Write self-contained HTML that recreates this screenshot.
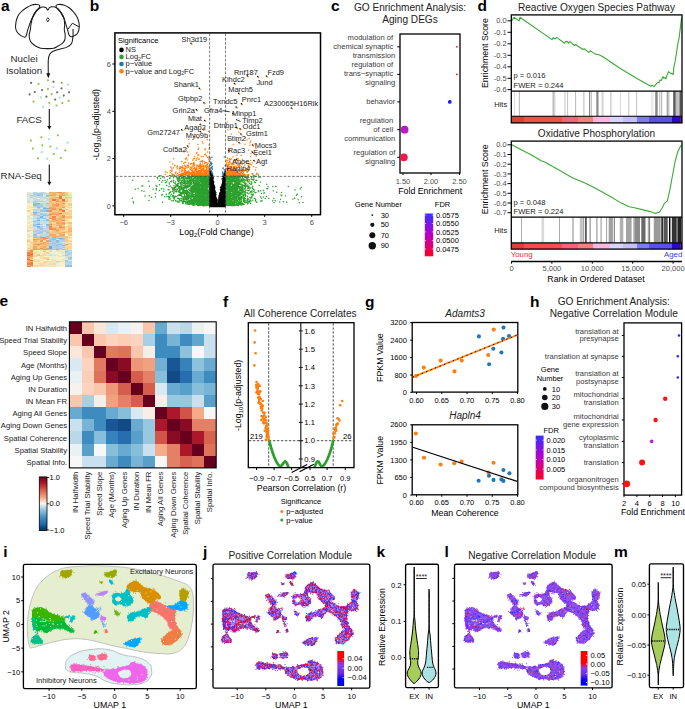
<!DOCTYPE html>
<html><head><meta charset="utf-8"><title>Figure</title>
<style>
html,body{margin:0;padding:0;background:#fff;width:685px;height:709px;overflow:hidden}
svg{display:block;font-family:"Liberation Sans", sans-serif}
</style></head><body>
<svg width="685" height="709" viewBox="0 0 685 709" font-family="Liberation Sans, sans-serif">
<rect width="685" height="709" fill="#fff"/>
<text x="1" y="10.8" font-size="15.5" fill="#000" font-weight="bold">a</text>
<path d="M39 4.9 C38.3 4.5 37.72 4.4 36.3 4.4 C34.88 4.4 33.88 4.24 31.9 4.9 C29.92 5.56 28.6 6.28 26.4 7.7 C24.2 9.12 22.64 10.26 20.9 12 C19.16 13.74 18.68 14.42 17.7 16.4 C16.72 18.38 16.4 19.48 16 21.9 C15.6 24.32 15.36 26.32 15.7 28.5 C16.04 30.68 16.66 31.38 17.7 32.8 C18.74 34.22 19.48 34.72 20.9 35.6 C22.32 36.48 23.7 37.32 24.8 37.2 C25.9 37.08 25.86 36.3 26.4 35 C26.94 33.7 26.84 32.88 27.5 30.7 C28.16 28.52 28.82 26.52 29.7 24.1 C30.58 21.68 30.8 20.8 31.9 18.6 C33 16.4 33.86 15.06 35.2 13.1 C36.54 11.14 37.68 10.14 38.6 8.8 C39.52 7.46 39.72 7.18 39.8 6.4 C39.88 5.62 39.7 5.3 39 4.9Z" stroke="#1a1a1a" stroke-width="1.05" fill="none"/>
<path d="M42.8 7.1 C44.1 7 45.1 7.08 46.1 7.7 C47.1 8.32 47.14 10.2 47.8 10.2 C48.46 10.2 48.52 8.38 49.4 7.7 C50.28 7.02 51.1 6.92 52.2 6.8 C53.3 6.68 53.7 6.6 54.9 7.1 C56.1 7.6 56.88 8.1 58.2 9.3 C59.52 10.5 60.4 11.46 61.5 13.1 C62.6 14.74 63.06 15.3 63.7 17.5 C64.34 19.7 64.58 21.68 64.7 24.1 C64.82 26.52 64.2 27.42 64.3 29.6 C64.4 31.78 65.12 32.92 65.2 35 C65.28 37.08 65.22 38.36 64.7 40 C64.18 41.64 63.9 42 62.6 43.2 C61.3 44.4 59.96 45 58.2 46 C56.44 47 56 47.68 53.8 48.2 C51.6 48.72 49.82 48.6 47.2 48.6 C44.58 48.6 42.88 48.62 40.7 48.2 C38.52 47.78 38.06 47.5 36.3 46.5 C34.54 45.5 33.22 44.62 31.9 43.2 C30.58 41.78 30.24 41.04 29.7 39.4 C29.16 37.76 29.08 36.96 29.2 35 C29.32 33.04 29.86 32.22 30.3 29.6 C30.74 26.98 30.76 24.76 31.4 21.9 C32.04 19.04 32.52 17.5 33.5 15.3 C34.48 13.1 35.08 12.32 36.3 10.9 C37.52 9.48 38.3 8.96 39.6 8.2 C40.9 7.44 41.5 7.2 42.8 7.1Z" stroke="#1a1a1a" stroke-width="1.05" fill="none"/>
<path d="M56 5.5 C56.32 4.74 57.16 4.52 58.7 4.4 C60.24 4.28 61.62 4.24 63.7 4.9 C65.78 5.56 67.14 6.28 69.1 7.7 C71.06 9.12 71.96 10.26 73.5 12 C75.04 13.74 75.74 14.42 76.8 16.4 C77.86 18.38 78.32 19.7 78.8 21.9 C79.28 24.1 79.38 25.22 79.2 27.4 C79.02 29.58 78.82 31.16 77.9 32.8 C76.98 34.44 75.92 34.82 74.6 35.6 C73.28 36.38 72.4 36.82 71.3 36.7 C70.2 36.58 69.86 36.42 69.1 35 C68.34 33.58 68.16 31.78 67.5 29.6 C66.84 27.42 66.56 26.52 65.8 24.1 C65.04 21.68 64.78 19.92 63.7 17.5 C62.62 15.08 61.72 13.86 60.4 12 C59.08 10.14 57.98 9.5 57.1 8.2 C56.22 6.9 55.68 6.26 56 5.5Z" stroke="#1a1a1a" stroke-width="1.05" fill="none"/>
<path d="M37.8 8.6 C37.27 9.33 35.5 11.43 34.6 13 C33.7 14.57 33 16.42 32.4 18 C31.8 19.58 31.23 21.75 31 22.5" stroke="#1a1a1a" stroke-width="0.7" fill="none"/>
<path d="M57.8 8 C58.3 8.77 59.97 11.1 60.8 12.6 C61.63 14.1 62.47 16.27 62.8 17" stroke="#1a1a1a" stroke-width="0.7" fill="none"/>
<path d="M67.9 29.3 L72.4 23.2 L79 26.9" stroke="#1a1a1a" stroke-width="1" fill="none"/>
<path d="M47.8 17.6 L49.2 19.7 L47.8 21.9 L46.4 19.7Z" stroke="#1a1a1a" stroke-width="0.9" fill="none"/>
<path d="M73 29 C73 30.18 73.23 33.7 73 36.1 C72.77 38.5 72.62 41.57 71.6 43.4 C70.58 45.23 68.95 46.12 66.9 47.1 C64.85 48.08 61.67 48.57 59.3 49.3 C56.93 50.03 54.32 50.63 52.7 51.5 C51.08 52.37 50.33 53.08 49.6 54.5 C48.87 55.92 48.52 56.67 48.3 60 C48.08 63.33 48.3 72.08 48.3 74.5" stroke="#1a1a1a" stroke-width="1.05" fill="none"/>
<path d="M46.3 73.2 L48.3 78.2 L50.3 73.2 Z" stroke="#111" stroke-width="0" fill="#111"/>
<text x="10.5" y="61.9" font-size="9.75" fill="#2a2a2a">Nuclei</text>
<text x="5.9" y="73.9" font-size="9.75" fill="#2a2a2a">Isolation</text>
<circle cx="31.14" cy="82.88" r="1.1" fill="#6b6b6b"/>
<circle cx="53.48" cy="81.83" r="1.1" fill="#6b6b6b"/>
<circle cx="61.5" cy="88.4" r="1.1" fill="#6b6b6b"/>
<circle cx="42.05" cy="90.11" r="1.1" fill="#6b6b6b"/>
<circle cx="34.82" cy="92.08" r="1.1" fill="#6b6b6b"/>
<circle cx="29.57" cy="94.44" r="1.1" fill="#6b6b6b"/>
<circle cx="57.16" cy="92.34" r="1.1" fill="#6b6b6b"/>
<circle cx="46.39" cy="96.68" r="1.1" fill="#6b6b6b"/>
<circle cx="63.73" cy="95.62" r="1.1" fill="#6b6b6b"/>
<circle cx="68.99" cy="92.34" r="1.1" fill="#6b6b6b"/>
<circle cx="55.19" cy="99.57" r="1.1" fill="#6b6b6b"/>
<circle cx="38.5" cy="83.8" r="1.1" fill="#8cc63f"/>
<circle cx="47.96" cy="80.25" r="1.1" fill="#8cc63f"/>
<circle cx="61.76" cy="82.88" r="1.1" fill="#8cc63f"/>
<circle cx="47.96" cy="89.05" r="1.1" fill="#8cc63f"/>
<circle cx="51.64" cy="94.05" r="1.1" fill="#8cc63f"/>
<circle cx="33.51" cy="101.54" r="1.1" fill="#8cc63f"/>
<circle cx="49.28" cy="102.85" r="1.1" fill="#8cc63f"/>
<circle cx="56.5" cy="105.48" r="1.1" fill="#8cc63f"/>
<circle cx="62.42" cy="103.11" r="1.1" fill="#8cc63f"/>
<circle cx="68.59" cy="100.88" r="1.1" fill="#8cc63f"/>
<circle cx="68.07" cy="84.72" r="1.1" fill="#9adfe8"/>
<circle cx="53.48" cy="87.08" r="1.1" fill="#9adfe8"/>
<circle cx="40.74" cy="97.33" r="1.1" fill="#9adfe8"/>
<circle cx="59.79" cy="97.6" r="1.1" fill="#9adfe8"/>
<circle cx="43.1" cy="106.79" r="1.1" fill="#9adfe8"/>
<circle cx="30.88" cy="140.57" r="1.1" fill="#8cc63f"/>
<circle cx="41.39" cy="137.28" r="1.1" fill="#8cc63f"/>
<circle cx="57.82" cy="135.31" r="1.1" fill="#8cc63f"/>
<circle cx="42.31" cy="145.3" r="1.1" fill="#8cc63f"/>
<circle cx="50.33" cy="146.48" r="1.1" fill="#8cc63f"/>
<circle cx="32.85" cy="148.58" r="1.1" fill="#8cc63f"/>
<circle cx="65.31" cy="150.42" r="1.1" fill="#8cc63f"/>
<circle cx="53.88" cy="154.1" r="1.1" fill="#8cc63f"/>
<circle cx="38.11" cy="158.3" r="1.1" fill="#8cc63f"/>
<circle cx="60.84" cy="157.78" r="1.1" fill="#8cc63f"/>
<circle cx="49.01" cy="139.25" r="1.1" fill="#9adfe8"/>
<circle cx="67.67" cy="142.67" r="1.1" fill="#9adfe8"/>
<circle cx="56.77" cy="148.45" r="1.1" fill="#9adfe8"/>
<circle cx="41.79" cy="152.13" r="1.1" fill="#9adfe8"/>
<circle cx="47.31" cy="158.7" r="1.1" fill="#9adfe8"/>
<line x1="49.3" y1="109" x2="49.3" y2="127.5" stroke="#111" stroke-width="1.1"/>
<path d="M47.3 126 L49.3 129.7 L51.3 126 Z" stroke="#111" stroke-width="0" fill="#111"/>
<line x1="49.3" y1="164.5" x2="49.3" y2="183.3" stroke="#111" stroke-width="1.1"/>
<path d="M47.3 181.8 L49.3 185.5 L51.3 181.8 Z" stroke="#111" stroke-width="0" fill="#111"/>
<text x="16.4" y="122.7" font-size="9.75" fill="#2a2a2a">FACS</text>
<text x="0.6" y="178.5" font-size="9.75" fill="#2a2a2a">RNA-Seq</text>
<g shape-rendering="crispEdges"><rect x="27.0" y="192.2" width="3.3" height="1.3" fill="#e1e8d5"/><rect x="30.2" y="192.2" width="3.3" height="1.3" fill="#fcf3c6"/><rect x="33.3" y="192.2" width="3.3" height="1.3" fill="#b2d3ea"/><rect x="36.5" y="192.2" width="3.3" height="1.3" fill="#e2e8d4"/><rect x="39.7" y="192.2" width="3.3" height="1.3" fill="#c2dbe3"/><rect x="42.9" y="192.2" width="3.3" height="1.3" fill="#c2dbe3"/><rect x="46.0" y="192.2" width="3.3" height="1.3" fill="#f8f2ca"/><rect x="49.2" y="192.2" width="3.3" height="1.3" fill="#f6b06b"/><rect x="52.4" y="192.2" width="3.3" height="1.3" fill="#f7b670"/><rect x="55.5" y="192.2" width="3.3" height="1.3" fill="#f29f5d"/><rect x="58.7" y="192.2" width="3.3" height="1.3" fill="#f09354"/><rect x="61.9" y="192.2" width="3.3" height="1.3" fill="#f7b570"/><rect x="65.1" y="192.2" width="3.3" height="1.3" fill="#f9ce8f"/><rect x="68.2" y="192.2" width="3.3" height="1.3" fill="#fbebba"/><rect x="27.0" y="193.4" width="3.3" height="1.3" fill="#d6e3da"/><rect x="30.2" y="193.4" width="3.3" height="1.3" fill="#d4e2db"/><rect x="33.3" y="193.4" width="3.3" height="1.3" fill="#a8cde6"/><rect x="36.5" y="193.4" width="3.3" height="1.3" fill="#a3cae5"/><rect x="39.7" y="193.4" width="3.3" height="1.3" fill="#a1c8e4"/><rect x="42.9" y="193.4" width="3.3" height="1.3" fill="#c3dbe3"/><rect x="46.0" y="193.4" width="3.3" height="1.3" fill="#c5dce2"/><rect x="49.2" y="193.4" width="3.3" height="1.3" fill="#f8bd77"/><rect x="52.4" y="193.4" width="3.3" height="1.3" fill="#f6b26d"/><rect x="55.5" y="193.4" width="3.3" height="1.3" fill="#f9d093"/><rect x="58.7" y="193.4" width="3.3" height="1.3" fill="#f7b771"/><rect x="61.9" y="193.4" width="3.3" height="1.3" fill="#f5ad69"/><rect x="65.1" y="193.4" width="3.3" height="1.3" fill="#f9ca8a"/><rect x="68.2" y="193.4" width="3.3" height="1.3" fill="#fbe8b7"/><rect x="27.0" y="194.6" width="3.3" height="1.3" fill="#d5e3da"/><rect x="30.2" y="194.6" width="3.3" height="1.3" fill="#add0e8"/><rect x="33.3" y="194.6" width="3.3" height="1.3" fill="#bcd8e6"/><rect x="36.5" y="194.6" width="3.3" height="1.3" fill="#92bedf"/><rect x="39.7" y="194.6" width="3.3" height="1.3" fill="#a6cbe6"/><rect x="42.9" y="194.6" width="3.3" height="1.3" fill="#e4ead3"/><rect x="46.0" y="194.6" width="3.3" height="1.3" fill="#92bedf"/><rect x="49.2" y="194.6" width="3.3" height="1.3" fill="#f29d5c"/><rect x="52.4" y="194.6" width="3.3" height="1.3" fill="#f5ab67"/><rect x="55.5" y="194.6" width="3.3" height="1.3" fill="#f8bd77"/><rect x="58.7" y="194.6" width="3.3" height="1.3" fill="#f4a764"/><rect x="61.9" y="194.6" width="3.3" height="1.3" fill="#f4a562"/><rect x="65.1" y="194.6" width="3.3" height="1.3" fill="#f9c582"/><rect x="68.2" y="194.6" width="3.3" height="1.3" fill="#fadda5"/><rect x="27.0" y="195.8" width="3.3" height="1.3" fill="#d0e1dc"/><rect x="30.2" y="195.8" width="3.3" height="1.3" fill="#d0e1dd"/><rect x="33.3" y="195.8" width="3.3" height="1.3" fill="#b0d2e9"/><rect x="36.5" y="195.8" width="3.3" height="1.3" fill="#c8dde0"/><rect x="39.7" y="195.8" width="3.3" height="1.3" fill="#b5d5e9"/><rect x="42.9" y="195.8" width="3.3" height="1.3" fill="#e3e9d3"/><rect x="46.0" y="195.8" width="3.3" height="1.3" fill="#9bc4e2"/><rect x="49.2" y="195.8" width="3.3" height="1.3" fill="#f9cc8c"/><rect x="52.4" y="195.8" width="3.3" height="1.3" fill="#f9c988"/><rect x="55.5" y="195.8" width="3.3" height="1.3" fill="#fadfa8"/><rect x="58.7" y="195.8" width="3.3" height="1.3" fill="#ec7d41"/><rect x="61.9" y="195.8" width="3.3" height="1.3" fill="#fbe5b1"/><rect x="65.1" y="195.8" width="3.3" height="1.3" fill="#fadea7"/><rect x="68.2" y="195.8" width="3.3" height="1.3" fill="#fbe2ae"/><rect x="27.0" y="197.0" width="3.3" height="1.3" fill="#fbebbb"/><rect x="30.2" y="197.0" width="3.3" height="1.3" fill="#aed0e8"/><rect x="33.3" y="197.0" width="3.3" height="1.3" fill="#e4e9d3"/><rect x="36.5" y="197.0" width="3.3" height="1.3" fill="#b7d6e8"/><rect x="39.7" y="197.0" width="3.3" height="1.3" fill="#c5dce2"/><rect x="42.9" y="197.0" width="3.3" height="1.3" fill="#b8d6e8"/><rect x="46.0" y="197.0" width="3.3" height="1.3" fill="#d9e5d8"/><rect x="49.2" y="197.0" width="3.3" height="1.3" fill="#f9cd8e"/><rect x="52.4" y="197.0" width="3.3" height="1.3" fill="#f7b771"/><rect x="55.5" y="197.0" width="3.3" height="1.3" fill="#f4aa66"/><rect x="58.7" y="197.0" width="3.3" height="1.3" fill="#ec7f42"/><rect x="61.9" y="197.0" width="3.3" height="1.3" fill="#fbe4b1"/><rect x="65.1" y="197.0" width="3.3" height="1.3" fill="#f8bb75"/><rect x="68.2" y="197.0" width="3.3" height="1.3" fill="#f9c785"/><rect x="27.0" y="198.2" width="3.3" height="1.3" fill="#d3e2db"/><rect x="30.2" y="198.2" width="3.3" height="1.3" fill="#e6ebd2"/><rect x="33.3" y="198.2" width="3.3" height="1.3" fill="#bdd9e5"/><rect x="36.5" y="198.2" width="3.3" height="1.3" fill="#f2f0cd"/><rect x="39.7" y="198.2" width="3.3" height="1.3" fill="#cee0dd"/><rect x="42.9" y="198.2" width="3.3" height="1.3" fill="#c4dbe2"/><rect x="46.0" y="198.2" width="3.3" height="1.3" fill="#c3dbe2"/><rect x="49.2" y="198.2" width="3.3" height="1.3" fill="#f7ba74"/><rect x="52.4" y="198.2" width="3.3" height="1.3" fill="#f7ba73"/><rect x="55.5" y="198.2" width="3.3" height="1.3" fill="#f9c886"/><rect x="58.7" y="198.2" width="3.3" height="1.3" fill="#eb783d"/><rect x="61.9" y="198.2" width="3.3" height="1.3" fill="#fadba3"/><rect x="65.1" y="198.2" width="3.3" height="1.3" fill="#c7dde1"/><rect x="68.2" y="198.2" width="3.3" height="1.3" fill="#fadba2"/><rect x="27.0" y="199.4" width="3.3" height="1.3" fill="#dbe6d7"/><rect x="30.2" y="199.4" width="3.3" height="1.3" fill="#e8ebd1"/><rect x="33.3" y="199.4" width="3.3" height="1.3" fill="#c4dbe2"/><rect x="36.5" y="199.4" width="3.3" height="1.3" fill="#c5dce2"/><rect x="39.7" y="199.4" width="3.3" height="1.3" fill="#d1e1dc"/><rect x="42.9" y="199.4" width="3.3" height="1.3" fill="#e1e8d5"/><rect x="46.0" y="199.4" width="3.3" height="1.3" fill="#bed9e5"/><rect x="49.2" y="199.4" width="3.3" height="1.3" fill="#f8be78"/><rect x="52.4" y="199.4" width="3.3" height="1.3" fill="#ec7c40"/><rect x="55.5" y="199.4" width="3.3" height="1.3" fill="#f4a562"/><rect x="58.7" y="199.4" width="3.3" height="1.3" fill="#f9ca89"/><rect x="61.9" y="199.4" width="3.3" height="1.3" fill="#ea7037"/><rect x="65.1" y="199.4" width="3.3" height="1.3" fill="#f9ca89"/><rect x="68.2" y="199.4" width="3.3" height="1.3" fill="#fbe4af"/><rect x="27.0" y="200.6" width="3.3" height="1.3" fill="#c2dae3"/><rect x="30.2" y="200.6" width="3.3" height="1.3" fill="#e6ead2"/><rect x="33.3" y="200.6" width="3.3" height="1.3" fill="#b4d5e9"/><rect x="36.5" y="200.6" width="3.3" height="1.3" fill="#afd1e9"/><rect x="39.7" y="200.6" width="3.3" height="1.3" fill="#a9cde7"/><rect x="42.9" y="200.6" width="3.3" height="1.3" fill="#bcd8e6"/><rect x="46.0" y="200.6" width="3.3" height="1.3" fill="#e4ead3"/><rect x="49.2" y="200.6" width="3.3" height="1.3" fill="#f8c07a"/><rect x="52.4" y="200.6" width="3.3" height="1.3" fill="#fad396"/><rect x="55.5" y="200.6" width="3.3" height="1.3" fill="#f3a15f"/><rect x="58.7" y="200.6" width="3.3" height="1.3" fill="#f6b26d"/><rect x="61.9" y="200.6" width="3.3" height="1.3" fill="#f29c5b"/><rect x="65.1" y="200.6" width="3.3" height="1.3" fill="#f8c27d"/><rect x="68.2" y="200.6" width="3.3" height="1.3" fill="#fadca4"/><rect x="27.0" y="201.8" width="3.3" height="1.3" fill="#dbe6d7"/><rect x="30.2" y="201.8" width="3.3" height="1.3" fill="#dee7d6"/><rect x="33.3" y="201.8" width="3.3" height="1.3" fill="#add0e8"/><rect x="36.5" y="201.8" width="3.3" height="1.3" fill="#dae5d8"/><rect x="39.7" y="201.8" width="3.3" height="1.3" fill="#ebedd0"/><rect x="42.9" y="201.8" width="3.3" height="1.3" fill="#cddfde"/><rect x="46.0" y="201.8" width="3.3" height="1.3" fill="#c3dbe3"/><rect x="49.2" y="201.8" width="3.3" height="1.3" fill="#f8bc75"/><rect x="52.4" y="201.8" width="3.3" height="1.3" fill="#f9c684"/><rect x="55.5" y="201.8" width="3.3" height="1.3" fill="#f9c784"/><rect x="58.7" y="201.8" width="3.3" height="1.3" fill="#f8bf79"/><rect x="61.9" y="201.8" width="3.3" height="1.3" fill="#f9c785"/><rect x="65.1" y="201.8" width="3.3" height="1.3" fill="#fbe1ab"/><rect x="68.2" y="201.8" width="3.3" height="1.3" fill="#f9f3c9"/><rect x="27.0" y="203.0" width="3.3" height="1.3" fill="#fbe8b6"/><rect x="30.2" y="203.0" width="3.3" height="1.3" fill="#fceebe"/><rect x="33.3" y="203.0" width="3.3" height="1.3" fill="#96c1e1"/><rect x="36.5" y="203.0" width="3.3" height="1.3" fill="#7aaed7"/><rect x="39.7" y="203.0" width="3.3" height="1.3" fill="#b3d4ea"/><rect x="42.9" y="203.0" width="3.3" height="1.3" fill="#cee0dd"/><rect x="46.0" y="203.0" width="3.3" height="1.3" fill="#a1c8e4"/><rect x="49.2" y="203.0" width="3.3" height="1.3" fill="#f8c17b"/><rect x="52.4" y="203.0" width="3.3" height="1.3" fill="#f8c27e"/><rect x="55.5" y="203.0" width="3.3" height="1.3" fill="#f3a15f"/><rect x="58.7" y="203.0" width="3.3" height="1.3" fill="#f9c987"/><rect x="61.9" y="203.0" width="3.3" height="1.3" fill="#f19857"/><rect x="65.1" y="203.0" width="3.3" height="1.3" fill="#fadea7"/><rect x="68.2" y="203.0" width="3.3" height="1.3" fill="#f9c785"/><rect x="27.0" y="204.2" width="3.3" height="1.3" fill="#fceebf"/><rect x="30.2" y="204.2" width="3.3" height="1.3" fill="#fcf3c6"/><rect x="33.3" y="204.2" width="3.3" height="1.3" fill="#8ebbde"/><rect x="36.5" y="204.2" width="3.3" height="1.3" fill="#a2c9e4"/><rect x="39.7" y="204.2" width="3.3" height="1.3" fill="#add0e8"/><rect x="42.9" y="204.2" width="3.3" height="1.3" fill="#c3dbe2"/><rect x="46.0" y="204.2" width="3.3" height="1.3" fill="#b9d7e7"/><rect x="49.2" y="204.2" width="3.3" height="1.3" fill="#f9c581"/><rect x="52.4" y="204.2" width="3.3" height="1.3" fill="#f4a865"/><rect x="55.5" y="204.2" width="3.3" height="1.3" fill="#f19857"/><rect x="58.7" y="204.2" width="3.3" height="1.3" fill="#f7b972"/><rect x="61.9" y="204.2" width="3.3" height="1.3" fill="#f8c07a"/><rect x="65.1" y="204.2" width="3.3" height="1.3" fill="#fbe0aa"/><rect x="68.2" y="204.2" width="3.3" height="1.3" fill="#f9c988"/><rect x="27.0" y="205.5" width="3.3" height="1.3" fill="#fbe4b1"/><rect x="30.2" y="205.5" width="3.3" height="1.3" fill="#ecedcf"/><rect x="33.3" y="205.5" width="3.3" height="1.3" fill="#bcd8e6"/><rect x="36.5" y="205.5" width="3.3" height="1.3" fill="#a7cce6"/><rect x="39.7" y="205.5" width="3.3" height="1.3" fill="#a0c7e4"/><rect x="42.9" y="205.5" width="3.3" height="1.3" fill="#d2e1dc"/><rect x="46.0" y="205.5" width="3.3" height="1.3" fill="#c7dde1"/><rect x="49.2" y="205.5" width="3.3" height="1.3" fill="#f9c582"/><rect x="52.4" y="205.5" width="3.3" height="1.3" fill="#f6b26d"/><rect x="55.5" y="205.5" width="3.3" height="1.3" fill="#f4a663"/><rect x="58.7" y="205.5" width="3.3" height="1.3" fill="#f8c380"/><rect x="61.9" y="205.5" width="3.3" height="1.3" fill="#f7b872"/><rect x="65.1" y="205.5" width="3.3" height="1.3" fill="#f9cc8c"/><rect x="68.2" y="205.5" width="3.3" height="1.3" fill="#f4f1cc"/><rect x="27.0" y="206.7" width="3.3" height="1.3" fill="#fbe8b7"/><rect x="30.2" y="206.7" width="3.3" height="1.3" fill="#fbe1ab"/><rect x="33.3" y="206.7" width="3.3" height="1.3" fill="#c0d9e4"/><rect x="36.5" y="206.7" width="3.3" height="1.3" fill="#92bedf"/><rect x="39.7" y="206.7" width="3.3" height="1.3" fill="#bbd7e6"/><rect x="42.9" y="206.7" width="3.3" height="1.3" fill="#9ec6e3"/><rect x="46.0" y="206.7" width="3.3" height="1.3" fill="#c1dae3"/><rect x="49.2" y="206.7" width="3.3" height="1.3" fill="#f3a360"/><rect x="52.4" y="206.7" width="3.3" height="1.3" fill="#f5ae6a"/><rect x="55.5" y="206.7" width="3.3" height="1.3" fill="#f9c683"/><rect x="58.7" y="206.7" width="3.3" height="1.3" fill="#f8c37e"/><rect x="61.9" y="206.7" width="3.3" height="1.3" fill="#f29b5a"/><rect x="65.1" y="206.7" width="3.3" height="1.3" fill="#fbe9b8"/><rect x="68.2" y="206.7" width="3.3" height="1.3" fill="#f9cf91"/><rect x="27.0" y="207.9" width="3.3" height="1.3" fill="#fbe5b2"/><rect x="30.2" y="207.9" width="3.3" height="1.3" fill="#fcf4c8"/><rect x="33.3" y="207.9" width="3.3" height="1.3" fill="#eeeece"/><rect x="36.5" y="207.9" width="3.3" height="1.3" fill="#b5d5e9"/><rect x="39.7" y="207.9" width="3.3" height="1.3" fill="#e8ebd1"/><rect x="42.9" y="207.9" width="3.3" height="1.3" fill="#81b2da"/><rect x="46.0" y="207.9" width="3.3" height="1.3" fill="#7bafd8"/><rect x="49.2" y="207.9" width="3.3" height="1.3" fill="#f19857"/><rect x="52.4" y="207.9" width="3.3" height="1.3" fill="#f3a260"/><rect x="55.5" y="207.9" width="3.3" height="1.3" fill="#f8bd77"/><rect x="58.7" y="207.9" width="3.3" height="1.3" fill="#f7b670"/><rect x="61.9" y="207.9" width="3.3" height="1.3" fill="#fadba3"/><rect x="65.1" y="207.9" width="3.3" height="1.3" fill="#fbe4b1"/><rect x="68.2" y="207.9" width="3.3" height="1.3" fill="#fbecbc"/><rect x="27.0" y="209.1" width="3.3" height="1.3" fill="#fcf3c6"/><rect x="30.2" y="209.1" width="3.3" height="1.3" fill="#fadea7"/><rect x="33.3" y="209.1" width="3.3" height="1.3" fill="#b4d5e9"/><rect x="36.5" y="209.1" width="3.3" height="1.3" fill="#bcd8e6"/><rect x="39.7" y="209.1" width="3.3" height="1.3" fill="#a2c8e4"/><rect x="42.9" y="209.1" width="3.3" height="1.3" fill="#a8cde6"/><rect x="46.0" y="209.1" width="3.3" height="1.3" fill="#b6d5e9"/><rect x="49.2" y="209.1" width="3.3" height="1.3" fill="#f8bd76"/><rect x="52.4" y="209.1" width="3.3" height="1.3" fill="#f08f50"/><rect x="55.5" y="209.1" width="3.3" height="1.3" fill="#f9c886"/><rect x="58.7" y="209.1" width="3.3" height="1.3" fill="#ec7d41"/><rect x="61.9" y="209.1" width="3.3" height="1.3" fill="#f9ca89"/><rect x="65.1" y="209.1" width="3.3" height="1.3" fill="#f9c581"/><rect x="68.2" y="209.1" width="3.3" height="1.3" fill="#fbe7b5"/><rect x="27.0" y="210.3" width="3.3" height="1.3" fill="#f9d092"/><rect x="30.2" y="210.3" width="3.3" height="1.3" fill="#fbecbc"/><rect x="33.3" y="210.3" width="3.3" height="1.3" fill="#bdd8e5"/><rect x="36.5" y="210.3" width="3.3" height="1.3" fill="#c5dce1"/><rect x="39.7" y="210.3" width="3.3" height="1.3" fill="#a3c9e5"/><rect x="42.9" y="210.3" width="3.3" height="1.3" fill="#99c3e1"/><rect x="46.0" y="210.3" width="3.3" height="1.3" fill="#81b2d9"/><rect x="49.2" y="210.3" width="3.3" height="1.3" fill="#f09151"/><rect x="52.4" y="210.3" width="3.3" height="1.3" fill="#f9c581"/><rect x="55.5" y="210.3" width="3.3" height="1.3" fill="#f8c37e"/><rect x="58.7" y="210.3" width="3.3" height="1.3" fill="#f7b570"/><rect x="61.9" y="210.3" width="3.3" height="1.3" fill="#ec7a3f"/><rect x="65.1" y="210.3" width="3.3" height="1.3" fill="#f6f1cb"/><rect x="68.2" y="210.3" width="3.3" height="1.3" fill="#fad498"/><rect x="27.0" y="211.5" width="3.3" height="1.3" fill="#f9f3c9"/><rect x="30.2" y="211.5" width="3.3" height="1.3" fill="#fbe5b1"/><rect x="33.3" y="211.5" width="3.3" height="1.3" fill="#86b6db"/><rect x="36.5" y="211.5" width="3.3" height="1.3" fill="#a9cde7"/><rect x="39.7" y="211.5" width="3.3" height="1.3" fill="#c8dde0"/><rect x="42.9" y="211.5" width="3.3" height="1.3" fill="#dae5d8"/><rect x="46.0" y="211.5" width="3.3" height="1.3" fill="#dbe5d8"/><rect x="49.2" y="211.5" width="3.3" height="1.3" fill="#f9c786"/><rect x="52.4" y="211.5" width="3.3" height="1.3" fill="#f6b36e"/><rect x="55.5" y="211.5" width="3.3" height="1.3" fill="#f7b872"/><rect x="58.7" y="211.5" width="3.3" height="1.3" fill="#f9d194"/><rect x="61.9" y="211.5" width="3.3" height="1.3" fill="#fad296"/><rect x="65.1" y="211.5" width="3.3" height="1.3" fill="#f9ca8a"/><rect x="68.2" y="211.5" width="3.3" height="1.3" fill="#fad498"/><rect x="27.0" y="212.7" width="3.3" height="1.3" fill="#fcf1c4"/><rect x="30.2" y="212.7" width="3.3" height="1.3" fill="#fad89e"/><rect x="33.3" y="212.7" width="3.3" height="1.3" fill="#9ac3e2"/><rect x="36.5" y="212.7" width="3.3" height="1.3" fill="#c0dae4"/><rect x="39.7" y="212.7" width="3.3" height="1.3" fill="#b3d4ea"/><rect x="42.9" y="212.7" width="3.3" height="1.3" fill="#b2d3ea"/><rect x="46.0" y="212.7" width="3.3" height="1.3" fill="#bfd9e4"/><rect x="49.2" y="212.7" width="3.3" height="1.3" fill="#f5af6b"/><rect x="52.4" y="212.7" width="3.3" height="1.3" fill="#f5ad68"/><rect x="55.5" y="212.7" width="3.3" height="1.3" fill="#f5ad68"/><rect x="58.7" y="212.7" width="3.3" height="1.3" fill="#ec7c40"/><rect x="61.9" y="212.7" width="3.3" height="1.3" fill="#f8bd76"/><rect x="65.1" y="212.7" width="3.3" height="1.3" fill="#f9c683"/><rect x="68.2" y="212.7" width="3.3" height="1.3" fill="#f9cd8e"/><rect x="27.0" y="213.9" width="3.3" height="1.3" fill="#fbf3c9"/><rect x="30.2" y="213.9" width="3.3" height="1.3" fill="#fbe0aa"/><rect x="33.3" y="213.9" width="3.3" height="1.3" fill="#9ec6e3"/><rect x="36.5" y="213.9" width="3.3" height="1.3" fill="#d0e1dd"/><rect x="39.7" y="213.9" width="3.3" height="1.3" fill="#9fc7e3"/><rect x="42.9" y="213.9" width="3.3" height="1.3" fill="#a7cce6"/><rect x="46.0" y="213.9" width="3.3" height="1.3" fill="#bbd8e6"/><rect x="49.2" y="213.9" width="3.3" height="1.3" fill="#f29c5b"/><rect x="52.4" y="213.9" width="3.3" height="1.3" fill="#f19a59"/><rect x="55.5" y="213.9" width="3.3" height="1.3" fill="#f29a59"/><rect x="58.7" y="213.9" width="3.3" height="1.3" fill="#f8ba74"/><rect x="61.9" y="213.9" width="3.3" height="1.3" fill="#f9c988"/><rect x="65.1" y="213.9" width="3.3" height="1.3" fill="#f9ce90"/><rect x="68.2" y="213.9" width="3.3" height="1.3" fill="#fad397"/><rect x="27.0" y="215.1" width="3.3" height="1.3" fill="#ecedd0"/><rect x="30.2" y="215.1" width="3.3" height="1.3" fill="#fadca5"/><rect x="33.3" y="215.1" width="3.3" height="1.3" fill="#b8d6e8"/><rect x="36.5" y="215.1" width="3.3" height="1.3" fill="#9bc4e2"/><rect x="39.7" y="215.1" width="3.3" height="1.3" fill="#bed9e5"/><rect x="42.9" y="215.1" width="3.3" height="1.3" fill="#92bedf"/><rect x="46.0" y="215.1" width="3.3" height="1.3" fill="#9dc5e3"/><rect x="49.2" y="215.1" width="3.3" height="1.3" fill="#f4a965"/><rect x="52.4" y="215.1" width="3.3" height="1.3" fill="#fad599"/><rect x="55.5" y="215.1" width="3.3" height="1.3" fill="#f6b36e"/><rect x="58.7" y="215.1" width="3.3" height="1.3" fill="#f9d193"/><rect x="61.9" y="215.1" width="3.3" height="1.3" fill="#f29f5d"/><rect x="65.1" y="215.1" width="3.3" height="1.3" fill="#fbe6b3"/><rect x="68.2" y="215.1" width="3.3" height="1.3" fill="#fad59a"/><rect x="27.0" y="216.3" width="3.3" height="1.3" fill="#dee7d6"/><rect x="30.2" y="216.3" width="3.3" height="1.3" fill="#fbf3c9"/><rect x="33.3" y="216.3" width="3.3" height="1.3" fill="#cbdedf"/><rect x="36.5" y="216.3" width="3.3" height="1.3" fill="#bed9e5"/><rect x="39.7" y="216.3" width="3.3" height="1.3" fill="#85b5db"/><rect x="42.9" y="216.3" width="3.3" height="1.3" fill="#cadedf"/><rect x="46.0" y="216.3" width="3.3" height="1.3" fill="#c9dee0"/><rect x="49.2" y="216.3" width="3.3" height="1.3" fill="#f8bf78"/><rect x="52.4" y="216.3" width="3.3" height="1.3" fill="#ef8b4d"/><rect x="55.5" y="216.3" width="3.3" height="1.3" fill="#f9cb8b"/><rect x="58.7" y="216.3" width="3.3" height="1.3" fill="#f7b771"/><rect x="61.9" y="216.3" width="3.3" height="1.3" fill="#f09454"/><rect x="65.1" y="216.3" width="3.3" height="1.3" fill="#f8c07a"/><rect x="68.2" y="216.3" width="3.3" height="1.3" fill="#f8c17b"/><rect x="27.0" y="217.5" width="3.3" height="1.3" fill="#e8ebd1"/><rect x="30.2" y="217.5" width="3.3" height="1.3" fill="#d7e4d9"/><rect x="33.3" y="217.5" width="3.3" height="1.3" fill="#bdd8e5"/><rect x="36.5" y="217.5" width="3.3" height="1.3" fill="#8fbcde"/><rect x="39.7" y="217.5" width="3.3" height="1.3" fill="#b0d2e9"/><rect x="42.9" y="217.5" width="3.3" height="1.3" fill="#93bfe0"/><rect x="46.0" y="217.5" width="3.3" height="1.3" fill="#cde0de"/><rect x="49.2" y="217.5" width="3.3" height="1.3" fill="#f29d5c"/><rect x="52.4" y="217.5" width="3.3" height="1.3" fill="#f3a461"/><rect x="55.5" y="217.5" width="3.3" height="1.3" fill="#f6b46e"/><rect x="58.7" y="217.5" width="3.3" height="1.3" fill="#f6b36e"/><rect x="61.9" y="217.5" width="3.3" height="1.3" fill="#f8bd76"/><rect x="65.1" y="217.5" width="3.3" height="1.3" fill="#f9d194"/><rect x="68.2" y="217.5" width="3.3" height="1.3" fill="#fad498"/><rect x="27.0" y="218.7" width="3.3" height="1.3" fill="#fbe6b3"/><rect x="30.2" y="218.7" width="3.3" height="1.3" fill="#f9f3ca"/><rect x="33.3" y="218.7" width="3.3" height="1.3" fill="#e2e9d4"/><rect x="36.5" y="218.7" width="3.3" height="1.3" fill="#bad7e7"/><rect x="39.7" y="218.7" width="3.3" height="1.3" fill="#d6e3da"/><rect x="42.9" y="218.7" width="3.3" height="1.3" fill="#d4e2db"/><rect x="46.0" y="218.7" width="3.3" height="1.3" fill="#9dc5e3"/><rect x="49.2" y="218.7" width="3.3" height="1.3" fill="#fad79d"/><rect x="52.4" y="218.7" width="3.3" height="1.3" fill="#f09051"/><rect x="55.5" y="218.7" width="3.3" height="1.3" fill="#f8bf79"/><rect x="58.7" y="218.7" width="3.3" height="1.3" fill="#f6b26d"/><rect x="61.9" y="218.7" width="3.3" height="1.3" fill="#f8bc75"/><rect x="65.1" y="218.7" width="3.3" height="1.3" fill="#fad69b"/><rect x="68.2" y="218.7" width="3.3" height="1.3" fill="#fcefc0"/><rect x="27.0" y="219.9" width="3.3" height="1.3" fill="#fcf0c3"/><rect x="30.2" y="219.9" width="3.3" height="1.3" fill="#f8f2ca"/><rect x="33.3" y="219.9" width="3.3" height="1.3" fill="#b3d4ea"/><rect x="36.5" y="219.9" width="3.3" height="1.3" fill="#79add7"/><rect x="39.7" y="219.9" width="3.3" height="1.3" fill="#c7dde1"/><rect x="42.9" y="219.9" width="3.3" height="1.3" fill="#bbd8e6"/><rect x="46.0" y="219.9" width="3.3" height="1.3" fill="#88b7dc"/><rect x="49.2" y="219.9" width="3.3" height="1.3" fill="#f9c582"/><rect x="52.4" y="219.9" width="3.3" height="1.3" fill="#f6b36e"/><rect x="55.5" y="219.9" width="3.3" height="1.3" fill="#f3a260"/><rect x="58.7" y="219.9" width="3.3" height="1.3" fill="#f6b46f"/><rect x="61.9" y="219.9" width="3.3" height="1.3" fill="#ef8c4e"/><rect x="65.1" y="219.9" width="3.3" height="1.3" fill="#fad89e"/><rect x="68.2" y="219.9" width="3.3" height="1.3" fill="#fbebbb"/><rect x="27.0" y="221.1" width="3.3" height="1.3" fill="#f3f0cc"/><rect x="30.2" y="221.1" width="3.3" height="1.3" fill="#fbe1ab"/><rect x="33.3" y="221.1" width="3.3" height="1.3" fill="#a4cae5"/><rect x="36.5" y="221.1" width="3.3" height="1.3" fill="#c8dde0"/><rect x="39.7" y="221.1" width="3.3" height="1.3" fill="#ccdfde"/><rect x="42.9" y="221.1" width="3.3" height="1.3" fill="#c2dae3"/><rect x="46.0" y="221.1" width="3.3" height="1.3" fill="#ccdfde"/><rect x="49.2" y="221.1" width="3.3" height="1.3" fill="#f7b973"/><rect x="52.4" y="221.1" width="3.3" height="1.3" fill="#f6b56f"/><rect x="55.5" y="221.1" width="3.3" height="1.3" fill="#f8c37e"/><rect x="58.7" y="221.1" width="3.3" height="1.3" fill="#f8c37f"/><rect x="61.9" y="221.1" width="3.3" height="1.3" fill="#fad599"/><rect x="65.1" y="221.1" width="3.3" height="1.3" fill="#fbe3ae"/><rect x="68.2" y="221.1" width="3.3" height="1.3" fill="#fbedbd"/><rect x="27.0" y="222.3" width="3.3" height="1.3" fill="#e0e8d5"/><rect x="30.2" y="222.3" width="3.3" height="1.3" fill="#fbecbc"/><rect x="33.3" y="222.3" width="3.3" height="1.3" fill="#bed9e5"/><rect x="36.5" y="222.3" width="3.3" height="1.3" fill="#abcee7"/><rect x="39.7" y="222.3" width="3.3" height="1.3" fill="#d5e3da"/><rect x="42.9" y="222.3" width="3.3" height="1.3" fill="#cadedf"/><rect x="46.0" y="222.3" width="3.3" height="1.3" fill="#cddfde"/><rect x="49.2" y="222.3" width="3.3" height="1.3" fill="#f8c37f"/><rect x="52.4" y="222.3" width="3.3" height="1.3" fill="#fad397"/><rect x="55.5" y="222.3" width="3.3" height="1.3" fill="#f3a461"/><rect x="58.7" y="222.3" width="3.3" height="1.3" fill="#f5ab67"/><rect x="61.9" y="222.3" width="3.3" height="1.3" fill="#f29f5d"/><rect x="65.1" y="222.3" width="3.3" height="1.3" fill="#f9d193"/><rect x="68.2" y="222.3" width="3.3" height="1.3" fill="#f8c17c"/><rect x="27.0" y="223.5" width="3.3" height="1.3" fill="#fcf4c8"/><rect x="30.2" y="223.5" width="3.3" height="1.3" fill="#fbe2ad"/><rect x="33.3" y="223.5" width="3.3" height="1.3" fill="#9dc5e3"/><rect x="36.5" y="223.5" width="3.3" height="1.3" fill="#7aaed7"/><rect x="39.7" y="223.5" width="3.3" height="1.3" fill="#a8cde6"/><rect x="42.9" y="223.5" width="3.3" height="1.3" fill="#d8e4d9"/><rect x="46.0" y="223.5" width="3.3" height="1.3" fill="#89b8dc"/><rect x="49.2" y="223.5" width="3.3" height="1.3" fill="#f19756"/><rect x="52.4" y="223.5" width="3.3" height="1.3" fill="#f9c481"/><rect x="55.5" y="223.5" width="3.3" height="1.3" fill="#f8bf79"/><rect x="58.7" y="223.5" width="3.3" height="1.3" fill="#f6b36e"/><rect x="61.9" y="223.5" width="3.3" height="1.3" fill="#f5ae6a"/><rect x="65.1" y="223.5" width="3.3" height="1.3" fill="#fbebba"/><rect x="68.2" y="223.5" width="3.3" height="1.3" fill="#fad69b"/><rect x="27.0" y="224.7" width="3.3" height="1.3" fill="#fbe6b3"/><rect x="30.2" y="224.7" width="3.3" height="1.3" fill="#fadfa9"/><rect x="33.3" y="224.7" width="3.3" height="1.3" fill="#a0c7e4"/><rect x="36.5" y="224.7" width="3.3" height="1.3" fill="#dae5d8"/><rect x="39.7" y="224.7" width="3.3" height="1.3" fill="#e2e9d4"/><rect x="42.9" y="224.7" width="3.3" height="1.3" fill="#efeece"/><rect x="46.0" y="224.7" width="3.3" height="1.3" fill="#92bedf"/><rect x="49.2" y="224.7" width="3.3" height="1.3" fill="#f5af6b"/><rect x="52.4" y="224.7" width="3.3" height="1.3" fill="#fadaa2"/><rect x="55.5" y="224.7" width="3.3" height="1.3" fill="#f4a966"/><rect x="58.7" y="224.7" width="3.3" height="1.3" fill="#f3a461"/><rect x="61.9" y="224.7" width="3.3" height="1.3" fill="#f9cd8e"/><rect x="65.1" y="224.7" width="3.3" height="1.3" fill="#f9f3c9"/><rect x="68.2" y="224.7" width="3.3" height="1.3" fill="#fad59a"/><rect x="27.0" y="225.9" width="3.3" height="1.3" fill="#fbe3ae"/><rect x="30.2" y="225.9" width="3.3" height="1.3" fill="#f0efce"/><rect x="33.3" y="225.9" width="3.3" height="1.3" fill="#add0e8"/><rect x="36.5" y="225.9" width="3.3" height="1.3" fill="#74aad5"/><rect x="39.7" y="225.9" width="3.3" height="1.3" fill="#a1c8e4"/><rect x="42.9" y="225.9" width="3.3" height="1.3" fill="#b7d6e8"/><rect x="46.0" y="225.9" width="3.3" height="1.3" fill="#b7d6e8"/><rect x="49.2" y="225.9" width="3.3" height="1.3" fill="#ee8649"/><rect x="52.4" y="225.9" width="3.3" height="1.3" fill="#f9cd8e"/><rect x="55.5" y="225.9" width="3.3" height="1.3" fill="#fbe2ad"/><rect x="58.7" y="225.9" width="3.3" height="1.3" fill="#f4a764"/><rect x="61.9" y="225.9" width="3.3" height="1.3" fill="#f8c37e"/><rect x="65.1" y="225.9" width="3.3" height="1.3" fill="#fad397"/><rect x="68.2" y="225.9" width="3.3" height="1.3" fill="#f9cb8b"/><rect x="27.0" y="227.1" width="3.3" height="1.3" fill="#fbe3af"/><rect x="30.2" y="227.1" width="3.3" height="1.3" fill="#fad498"/><rect x="33.3" y="227.1" width="3.3" height="1.3" fill="#d5e3da"/><rect x="36.5" y="227.1" width="3.3" height="1.3" fill="#8ab8dc"/><rect x="39.7" y="227.1" width="3.3" height="1.3" fill="#b1d3e9"/><rect x="42.9" y="227.1" width="3.3" height="1.3" fill="#e5ead3"/><rect x="46.0" y="227.1" width="3.3" height="1.3" fill="#a9cde7"/><rect x="49.2" y="227.1" width="3.3" height="1.3" fill="#f19858"/><rect x="52.4" y="227.1" width="3.3" height="1.3" fill="#f7b670"/><rect x="55.5" y="227.1" width="3.3" height="1.3" fill="#f8bf7a"/><rect x="58.7" y="227.1" width="3.3" height="1.3" fill="#ee8649"/><rect x="61.9" y="227.1" width="3.3" height="1.3" fill="#f19656"/><rect x="65.1" y="227.1" width="3.3" height="1.3" fill="#fadda6"/><rect x="68.2" y="227.1" width="3.3" height="1.3" fill="#f9c886"/><rect x="27.0" y="228.3" width="3.3" height="1.3" fill="#e3e9d4"/><rect x="30.2" y="228.3" width="3.3" height="1.3" fill="#f1efcd"/><rect x="33.3" y="228.3" width="3.3" height="1.3" fill="#c9dee0"/><rect x="36.5" y="228.3" width="3.3" height="1.3" fill="#b4d4ea"/><rect x="39.7" y="228.3" width="3.3" height="1.3" fill="#99c2e1"/><rect x="42.9" y="228.3" width="3.3" height="1.3" fill="#bed9e5"/><rect x="46.0" y="228.3" width="3.3" height="1.3" fill="#bbd8e6"/><rect x="49.2" y="228.3" width="3.3" height="1.3" fill="#ef8f50"/><rect x="52.4" y="228.3" width="3.3" height="1.3" fill="#f19858"/><rect x="55.5" y="228.3" width="3.3" height="1.3" fill="#f8bc76"/><rect x="58.7" y="228.3" width="3.3" height="1.3" fill="#f8c17b"/><rect x="61.9" y="228.3" width="3.3" height="1.3" fill="#f7b872"/><rect x="65.1" y="228.3" width="3.3" height="1.3" fill="#fadda5"/><rect x="68.2" y="228.3" width="3.3" height="1.3" fill="#f8bd76"/><rect x="27.0" y="229.5" width="3.3" height="1.3" fill="#f9d194"/><rect x="30.2" y="229.5" width="3.3" height="1.3" fill="#fad59a"/><rect x="33.3" y="229.5" width="3.3" height="1.3" fill="#bcd8e6"/><rect x="36.5" y="229.5" width="3.3" height="1.3" fill="#add0e8"/><rect x="39.7" y="229.5" width="3.3" height="1.3" fill="#c9dee0"/><rect x="42.9" y="229.5" width="3.3" height="1.3" fill="#aacee7"/><rect x="46.0" y="229.5" width="3.3" height="1.3" fill="#b9d7e7"/><rect x="49.2" y="229.5" width="3.3" height="1.3" fill="#fad79c"/><rect x="52.4" y="229.5" width="3.3" height="1.3" fill="#f8bf7a"/><rect x="55.5" y="229.5" width="3.3" height="1.3" fill="#ef8a4c"/><rect x="58.7" y="229.5" width="3.3" height="1.3" fill="#f9cb8a"/><rect x="61.9" y="229.5" width="3.3" height="1.3" fill="#fad397"/><rect x="65.1" y="229.5" width="3.3" height="1.3" fill="#fadca4"/><rect x="68.2" y="229.5" width="3.3" height="1.3" fill="#f7b771"/><rect x="27.0" y="230.8" width="3.3" height="1.3" fill="#fad397"/><rect x="30.2" y="230.8" width="3.3" height="1.3" fill="#faf3c9"/><rect x="33.3" y="230.8" width="3.3" height="1.3" fill="#a7cce6"/><rect x="36.5" y="230.8" width="3.3" height="1.3" fill="#b0d2e9"/><rect x="39.7" y="230.8" width="3.3" height="1.3" fill="#9cc4e2"/><rect x="42.9" y="230.8" width="3.3" height="1.3" fill="#b4d4ea"/><rect x="46.0" y="230.8" width="3.3" height="1.3" fill="#accfe8"/><rect x="49.2" y="230.8" width="3.3" height="1.3" fill="#fad397"/><rect x="52.4" y="230.8" width="3.3" height="1.3" fill="#f8c27e"/><rect x="55.5" y="230.8" width="3.3" height="1.3" fill="#f8bc75"/><rect x="58.7" y="230.8" width="3.3" height="1.3" fill="#f9c886"/><rect x="61.9" y="230.8" width="3.3" height="1.3" fill="#f9cc8d"/><rect x="65.1" y="230.8" width="3.3" height="1.3" fill="#f9c886"/><rect x="68.2" y="230.8" width="3.3" height="1.3" fill="#f6b16c"/><rect x="27.0" y="232.0" width="3.3" height="1.3" fill="#fcf4c8"/><rect x="30.2" y="232.0" width="3.3" height="1.3" fill="#f9f3ca"/><rect x="33.3" y="232.0" width="3.3" height="1.3" fill="#bfd9e4"/><rect x="36.5" y="232.0" width="3.3" height="1.3" fill="#add0e8"/><rect x="39.7" y="232.0" width="3.3" height="1.3" fill="#a0c7e4"/><rect x="42.9" y="232.0" width="3.3" height="1.3" fill="#d6e3da"/><rect x="46.0" y="232.0" width="3.3" height="1.3" fill="#99c3e2"/><rect x="49.2" y="232.0" width="3.3" height="1.3" fill="#f9c582"/><rect x="52.4" y="232.0" width="3.3" height="1.3" fill="#f9c480"/><rect x="55.5" y="232.0" width="3.3" height="1.3" fill="#f9c886"/><rect x="58.7" y="232.0" width="3.3" height="1.3" fill="#f8bb75"/><rect x="61.9" y="232.0" width="3.3" height="1.3" fill="#f3a461"/><rect x="65.1" y="232.0" width="3.3" height="1.3" fill="#f8be77"/><rect x="68.2" y="232.0" width="3.3" height="1.3" fill="#f9cc8d"/><rect x="27.0" y="233.2" width="3.3" height="1.3" fill="#fceebf"/><rect x="30.2" y="233.2" width="3.3" height="1.3" fill="#e4ead3"/><rect x="33.3" y="233.2" width="3.3" height="1.3" fill="#b1d3e9"/><rect x="36.5" y="233.2" width="3.3" height="1.3" fill="#9cc4e2"/><rect x="39.7" y="233.2" width="3.3" height="1.3" fill="#b1d2e9"/><rect x="42.9" y="233.2" width="3.3" height="1.3" fill="#cbdfdf"/><rect x="46.0" y="233.2" width="3.3" height="1.3" fill="#b8d6e8"/><rect x="49.2" y="233.2" width="3.3" height="1.3" fill="#f8bb74"/><rect x="52.4" y="233.2" width="3.3" height="1.3" fill="#f9c683"/><rect x="55.5" y="233.2" width="3.3" height="1.3" fill="#f7b56f"/><rect x="58.7" y="233.2" width="3.3" height="1.3" fill="#f6b16c"/><rect x="61.9" y="233.2" width="3.3" height="1.3" fill="#f9c988"/><rect x="65.1" y="233.2" width="3.3" height="1.3" fill="#fbe2ad"/><rect x="68.2" y="233.2" width="3.3" height="1.3" fill="#f9c886"/><rect x="27.0" y="234.4" width="3.3" height="1.3" fill="#dae5d8"/><rect x="30.2" y="234.4" width="3.3" height="1.3" fill="#f8f2ca"/><rect x="33.3" y="234.4" width="3.3" height="1.3" fill="#96c1e0"/><rect x="36.5" y="234.4" width="3.3" height="1.3" fill="#d9e5d8"/><rect x="39.7" y="234.4" width="3.3" height="1.3" fill="#c2dbe3"/><rect x="42.9" y="234.4" width="3.3" height="1.3" fill="#c0dae4"/><rect x="46.0" y="234.4" width="3.3" height="1.3" fill="#bdd8e5"/><rect x="49.2" y="234.4" width="3.3" height="1.3" fill="#f5ac68"/><rect x="52.4" y="234.4" width="3.3" height="1.3" fill="#f5ac68"/><rect x="55.5" y="234.4" width="3.3" height="1.3" fill="#fad59a"/><rect x="58.7" y="234.4" width="3.3" height="1.3" fill="#f5ad69"/><rect x="61.9" y="234.4" width="3.3" height="1.3" fill="#f3a361"/><rect x="65.1" y="234.4" width="3.3" height="1.3" fill="#fcf3c7"/><rect x="68.2" y="234.4" width="3.3" height="1.3" fill="#f9c988"/><rect x="27.0" y="235.6" width="3.3" height="1.3" fill="#fbe2ad"/><rect x="30.2" y="235.6" width="3.3" height="1.3" fill="#dee7d6"/><rect x="33.3" y="235.6" width="3.3" height="1.3" fill="#a7cce6"/><rect x="36.5" y="235.6" width="3.3" height="1.3" fill="#abcfe7"/><rect x="39.7" y="235.6" width="3.3" height="1.3" fill="#a6cbe6"/><rect x="42.9" y="235.6" width="3.3" height="1.3" fill="#bdd8e5"/><rect x="46.0" y="235.6" width="3.3" height="1.3" fill="#93bfe0"/><rect x="49.2" y="235.6" width="3.3" height="1.3" fill="#f8bb74"/><rect x="52.4" y="235.6" width="3.3" height="1.3" fill="#f5ae69"/><rect x="55.5" y="235.6" width="3.3" height="1.3" fill="#f29f5d"/><rect x="58.7" y="235.6" width="3.3" height="1.3" fill="#f6b36e"/><rect x="61.9" y="235.6" width="3.3" height="1.3" fill="#f8bb75"/><rect x="65.1" y="235.6" width="3.3" height="1.3" fill="#f9cc8c"/><rect x="68.2" y="235.6" width="3.3" height="1.3" fill="#efeece"/><rect x="27.0" y="236.8" width="3.3" height="1.3" fill="#fadda6"/><rect x="30.2" y="236.8" width="3.3" height="1.3" fill="#fcf4c8"/><rect x="33.3" y="236.8" width="3.3" height="1.3" fill="#94bfe0"/><rect x="36.5" y="236.8" width="3.3" height="1.3" fill="#a8cde6"/><rect x="39.7" y="236.8" width="3.3" height="1.3" fill="#85b5db"/><rect x="42.9" y="236.8" width="3.3" height="1.3" fill="#80b2d9"/><rect x="46.0" y="236.8" width="3.3" height="1.3" fill="#abcfe7"/><rect x="49.2" y="236.8" width="3.3" height="1.3" fill="#f9c683"/><rect x="52.4" y="236.8" width="3.3" height="1.3" fill="#f29f5d"/><rect x="55.5" y="236.8" width="3.3" height="1.3" fill="#f9c887"/><rect x="58.7" y="236.8" width="3.3" height="1.3" fill="#f9d092"/><rect x="61.9" y="236.8" width="3.3" height="1.3" fill="#f9c989"/><rect x="65.1" y="236.8" width="3.3" height="1.3" fill="#f7b670"/><rect x="68.2" y="236.8" width="3.3" height="1.3" fill="#fad89e"/><rect x="27.0" y="238.0" width="3.3" height="1.3" fill="#fcefc0"/><rect x="30.2" y="238.0" width="3.3" height="1.3" fill="#f9f3c9"/><rect x="33.3" y="238.0" width="3.3" height="1.3" fill="#f9cc8c"/><rect x="36.5" y="238.0" width="3.3" height="1.3" fill="#f7b973"/><rect x="39.7" y="238.0" width="3.3" height="1.3" fill="#f4a865"/><rect x="42.9" y="238.0" width="3.3" height="1.3" fill="#f09353"/><rect x="46.0" y="238.0" width="3.3" height="1.3" fill="#f09353"/><rect x="49.2" y="238.0" width="3.3" height="1.3" fill="#b2d4ea"/><rect x="52.4" y="238.0" width="3.3" height="1.3" fill="#9bc4e2"/><rect x="55.5" y="238.0" width="3.3" height="1.3" fill="#96c1e1"/><rect x="58.7" y="238.0" width="3.3" height="1.3" fill="#72a9d5"/><rect x="61.9" y="238.0" width="3.3" height="1.3" fill="#92bedf"/><rect x="65.1" y="238.0" width="3.3" height="1.3" fill="#f9d193"/><rect x="68.2" y="238.0" width="3.3" height="1.3" fill="#fadfa8"/><rect x="27.0" y="239.2" width="3.3" height="1.3" fill="#fadda5"/><rect x="30.2" y="239.2" width="3.3" height="1.3" fill="#f0efcd"/><rect x="33.3" y="239.2" width="3.3" height="1.3" fill="#f29a59"/><rect x="36.5" y="239.2" width="3.3" height="1.3" fill="#f5ac68"/><rect x="39.7" y="239.2" width="3.3" height="1.3" fill="#f6b36e"/><rect x="42.9" y="239.2" width="3.3" height="1.3" fill="#f4a965"/><rect x="46.0" y="239.2" width="3.3" height="1.3" fill="#fbe1ac"/><rect x="49.2" y="239.2" width="3.3" height="1.3" fill="#9ec6e3"/><rect x="52.4" y="239.2" width="3.3" height="1.3" fill="#95c0e0"/><rect x="55.5" y="239.2" width="3.3" height="1.3" fill="#d9e5d8"/><rect x="58.7" y="239.2" width="3.3" height="1.3" fill="#a7cce6"/><rect x="61.9" y="239.2" width="3.3" height="1.3" fill="#9fc7e3"/><rect x="65.1" y="239.2" width="3.3" height="1.3" fill="#f9c987"/><rect x="68.2" y="239.2" width="3.3" height="1.3" fill="#fbecbc"/><rect x="27.0" y="240.4" width="3.3" height="1.3" fill="#f9c988"/><rect x="30.2" y="240.4" width="3.3" height="1.3" fill="#fcf1c3"/><rect x="33.3" y="240.4" width="3.3" height="1.3" fill="#f7b670"/><rect x="36.5" y="240.4" width="3.3" height="1.3" fill="#f9c987"/><rect x="39.7" y="240.4" width="3.3" height="1.3" fill="#f29d5b"/><rect x="42.9" y="240.4" width="3.3" height="1.3" fill="#fbe0aa"/><rect x="46.0" y="240.4" width="3.3" height="1.3" fill="#f3a05e"/><rect x="49.2" y="240.4" width="3.3" height="1.3" fill="#97c1e1"/><rect x="52.4" y="240.4" width="3.3" height="1.3" fill="#add0e8"/><rect x="55.5" y="240.4" width="3.3" height="1.3" fill="#8fbcde"/><rect x="58.7" y="240.4" width="3.3" height="1.3" fill="#b1d3e9"/><rect x="61.9" y="240.4" width="3.3" height="1.3" fill="#b0d2e9"/><rect x="65.1" y="240.4" width="3.3" height="1.3" fill="#f9cd8f"/><rect x="68.2" y="240.4" width="3.3" height="1.3" fill="#fad396"/><rect x="27.0" y="241.6" width="3.3" height="1.3" fill="#fad89e"/><rect x="30.2" y="241.6" width="3.3" height="1.3" fill="#f9d194"/><rect x="33.3" y="241.6" width="3.3" height="1.3" fill="#f8bf79"/><rect x="36.5" y="241.6" width="3.3" height="1.3" fill="#f9ce8f"/><rect x="39.7" y="241.6" width="3.3" height="1.3" fill="#f9cf91"/><rect x="42.9" y="241.6" width="3.3" height="1.3" fill="#f3a15e"/><rect x="46.0" y="241.6" width="3.3" height="1.3" fill="#f8bf78"/><rect x="49.2" y="241.6" width="3.3" height="1.3" fill="#c6dce1"/><rect x="52.4" y="241.6" width="3.3" height="1.3" fill="#add0e8"/><rect x="55.5" y="241.6" width="3.3" height="1.3" fill="#93bedf"/><rect x="58.7" y="241.6" width="3.3" height="1.3" fill="#c2dbe3"/><rect x="61.9" y="241.6" width="3.3" height="1.3" fill="#dce6d7"/><rect x="65.1" y="241.6" width="3.3" height="1.3" fill="#fadca4"/><rect x="68.2" y="241.6" width="3.3" height="1.3" fill="#fbeab9"/><rect x="27.0" y="242.8" width="3.3" height="1.3" fill="#fcf3c7"/><rect x="30.2" y="242.8" width="3.3" height="1.3" fill="#fad397"/><rect x="33.3" y="242.8" width="3.3" height="1.3" fill="#f8c27e"/><rect x="36.5" y="242.8" width="3.3" height="1.3" fill="#f8bf79"/><rect x="39.7" y="242.8" width="3.3" height="1.3" fill="#f3a05e"/><rect x="42.9" y="242.8" width="3.3" height="1.3" fill="#f6b46f"/><rect x="46.0" y="242.8" width="3.3" height="1.3" fill="#f6b16c"/><rect x="49.2" y="242.8" width="3.3" height="1.3" fill="#9ec6e3"/><rect x="52.4" y="242.8" width="3.3" height="1.3" fill="#9cc4e2"/><rect x="55.5" y="242.8" width="3.3" height="1.3" fill="#b0d2e9"/><rect x="58.7" y="242.8" width="3.3" height="1.3" fill="#b0d2e9"/><rect x="61.9" y="242.8" width="3.3" height="1.3" fill="#bad7e7"/><rect x="65.1" y="242.8" width="3.3" height="1.3" fill="#fbe2ad"/><rect x="68.2" y="242.8" width="3.3" height="1.3" fill="#fad295"/><rect x="27.0" y="244.0" width="3.3" height="1.3" fill="#fadba2"/><rect x="30.2" y="244.0" width="3.3" height="1.3" fill="#fbe2ad"/><rect x="33.3" y="244.0" width="3.3" height="1.3" fill="#f3a461"/><rect x="36.5" y="244.0" width="3.3" height="1.3" fill="#f19756"/><rect x="39.7" y="244.0" width="3.3" height="1.3" fill="#f5af6a"/><rect x="42.9" y="244.0" width="3.3" height="1.3" fill="#f6b26d"/><rect x="46.0" y="244.0" width="3.3" height="1.3" fill="#f9ca89"/><rect x="49.2" y="244.0" width="3.3" height="1.3" fill="#b4d4ea"/><rect x="52.4" y="244.0" width="3.3" height="1.3" fill="#a9cee7"/><rect x="55.5" y="244.0" width="3.3" height="1.3" fill="#a4cae5"/><rect x="58.7" y="244.0" width="3.3" height="1.3" fill="#97c1e1"/><rect x="61.9" y="244.0" width="3.3" height="1.3" fill="#bad7e7"/><rect x="65.1" y="244.0" width="3.3" height="1.3" fill="#f29d5c"/><rect x="68.2" y="244.0" width="3.3" height="1.3" fill="#f9d093"/><rect x="27.0" y="245.2" width="3.3" height="1.3" fill="#fbe2ad"/><rect x="30.2" y="245.2" width="3.3" height="1.3" fill="#fadba3"/><rect x="33.3" y="245.2" width="3.3" height="1.3" fill="#f8c37e"/><rect x="36.5" y="245.2" width="3.3" height="1.3" fill="#f6b26d"/><rect x="39.7" y="245.2" width="3.3" height="1.3" fill="#f9c480"/><rect x="42.9" y="245.2" width="3.3" height="1.3" fill="#f8c380"/><rect x="46.0" y="245.2" width="3.3" height="1.3" fill="#f5ae69"/><rect x="49.2" y="245.2" width="3.3" height="1.3" fill="#b1d3e9"/><rect x="52.4" y="245.2" width="3.3" height="1.3" fill="#a9cde7"/><rect x="55.5" y="245.2" width="3.3" height="1.3" fill="#98c2e1"/><rect x="58.7" y="245.2" width="3.3" height="1.3" fill="#b2d3ea"/><rect x="61.9" y="245.2" width="3.3" height="1.3" fill="#91bddf"/><rect x="65.1" y="245.2" width="3.3" height="1.3" fill="#f9ca89"/><rect x="68.2" y="245.2" width="3.3" height="1.3" fill="#fadfa9"/><rect x="27.0" y="246.4" width="3.3" height="1.3" fill="#fbe3af"/><rect x="30.2" y="246.4" width="3.3" height="1.3" fill="#fad599"/><rect x="33.3" y="246.4" width="3.3" height="1.3" fill="#f3a461"/><rect x="36.5" y="246.4" width="3.3" height="1.3" fill="#f9d092"/><rect x="39.7" y="246.4" width="3.3" height="1.3" fill="#f8bc75"/><rect x="42.9" y="246.4" width="3.3" height="1.3" fill="#f4aa66"/><rect x="46.0" y="246.4" width="3.3" height="1.3" fill="#f9cc8c"/><rect x="49.2" y="246.4" width="3.3" height="1.3" fill="#70a7d4"/><rect x="52.4" y="246.4" width="3.3" height="1.3" fill="#aacee7"/><rect x="55.5" y="246.4" width="3.3" height="1.3" fill="#abcee7"/><rect x="58.7" y="246.4" width="3.3" height="1.3" fill="#b6d5e8"/><rect x="61.9" y="246.4" width="3.3" height="1.3" fill="#aed0e8"/><rect x="65.1" y="246.4" width="3.3" height="1.3" fill="#fad69b"/><rect x="68.2" y="246.4" width="3.3" height="1.3" fill="#fad498"/><rect x="27.0" y="247.6" width="3.3" height="1.3" fill="#f9ca89"/><rect x="30.2" y="247.6" width="3.3" height="1.3" fill="#fadaa2"/><rect x="33.3" y="247.6" width="3.3" height="1.3" fill="#f3a562"/><rect x="36.5" y="247.6" width="3.3" height="1.3" fill="#f8bf79"/><rect x="39.7" y="247.6" width="3.3" height="1.3" fill="#f09454"/><rect x="42.9" y="247.6" width="3.3" height="1.3" fill="#f7ba73"/><rect x="46.0" y="247.6" width="3.3" height="1.3" fill="#f29f5d"/><rect x="49.2" y="247.6" width="3.3" height="1.3" fill="#77acd6"/><rect x="52.4" y="247.6" width="3.3" height="1.3" fill="#b2d3ea"/><rect x="55.5" y="247.6" width="3.3" height="1.3" fill="#a9cde7"/><rect x="58.7" y="247.6" width="3.3" height="1.3" fill="#a0c7e4"/><rect x="61.9" y="247.6" width="3.3" height="1.3" fill="#ccdfdf"/><rect x="65.1" y="247.6" width="3.3" height="1.3" fill="#f9d194"/><rect x="68.2" y="247.6" width="3.3" height="1.3" fill="#fadba3"/><rect x="27.0" y="248.8" width="3.3" height="1.3" fill="#fcedbe"/><rect x="30.2" y="248.8" width="3.3" height="1.3" fill="#f8c07b"/><rect x="33.3" y="248.8" width="3.3" height="1.3" fill="#f29f5d"/><rect x="36.5" y="248.8" width="3.3" height="1.3" fill="#f3a15f"/><rect x="39.7" y="248.8" width="3.3" height="1.3" fill="#f9c683"/><rect x="42.9" y="248.8" width="3.3" height="1.3" fill="#ef8e4f"/><rect x="46.0" y="248.8" width="3.3" height="1.3" fill="#f3a461"/><rect x="49.2" y="248.8" width="3.3" height="1.3" fill="#a5cbe5"/><rect x="52.4" y="248.8" width="3.3" height="1.3" fill="#a9cde7"/><rect x="55.5" y="248.8" width="3.3" height="1.3" fill="#83b4da"/><rect x="58.7" y="248.8" width="3.3" height="1.3" fill="#bcd8e6"/><rect x="61.9" y="248.8" width="3.3" height="1.3" fill="#91bddf"/><rect x="65.1" y="248.8" width="3.3" height="1.3" fill="#f9c988"/><rect x="68.2" y="248.8" width="3.3" height="1.3" fill="#fbe1ab"/><rect x="27.0" y="250.0" width="3.3" height="1.3" fill="#f5ad69"/><rect x="30.2" y="250.0" width="3.3" height="1.3" fill="#f09051"/><rect x="33.3" y="250.0" width="3.3" height="1.3" fill="#fbe0aa"/><rect x="36.5" y="250.0" width="3.3" height="1.3" fill="#f6f1cb"/><rect x="39.7" y="250.0" width="3.3" height="1.3" fill="#fbe5b1"/><rect x="42.9" y="250.0" width="3.3" height="1.3" fill="#fad89f"/><rect x="46.0" y="250.0" width="3.3" height="1.3" fill="#fbe8b6"/><rect x="49.2" y="250.0" width="3.3" height="1.3" fill="#d3e2db"/><rect x="52.4" y="250.0" width="3.3" height="1.3" fill="#efeece"/><rect x="55.5" y="250.0" width="3.3" height="1.3" fill="#dde6d6"/><rect x="58.7" y="250.0" width="3.3" height="1.3" fill="#e6ebd2"/><rect x="61.9" y="250.0" width="3.3" height="1.3" fill="#f6f1cb"/><rect x="65.1" y="250.0" width="3.3" height="1.3" fill="#b2d3ea"/><rect x="68.2" y="250.0" width="3.3" height="1.3" fill="#aed1e8"/><rect x="27.0" y="251.2" width="3.3" height="1.3" fill="#f9c683"/><rect x="30.2" y="251.2" width="3.3" height="1.3" fill="#f09051"/><rect x="33.3" y="251.2" width="3.3" height="1.3" fill="#fbe7b5"/><rect x="36.5" y="251.2" width="3.3" height="1.3" fill="#fbebbb"/><rect x="39.7" y="251.2" width="3.3" height="1.3" fill="#fbe1ab"/><rect x="42.9" y="251.2" width="3.3" height="1.3" fill="#f8c07a"/><rect x="46.0" y="251.2" width="3.3" height="1.3" fill="#f2f0cd"/><rect x="49.2" y="251.2" width="3.3" height="1.3" fill="#cddfde"/><rect x="52.4" y="251.2" width="3.3" height="1.3" fill="#fbebbb"/><rect x="55.5" y="251.2" width="3.3" height="1.3" fill="#e1e8d4"/><rect x="58.7" y="251.2" width="3.3" height="1.3" fill="#fbe1ac"/><rect x="61.9" y="251.2" width="3.3" height="1.3" fill="#dce6d7"/><rect x="65.1" y="251.2" width="3.3" height="1.3" fill="#a7cce6"/><rect x="68.2" y="251.2" width="3.3" height="1.3" fill="#c8dde0"/><rect x="27.0" y="252.4" width="3.3" height="1.3" fill="#ed8044"/><rect x="30.2" y="252.4" width="3.3" height="1.3" fill="#ef8e4f"/><rect x="33.3" y="252.4" width="3.3" height="1.3" fill="#fadba3"/><rect x="36.5" y="252.4" width="3.3" height="1.3" fill="#fbe6b3"/><rect x="39.7" y="252.4" width="3.3" height="1.3" fill="#fbecbc"/><rect x="42.9" y="252.4" width="3.3" height="1.3" fill="#fbe7b5"/><rect x="46.0" y="252.4" width="3.3" height="1.3" fill="#f9cc8c"/><rect x="49.2" y="252.4" width="3.3" height="1.3" fill="#fbecbd"/><rect x="52.4" y="252.4" width="3.3" height="1.3" fill="#f5f1cb"/><rect x="55.5" y="252.4" width="3.3" height="1.3" fill="#fcf4c7"/><rect x="58.7" y="252.4" width="3.3" height="1.3" fill="#fbeab9"/><rect x="61.9" y="252.4" width="3.3" height="1.3" fill="#fbe3af"/><rect x="65.1" y="252.4" width="3.3" height="1.3" fill="#b0d2e9"/><rect x="68.2" y="252.4" width="3.3" height="1.3" fill="#b1d3e9"/><rect x="27.0" y="253.6" width="3.3" height="1.3" fill="#f09152"/><rect x="30.2" y="253.6" width="3.3" height="1.3" fill="#e8672f"/><rect x="33.3" y="253.6" width="3.3" height="1.3" fill="#fadfa9"/><rect x="36.5" y="253.6" width="3.3" height="1.3" fill="#f9cc8c"/><rect x="39.7" y="253.6" width="3.3" height="1.3" fill="#ecedcf"/><rect x="42.9" y="253.6" width="3.3" height="1.3" fill="#fad498"/><rect x="46.0" y="253.6" width="3.3" height="1.3" fill="#efeece"/><rect x="49.2" y="253.6" width="3.3" height="1.3" fill="#dae5d8"/><rect x="52.4" y="253.6" width="3.3" height="1.3" fill="#e5ead3"/><rect x="55.5" y="253.6" width="3.3" height="1.3" fill="#f1efcd"/><rect x="58.7" y="253.6" width="3.3" height="1.3" fill="#f9f3c9"/><rect x="61.9" y="253.6" width="3.3" height="1.3" fill="#fcf3c6"/><rect x="65.1" y="253.6" width="3.3" height="1.3" fill="#b9d6e7"/><rect x="68.2" y="253.6" width="3.3" height="1.3" fill="#a8cde6"/><rect x="27.0" y="254.9" width="3.3" height="1.3" fill="#e8672f"/><rect x="30.2" y="254.9" width="3.3" height="1.3" fill="#ef8f50"/><rect x="33.3" y="254.9" width="3.3" height="1.3" fill="#fad79d"/><rect x="36.5" y="254.9" width="3.3" height="1.3" fill="#f8be77"/><rect x="39.7" y="254.9" width="3.3" height="1.3" fill="#f9d295"/><rect x="42.9" y="254.9" width="3.3" height="1.3" fill="#fad99f"/><rect x="46.0" y="254.9" width="3.3" height="1.3" fill="#fadea6"/><rect x="49.2" y="254.9" width="3.3" height="1.3" fill="#fad79d"/><rect x="52.4" y="254.9" width="3.3" height="1.3" fill="#dae5d8"/><rect x="55.5" y="254.9" width="3.3" height="1.3" fill="#dde6d6"/><rect x="58.7" y="254.9" width="3.3" height="1.3" fill="#f8f2ca"/><rect x="61.9" y="254.9" width="3.3" height="1.3" fill="#c3dbe3"/><rect x="65.1" y="254.9" width="3.3" height="1.3" fill="#a0c7e4"/><rect x="68.2" y="254.9" width="3.3" height="1.3" fill="#cfe0dd"/><rect x="27.0" y="256.1" width="3.3" height="1.3" fill="#f4a865"/><rect x="30.2" y="256.1" width="3.3" height="1.3" fill="#f19656"/><rect x="33.3" y="256.1" width="3.3" height="1.3" fill="#fad79c"/><rect x="36.5" y="256.1" width="3.3" height="1.3" fill="#f5f1cb"/><rect x="39.7" y="256.1" width="3.3" height="1.3" fill="#fadea8"/><rect x="42.9" y="256.1" width="3.3" height="1.3" fill="#fcefc1"/><rect x="46.0" y="256.1" width="3.3" height="1.3" fill="#f7f2ca"/><rect x="49.2" y="256.1" width="3.3" height="1.3" fill="#eeeecf"/><rect x="52.4" y="256.1" width="3.3" height="1.3" fill="#f3f0cc"/><rect x="55.5" y="256.1" width="3.3" height="1.3" fill="#ebecd0"/><rect x="58.7" y="256.1" width="3.3" height="1.3" fill="#e4ead3"/><rect x="61.9" y="256.1" width="3.3" height="1.3" fill="#fbe8b6"/><rect x="65.1" y="256.1" width="3.3" height="1.3" fill="#cfe0dd"/><rect x="68.2" y="256.1" width="3.3" height="1.3" fill="#c1dae4"/><rect x="27.0" y="257.3" width="3.3" height="1.3" fill="#f29d5c"/><rect x="30.2" y="257.3" width="3.3" height="1.3" fill="#f7b973"/><rect x="33.3" y="257.3" width="3.3" height="1.3" fill="#fcf3c6"/><rect x="36.5" y="257.3" width="3.3" height="1.3" fill="#f7f2ca"/><rect x="39.7" y="257.3" width="3.3" height="1.3" fill="#fbe0aa"/><rect x="42.9" y="257.3" width="3.3" height="1.3" fill="#fad396"/><rect x="46.0" y="257.3" width="3.3" height="1.3" fill="#fad396"/><rect x="49.2" y="257.3" width="3.3" height="1.3" fill="#f4f1cc"/><rect x="52.4" y="257.3" width="3.3" height="1.3" fill="#ebedd0"/><rect x="55.5" y="257.3" width="3.3" height="1.3" fill="#f9f3c9"/><rect x="58.7" y="257.3" width="3.3" height="1.3" fill="#f8f2ca"/><rect x="61.9" y="257.3" width="3.3" height="1.3" fill="#fceec0"/><rect x="65.1" y="257.3" width="3.3" height="1.3" fill="#d7e4d9"/><rect x="68.2" y="257.3" width="3.3" height="1.3" fill="#a2c9e4"/><rect x="27.0" y="258.5" width="3.3" height="1.3" fill="#e8672f"/><rect x="30.2" y="258.5" width="3.3" height="1.3" fill="#f9ce8f"/><rect x="33.3" y="258.5" width="3.3" height="1.3" fill="#e6ead2"/><rect x="36.5" y="258.5" width="3.3" height="1.3" fill="#ededcf"/><rect x="39.7" y="258.5" width="3.3" height="1.3" fill="#f9f3ca"/><rect x="42.9" y="258.5" width="3.3" height="1.3" fill="#fbe8b6"/><rect x="46.0" y="258.5" width="3.3" height="1.3" fill="#f8bd76"/><rect x="49.2" y="258.5" width="3.3" height="1.3" fill="#e4e9d3"/><rect x="52.4" y="258.5" width="3.3" height="1.3" fill="#fbe5b2"/><rect x="55.5" y="258.5" width="3.3" height="1.3" fill="#ecedd0"/><rect x="58.7" y="258.5" width="3.3" height="1.3" fill="#f8f2ca"/><rect x="61.9" y="258.5" width="3.3" height="1.3" fill="#dce6d7"/><rect x="65.1" y="258.5" width="3.3" height="1.3" fill="#ebecd0"/><rect x="68.2" y="258.5" width="3.3" height="1.3" fill="#b2d3ea"/><rect x="27.0" y="259.7" width="3.3" height="1.3" fill="#f5ac68"/><rect x="30.2" y="259.7" width="3.3" height="1.3" fill="#e8672f"/><rect x="33.3" y="259.7" width="3.3" height="1.3" fill="#fbe0aa"/><rect x="36.5" y="259.7" width="3.3" height="1.3" fill="#fadca4"/><rect x="39.7" y="259.7" width="3.3" height="1.3" fill="#fbe6b3"/><rect x="42.9" y="259.7" width="3.3" height="1.3" fill="#fcf3c6"/><rect x="46.0" y="259.7" width="3.3" height="1.3" fill="#efeece"/><rect x="49.2" y="259.7" width="3.3" height="1.3" fill="#f0efcd"/><rect x="52.4" y="259.7" width="3.3" height="1.3" fill="#fadca4"/><rect x="55.5" y="259.7" width="3.3" height="1.3" fill="#fcf2c5"/><rect x="58.7" y="259.7" width="3.3" height="1.3" fill="#f0efcd"/><rect x="61.9" y="259.7" width="3.3" height="1.3" fill="#fbe6b3"/><rect x="65.1" y="259.7" width="3.3" height="1.3" fill="#9cc5e2"/><rect x="68.2" y="259.7" width="3.3" height="1.3" fill="#d5e3da"/><rect x="27.0" y="260.9" width="3.3" height="1.3" fill="#f29b5a"/><rect x="30.2" y="260.9" width="3.3" height="1.3" fill="#f6b36d"/><rect x="33.3" y="260.9" width="3.3" height="1.3" fill="#fad79d"/><rect x="36.5" y="260.9" width="3.3" height="1.3" fill="#fadaa1"/><rect x="39.7" y="260.9" width="3.3" height="1.3" fill="#fbeab9"/><rect x="42.9" y="260.9" width="3.3" height="1.3" fill="#fbe0a9"/><rect x="46.0" y="260.9" width="3.3" height="1.3" fill="#f9d194"/><rect x="49.2" y="260.9" width="3.3" height="1.3" fill="#fbdfa9"/><rect x="52.4" y="260.9" width="3.3" height="1.3" fill="#e0e8d5"/><rect x="55.5" y="260.9" width="3.3" height="1.3" fill="#b4d4ea"/><rect x="58.7" y="260.9" width="3.3" height="1.3" fill="#fad498"/><rect x="61.9" y="260.9" width="3.3" height="1.3" fill="#eeeece"/><rect x="65.1" y="260.9" width="3.3" height="1.3" fill="#a9cde7"/><rect x="68.2" y="260.9" width="3.3" height="1.3" fill="#bed9e5"/><rect x="27.0" y="262.1" width="3.3" height="1.3" fill="#f4a764"/><rect x="30.2" y="262.1" width="3.3" height="1.3" fill="#ec7c41"/><rect x="33.3" y="262.1" width="3.3" height="1.3" fill="#f3f0cc"/><rect x="36.5" y="262.1" width="3.3" height="1.3" fill="#fbe7b5"/><rect x="39.7" y="262.1" width="3.3" height="1.3" fill="#f3f0cc"/><rect x="42.9" y="262.1" width="3.3" height="1.3" fill="#f9c785"/><rect x="46.0" y="262.1" width="3.3" height="1.3" fill="#fbe8b6"/><rect x="49.2" y="262.1" width="3.3" height="1.3" fill="#fbe5b2"/><rect x="52.4" y="262.1" width="3.3" height="1.3" fill="#fbe0aa"/><rect x="55.5" y="262.1" width="3.3" height="1.3" fill="#d7e4d9"/><rect x="58.7" y="262.1" width="3.3" height="1.3" fill="#efeece"/><rect x="61.9" y="262.1" width="3.3" height="1.3" fill="#fbecbc"/><rect x="65.1" y="262.1" width="3.3" height="1.3" fill="#b4d5e9"/><rect x="68.2" y="262.1" width="3.3" height="1.3" fill="#b0d2e9"/><rect x="27.0" y="263.3" width="3.3" height="1.3" fill="#ed8245"/><rect x="30.2" y="263.3" width="3.3" height="1.3" fill="#ed8044"/><rect x="33.3" y="263.3" width="3.3" height="1.3" fill="#fceec0"/><rect x="36.5" y="263.3" width="3.3" height="1.3" fill="#fbe6b3"/><rect x="39.7" y="263.3" width="3.3" height="1.3" fill="#fad79e"/><rect x="42.9" y="263.3" width="3.3" height="1.3" fill="#fbe0aa"/><rect x="46.0" y="263.3" width="3.3" height="1.3" fill="#fbe1ab"/><rect x="49.2" y="263.3" width="3.3" height="1.3" fill="#d9e5d8"/><rect x="52.4" y="263.3" width="3.3" height="1.3" fill="#fad9a0"/><rect x="55.5" y="263.3" width="3.3" height="1.3" fill="#efeece"/><rect x="58.7" y="263.3" width="3.3" height="1.3" fill="#fbf4c8"/><rect x="61.9" y="263.3" width="3.3" height="1.3" fill="#f4f0cc"/><rect x="65.1" y="263.3" width="3.3" height="1.3" fill="#b5d5e9"/><rect x="68.2" y="263.3" width="3.3" height="1.3" fill="#b7d6e8"/><rect x="27.0" y="264.5" width="3.3" height="1.3" fill="#f6b36e"/><rect x="30.2" y="264.5" width="3.3" height="1.3" fill="#f09051"/><rect x="33.3" y="264.5" width="3.3" height="1.3" fill="#f9cd8e"/><rect x="36.5" y="264.5" width="3.3" height="1.3" fill="#fadca4"/><rect x="39.7" y="264.5" width="3.3" height="1.3" fill="#fad69b"/><rect x="42.9" y="264.5" width="3.3" height="1.3" fill="#fadba2"/><rect x="46.0" y="264.5" width="3.3" height="1.3" fill="#fbe3af"/><rect x="49.2" y="264.5" width="3.3" height="1.3" fill="#fad89e"/><rect x="52.4" y="264.5" width="3.3" height="1.3" fill="#e4e9d3"/><rect x="55.5" y="264.5" width="3.3" height="1.3" fill="#fcf2c6"/><rect x="58.7" y="264.5" width="3.3" height="1.3" fill="#fbe6b4"/><rect x="61.9" y="264.5" width="3.3" height="1.3" fill="#fcf4c8"/><rect x="65.1" y="264.5" width="3.3" height="1.3" fill="#99c3e1"/><rect x="68.2" y="264.5" width="3.3" height="1.3" fill="#98c2e1"/><rect x="27.0" y="265.7" width="3.3" height="1.3" fill="#e96d34"/><rect x="30.2" y="265.7" width="3.3" height="1.3" fill="#f7b671"/><rect x="33.3" y="265.7" width="3.3" height="1.3" fill="#fbe3af"/><rect x="36.5" y="265.7" width="3.3" height="1.3" fill="#fad9a0"/><rect x="39.7" y="265.7" width="3.3" height="1.3" fill="#fbe2ad"/><rect x="42.9" y="265.7" width="3.3" height="1.3" fill="#e6ead2"/><rect x="46.0" y="265.7" width="3.3" height="1.3" fill="#e3e9d4"/><rect x="49.2" y="265.7" width="3.3" height="1.3" fill="#f2f0cd"/><rect x="52.4" y="265.7" width="3.3" height="1.3" fill="#e2e8d4"/><rect x="55.5" y="265.7" width="3.3" height="1.3" fill="#eeeece"/><rect x="58.7" y="265.7" width="3.3" height="1.3" fill="#f7f2ca"/><rect x="61.9" y="265.7" width="3.3" height="1.3" fill="#f9f3ca"/><rect x="65.1" y="265.7" width="3.3" height="1.3" fill="#92bedf"/><rect x="68.2" y="265.7" width="3.3" height="1.3" fill="#8ab8dc"/></g>
<text x="89.8" y="10.8" font-size="15.5" fill="#000" font-weight="bold">b</text>
<path transform="scale(0.25)" d="M638 703h0m6 0h0m34-1h0m5 1h0m7-2h0m5 3h0m3-3h0m0 2h0m2 1h0m12-2h0m10 1h0m2-1h0m3 1h0m1 0h0m2-2h0m3 4h0m2 0h0m0 0h0m5 1h0m3-2h0m7-2h0m6 0h0m0 1h0m6 2h0m5 0h0m0-1h0m1 2h0m0-5h0m2 4h0m1-3h0m0 2h0m2 2h0m1-4h0m1 5h0m3-1h0m1-4h0m0 5h0m1 0h0m1-5h0m1 3h0m1-1h0m1-2h0m1-1h0m1 2h0m1 3h0m0-4h0m0 3h0m1-1h0m0-1h0m2-2h0m1 2h0m0 1h0m0 1h0m0 2h0m2 0h0m0-1h0m0 0h0m2-1h0m0-3h0m2 2h0m3-2h0m0 2h0m0 2h0m1-4h0m1 0h0m0 5h0m1-5h0m1 1h0m0-2h0m1 2h0m1 1h0m1-3h0m0 2h0m2 2h0m1 2h0m0-5h0m1 2h0m0 3h0m2-5h0m2 2h0m0 3h0m0 0h0m2-1h0m0-4h0m2 4h0m0-3h0m0 3h0m3-2h0m1-3h0m0 1h0m0 1h0m0 3h0m0-5h0m3 0h0m0 5h0m1-5h0m1 6h0m1-1h0m0-3h0m0 2h0m1-3h0m3 0h0m0-1h0m2 6h0m0-5h0m0 0h0m1 5h0m0-4h0m0 0h0m1 3h0m2-3h0m64-2h0m0 1h0m0 1h0m2-1h0m2 2h0m0 0h0m0-3h0m4 4h0m1 0h0m1 1h0m0-4h0m2 3h0m1-2h0m1 0h0m1-1h0m4 1h0m2 1h0m0-2h0m1 4h0m0-1h0m0 0h0m0-2h0m0-2h0m1 5h0m0-3h0m2 4h0m0-4h0m0 4h0m2-1h0m0-5h0m0 1h0m1-1h0m0 3h0m2 3h0m1 0h0m1-6h0m5 5h0m1-4h0m1 2h0m0 1h0m2 1h0m0-2h0m1 0h0m2-3h0m0 2h0m5 4h0m0-3h0m1 1h0m0-1h0m4-2h0m1 4h0m0-4h0m1 0h0m1-1h0m1 4h0m1-3h0m2 1h0m1 2h0m3-2h0m0 4h0m0-1h0m3-3h0m0 3h0m3-1h0m0 0h0m1-3h0m1 2h0m6 0h0m0 1h0m11-3h0m0 2h0m21 0h0m1-1h0m1 0h0m5 2h0m3 0h0m10-4h0m6 8h0m-6-1h0m-18 8h0m-1-7h0m0 10h0m-1 0h0m0-2h0m-3 2h0m-2-1h0m-2-8h0m0-2h0m-2 8h0m-10-6h0m0 8h0m-2-10h0m-2 1h0m-2 8h0m0-4h0m-2 1h0m-1-2h0m-1-3h0m-1 0h0m-1 1h0m-3-2h0m-1 2h0m0 8h0m-5-1h0m0-1h0m-2 0h0m-1-1h0m-1-7h0m0 2h0m-3 7h0m-1 1h0m-2-2h0m-3-6h0m0-2h0m-2 0h0m0 8h0m-1 0h0m-3-8h0m-1 8h0m-1 1h0m0-5h0m-1-4h0m-2 5h0m-1-5h0m0 2h0m-2 7h0m0-7h0m-1 0h0m-1 3h0m-1 4h0m0-7h0m-3 4h0m0-2h0m-2 1h0m0-3h0m-1 6h0m0 3h0m0-6h0m0-5h0m-1 0h0m0 7h0m0-5h0m0-1h0m0 0h0m-1 10h0m0-11h0m0 10h0m0-3h0m-2-7h0m0 4h0m0-2h0m0 3h0m0 4h0m-2 1h0m0-9h0m-1 5h0m0-6h0m0 3h0m-1 8h0m0-5h0m0-6h0m-1 11h0m-1-8h0m0 1h0m0 6h0m0 1h0m0-11h0m-1 11h0m0-9h0m0-1h0m-1 0h0m0 3h0m-1-3h0m-1 2h0m0 0h0m0-1h0m-1 1h0m0 5h0m-1-4h0m0-1h0m-1 6h0m-1-7h0m0 5h0m0 2h0m-1-2h0m0-1h0m-1 0h0m0-4h0m0 5h0m0-2h0m0 3h0m-1-6h0m-2 7h0m0-2h0m0-2h0m-1 6h0m0-8h0m0-3h0m0 2h0m0 5h0m-2 3h0m0-5h0m0 1h0m0 3h0m-1 0h0m0-1h0m0-2h0m-1 1h0m0-2h0m0-3h0m-2-2h0m0 10h0m-1-5h0m0 5h0m0-7h0m0 7h0m0-1h0m-2-8h0m0 1h0m0 5h0m0-2h0m-1 1h0m0 5h0m0-5h0m0 0h0m-1-6h0m0 11h0m-1-6h0m0-1h0m-63-3h0m0 6h0m0-4h0m0 3h0m0-5h0m-2 7h0m0-8h0m0 3h0m0 4h0m-1 2h0m-1 1h0m0-9h0m0 5h0m-1-4h0m0 5h0m0 0h0m0-2h0m0 3h0m-1-4h0m-1 5h0m0-5h0m-1 0h0m0 6h0m-1-4h0m0 1h0m0 0h0m-1-4h0m0 5h0m0-6h0m-1 0h0m-1 2h0m0 3h0m-1-2h0m-1-2h0m0 0h0m-1-1h0m0 5h0m0-3h0m0 4h0m-1-6h0m0 9h0m0-11h0m0 0h0m0 9h0m-2 1h0m-1-6h0m-1 4h0m0-1h0m0 4h0m-1-9h0m0 8h0m0-2h0m0 1h0m0 1h0m-1-8h0m-1 3h0m0 6h0m-1-7h0m0-3h0m-1 6h0m-1-4h0m-1-1h0m-1 4h0m0-2h0m-1 7h0m0-4h0m0-7h0m0 4h0m-1 3h0m0-5h0m-1 2h0m0 6h0m-1-1h0m0-4h0m-1 0h0m-1 5h0m0-1h0m0 2h0m-1-9h0m0 6h0m-1 1h0m0-6h0m-1 0h0m0 5h0m-1 3h0m-1-7h0m-1-4h0m-2 5h0m0-3h0m-2 4h0m0 1h0m0 1h0m0 1h0m0-7h0m-1 1h0m0 6h0m0-9h0m-2 4h0m0 3h0m-1 1h0m0 0h0m0-5h0m0 7h0m-1-2h0m0 0h0m0 0h0m-1 2h0m-1 1h0m0-3h0m-1-4h0m0 1h0m-1 0h0m-1-2h0m-3-2h0m-1 4h0m0 2h0m-3-1h0m0-1h0m0 1h0m-1-3h0m0 3h0m-1-6h0m-1 10h0m-1-3h0m0 2h0m-3-1h0m-3-6h0m-1 6h0m0 1h0m-2-4h0m0 1h0m0 2h0m-1-6h0m-1 1h0m-2 0h0m-2-3h0m0 9h0m-1-3h0m-2-4h0m0 5h0m-3-7h0m0 1h0m-1 0h0m0 4h0m-1 1h0m-1 0h0m-1-4h0m-2 7h0m-1-3h0m-3-3h0m-2 1h0m-2 2h0m-4-2h0m0-3h0m0 9h0m0-8h0m-2 6h0m-2-6h0m-4 4h0m-1-4h0m0-2h0m-4 8h0m-4-8h0m0 3h0m-1 5h0m-1-2h0m-2 4h0m-1-10h0m0 9h0m-1-1h0m-1-5h0m-2 1h0m-1 4h0m-3-8h0m-10 0h0m-1 3h0m-13 1h0m-3 2h0m-8 5h0m-13-8h0m-7-3h0m-8 6h0m-12 0h0m-1-4h0m-98 11h0m64 4h0m43-3h0m9 7h0m4-7h0m9-1h0m2 9h0m5-3h0m16 0h0m1 0h0m2-3h0m7 0h0m1-3h0m1 9h0m7-2h0m9-5h0m3 3h0m3-5h0m2 2h0m2 6h0m4-6h0m0 6h0m1-5h0m0 7h0m3-1h0m1-9h0m2 2h0m2 4h0m2 3h0m0-1h0m2-4h0m0-5h0m2 8h0m0 0h0m0-8h0m0 11h0m2 0h0m1-6h0m0 1h0m3-2h0m2 1h0m0-2h0m1-1h0m1 2h0m0-2h0m1 7h0m0-2h0m1-1h0m4-6h0m0 10h0m1-4h0m1 1h0m1-1h0m0-6h0m2 4h0m0-4h0m0 9h0m1-6h0m0 6h0m1-2h0m2 2h0m0-7h0m1 7h0m0-7h0m3-2h0m1 4h0m0-1h0m1-2h0m0 5h0m1-3h0m1 6h0m1-4h0m0-3h0m0 5h0m1 4h0m2-10h0m2 5h0m2 4h0m1-8h0m0 0h0m1-2h0m0 9h0m0 2h0m1-1h0m1-7h0m1 8h0m1 0h0m1-5h0m1 1h0m1-7h0m0 9h0m0-1h0m1-3h0m1-4h0m0 9h0m1-3h0m1 2h0m0 1h0m2-3h0m0 3h0m1-2h0m0-7h0m1 8h0m0 1h0m1-9h0m1 8h0m1-1h0m0 0h0m0-8h0m1 6h0m1-3h0m1 5h0m0-5h0m2 7h0m0-2h0m1 3h0m0-10h0m0 0h0m1 7h0m0-2h0m1-5h0m0 6h0m0-6h0m0 5h0m1-2h0m0 1h0m0-5h0m1 5h0m0-5h0m0 2h0m0 4h0m1 0h0m0 0h0m0-3h0m0-2h0m1 10h0m1-5h0m0-4h0m0 5h0m0-6h0m0 2h0m1 3h0m0 1h0m1 0h0m0 1h0m1-3h0m0-5h0m0 9h0m2-4h0m0 6h0m0-1h0m0-3h0m2 2h0m0-7h0m1-2h0m0 4h0m0 2h0m1 2h0m0-8h0m0 2h0m0 7h0m0-7h0m1 9h0m0-11h0m0 11h0m2 0h0m0 0h0m1-6h0m0-5h0m1 2h0m0 9h0m1-4h0m1 3h0m0-3h0m0 4h0m1-8h0m0-1h0m1 0h0m1 0h0m0 7h0m0-4h0m1 2h0m1 4h0m0-10h0m1 3h0m0-1h0m1 6h0m0-9h0m0 7h0m1-2h0m0 4h0m1-6h0m65 3h0m1-4h0m0 4h0m2-6h0m0 0h0m0 5h0m0 1h0m1-1h0m2 2h0m0 2h0m0-4h0m4-1h0m0 5h0m0 1h0m0-3h0m2 3h0m1-7h0m0-3h0m0 6h0m2 0h0m3 4h0m0-7h0m1 4h0m0-4h0m0 4h0m0 1h0m1-4h0m0 3h0m0 2h0m0-7h0m1 1h0m0 1h0m0-4h0m0 4h0m0 2h0m1 0h0m1 5h0m0-10h0m1 4h0m1-5h0m0 5h0m1-4h0m0 2h0m0 2h0m1-5h0m0 1h0m0 2h0m0 2h0m0-3h0m1 4h0m0 1h0m1-4h0m0 3h0m4-1h0m0-2h0m1 3h0m1 5h0m0-7h0m0 3h0m1-2h0m1 1h0m0-2h0m1-2h0m0 8h0m1-2h0m0-4h0m1 6h0m1 0h0m2-9h0m1 4h0m0 5h0m3-6h0m0-4h0m1 2h0m0 8h0m1-5h0m0 4h0m0-3h0m1 4h0m0-2h0m0-2h0m2-5h0m1 7h0m1 1h0m0-5h0m1 4h0m0-2h0m3-3h0m1 5h0m1-1h0m0-5h0m2 1h0m3-1h0m1 2h0m0-3h0m0 4h0m1-1h0m0-3h0m1 8h0m1 1h0m0-10h0m1 1h0m4 6h0m1 4h0m1-10h0m1-1h0m1 1h0m0 0h0m5-1h0m1 4h0m2-2h0m0-2h0m2 7h0m0 1h0m4-1h0m0 0h0m0 0h0m2-7h0m6 7h0m3 4h0m11-3h0m4 2h0m2-9h0m3 1h0m15 6h0m25 9h0m-30 5h0m-31-6h0m-3 1h0m-5-3h0m-7 6h0m-6 1h0m-1-7h0m0 7h0m-1-7h0m0 9h0m-2-4h0m-1 4h0m-1-9h0m0 7h0m-2 1h0m-5-2h0m-3 2h0m0 1h0m-2-6h0m-1 0h0m-5 1h0m-1-3h0m-3-1h0m0 1h0m0-2h0m-1 3h0m-1 2h0m0-1h0m-1-5h0m0 4h0m0 2h0m-1 2h0m0 2h0m0 0h0m0-10h0m-1 9h0m-1-6h0m-1 1h0m-1 0h0m-1 2h0m0-3h0m0 7h0m-2-1h0m0 2h0m-1-5h0m0 3h0m0-6h0m-1 5h0m-2 1h0m-1-5h0m0-1h0m0 4h0m-3 3h0m-1 1h0m0-6h0m0 0h0m-1 3h0m0-3h0m0 0h0m0 1h0m-3 2h0m-1-2h0m0 0h0m0 2h0m-1-1h0m-1 3h0m0-10h0m0 9h0m-1-8h0m0 4h0m0-5h0m-2 2h0m0 0h0m-2-1h0m-2 4h0m0-3h0m-1 5h0m0 1h0m0-8h0m0 6h0m-1-3h0m-1 5h0m0 2h0m-1-5h0m-1-1h0m0 3h0m-1 2h0m0-3h0m0 3h0m0-7h0m-1 3h0m0-2h0m0-3h0m-1 4h0m-1 0h0m-1 5h0m-1-8h0m0 3h0m0-4h0m0 7h0m0-5h0m-1 1h0m0 5h0m-1-6h0m-1 3h0m0-2h0m-1-2h0m0 2h0m-1 6h0m0-5h0m-1-2h0m0 5h0m0-2h0m-1-1h0m0-1h0m-1 8h0m0-9h0m0 3h0m0-1h0m-1 2h0m0-6h0m-1 9h0m-63-5h0m-1 3h0m0 0h0m0-7h0m-2 2h0m0 0h0m0 3h0m-1 2h0m0-4h0m-1 5h0m-1 3h0m0-5h0m0-6h0m-4 10h0m0-1h0m0-6h0m0-1h0m-1 4h0m0 4h0m0-6h0m0 0h0m-1-2h0m0 4h0m0-2h0m0 6h0m0-8h0m-1-1h0m0 2h0m0 4h0m0-1h0m-1-1h0m0 2h0m-2 2h0m0-9h0m0 11h0m0-8h0m-1 3h0m0-1h0m0 5h0m-2-6h0m-1-4h0m0 9h0m-1-2h0m0-7h0m0 8h0m0-1h0m-1 3h0m0-4h0m-1-4h0m0 4h0m0 0h0m-1 0h0m0-5h0m-1 1h0m0 2h0m0 4h0m0-7h0m-1 7h0m-1-2h0m0 2h0m-1-2h0m0-5h0m0-1h0m0 3h0m-1 4h0m0 3h0m-1-7h0m-1 8h0m0-4h0m0 4h0m0-3h0m-1-5h0m0 2h0m-1-1h0m0-4h0m0 8h0m0 1h0m-1-6h0m-1 3h0m0 0h0m-1 0h0m0 3h0m-1-3h0m-2 4h0m-1-5h0m0-1h0m-2 3h0m-1-5h0m0 3h0m-1 4h0m0-9h0m-1 3h0m0 8h0m-1-7h0m0 3h0m0-4h0m-1-2h0m0 8h0m-1-1h0m-1-3h0m0-5h0m-1 9h0m-1 1h0m0-4h0m0-6h0m-1 9h0m-1-4h0m-2 1h0m0 5h0m0-11h0m0 9h0m-1-2h0m-1 0h0m0-7h0m0 9h0m0-7h0m0-1h0m-1 7h0m0 1h0m-2-6h0m0 5h0m-2 1h0m0-5h0m-1-3h0m0 6h0m0-6h0m0 10h0m0-11h0m-1 1h0m-1 1h0m-2 8h0m0 1h0m-1 0h0m-3-8h0m-2-3h0m0 6h0m-1 0h0m0 0h0m-1 0h0m-2-5h0m-2 10h0m0-2h0m-2-4h0m0 4h0m-1-6h0m0 7h0m-3-7h0m-1 0h0m0 7h0m-2 0h0m0 0h0m0 1h0m-1-10h0m-1 1h0m0 3h0m-2-4h0m-2 10h0m0-10h0m-3 8h0m0-4h0m0 4h0m-1-8h0m0 3h0m0 6h0m0-8h0m-1 5h0m0 0h0m-3-6h0m-3 0h0m-1 8h0m-1-7h0m-1 6h0m-5-1h0m-1-6h0m-1 9h0m-2-6h0m-2-4h0m-6 1h0m-1 7h0m-2-5h0m-1 6h0m-2-1h0m-4 3h0m0-6h0m-4-3h0m0 0h0m-4 9h0m-19-11h0m0 4h0m-10 6h0m-29-3h0m-14 3h0m-72 13h0m16-11h0m3 0h0m27 1h0m27 9h0m3-8h0m18 9h0m1-1h0m29-7h0m6-3h0m5 6h0m5 2h0m4 3h0m1-5h0m2 2h0m3-3h0m0-3h0m0 4h0m1-5h0m2-1h0m4 2h0m0-1h0m4 8h0m1-8h0m2 3h0m1 3h0m0-4h0m3 7h0m0-7h0m2-2h0m1 4h0m1-4h0m1 4h0m1 5h0m3-5h0m0-1h0m1 2h0m3 1h0m3-7h0m1 10h0m0-5h0m0 4h0m1-8h0m1 1h0m1 0h0m1-1h0m1 6h0m1-3h0m1-4h0m0 1h0m2 8h0m1-5h0m0-3h0m1-1h0m1 1h0m1 5h0m1-3h0m1 1h0m3-1h0m2 0h0m1-3h0m3 10h0m1 0h0m1-1h0m0 2h0m1-6h0m0-4h0m1 6h0m1 4h0m1-6h0m1 4h0m1-6h0m0 6h0m1-1h0m1-4h0m0 6h0m1-10h0m0 7h0m1 2h0m0-3h0m0 1h0m2-2h0m1 6h0m0-10h0m1 7h0m0-5h0m0 4h0m1-7h0m0 0h0m0 3h0m1 6h0m1-4h0m0-2h0m1 7h0m0-4h0m1 1h0m0 1h0m1 1h0m0-5h0m1-3h0m0 9h0m0 1h0m1-3h0m0-7h0m1 4h0m0-1h0m0 6h0m1 0h0m0 0h0m1-4h0m1 2h0m0 2h0m0-5h0m2 3h0m0 3h0m0-2h0m0-6h0m1 4h0m0-5h0m1 9h0m0-4h0m0-2h0m1-3h0m0 8h0m1-5h0m0 5h0m1-4h0m0 0h0m1 3h0m1-4h0m0 6h0m0-11h0m1 9h0m1 1h0m0-10h0m0 8h0m0 0h0m1-6h0m1-1h0m1 9h0m1-9h0m0 1h0m1 6h0m0-5h0m0 0h0m1 3h0m1 4h0m0-2h0m2-8h0m0 4h0m0 3h0m0 0h0m1 1h0m1-6h0m0-1h0m0 3h0m1 6h0m1 1h0m0-8h0m0-3h0m1 2h0m1 4h0m0 0h0m0 1h0m1-5h0m1 9h0m1-7h0m0 7h0m2-1h0m0-8h0m1 2h0m0-4h0m1 0h0m0 0h0m1 11h0m0 0h0m0-8h0m0 8h0m0-1h0m0-8h0m1 0h0m0 0h0m1 8h0m0 0h0m0-8h0m0 6h0m1-8h0m0 11h0m1-9h0m0-2h0m1 5h0m0-5h0m1 8h0m0-3h0m1 3h0m1-7h0m2-1h0m0 3h0m1-3h0m0 2h0m1-2h0m2 8h0m0-8h0m0 0h0m0 3h0m1 0h0m0 5h0m0 3h0m0-8h0m0 0h0m0 7h0m1 0h0m63-2h0m0 2h0m2-10h0m0 6h0m1 1h0m0 0h0m0 3h0m0-10h0m0 9h0m1-8h0m0 9h0m1 0h0m1-7h0m0 1h0m0 5h0m0 1h0m1 0h0m1-5h0m0 0h0m0 6h0m0-11h0m1 8h0m1-7h0m0 1h0m0 4h0m0 0h0m0 5h0m1-1h0m0-9h0m1 8h0m1-6h0m1 3h0m0 5h0m0-7h0m0 0h0m1-3h0m0 3h0m0 6h0m1-8h0m0 2h0m0-4h0m0 7h0m1 0h0m1-1h0m0-5h0m0 1h0m0 8h0m1-5h0m1-4h0m0 3h0m1 7h0m1-1h0m1-2h0m0-2h0m1 3h0m0-1h0m0-2h0m1-3h0m1-2h0m0 6h0m0 3h0m1-4h0m1 2h0m0 2h0m0-10h0m2 3h0m1-2h0m0 9h0m1-5h0m0 2h0m0-5h0m1 5h0m0-1h0m2-6h0m1 10h0m0-10h0m0 4h0m2 5h0m1-2h0m0-7h0m0 3h0m2 3h0m1-4h0m0 5h0m0-1h0m0-2h0m1 6h0m0-6h0m0-4h0m2 5h0m1-2h0m1 6h0m0-3h0m0 0h0m1 5h0m1-7h0m1-4h0m1 3h0m0 6h0m0-8h0m1 4h0m2 1h0m1-3h0m0 3h0m1 1h0m0 2h0m1 2h0m0-5h0m0-4h0m1 4h0m1 0h0m2 0h0m1 1h0m0-6h0m2 6h0m1 4h0m1-5h0m1-5h0m1 0h0m0 1h0m1 9h0m0-2h0m1-4h0m0-5h0m6 0h0m1 3h0m1 7h0m1-5h0m0-3h0m2 1h0m2-2h0m6 0h0m0 3h0m1 6h0m2-2h0m1-5h0m1-2h0m2 7h0m4 0h0m7-2h0m2 4h0m0-9h0m56 9h0m4 0h0m1-8h0m19 0h0m12 0h0m1 0h0m49 0h0m52 4h0m-4 6h0m-21 4h0m-87 3h0m-39-1h0m-11 1h0m-8 4h0m-2-4h0m-15-3h0m-3 6h0m-2-8h0m-5 6h0m-3 1h0m-8-5h0m-4 3h0m-5-2h0m-7-5h0m0 7h0m0 0h0m-1 2h0m-2-9h0m-2 11h0m-2-1h0m-1-9h0m0 8h0m-1-5h0m0 3h0m0 2h0m0-5h0m-2 0h0m0 4h0m-3-1h0m0 3h0m-1-3h0m0-5h0m-4 0h0m0 0h0m0 4h0m-4-1h0m-3 6h0m0-2h0m0-1h0m-4-6h0m-1 9h0m-1-2h0m0-2h0m0-7h0m-1 1h0m0 9h0m0 1h0m-1-5h0m0 3h0m0-4h0m-1-5h0m-1 10h0m0-2h0m0-7h0m-1 9h0m0-2h0m-1 0h0m0-4h0m-1-2h0m0-2h0m-1 11h0m-1-7h0m-1 0h0m0 2h0m-1-3h0m-1 0h0m-1-3h0m-1 10h0m0-8h0m-1-2h0m-1 3h0m0 2h0m-1 2h0m-1-5h0m0 4h0m-1-4h0m0 1h0m0 4h0m-1-7h0m0 10h0m0-4h0m-1-1h0m0-4h0m0 4h0m0-5h0m-1 1h0m-1 7h0m0 0h0m-1 0h0m-1 3h0m0-4h0m-1 0h0m0-3h0m-1-1h0m0 3h0m0-2h0m-1 7h0m0-4h0m-1 0h0m0-7h0m-2 3h0m0 4h0m0-3h0m0 7h0m0-3h0m0-7h0m-1 10h0m0-2h0m0-9h0m-1 5h0m0 6h0m0-10h0m0 9h0m0-10h0m-1 9h0m-1-8h0m-1 6h0m-1 0h0m0 3h0m0-6h0m0 0h0m-1 3h0m0 4h0m0-2h0m0-1h0m0-8h0m-1 0h0m0 10h0m-1 0h0m-1-8h0m-2 8h0m-2-6h0m0 5h0m0-8h0m0 5h0m-1 4h0m0 1h0m-1-11h0m-63 11h0m0-3h0m0-7h0m-1 8h0m0-7h0m0 9h0m0-8h0m-1-3h0m-2 11h0m-1-3h0m0-2h0m0 4h0m-2-3h0m0 0h0m0-2h0m0 0h0m0-1h0m0 6h0m0-6h0m-1 2h0m0-2h0m0 1h0m-1-3h0m0 5h0m0-3h0m0 1h0m0-3h0m-1 4h0m0-4h0m-1 1h0m0 7h0m0-1h0m0-9h0m0 0h0m-1 3h0m0 4h0m-1-1h0m0 5h0m0-7h0m-1 1h0m0-2h0m0 1h0m-1 2h0m-1 5h0m0-7h0m-1 3h0m0-6h0m-1 0h0m-1 7h0m0-1h0m0-5h0m-1-2h0m-1 10h0m-1-5h0m0-1h0m-1 6h0m-1-10h0m0 11h0m-1-5h0m0-5h0m0-1h0m0 2h0m0-1h0m-1 1h0m0 5h0m0 0h0m-1-7h0m0 8h0m-1-2h0m-1-2h0m0 5h0m-1 2h0m0-8h0m0 6h0m-1 0h0m0 0h0m0-5h0m0 0h0m-1-1h0m-1 0h0m-1 5h0m0-2h0m-1-3h0m0 8h0m-1-2h0m-1-9h0m0 5h0m0-2h0m-1 6h0m0-6h0m0-2h0m-2 2h0m0-2h0m0 4h0m-1 0h0m0-3h0m0-1h0m-1 8h0m-1-6h0m0 7h0m-1-1h0m0-2h0m0-2h0m-1 3h0m-1 1h0m0-9h0m0 10h0m-1-4h0m0 3h0m-1-5h0m-1 5h0m0-3h0m-2-5h0m0 8h0m-1 2h0m0-10h0m-1 7h0m-1-5h0m-1 5h0m0-2h0m0-6h0m0 10h0m-2-2h0m-1 2h0m0-10h0m0 10h0m-1-7h0m0 8h0m0-3h0m0-7h0m0-1h0m-1 8h0m0 3h0m0-6h0m-1-3h0m0 8h0m-1-1h0m0-1h0m0-1h0m0-6h0m-1 9h0m0-6h0m0 5h0m-3 1h0m-1-8h0m0 8h0m0-4h0m-2-4h0m0-2h0m0 9h0m0 1h0m0-4h0m-1 4h0m0-3h0m-1 2h0m0-5h0m0 5h0m-1 2h0m0-8h0m-1 5h0m0-6h0m0 6h0m-1 0h0m0 2h0m-1-4h0m0 5h0m-1-11h0m-1 5h0m-1 5h0m-1-2h0m-3-4h0m-2-2h0m-1 0h0m-2 8h0m0 0h0m-1 0h0m-2-3h0m-2-3h0m0 7h0m0-2h0m-2 0h0m-1-2h0m-2-1h0m-2 5h0m-2-5h0m-1 0h0m-1-5h0m0 7h0m0-2h0m-1 3h0m0 1h0m-1 0h0m0-10h0m0 9h0m-2-7h0m-1 5h0m-2-7h0m-2 2h0m-3 1h0m-3 1h0m-3 3h0m0-6h0m-1 4h0m0 4h0m-1-3h0m-3 5h0m-3-9h0m-3 5h0m0 4h0m-1-11h0m0 11h0m-5-1h0m0-7h0m-1 2h0m0-3h0m-2 1h0m-2 1h0m-2-4h0m-2 0h0m0 10h0m-1-2h0m0 1h0m0 1h0m-1-10h0m0 1h0m-7 10h0m-7-8h0m-3-1h0m-18 7h0m0-9h0m-17 6h0m-13-3h0m0 1h0m-13-3h0m-36 8h0m-9-2h0m-26-6h0m81 17h0m28 5h0m15-2h0m11-1h0m1-4h0m2-2h0m4-2h0m2 9h0m10-3h0m0 0h0m1-4h0m20-2h0m2 10h0m0-8h0m2 7h0m2-9h0m0 7h0m0-1h0m1 0h0m2 0h0m1 5h0m0-8h0m1 2h0m1-3h0m3-2h0m0 7h0m1-6h0m1 0h0m0 3h0m2 2h0m1-4h0m2 9h0m1-7h0m1-1h0m1 2h0m2-1h0m1 3h0m0-6h0m3 0h0m2 8h0m0-4h0m0-5h0m3 8h0m1-7h0m1 10h0m3-6h0m1 6h0m1-9h0m1 4h0m2-6h0m3 8h0m0 3h0m1-4h0m1 1h0m1-5h0m1 6h0m0 2h0m2-9h0m0 1h0m1 5h0m1 2h0m0-8h0m0-2h0m3 10h0m1-10h0m3 11h0m1-6h0m0-5h0m1 11h0m1-6h0m1 3h0m0 0h0m1-4h0m2-1h0m0-1h0m1 0h0m1 1h0m0 0h0m1 0h0m0 6h0m0-9h0m1 2h0m1-1h0m1 9h0m0-10h0m0 5h0m0-2h0m1-3h0m0 7h0m0-7h0m0 3h0m1-3h0m1 4h0m0 5h0m1-7h0m0 1h0m1 1h0m0-3h0m1 3h0m0-3h0m1 2h0m0-1h0m1 3h0m0-1h0m0 2h0m1-1h0m0 6h0m1-7h0m1-2h0m0 9h0m0-10h0m0 8h0m1 1h0m0-6h0m1-4h0m2 9h0m1 0h0m0 0h0m1 0h0m0-6h0m1 2h0m0-2h0m1-1h0m0-2h0m0 8h0m1-1h0m0-1h0m0 2h0m1-8h0m0 1h0m1-1h0m0 10h0m1-6h0m1 4h0m0 2h0m0-5h0m0-4h0m1 5h0m1-5h0m0 8h0m0 0h0m0-6h0m0 3h0m1-4h0m0-2h0m1 9h0m0-1h0m0-2h0m1 4h0m0-2h0m0-1h0m0-6h0m1 9h0m0-8h0m1 0h0m0 9h0m1-4h0m1 3h0m0-7h0m1 4h0m0-5h0m0 3h0m0 0h0m0 3h0m1 3h0m0-11h0m1 1h0m0 2h0m1-3h0m0 3h0m0 5h0m0 2h0m0-5h0m1 6h0m1-6h0m0 3h0m1 2h0m1-5h0m0 0h0m1 3h0m0-6h0m0 9h0m0-2h0m0-1h0m1-6h0m1 1h0m1 8h0m0-2h0m1-8h0m0 7h0m63-4h0m1 3h0m0-2h0m1 4h0m0 1h0m0-4h0m1-4h0m1 3h0m1-5h0m0 9h0m1-8h0m0 3h0m1 2h0m0-6h0m0 0h0m0 7h0m0-3h0m1-4h0m1 1h0m1-1h0m0 9h0m1 0h0m0-5h0m1 1h0m0-3h0m0 7h0m1 2h0m1-11h0m2 8h0m0-8h0m1 7h0m1-7h0m0 4h0m0 6h0m0-10h0m1 5h0m0-1h0m0-2h0m0-1h0m1-1h0m0 9h0m0 2h0m0-1h0m0-9h0m1 8h0m0-6h0m0 6h0m0 2h0m2-5h0m1 5h0m3 0h0m1-6h0m0-1h0m1 0h0m0 7h0m0-5h0m0 1h0m1-7h0m0 9h0m0-5h0m1-3h0m0 9h0m0-8h0m0-2h0m1 7h0m1 2h0m1-4h0m1 2h0m0-2h0m2 3h0m0-3h0m0-1h0m0-3h0m1 7h0m0-5h0m1 7h0m0 0h0m0 0h0m0-5h0m1 5h0m1-3h0m0-1h0m2-4h0m0 0h0m0-2h0m1 5h0m0 2h0m1-7h0m1 5h0m1-2h0m0 7h0m0 1h0m1-1h0m3-7h0m0 8h0m0-6h0m1 5h0m1-5h0m3 2h0m0-6h0m0 3h0m1 0h0m0 2h0m0-1h0m1-5h0m1 7h0m0 3h0m0-3h0m1 0h0m0-3h0m0-3h0m1 7h0m1-1h0m1-4h0m2 5h0m2-5h0m2-1h0m3 7h0m0 1h0m3-9h0m1 8h0m0 0h0m0-1h0m2-1h0m2 2h0m0-7h0m0-1h0m7 4h0m0-2h0m6 4h0m5-4h0m1-2h0m0-1h0m4 9h0m3-7h0m1 9h0m5-3h0m6-6h0m4 0h0m22 4h0m10-1h0m1-2h0m50-2h0m19 1h0m63 7h0m17 10h0m-20-6h0m-44 3h0m-15-1h0m-3-3h0m-58 6h0m-13 2h0m-11-1h0m-30-6h0m-4 4h0m-1 4h0m-3 1h0m-5-1h0m-9-4h0m-7-3h0m-1 3h0m-6-5h0m-1 10h0m0-7h0m0 5h0m-1-7h0m-3-1h0m-2 7h0m0 2h0m0-1h0m-1 1h0m-3-1h0m0-3h0m-1 6h0m-4-7h0m-1-2h0m0 0h0m-1-2h0m0 9h0m-1-9h0m-2 0h0m-1 2h0m0 2h0m0 5h0m-2-6h0m0 3h0m0-5h0m0 7h0m-2 3h0m-1-11h0m-1 4h0m-1-2h0m0-2h0m-1 10h0m0 1h0m-1-1h0m-2-4h0m-2-6h0m-1 7h0m0 2h0m0 1h0m-1-9h0m-1 3h0m0 5h0m-1 2h0m-1-8h0m0 3h0m0-6h0m-3 3h0m0 4h0m0 1h0m-2 3h0m0-3h0m-1-6h0m-2 0h0m0-2h0m-1 4h0m-1 1h0m0-2h0m0 3h0m-1-5h0m-1 2h0m0 2h0m-1 0h0m0 1h0m0 1h0m-1-7h0m0 2h0m0-1h0m0 0h0m-1 4h0m-1-5h0m-1 1h0m0 10h0m-1-5h0m0 2h0m0-6h0m0 7h0m0-9h0m-1 1h0m0 3h0m-2 7h0m-1-1h0m-1-1h0m0-1h0m0-8h0m-1 2h0m-1-2h0m0 7h0m-2-2h0m0 5h0m0-3h0m0-5h0m-2 2h0m0 3h0m0-3h0m0-4h0m0 11h0m0-8h0m-2 7h0m0-5h0m-1 0h0m0-4h0m0-1h0m0 10h0m-1-1h0m0-6h0m0 6h0m-64-8h0m0-1h0m0 0h0m0 1h0m-1 6h0m0-5h0m-1 4h0m-1 1h0m0 1h0m0-2h0m-1-2h0m0 2h0m0-5h0m-1 3h0m0 6h0m0 1h0m-1-8h0m0-1h0m0 1h0m0-2h0m0 6h0m-1-1h0m0 3h0m-1-5h0m-1 5h0m0 2h0m-1-5h0m0-2h0m0 2h0m-1 2h0m-1 0h0m0 0h0m0-3h0m-1-5h0m0 8h0m0-3h0m-1 5h0m0-5h0m0 0h0m-1-2h0m-1 4h0m0-7h0m-1 10h0m0-1h0m-1 0h0m0-2h0m0 3h0m-1 0h0m-2-5h0m0 0h0m0-4h0m-1 7h0m0-5h0m0 8h0m-2 0h0m0-10h0m-1 0h0m-1 5h0m0-4h0m-1-2h0m0 7h0m0 1h0m-1-2h0m0-1h0m0-2h0m-1 1h0m0 7h0m-1-9h0m0 4h0m-1 0h0m-1 2h0m0-2h0m0 3h0m-2-6h0m0-3h0m0 3h0m-1-3h0m-1 8h0m-2 3h0m0-6h0m0 4h0m0-3h0m0 5h0m-1-11h0m0 4h0m-2-3h0m0 8h0m0-8h0m-2 10h0m0-1h0m0-7h0m0 8h0m0-10h0m0 4h0m-1 3h0m0 2h0m-2-7h0m0 0h0m0 0h0m0 7h0m-1-9h0m0 8h0m-1 1h0m0-5h0m-1 5h0m-1-8h0m-2 8h0m0 1h0m0-5h0m0-4h0m0 3h0m-1-5h0m0 11h0m0-6h0m0-2h0m-1 1h0m0-1h0m0 6h0m-1-4h0m0 6h0m-1-5h0m0-1h0m0-1h0m-1 4h0m0 1h0m0 1h0m0-9h0m-1 0h0m-1 7h0m-1 0h0m-1 2h0m-1-2h0m0-2h0m-2-6h0m-1 5h0m0 6h0m0-1h0m-1-6h0m0 0h0m-1 6h0m0-3h0m0 1h0m-1-8h0m-1 3h0m-1 2h0m0 1h0m-3-2h0m-1-4h0m0 7h0m-2 4h0m-1-6h0m-1-1h0m-2 6h0m-1 0h0m-1-5h0m0-5h0m-2 5h0m-2-4h0m0 7h0m-1 0h0m-1-3h0m0-3h0m-1 3h0m0 4h0m0-4h0m0 5h0m-1-5h0m-1-1h0m0 5h0m-2-8h0m-1 7h0m0 2h0m-1-2h0m0-2h0m-1 5h0m-1-4h0m-1 0h0m-2-5h0m-1 4h0m-3 3h0m-2-1h0m0 3h0m-5-6h0m0 1h0m-2-3h0m-5-2h0m-2 0h0m0-1h0m0 2h0m0 1h0m-4-3h0m-4 3h0m-6 3h0m-4-1h0m-2 4h0m-1-1h0m-4-5h0m-2-2h0m0 6h0m-2-3h0m-7 0h0m-5 6h0m-1-4h0m-2 1h0m-2-1h0m-6 0h0m-8 1h0m-12-7h0m-25 7h0m-16 2h0m-9-6h0m-17 1h0m-51 9h0m67 9h0m80-10h0m0 5h0m6-1h0m4 7h0m7-2h0m0 2h0m2-11h0m3 4h0m4 6h0m0 1h0m8-10h0m5 1h0m3 5h0m1-4h0m2 8h0m2-1h0m2-9h0m0 1h0m1 8h0m2-2h0m4-6h0m1 4h0m2 0h0m0 5h0m1-11h0m3 1h0m1 6h0m0 0h0m2-6h0m2 4h0m1-5h0m2 3h0m0 8h0m1-3h0m1-2h0m0-5h0m2 0h0m2 3h0m0 1h0m1 6h0m1-11h0m0 0h0m4 9h0m2-8h0m2 10h0m0-4h0m1 2h0m0-6h0m1 3h0m0-6h0m3 7h0m2 0h0m0 3h0m0 1h0m2-4h0m0 3h0m1-10h0m0 3h0m0 4h0m1-6h0m0 5h0m1 3h0m0-7h0m3-2h0m0 5h0m2 6h0m0-4h0m1 4h0m0-9h0m1 8h0m1-1h0m0 1h0m0-6h0m1 0h0m0 5h0m0-4h0m0 4h0m1-8h0m3 6h0m1-1h0m0 3h0m2-8h0m1 1h0m0 7h0m0-3h0m1 1h0m1-6h0m1 4h0m1-4h0m0 5h0m0-4h0m0 0h0m1 9h0m0-5h0m0 3h0m1-6h0m0 5h0m0-2h0m3-3h0m0-1h0m1 8h0m1-2h0m0-5h0m1 3h0m0-5h0m1-1h0m1 0h0m1 11h0m1-1h0m1-9h0m0 4h0m0 0h0m0 2h0m0-5h0m1 9h0m0-7h0m2-3h0m0 1h0m0 9h0m1-4h0m2 2h0m0-3h0m1-3h0m1 0h0m0 6h0m2-1h0m0-7h0m0 3h0m0 6h0m1-10h0m0 6h0m1 2h0m0-4h0m0 1h0m0 6h0m0-9h0m1 2h0m0-4h0m1 4h0m0 6h0m0-3h0m1 2h0m2-7h0m0 9h0m0-7h0m1 5h0m0-9h0m1 0h0m1 5h0m1-4h0m0 2h0m0 7h0m0-9h0m1 0h0m1 8h0m0-5h0m0 3h0m0-1h0m0-4h0m0 7h0m1-4h0m0 4h0m0-6h0m0 0h0m0 3h0m0 0h0m1 5h0m0 0h0m0-4h0m1 4h0m0-2h0m0-6h0m0 7h0m1-7h0m0-1h0m1-1h0m0 9h0m0-9h0m0 9h0m0-5h0m1-3h0m0 2h0m0 0h0m64-3h0m1 5h0m1 0h0m0 4h0m0-5h0m0 2h0m1 1h0m0-7h0m1 1h0m0 1h0m0 7h0m0-6h0m2 2h0m1-4h0m0 0h0m0 9h0m0-6h0m0-3h0m2 7h0m0-2h0m0-4h0m1 5h0m1-5h0m0 5h0m0-8h0m1 2h0m0 2h0m0-2h0m1 7h0m0-9h0m0 6h0m0-5h0m1 5h0m0 4h0m0-7h0m0 5h0m1 0h0m1 0h0m0 3h0m2-1h0m0-6h0m0-3h0m1 2h0m1-2h0m0 5h0m0 0h0m1 0h0m1 1h0m0 0h0m0-4h0m0 5h0m1 1h0m0 1h0m1-4h0m0-5h0m1 10h0m0-4h0m2-4h0m2-3h0m1 2h0m0 6h0m0-1h0m1-4h0m0-3h0m1 1h0m0 7h0m1-5h0m1-3h0m0 4h0m1 6h0m0-8h0m0 5h0m1 0h0m0-5h0m1 5h0m2 3h0m0-10h0m1 1h0m1 6h0m1 4h0m1-8h0m0 1h0m0 2h0m0 4h0m0 0h0m1-5h0m0-2h0m2-3h0m2 8h0m0 3h0m2-4h0m1-6h0m1 5h0m3-4h0m0 6h0m1-3h0m0-2h0m0 0h0m1 8h0m0-1h0m2-9h0m0 4h0m1-1h0m1-1h0m2 1h0m0 4h0m0-8h0m2 2h0m0-1h0m6 9h0m1-8h0m0 7h0m1 2h0m0-4h0m0-6h0m0 7h0m2-6h0m1-2h0m0 7h0m2 2h0m1-7h0m7 7h0m0-1h0m1 2h0m1-9h0m1 5h0m4-2h0m6 4h0m1 3h0m2-10h0m7 8h0m6-8h0m2 1h0m3 8h0m1-4h0m23-5h0m1 10h0m14-10h0m14 1h0m16 9h0m4-9h0m6 9h0m21-6h0m50-1h0m7-3h0m14 6h0m19 11h0m-15 1h0m-51-2h0m-12-2h0m-15 1h0m-23 2h0m-48-6h0m-5 0h0m0 0h0m-16 5h0m-3-3h0m-20-2h0m-2 10h0m0-1h0m-3-9h0m-2 5h0m0-5h0m-3 2h0m-2 7h0m0 0h0m-1-5h0m-1 5h0m-4-5h0m-2 3h0m-3-7h0m0 0h0m-1 0h0m-1 6h0m-2-3h0m0-1h0m-2 0h0m-3 9h0m-1-3h0m-1 2h0m-1-1h0m-2 2h0m-1-9h0m-2 6h0m0-7h0m0 8h0m-1-5h0m-1 5h0m-1-1h0m0 1h0m-1 1h0m0-3h0m-3-7h0m-1 6h0m0-2h0m-1 6h0m0-3h0m-2 0h0m0-3h0m-1 4h0m0 1h0m0-5h0m-4 7h0m0-8h0m0 0h0m-2 8h0m-1-5h0m0-2h0m-4 1h0m-2 5h0m-1 1h0m0-2h0m0-6h0m0 5h0m-1-8h0m0 9h0m-1-2h0m-1-4h0m0 3h0m0 1h0m-1 3h0m-1-2h0m0 1h0m-1-5h0m0 0h0m-1-1h0m0 6h0m0 1h0m-1-2h0m0-1h0m-2 3h0m0-7h0m0-2h0m-1 5h0m0 5h0m-1-6h0m-1 6h0m0-8h0m-1 0h0m-1 2h0m-1 4h0m0-4h0m-1 4h0m0 0h0m0-4h0m0-4h0m0 4h0m0 2h0m-1-1h0m0-1h0m-1 3h0m-1 1h0m-1-2h0m0-1h0m-1 5h0m0-2h0m-1-9h0m0 8h0m-1-2h0m-1 2h0m-1-4h0m0 4h0m-1 3h0m0-3h0m-1-3h0m0-5h0m-1 4h0m-1-3h0m0 7h0m0-4h0m-1 4h0m-1 0h0m-1-5h0m0 8h0m-1-11h0m0 3h0m0 7h0m-1-5h0m0-4h0m0 4h0m-1-3h0m-64-1h0m0 6h0m0 3h0m-1-4h0m0-5h0m0-1h0m-1 2h0m-1 4h0m-1 3h0m-1 0h0m0-2h0m-2-5h0m0 5h0m0-4h0m-1-2h0m0 4h0m0 0h0m0 4h0m-1-6h0m0 0h0m-1 5h0m-1-1h0m0 3h0m-1-7h0m-1-1h0m-1 7h0m0-4h0m0-2h0m0-2h0m-1 3h0m0-4h0m-1 11h0m0-11h0m-1 7h0m0-6h0m-1 8h0m0 0h0m0-4h0m-1-3h0m0 6h0m-2-8h0m0 3h0m0 2h0m0 6h0m0-4h0m-1 0h0m0-5h0m-1 1h0m0-1h0m0 4h0m-1-3h0m0 2h0m-1-1h0m0 3h0m-1 3h0m0-10h0m-1 0h0m0 4h0m-1-2h0m0-1h0m0 2h0m-2 6h0m0 1h0m-1 0h0m0 0h0m0-10h0m0 3h0m-1 3h0m0 0h0m-1-5h0m0-1h0m-1 6h0m0 0h0m-1-2h0m0 3h0m0 3h0m0 0h0m-2-3h0m0-4h0m-2 8h0m-1-10h0m-2 5h0m0 3h0m0-9h0m-1 10h0m0-9h0m-2 2h0m0 4h0m-1 3h0m0-10h0m0 3h0m-1-2h0m0 7h0m-1-8h0m0 3h0m-1 5h0m-1-7h0m0 7h0m-3-3h0m-1-5h0m0 8h0m-2 0h0m0-2h0m0 1h0m-1 1h0m-1-8h0m-1 5h0m-1-4h0m0 10h0m-1 0h0m-1 0h0m-1-8h0m-1 5h0m-1-1h0m-1 2h0m0-7h0m0 1h0m-1 7h0m-1-3h0m-1-3h0m0 3h0m-1-4h0m0-1h0m0 7h0m0 2h0m0 0h0m-1 0h0m0-5h0m-1-6h0m-1 8h0m-2-6h0m0 1h0m-2-2h0m0 7h0m-1-6h0m0 9h0m-1-11h0m0 10h0m-1-3h0m-1-1h0m0-1h0m-1 4h0m-2-7h0m-4 8h0m0-7h0m0 3h0m-2 1h0m0 0h0m0-3h0m-1 3h0m-3-1h0m-2 2h0m0-4h0m0-1h0m-4-1h0m0-2h0m-4 2h0m-1 5h0m-1 2h0m0 1h0m-1-6h0m0 6h0m-1-2h0m-3-8h0m-7 0h0m-4 4h0m-3 1h0m-2-5h0m-1 2h0m-6-2h0m-54 5h0m-116 3h0m-1-5h0m211 9h0m6 0h0m3 0h0m2 1h0m1 1h0m4-1h0m6-1h0m3 3h0m3-1h0m1 3h0m1-3h0m3 0h0m1 2h0m2 0h0m5-2h0m2-1h0m1 0h0m0 0h0m2 2h0m1 3h0m2-1h0m0-3h0m1 3h0m0 1h0m2 0h0m0 0h0m2-6h0m0 1h0m0 0h0m0 4h0m2-5h0m0 3h0m1-1h0m1 2h0m1-1h0m1 2h0m1-4h0m2 4h0m0-4h0m1 0h0m1 3h0m0-3h0m0 4h0m1-3h0m1 0h0m0 4h0m2-6h0m0 3h0m0 4h0m0-7h0m1 2h0m0 0h0m2 4h0m1 1h0m1 0h0m0-4h0m1-1h0m0 4h0m0 0h0m1-2h0m1-4h0m2 3h0m0-2h0m1 4h0m1 1h0m2-6h0m0 7h0m2-5h0m0 2h0m0-3h0m1-1h0m0 4h0m0-3h0m1 0h0m0-1h0m0 0h0m0 2h0m1 2h0m0-4h0m2 1h0m0 0h0m0 3h0m0 2h0m2-6h0m1 6h0m1-4h0m0-2h0m1 0h0m0 6h0m64 1h0m0-4h0m2-3h0m0 4h0m0-3h0m1 5h0m0-1h0m1-2h0m1-1h0m0 2h0m1 1h0m1-5h0m1 1h0m0 5h0m0-6h0m1 5h0m0-2h0m0-2h0m2 4h0m1 0h0m1-4h0m0 0h0m1 3h0m1 1h0m0 1h0m0-5h0m1 2h0m1 2h0m1-1h0m0-4h0m2 1h0m0 0h0m1 5h0m1 1h0m0-2h0m1-2h0m0 2h0m2-3h0m2 3h0m0-1h0m1-3h0m0 3h0m1 3h0m2-2h0m2-3h0m0 1h0m1-3h0m1 4h0m0 2h0m1-6h0m0 0h0m0 2h0m1-1h0m1 4h0m1-1h0m1 0h0m1 1h0m4-4h0m1 1h0m0 0h0m0-1h0m0 4h0m2 0h0m1-5h0m1 3h0m0 3h0m2-6h0m2 3h0m1-3h0m3 2h0m1 0h0m2 2h0m3 0h0m5-2h0m2-1h0m2 0h0m15-1h0" stroke="#2ca02c" stroke-width="6" stroke-linecap="round" fill="none"/>
<path transform="scale(0.25)" d="M909 488h0m-90 26h0m92 5h0m-77 6h0m-19-4h0m-37 16h0m147-1h0m30-7h0m26 22h0m-153-1h0m-45-2h0m-7-1h0m-21 11h0m37-5h0m38 6h0m83-4h0m75 5h0m8-6h0m7 11h0m-3 6h0m-52-6h0m-136 8h0m-3-6h0m-52 8h0m35 3h0m44 2h0m97-1h0m47-2h0m20 4h0m17-5h0m7 19h0m-106 4h0m-80-10h0m-2 6h0m-15 4h0m-1-4h0m-25-2h0m-3 5h0m-45-4h0m-11 14h0m9-6h0m6 6h0m37 2h0m42-2h0m164-7h0m13 4h0m0 0h0m16 5h0m2 9h0m-1 2h0m-20-6h0m-39 6h0m-13-8h0m-4 8h0m-123 2h0m-3-6h0m-3 1h0m-23 2h0m-5 0h0m-4-7h0m-33 6h0m-1 4h0m-59 12h0m47 0h0m3 0h0m2-3h0m28 3h0m1 0h0m3-1h0m0-8h0m12 4h0m15-4h0m7 0h0m18 2h0m1 2h0m5-3h0m0 7h0m73-2h0m1 1h0m8 2h0m14-7h0m16 6h0m54-8h0m23-2h0m-23 18h0m-19 5h0m-10-4h0m-2-1h0m-1-5h0m-17-1h0m-10 6h0m-6 0h0m-3 1h0m-9-7h0m-3 2h0m-3 8h0m0-6h0m-8 1h0m-3 0h0m-72 6h0m-1-8h0m-16 8h0m-7-2h0m-3 1h0m0-3h0m-4 2h0m-4 1h0m-4-10h0m0 0h0m-4 1h0m-8 5h0m0-6h0m-14 5h0m-23-1h0m-21 6h0m-2 1h0m-45 1h0m11 8h0m44-2h0m4-5h0m4 1h0m11 2h0m8 4h0m1-2h0m3 0h0m6 0h0m2 5h0m1-4h0m1-5h0m0-1h0m2 7h0m23-3h0m0 3h0m0-1h0m10-3h0m8 3h0m0-1h0m4-3h0m3-1h0m2 9h0m3-4h0m1-1h0m74 3h0m1-6h0m1-3h0m5 9h0m2 1h0m1-2h0m0-6h0m2 7h0m1-8h0m5 4h0m1 2h0m3 4h0m5-1h0m3-2h0m9-2h0m12 4h0m4-7h0m2 4h0m2-2h0m4 4h0m19-4h0m7 1h0m4 0h0m2 4h0m4 1h0m4-8h0m15 19h0m-10-4h0m-15 5h0m-4-5h0m-1-5h0m-1 0h0m-14 0h0m-4 7h0m-16-5h0m-1-1h0m0 6h0m-1 2h0m0-5h0m-1 1h0m-12-1h0m-5 0h0m-5 1h0m-8 1h0m-1 2h0m-1 2h0m-4-4h0m-4 4h0m-1-6h0m-1-2h0m-4-1h0m-5-2h0m0 1h0m-1 5h0m0 1h0m-65-5h0m-1 5h0m-1 3h0m-1 0h0m-2-2h0m0-1h0m-2-2h0m-2-5h0m-2 7h0m-3-6h0m-1 8h0m0 0h0m-2-1h0m-1-2h0m0-2h0m-5 7h0m-1-2h0m0-5h0m-1 3h0m-2-7h0m-1 5h0m0 0h0m-3 2h0m-3-2h0m0-5h0m-1 2h0m0 8h0m-2-1h0m-1-8h0m-1 0h0m0 9h0m-1-10h0m0 5h0m-1-2h0m-1-1h0m-2 2h0m-1 4h0m-1 0h0m0 1h0m-4-7h0m-1-2h0m-1 5h0m0-1h0m-8 6h0m0-7h0m-5 0h0m-2 4h0m0-4h0m-5 6h0m-2-1h0m-4 0h0m-7-7h0m0 7h0m-2-7h0m0 10h0m-2-7h0m0-1h0m-1-2h0m-4 8h0m-3-4h0m-1 0h0m-3-4h0m-8 3h0m0 5h0m-4 0h0m-4-2h0m-2 1h0m-10-4h0m-1 2h0m-1 3h0m-8-8h0m-1 2h0m-5 8h0m-10-2h0m-1-1h0m-2 14h0m7-2h0m0-5h0m21 0h0m8-2h0m1 0h0m0 7h0m4-7h0m4 7h0m3 0h0m2-7h0m5-1h0m1 5h0m0-2h0m1 4h0m1-5h0m2 7h0m3-9h0m16 3h0m1 4h0m3 1h0m3-6h0m1 9h0m2-3h0m4-5h0m5-2h0m1 2h0m0 2h0m1 5h0m1 1h0m0-6h0m0-2h0m3 8h0m0-6h0m0-4h0m1-1h0m0 3h0m1 4h0m1-1h0m7-4h0m0 7h0m5-7h0m1 8h0m1-10h0m2 5h0m1 3h0m1 3h0m2-5h0m1-2h0m0 6h0m0-8h0m0 6h0m1-6h0m2 5h0m1 3h0m2-8h0m0 4h0m0-3h0m2 5h0m4 3h0m2 0h0m0-2h0m0-1h0m2-4h0m2 7h0m0-4h0m1-6h0m1 0h0m3 8h0m2 2h0m0-5h0m1 4h0m0-7h0m1 7h0m1-4h0m1 0h0m0 4h0m0-6h0m0 5h0m1 1h0m65-4h0m2-4h0m0 4h0m1 2h0m1-5h0m1 5h0m2-1h0m1-2h0m2 6h0m0 0h0m3-2h0m2-7h0m0 9h0m0-5h0m1-3h0m2 3h0m1-2h0m1 4h0m0-3h0m1 2h0m2 2h0m4-1h0m0 3h0m1-9h0m2 5h0m2 1h0m0-6h0m1 9h0m2-3h0m0-3h0m1 4h0m4 1h0m1-6h0m1 4h0m1-8h0m7 6h0m5 4h0m1-2h0m6 1h0m5-2h0m1 2h0m2-4h0m3 4h0m1 2h0m7 0h0m0-8h0m5 1h0m4 6h0m28-2h0m5 13h0m-16 2h0m-3 0h0m-17-9h0m-2-2h0m-1 5h0m-14 0h0m0-2h0m-3 8h0m-2-1h0m0-9h0m-2 8h0m-1-3h0m-1-6h0m-1 1h0m0 7h0m0-8h0m-3 3h0m0-3h0m-2 3h0m0 7h0m-4 0h0m-1-6h0m-1 1h0m-1-2h0m0 8h0m-1-5h0m-2-2h0m-1 7h0m0-7h0m-1-3h0m-2 4h0m-3 6h0m0-3h0m0-8h0m0 0h0m0 7h0m-2-1h0m-2-5h0m-1 8h0m0-2h0m0-4h0m-1 2h0m0 5h0m0-8h0m0 7h0m-1-5h0m-1 7h0m0-6h0m-1 0h0m-1 3h0m-1-1h0m0-1h0m0-2h0m0 3h0m-1-5h0m-1 9h0m-1-5h0m0-4h0m0-2h0m0 10h0m-1-3h0m-1 1h0m-1-1h0m0-6h0m0 0h0m-3-1h0m0 9h0m-1-5h0m0 7h0m-1-10h0m-1 1h0m0 4h0m0 5h0m-1-4h0m0-1h0m-2 3h0m0-8h0m0-1h0m-1 1h0m-1 2h0m0 0h0m-2 8h0m0-1h0m0-4h0m-1-1h0m0 0h0m-1 3h0m0 0h0m0-7h0m0 8h0m-3-2h0m-2-3h0m-1-1h0m0 5h0m0 3h0m0 0h0m-1-5h0m0 0h0m-64 0h0m-1-4h0m0 2h0m-1 0h0m0 7h0m0 0h0m-1-8h0m0-1h0m-1 1h0m-3 5h0m0 0h0m0-3h0m0 2h0m0-2h0m0 6h0m-1-8h0m0 1h0m-1 5h0m-1-7h0m-1-2h0m0 10h0m0-6h0m0-3h0m-1 6h0m0-2h0m-1-5h0m0 2h0m-1 7h0m0-4h0m0-5h0m-1 11h0m-1-1h0m0-6h0m0 4h0m-1 1h0m-1 0h0m0-8h0m-1 5h0m-1 4h0m-1-5h0m0 3h0m0-6h0m0 8h0m-1-1h0m0-6h0m-1-1h0m-1 9h0m0 0h0m-1-2h0m-1 2h0m0 0h0m-3-4h0m0-1h0m-1 3h0m0-2h0m-1 1h0m0-3h0m-1-1h0m-1 2h0m-1 2h0m0-3h0m-1 4h0m0 2h0m-1-10h0m0 1h0m0 9h0m0-5h0m0 1h0m-1 1h0m-2 3h0m-1-7h0m0 2h0m-1-1h0m0-5h0m-1 6h0m-1-1h0m0 6h0m-2-4h0m-1-4h0m0-3h0m-1 1h0m-1 8h0m0 2h0m-1-2h0m-1-1h0m0-3h0m0 4h0m-1-4h0m-1-3h0m0 0h0m0 7h0m-2-5h0m0 1h0m-1 4h0m0-2h0m0-7h0m-1 10h0m0-3h0m-1 2h0m0 2h0m-1-2h0m0 0h0m-1-1h0m-1 2h0m-1-1h0m0-8h0m-1 2h0m-1 3h0m0 3h0m0 0h0m-1-5h0m0 1h0m-1-4h0m-3 7h0m0 0h0m-1-4h0m0-4h0m0 5h0m0 0h0m-1 5h0m0-8h0m-2 7h0m-1-3h0m-2 5h0m0-5h0m-1 3h0m0 2h0m0 0h0m-1-2h0m-2 2h0m-2-3h0m0-2h0m-1-2h0m0 1h0m-2 4h0m-1-8h0m0-1h0m-1 2h0m0 0h0m0 5h0m0-3h0m-1 2h0m-3 4h0m-1-7h0m-1 4h0m-4-7h0m0 6h0m0 1h0m0 0h0m-3 3h0m0-2h0m-2-4h0m0-4h0m-2 10h0m-1-2h0m-2 1h0m-1-9h0m-1 9h0m-2 2h0m-1 0h0m-2-1h0m-1 0h0m0-8h0m-8 3h0m-7 5h0m-6-6h0m-2 4h0m-1 1h0m-14-8h0m-6 5h0m-13 0h0m-6-3h0m-1 10h0m25-1h0m5 1h0m1 4h0m4-1h0m11 0h0m8-1h0m4 1h0m2-1h0m1-1h0m5 0h0m5 1h0m3-2h0m2 3h0m2-1h0m3 1h0m0-3h0m1 3h0m0-4h0m1 0h0m2 0h0m0 3h0m8-1h0m4-2h0m1 2h0m6-2h0m0 3h0m2-2h0m1 0h0m4 2h0m1 1h0m0-3h0m0 3h0m1-2h0m1 0h0m1-2h0m0 3h0m1-3h0m0 4h0m0 0h0m0-3h0m3 1h0m0-2h0m1 1h0m1-1h0m1 4h0m1-2h0m0 1h0m2 1h0m0-3h0m0 3h0m1-2h0m0 1h0m1 2h0m1-3h0m1 0h0m2 1h0m1-2h0m1 3h0m2-1h0m4 0h0m0-1h0m1-2h0m0 5h0m1-4h0m1-1h0m2 2h0m1 2h0m2 0h0m0-2h0m1 3h0m1-5h0m0 4h0m2-2h0m0 1h0m2 1h0m0 0h0m3 0h0m1-1h0m0-2h0m0 1h0m2-1h0m2-1h0m0 4h0m1 0h0m0 1h0m1-2h0m1-2h0m0-1h0m0 4h0m0 0h0m1-1h0m0-1h0m1-1h0m0-1h0m0 2h0m1 0h0m1 0h0m1 1h0m0-1h0m1-1h0m1 0h0m0-1h0m2 2h0m1 2h0m2-4h0m0 4h0m0 0h0m65-3h0m1 1h0m1 2h0m0-2h0m1-2h0m1 2h0m0-2h0m1 1h0m0 1h0m0 1h0m1-1h0m1 0h0m1 2h0m1-3h0m1 0h0m0 3h0m1-2h0m1-2h0m1 3h0m0 0h0m0-1h0m0 2h0m0-2h0m0-2h0m1 4h0m0 1h0m2 0h0m0-4h0m1 1h0m2 1h0m1-2h0m4 2h0m1 1h0m2-1h0m0 1h0m3-3h0m1 0h0m0-1h0m1 1h0m2-1h0m1 1h0m0 2h0m0 0h0m1 1h0m0-4h0m0 2h0m0 0h0m1 1h0m1-2h0m0-1h0m1 3h0m0 1h0m1-1h0m1 1h0m1-1h0m5-3h0m0 0h0m1 0h0m1 0h0m1 3h0m3 1h0m3-1h0m0-3h0m0 4h0m1 0h0m2-3h0m0 0h0m2 1h0m6 2h0m4-1h0m0-1h0m1-2h0m4 1h0m1 3h0m5 0h0m5 0h0m4-2h0m3 2h0m15-1h0m15-2h0m6-1h0" stroke="#ff7f0e" stroke-width="6" stroke-linecap="round" fill="none"/>
<path transform="scale(0.25)" d="M840 631h0m8-2h0m49-1h0m-55 8h0m0 17h0m1-5h0m2 10h0m0-6h0m3 3h0m53 8h0m-52 3h0m-1 3h0m-4 1h0m0 1h0m-1-10h0m-3 22h0m2-7h0m0-1h0m4 8h0m2-10h0m1 4h0m43-3h0m1-2h0m4 7h0m4 6h0m-2 8h0m0-7h0m0 3h0m-1 6h0m-3 0h0m-2-1h0m0-1h0m-2-1h0m0-4h0m-41 6h0m-1-2h0m-1-4h0m0 5h0m0-1h0m-1-4h0m0 6h0m-1-5h0m0-1h0m-1-2h0m0-1h0m-1 9h0m0-4h0m-2 2h0m0 0h0m0-3h0m-2 7h0m0 1h0m2 2h0m5-1h0m1 3h0m0-2h0m1 1h0m1-4h0m41 4h0m0-4h0m2 3h0m1 0h0m1-3h0m2 2h0m0-1h0m1 0h0m0 0h0m2-1h0m2 4h0" stroke="#1f77b4" stroke-width="6" stroke-linecap="round" fill="none"/>
<path d="M209.2 176.6 L212.9 176.6 L217.4 203.6 L217.9 203.6 L223.3 176.6 L225.8 176.6 L225.8 207.2 L209.2 207.2Z" stroke="none" stroke-width="0" fill="#000"/>
<path transform="scale(0.25)" d="M901 684h0m-1 8h0m-1 2h0m0-1h0m-56 0h0m-1 0h0m0 2h0m-1-5h0m0 4h0m0-8h0m-1 0h0m1 14h0m0-4h0m0 1h0m1 0h0m0-1h0m0 1h0m0 2h0m0 0h0m0-3h0m1 3h0m0 0h0m0-3h0m1 6h0m0-2h0m0 1h0m1 2h0m0-1h0m0 1h0m0 3h0m1-4h0m1-1h0m0 5h0m4-5h0m40 5h0m4-2h0m1 1h0m1-3h0m1-2h0m0-3h0m0-1h0m0 4h0m0-2h0m4 2h0m-7 12h0m-1-4h0m0 0h0m-1 3h0m0 8h0m-1-6h0m-4 3h0m-35-4h0m-1-4h0m-1 8h0m-2 2h0m0 0h0m-1-7h0m0 5h0m-1-2h0m-1-6h0m6 16h0m3 4h0m36-5h0m0 6h0m2-6h0m-3 17h0m0-6h0m-2 6h0m-32 1h0m-1 0h0m-1-9h0m-1 0h0m-1 5h0m0 4h0m-2-7h0m0-2h0m3 12h0m2 11h0m0-3h0m1-7h0m0 10h0m1-11h0m0 11h0m1-1h0m1-2h0m0-4h0m23 2h0m2-3h0m1 7h0m1-9h0m2 6h0m-2 13h0m-1-1h0m0 0h0m-1 1h0m0-8h0m-2 6h0m0-4h0m-21 7h0m0 0h0m-2-2h0m-1-6h0m-1 6h0m-1 4h0m0-3h0m2 4h0m0 3h0m4 8h0m0-6h0m2 6h0m0-8h0m14 5h0m1-4h0m2 3h0m1-1h0m2-3h0m-2 9h0m-2 1h0m0 2h0m-1 7h0m0-9h0m-1 6h0m-1-5h0m-2 6h0m-14 7h0m1 4h0m2-4h0m1-3h0m1 9h0m2-4h0m0 6h0m1-2h0m6-8h0m0 6h0m2-2h0m1 12h0m-1-3h0m0-2h0m-3 11h0m-1-10h0m0 2h0m0 2h0m0 0h0m-1 4h0m-2 1h0m0 1h0m-1-3h0m-3 1h0m0-4h0m-1-2h0m5 15h0m1-5h0m0 5h0m0-5h0m1 4h0m0-2h0m0 3h0m1-5h0m0 1h0m3 0h0" stroke="#000" stroke-width="5.6" stroke-linecap="round" fill="none"/>
<circle cx="191.9" cy="44.2" r="0.8" fill="#ff7f0e"/>
<circle cx="191" cy="43.3" r="0.75" fill="#000"/>
<circle cx="200.2" cy="89.2" r="0.8" fill="#ff7f0e"/>
<circle cx="199.3" cy="88.3" r="0.75" fill="#000"/>
<circle cx="204.8" cy="103.6" r="0.8" fill="#ff7f0e"/>
<circle cx="203.9" cy="102.7" r="0.75" fill="#000"/>
<circle cx="197.2" cy="110.6" r="0.8" fill="#ff7f0e"/>
<circle cx="196.3" cy="109.7" r="0.75" fill="#000"/>
<circle cx="205.5" cy="121.3" r="0.8" fill="#ff7f0e"/>
<circle cx="204.6" cy="120.4" r="0.75" fill="#000"/>
<circle cx="201.1" cy="125.1" r="0.8" fill="#ff7f0e"/>
<circle cx="200.2" cy="124.2" r="0.75" fill="#000"/>
<circle cx="182.5" cy="130.6" r="0.8" fill="#ff7f0e"/>
<circle cx="181.6" cy="129.7" r="0.75" fill="#000"/>
<circle cx="201.1" cy="132.3" r="0.8" fill="#ff7f0e"/>
<circle cx="200.2" cy="131.4" r="0.75" fill="#000"/>
<circle cx="188.5" cy="147" r="0.8" fill="#ff7f0e"/>
<circle cx="187.6" cy="146.1" r="0.75" fill="#000"/>
<circle cx="248.2" cy="76.7" r="0.8" fill="#ff7f0e"/>
<circle cx="247.3" cy="75.8" r="0.75" fill="#000"/>
<circle cx="267.3" cy="76.9" r="0.8" fill="#ff7f0e"/>
<circle cx="266.4" cy="76" r="0.75" fill="#000"/>
<circle cx="258.6" cy="77.4" r="0.8" fill="#ff7f0e"/>
<circle cx="257.7" cy="76.5" r="0.75" fill="#000"/>
<circle cx="235.3" cy="84.5" r="0.8" fill="#ff7f0e"/>
<circle cx="234.4" cy="83.6" r="0.75" fill="#000"/>
<circle cx="239.5" cy="94.2" r="0.8" fill="#ff7f0e"/>
<circle cx="238.6" cy="93.3" r="0.75" fill="#000"/>
<circle cx="242.3" cy="104.6" r="0.8" fill="#ff7f0e"/>
<circle cx="241.4" cy="103.7" r="0.75" fill="#000"/>
<circle cx="292.2" cy="108.8" r="0.8" fill="#ff7f0e"/>
<circle cx="291.3" cy="107.9" r="0.75" fill="#000"/>
<circle cx="237" cy="107.9" r="0.8" fill="#ff7f0e"/>
<circle cx="236.1" cy="107" r="0.75" fill="#000"/>
<circle cx="233.7" cy="114.5" r="0.8" fill="#ff7f0e"/>
<circle cx="232.8" cy="113.6" r="0.75" fill="#000"/>
<circle cx="240.9" cy="129.6" r="0.8" fill="#ff7f0e"/>
<circle cx="240" cy="128.7" r="0.75" fill="#000"/>
<circle cx="241.7" cy="135" r="0.8" fill="#ff7f0e"/>
<circle cx="240.8" cy="134.1" r="0.75" fill="#000"/>
<circle cx="237.3" cy="128.4" r="0.8" fill="#ff7f0e"/>
<circle cx="236.4" cy="127.5" r="0.75" fill="#000"/>
<circle cx="239.9" cy="143.5" r="0.8" fill="#ff7f0e"/>
<circle cx="239" cy="142.6" r="0.75" fill="#000"/>
<circle cx="253.4" cy="145.9" r="0.8" fill="#ff7f0e"/>
<circle cx="252.5" cy="145" r="0.75" fill="#000"/>
<circle cx="253.4" cy="153.2" r="0.8" fill="#ff7f0e"/>
<circle cx="252.5" cy="152.3" r="0.75" fill="#000"/>
<circle cx="254.8" cy="161.3" r="0.8" fill="#ff7f0e"/>
<circle cx="253.9" cy="160.4" r="0.75" fill="#000"/>
<circle cx="237.3" cy="160.5" r="0.8" fill="#ff7f0e"/>
<circle cx="236.4" cy="159.6" r="0.75" fill="#000"/>
<circle cx="229.4" cy="151.4" r="0.8" fill="#ff7f0e"/>
<circle cx="228.5" cy="150.5" r="0.75" fill="#000"/>
<circle cx="229.1" cy="169.4" r="0.8" fill="#ff7f0e"/>
<circle cx="228.2" cy="168.5" r="0.75" fill="#000"/>
<line x1="209.6" y1="33.7" x2="209.6" y2="213.9" stroke="#444" stroke-width="0.7" stroke-dasharray="2.6 1.6"/>
<line x1="225.5" y1="33.7" x2="225.5" y2="213.9" stroke="#444" stroke-width="0.7" stroke-dasharray="2.6 1.6"/>
<line x1="115.7" y1="176.4" x2="319.7" y2="176.4" stroke="#444" stroke-width="0.7" stroke-dasharray="2.6 1.6"/>
<text x="181.6" y="42.2" font-size="7.45" fill="#222">Sh3d19</text>
<text x="173.7" y="86.7" font-size="7.45" fill="#222">Shank1</text>
<text x="177.9" y="101.1" font-size="7.45" fill="#222">Gtpbp2</text>
<text x="172.6" y="113.4" font-size="7.45" fill="#222">Grin2a</text>
<text x="203.9" y="113.2" font-size="7.45" fill="#222">Gfra4</text>
<text x="213" y="104.4" font-size="7.45" fill="#222">Txndc5</text>
<text x="187.9" y="120.6" font-size="7.45" fill="#222">Miat</text>
<text x="184.3" y="129.6" font-size="7.45" fill="#222">Agap2</text>
<text x="147.3" y="134.6" font-size="7.45" fill="#222">Gm27247</text>
<text x="185.8" y="138.4" font-size="7.45" fill="#222">Myo9b</text>
<text x="163" y="151.6" font-size="7.45" fill="#222">Col5a2</text>
<text x="213.8" y="127.8" font-size="7.45" fill="#222">Dtnbp1</text>
<text x="233.9" y="74.8" font-size="7.45" fill="#222">Rnf187</text>
<text x="267.4" y="74.8" font-size="7.45" fill="#222">Fzd9</text>
<text x="222" y="81.6" font-size="7.45" fill="#222">Klhdc2</text>
<text x="256.4" y="84.8" font-size="7.45" fill="#222">Jund</text>
<text x="228.2" y="91.5" font-size="7.45" fill="#222">March5</text>
<text x="241.8" y="101.5" font-size="7.45" fill="#222">Pnrc1</text>
<text x="264" y="106" font-size="7.45" fill="#222">A230065H16Rik</text>
<text x="232" y="115.6" font-size="7.45" fill="#222">Minpp1</text>
<text x="242.3" y="122.8" font-size="7.45" fill="#222">Timp2</text>
<text x="242.6" y="129.3" font-size="7.45" fill="#222">Odc1</text>
<text x="245.9" y="135.5" font-size="7.45" fill="#222">Gstm1</text>
<text x="226.9" y="141.4" font-size="7.45" fill="#222">Stim2</text>
<text x="254.7" y="148.2" font-size="7.45" fill="#222">Mocs3</text>
<text x="227.7" y="153.1" font-size="7.45" fill="#222">Rac3</text>
<text x="253.2" y="155.3" font-size="7.45" fill="#222">Ecel1</text>
<text x="232" y="164.3" font-size="7.45" fill="#222">Apoe</text>
<text x="256.1" y="164" font-size="7.45" fill="#222">Agt</text>
<text x="226.6" y="171" font-size="7.45" fill="#222">Hapln4</text>
<line x1="222.6" y1="110.6" x2="229.6" y2="111.8" stroke="#000" stroke-width="0.8"/>
<line x1="236" y1="119.5" x2="240.5" y2="121.5" stroke="#000" stroke-width="0.8"/>
<text x="117.9" y="42.7" font-size="7.5">Significance</text>
<circle cx="121.5" cy="49.9" r="2.3" fill="#000"/>
<text x="125.6" y="52.2" font-size="7.5" fill="#222">NS</text>
<circle cx="121.5" cy="56.9" r="2.3" fill="#2ca02c"/>
<text x="125.6" y="59.2" font-size="7.5" fill="#222">Log<tspan font-size="5" dy="1.5">2</tspan><tspan dy="-1.5">FC</tspan></text>
<circle cx="121.5" cy="64" r="2.3" fill="#1f77b4"/>
<text x="125.6" y="66.3" font-size="7.5" fill="#222">p−value</text>
<circle cx="121.5" cy="71.3" r="2.3" fill="#ff7f0e"/>
<text x="125.6" y="73.6" font-size="7.5" fill="#222">p−value and Log<tspan font-size="5" dy="1.5">2</tspan><tspan dy="-1.5">FC</tspan></text>
<rect x="114.9" y="32.9" width="205.6" height="181.8" fill="none" stroke="#000" stroke-width="1.5"/>
<line x1="112.3" y1="205.9" x2="114.9" y2="205.9" stroke="#000" stroke-width="1"/>
<text x="110.8" y="208.5" font-size="7.5" text-anchor="end" fill="#4d4d4d">0</text>
<line x1="112.3" y1="158.6" x2="114.9" y2="158.6" stroke="#000" stroke-width="1"/>
<text x="110.8" y="161.2" font-size="7.5" text-anchor="end" fill="#4d4d4d">2</text>
<line x1="112.3" y1="111.3" x2="114.9" y2="111.3" stroke="#000" stroke-width="1"/>
<text x="110.8" y="113.9" font-size="7.5" text-anchor="end" fill="#4d4d4d">4</text>
<line x1="112.3" y1="64" x2="114.9" y2="64" stroke="#000" stroke-width="1"/>
<text x="110.8" y="66.6" font-size="7.5" text-anchor="end" fill="#4d4d4d">6</text>
<line x1="123.68" y1="214.7" x2="123.68" y2="216.9" stroke="#000" stroke-width="1"/>
<text x="123.68" y="224.6" font-size="7.5" text-anchor="middle" fill="#4d4d4d">−6</text>
<line x1="170.69" y1="214.7" x2="170.69" y2="216.9" stroke="#000" stroke-width="1"/>
<text x="170.69" y="224.6" font-size="7.5" text-anchor="middle" fill="#4d4d4d">−3</text>
<line x1="217.7" y1="214.7" x2="217.7" y2="216.9" stroke="#000" stroke-width="1"/>
<text x="217.7" y="224.6" font-size="7.5" text-anchor="middle" fill="#4d4d4d">0</text>
<line x1="264.71" y1="214.7" x2="264.71" y2="216.9" stroke="#000" stroke-width="1"/>
<text x="264.71" y="224.6" font-size="7.5" text-anchor="middle" fill="#4d4d4d">3</text>
<line x1="311.72" y1="214.7" x2="311.72" y2="216.9" stroke="#000" stroke-width="1"/>
<text x="311.72" y="224.6" font-size="7.5" text-anchor="middle" fill="#4d4d4d">6</text>
<text x="179.3" y="235.3" font-size="8.8">Log<tspan font-size="6" dy="2">2</tspan><tspan dy="-2">(Fold Change)</tspan></text>
<text x="99.4" y="160.2" font-size="8.8" transform="rotate(-90 99.4 160.2)">-Log<tspan font-size="6" dy="2">10</tspan><tspan dy="-2">(p-adjusted)</tspan></text>
<text x="331" y="10.8" font-size="15.5" fill="#000" font-weight="bold">c</text>
<text x="410" y="11.2" font-size="10.1" text-anchor="middle" fill="#222">GO Enrichment Analysis:</text>
<text x="410" y="23.3" font-size="10.1" text-anchor="middle" fill="#222">Aging DEGs</text>
<rect x="400" y="34" width="60" height="139" fill="none" stroke="#000" stroke-width="1.3"/>
<text x="393.2" y="39.9" font-size="7.6" text-anchor="end" fill="#3a3a3a">modulation of</text>
<text x="393.2" y="48.7" font-size="7.6" text-anchor="end" fill="#3a3a3a">chemical synaptic</text>
<text x="395.3" y="57.6" font-size="7.6" text-anchor="end" fill="#3a3a3a">transmission</text>
<text x="393.2" y="66.5" font-size="7.6" text-anchor="end" fill="#3a3a3a">regulation of</text>
<text x="393.2" y="75.6" font-size="7.6" text-anchor="end" fill="#3a3a3a">trans−synaptic</text>
<text x="395.3" y="85" font-size="7.6" text-anchor="end" fill="#3a3a3a">signaling</text>
<text x="395.3" y="103.8" font-size="7.6" text-anchor="end" fill="#3a3a3a">behavior</text>
<text x="393.2" y="123.3" font-size="7.6" text-anchor="end" fill="#3a3a3a">regulation</text>
<text x="393.2" y="132.2" font-size="7.6" text-anchor="end" fill="#3a3a3a">of cell</text>
<text x="395.3" y="141.1" font-size="7.6" text-anchor="end" fill="#3a3a3a">communication</text>
<text x="395.3" y="154.6" font-size="7.6" text-anchor="end" fill="#3a3a3a">regulation of</text>
<text x="395.3" y="163.7" font-size="7.6" text-anchor="end" fill="#3a3a3a">signaling</text>
<line x1="397.2" y1="46.8" x2="400" y2="46.8" stroke="#000" stroke-width="1"/>
<line x1="397.2" y1="74.4" x2="400" y2="74.4" stroke="#000" stroke-width="1"/>
<line x1="397.2" y1="101.9" x2="400" y2="101.9" stroke="#000" stroke-width="1"/>
<line x1="397.2" y1="129.7" x2="400" y2="129.7" stroke="#000" stroke-width="1"/>
<line x1="397.2" y1="157.3" x2="400" y2="157.3" stroke="#000" stroke-width="1"/>
<circle cx="456.9" cy="46.8" r="0.9" fill="#ff1a1a"/>
<circle cx="456.9" cy="74.4" r="0.9" fill="#ff1a1a"/>
<circle cx="449.8" cy="101.9" r="1.9" fill="#1a1aff"/>
<circle cx="404.6" cy="129.7" r="3.9" fill="#b41ec0"/>
<circle cx="403.8" cy="157.3" r="3.9" fill="#ee1a4a"/>
<line x1="403" y1="173" x2="403" y2="175" stroke="#000" stroke-width="1"/>
<text x="403" y="183.6" font-size="7.5" text-anchor="middle" fill="#4d4d4d">1.50</text>
<line x1="431" y1="173" x2="431" y2="175" stroke="#000" stroke-width="1"/>
<text x="431" y="183.6" font-size="7.5" text-anchor="middle" fill="#4d4d4d">2.00</text>
<line x1="459.5" y1="173" x2="459.5" y2="175" stroke="#000" stroke-width="1"/>
<text x="459.5" y="183.6" font-size="7.5" text-anchor="middle" fill="#4d4d4d">2.50</text>
<text x="430.2" y="194.3" font-size="8.8" text-anchor="middle">Fold Enrichment</text>
<text x="378.4" y="207.4" font-size="7.5" text-anchor="middle">Gene Number</text>
<circle cx="372.3" cy="215.1" r="0.9" fill="#111"/>
<text x="380.7" y="217.7" font-size="7.5">30</text>
<circle cx="372.3" cy="224.8" r="2.1" fill="#111"/>
<text x="380.7" y="227.4" font-size="7.5">50</text>
<circle cx="372.3" cy="235.3" r="3" fill="#111"/>
<text x="380.7" y="237.9" font-size="7.5">70</text>
<circle cx="372.3" cy="245.8" r="3.7" fill="#111"/>
<text x="380.7" y="248.4" font-size="7.5">90</text>
<text x="434.8" y="207.4" font-size="7.5">FDR</text>
<defs><linearGradient id="gc" x1="0" y1="0" x2="0" y2="1"><stop offset="0" stop-color="#3333ff"/><stop offset="0.45" stop-color="#b000d0"/><stop offset="1" stop-color="#ff0022"/></linearGradient></defs>
<rect x="424.8" y="213.5" width="8.4" height="42.8" fill="url(#gc)"/>
<line x1="424.8" y1="215.1" x2="426.2" y2="215.1" stroke="#fff" stroke-width="0.6"/>
<line x1="431.8" y1="215.1" x2="433.2" y2="215.1" stroke="#fff" stroke-width="0.6"/>
<text x="435.9" y="217.7" font-size="7.5">0.0575</text>
<line x1="424.8" y1="223.5" x2="426.2" y2="223.5" stroke="#fff" stroke-width="0.6"/>
<line x1="431.8" y1="223.5" x2="433.2" y2="223.5" stroke="#fff" stroke-width="0.6"/>
<text x="435.9" y="226.1" font-size="7.5">0.0550</text>
<line x1="424.8" y1="231.9" x2="426.2" y2="231.9" stroke="#fff" stroke-width="0.6"/>
<line x1="431.8" y1="231.9" x2="433.2" y2="231.9" stroke="#fff" stroke-width="0.6"/>
<text x="435.9" y="234.5" font-size="7.5">0.0525</text>
<line x1="424.8" y1="240.6" x2="426.2" y2="240.6" stroke="#fff" stroke-width="0.6"/>
<line x1="431.8" y1="240.6" x2="433.2" y2="240.6" stroke="#fff" stroke-width="0.6"/>
<text x="435.9" y="243.2" font-size="7.5">0.0500</text>
<line x1="424.8" y1="249" x2="426.2" y2="249" stroke="#fff" stroke-width="0.6"/>
<line x1="431.8" y1="249" x2="433.2" y2="249" stroke="#fff" stroke-width="0.6"/>
<text x="435.9" y="251.6" font-size="7.5">0.0475</text>
<text x="477.5" y="10.8" font-size="15.5" fill="#000" font-weight="bold">d</text>
<text x="596.5" y="10.9" font-size="10.1" text-anchor="middle" fill="#222">Reactive Oxygen Species Pathway</text>
<rect x="511.3" y="14.9" width="170.7" height="76.2" fill="#fff"/>
<path d="M511.5 21.2 L513.9 17.3 L519 20.9 L519.9 17.3 L552 39.6 L553.4 37.7 L555.3 39 L556.6 37.4 L564.5 43.2 L565.8 41.3 L567.8 41.9 L568.5 43.2 L570 41.6 L574.4 45.5 L575.7 44.5 L577 45.5 L582.9 49.5 L584.2 48.8 L588.8 52.4 L590.2 51.1 L591.5 51.6 L595.4 54.1 L598.9 54.7 L602.9 56.8 L620 68.3 L628.5 73.5 L637 78.4 L650.8 86.3 L652.2 85.2 L653.9 86.6 L656.8 83.4 L658.1 82.3 L659 82.9 L660 80 L661.2 80.6 L662.4 77.8 L663.1 76.7 L664 78.4 L665 77.6 L666 78.8 L667.3 74.4 L668.6 71.6 L669.9 72.8 L671.2 73.5 L673.2 74.6 L673.8 67.6 L675.2 61 L676.5 53.1 L677.8 43.9 L679.1 38 L680.2 29 L681.2 20.5 L681.6 17.6" stroke="#3aaa35" stroke-width="1.1" fill="none" stroke-linejoin="round"/>
<line x1="514.6" y1="91.1" x2="514.6" y2="116.2" stroke="#ccc" stroke-width="0.7"/><line x1="519.4" y1="91.1" x2="519.4" y2="116.2" stroke="#999" stroke-width="0.7"/><rect x="552.5" y="91.1" width="2.9" height="25.1" fill="#d4d4d4"/><line x1="553.2" y1="91.1" x2="553.2" y2="116.2" stroke="#aaa" stroke-width="0.7"/><line x1="565" y1="91.1" x2="565" y2="116.2" stroke="#aaa" stroke-width="0.7"/><line x1="567.6" y1="91.1" x2="567.6" y2="116.2" stroke="#aaa" stroke-width="0.7"/><line x1="575.6" y1="91.1" x2="575.6" y2="116.2" stroke="#999" stroke-width="0.7"/><line x1="583.9" y1="91.1" x2="583.9" y2="116.2" stroke="#999" stroke-width="0.7"/><line x1="589.5" y1="91.1" x2="589.5" y2="116.2" stroke="#555" stroke-width="0.7"/><line x1="591.2" y1="91.1" x2="591.2" y2="116.2" stroke="#888" stroke-width="0.7"/><rect x="596.3" y="91.1" width="2.2" height="25.1" fill="#8a8a8a"/><line x1="602.9" y1="91.1" x2="602.9" y2="116.2" stroke="#aaa" stroke-width="0.7"/><line x1="601.9" y1="91.1" x2="601.9" y2="116.2" stroke="#ccc" stroke-width="0.7"/><line x1="610.9" y1="91.1" x2="610.9" y2="116.2" stroke="#999" stroke-width="0.7"/><line x1="620.5" y1="91.1" x2="620.5" y2="116.2" stroke="#ccc" stroke-width="0.7"/><line x1="628.8" y1="91.1" x2="628.8" y2="116.2" stroke="#aaa" stroke-width="0.7"/><line x1="636.6" y1="91.1" x2="636.6" y2="116.2" stroke="#aaa" stroke-width="0.7"/><line x1="651.9" y1="91.1" x2="651.9" y2="116.2" stroke="#ccc" stroke-width="0.7"/><line x1="653.1" y1="91.1" x2="653.1" y2="116.2" stroke="#ddd" stroke-width="0.7"/><rect x="655.2" y="91.1" width="2.5" height="25.1" fill="#8a8a8a"/><line x1="659.8" y1="91.1" x2="659.8" y2="116.2" stroke="#999" stroke-width="0.7"/><line x1="661.7" y1="91.1" x2="661.7" y2="116.2" stroke="#888" stroke-width="0.7"/><rect x="666.4" y="91.1" width="3.1" height="25.1" fill="#c4c4c4"/><line x1="667.5" y1="91.1" x2="667.5" y2="116.2" stroke="#999" stroke-width="0.7"/><rect x="673.2" y="91.1" width="2.5" height="25.1" fill="#5a5a5a"/><line x1="676.9" y1="91.1" x2="676.9" y2="116.2" stroke="#666" stroke-width="0.7"/><line x1="678.2" y1="91.1" x2="678.2" y2="116.2" stroke="#888" stroke-width="0.7"/><rect x="679.4" y="91.1" width="1.9" height="25.1" fill="#555"/>
<g shape-rendering="crispEdges"><rect x="511.3" y="116.2" width="12.6" height="6.7" fill="#e43c3c"/><rect x="523.8" y="116.2" width="38.3" height="6.7" fill="#f64e4e"/><rect x="562" y="116.2" width="16.1" height="6.7" fill="#f5627a"/><rect x="578" y="116.2" width="14.8" height="6.7" fill="#f6807f"/><rect x="592.7" y="116.2" width="17.4" height="6.7" fill="#f9b8e2"/><rect x="610" y="116.2" width="13.4" height="6.7" fill="#d8d6fb"/><rect x="623.3" y="116.2" width="14" height="6.7" fill="#c6c0fa"/><rect x="637.2" y="116.2" width="11.6" height="6.7" fill="#7c7cf6"/><rect x="648.7" y="116.2" width="22.9" height="6.7" fill="#5a50ee"/><rect x="671.5" y="116.2" width="8.4" height="6.7" fill="#2a06d6"/><rect x="679.8" y="116.2" width="2.3" height="6.7" fill="#6a1090"/></g>
<rect x="511.3" y="14.9" width="170.7" height="108" fill="none" stroke="#000" stroke-width="1.3"/>
<line x1="511.3" y1="91.1" x2="682" y2="91.1" stroke="#000" stroke-width="1.3"/>
<line x1="511.3" y1="116.2" x2="682" y2="116.2" stroke="#000" stroke-width="1.1"/>
<line x1="507.5" y1="20.8" x2="511.3" y2="20.8" stroke="#000" stroke-width="1"/>
<text x="506.6" y="23.4" font-size="7.5" text-anchor="end" fill="#4d4d4d">0.0</text>
<line x1="507.5" y1="32.3" x2="511.3" y2="32.3" stroke="#000" stroke-width="1"/>
<text x="506.6" y="34.9" font-size="7.5" text-anchor="end" fill="#4d4d4d">-0.1</text>
<line x1="507.5" y1="43.8" x2="511.3" y2="43.8" stroke="#000" stroke-width="1"/>
<text x="506.6" y="46.4" font-size="7.5" text-anchor="end" fill="#4d4d4d">-0.2</text>
<line x1="507.5" y1="55.3" x2="511.3" y2="55.3" stroke="#000" stroke-width="1"/>
<text x="506.6" y="57.9" font-size="7.5" text-anchor="end" fill="#4d4d4d">-0.3</text>
<line x1="507.5" y1="66.8" x2="511.3" y2="66.8" stroke="#000" stroke-width="1"/>
<text x="506.6" y="69.4" font-size="7.5" text-anchor="end" fill="#4d4d4d">-0.4</text>
<line x1="507.5" y1="78.3" x2="511.3" y2="78.3" stroke="#000" stroke-width="1"/>
<text x="506.6" y="80.9" font-size="7.5" text-anchor="end" fill="#4d4d4d">-0.5</text>
<line x1="507.5" y1="89.6" x2="511.3" y2="89.6" stroke="#000" stroke-width="1"/>
<text x="506.6" y="92.2" font-size="7.5" text-anchor="end" fill="#4d4d4d">-0.6</text>
<text x="513.5" y="78.4" font-size="7.6" fill="#222">p = 0.016</text>
<text x="513.5" y="87.7" font-size="7.6" fill="#222">FWER = 0.244</text>
<text x="507.2" y="107.05" font-size="7.5" text-anchor="end" fill="#222">Hits</text>
<text x="488.3" y="88" font-size="8.8" transform="rotate(-90 488.3 88)">Enrichment Score</text>
<text x="596.5" y="136.8" font-size="10.1" text-anchor="middle" fill="#222">Oxidative Phosphorylation</text>
<rect x="511.3" y="141.1" width="170.7" height="76.1" fill="#fff"/>
<path d="M511.4 144.6 L521.8 149.9 L531 154.8 L541.5 161 L544.2 161.7 L559.9 170.5 L571.8 177.5 L584.9 183.1 L595 188 L608.1 195.2 L621.3 203.1 L629.2 206.8 L634.4 207.7 L642.3 209.6 L650.2 211.6 L655.4 213.4 L659.4 212.3 L662 208.3 L664.6 203.1 L667.3 201.1 L669.9 189.9 L672.5 175.5 L675.2 161 L677.8 151.8 L680.4 146.6 L681.4 145" stroke="#3aaa35" stroke-width="1.1" fill="none" stroke-linejoin="round"/>
<line x1="521.5" y1="217.2" x2="521.5" y2="242.9" stroke="#888" stroke-width="0.7"/><rect x="541.5" y="217.2" width="2.6" height="25.7" fill="#d8d8d8"/><line x1="559.5" y1="217.2" x2="559.5" y2="242.9" stroke="#888" stroke-width="0.7"/><line x1="573" y1="217.2" x2="573" y2="242.9" stroke="#555" stroke-width="0.7"/><line x1="580.3" y1="217.2" x2="580.3" y2="242.9" stroke="#999" stroke-width="0.7"/><line x1="581.6" y1="217.2" x2="581.6" y2="242.9" stroke="#999" stroke-width="0.7"/><line x1="583.2" y1="217.2" x2="583.2" y2="242.9" stroke="#444" stroke-width="0.7"/><rect x="584.9" y="217.2" width="1.9" height="25.7" fill="#5a5a5a"/><line x1="590.1" y1="217.2" x2="590.1" y2="242.9" stroke="#444" stroke-width="0.7"/><line x1="596.9" y1="217.2" x2="596.9" y2="242.9" stroke="#555" stroke-width="0.7"/><line x1="601.1" y1="217.2" x2="601.1" y2="242.9" stroke="#666" stroke-width="0.7"/><line x1="606.6" y1="217.2" x2="606.6" y2="242.9" stroke="#777" stroke-width="0.7"/><rect x="608.7" y="217.2" width="4.2" height="25.7" fill="#a0a0a0"/><line x1="614.3" y1="217.2" x2="614.3" y2="242.9" stroke="#333" stroke-width="0.7"/><rect x="619.8" y="217.2" width="3.5" height="25.7" fill="#b0b0b0"/><rect x="626" y="217.2" width="5.6" height="25.7" fill="#a4a4a4"/><line x1="634.1" y1="217.2" x2="634.1" y2="242.9" stroke="#333" stroke-width="0.7"/><rect x="635" y="217.2" width="5" height="25.7" fill="#8c8c8c"/><rect x="641.3" y="217.2" width="4.2" height="25.7" fill="#6a6a6a"/><line x1="648.3" y1="217.2" x2="648.3" y2="242.9" stroke="#666" stroke-width="0.7"/><line x1="649.6" y1="217.2" x2="649.6" y2="242.9" stroke="#333" stroke-width="0.7"/><rect x="653.8" y="217.2" width="6.9" height="25.7" fill="#9a9a9a"/><rect x="661.4" y="217.2" width="1.4" height="25.7" fill="#000"/><rect x="663.5" y="217.2" width="4.2" height="25.7" fill="#555"/><rect x="669" y="217.2" width="1.4" height="25.7" fill="#000"/><rect x="671.8" y="217.2" width="4.9" height="25.7" fill="#333"/><rect x="677.4" y="217.2" width="3.8" height="25.7" fill="#222"/>
<g shape-rendering="crispEdges"><rect x="511.3" y="242.9" width="12.6" height="6.2" fill="#e43c3c"/><rect x="523.8" y="242.9" width="38.3" height="6.2" fill="#f64e4e"/><rect x="562" y="242.9" width="16.1" height="6.2" fill="#f5627a"/><rect x="578" y="242.9" width="14.8" height="6.2" fill="#f6807f"/><rect x="592.7" y="242.9" width="17.4" height="6.2" fill="#f9b8e2"/><rect x="610" y="242.9" width="13.4" height="6.2" fill="#d8d6fb"/><rect x="623.3" y="242.9" width="14" height="6.2" fill="#c6c0fa"/><rect x="637.2" y="242.9" width="11.6" height="6.2" fill="#7c7cf6"/><rect x="648.7" y="242.9" width="22.9" height="6.2" fill="#5a50ee"/><rect x="671.5" y="242.9" width="8.4" height="6.2" fill="#2a06d6"/><rect x="679.8" y="242.9" width="2.3" height="6.2" fill="#6a1090"/></g>
<rect x="511.3" y="141.1" width="170.7" height="108" fill="none" stroke="#000" stroke-width="1.3"/>
<line x1="511.3" y1="217.2" x2="682" y2="217.2" stroke="#000" stroke-width="1.3"/>
<line x1="511.3" y1="242.9" x2="682" y2="242.9" stroke="#000" stroke-width="1.1"/>
<line x1="507.5" y1="144.8" x2="511.3" y2="144.8" stroke="#000" stroke-width="1"/>
<text x="506.6" y="147.4" font-size="7.5" text-anchor="end" fill="#4d4d4d">0.0</text>
<line x1="507.5" y1="154.5" x2="511.3" y2="154.5" stroke="#000" stroke-width="1"/>
<text x="506.6" y="157.1" font-size="7.5" text-anchor="end" fill="#4d4d4d">-0.1</text>
<line x1="507.5" y1="164.2" x2="511.3" y2="164.2" stroke="#000" stroke-width="1"/>
<text x="506.6" y="166.8" font-size="7.5" text-anchor="end" fill="#4d4d4d">-0.2</text>
<line x1="507.5" y1="173.9" x2="511.3" y2="173.9" stroke="#000" stroke-width="1"/>
<text x="506.6" y="176.5" font-size="7.5" text-anchor="end" fill="#4d4d4d">-0.3</text>
<line x1="507.5" y1="183.6" x2="511.3" y2="183.6" stroke="#000" stroke-width="1"/>
<text x="506.6" y="186.2" font-size="7.5" text-anchor="end" fill="#4d4d4d">-0.4</text>
<line x1="507.5" y1="193.3" x2="511.3" y2="193.3" stroke="#000" stroke-width="1"/>
<text x="506.6" y="195.9" font-size="7.5" text-anchor="end" fill="#4d4d4d">-0.5</text>
<line x1="507.5" y1="203" x2="511.3" y2="203" stroke="#000" stroke-width="1"/>
<text x="506.6" y="205.6" font-size="7.5" text-anchor="end" fill="#4d4d4d">-0.6</text>
<line x1="507.5" y1="212.7" x2="511.3" y2="212.7" stroke="#000" stroke-width="1"/>
<text x="506.6" y="215.3" font-size="7.5" text-anchor="end" fill="#4d4d4d">-0.7</text>
<text x="513.5" y="204.6" font-size="7.6" fill="#222">p = 0.048</text>
<text x="513.5" y="213.9" font-size="7.6" fill="#222">FWER = 0.224</text>
<text x="507.2" y="233.45" font-size="7.5" text-anchor="end" fill="#222">Hits</text>
<text x="488.3" y="214.15" font-size="8.8" transform="rotate(-90 488.3 214.15)">Enrichment Score</text>
<text x="510.8" y="257.4" font-size="7.8" fill="#e8303a">Young</text>
<text x="682.3" y="257.4" font-size="7.8" text-anchor="end" fill="#3a3ae8">Aged</text>
<line x1="511.3" y1="261.5" x2="682" y2="261.5" stroke="#000" stroke-width="1.3"/>
<line x1="511.5" y1="261.5" x2="511.5" y2="263.7" stroke="#000" stroke-width="1"/>
<text x="511.5" y="271" font-size="7.5" text-anchor="middle" fill="#4d4d4d">0</text>
<line x1="551.9" y1="261.5" x2="551.9" y2="263.7" stroke="#000" stroke-width="1"/>
<text x="551.9" y="271" font-size="7.5" text-anchor="middle" fill="#4d4d4d">5,000</text>
<line x1="592.3" y1="261.5" x2="592.3" y2="263.7" stroke="#000" stroke-width="1"/>
<text x="592.3" y="271" font-size="7.5" text-anchor="middle" fill="#4d4d4d">10,000</text>
<line x1="632.7" y1="261.5" x2="632.7" y2="263.7" stroke="#000" stroke-width="1"/>
<text x="632.7" y="271" font-size="7.5" text-anchor="middle" fill="#4d4d4d">15,000</text>
<line x1="673.1" y1="261.5" x2="673.1" y2="263.7" stroke="#000" stroke-width="1"/>
<text x="673.1" y="271" font-size="7.5" text-anchor="middle" fill="#4d4d4d">20,000</text>
<text x="596" y="282" font-size="8.8" text-anchor="middle">Rank in Ordered Dataset</text>
<text x="-0.5" y="306.4" font-size="15.5" fill="#000" font-weight="bold">e</text>
<g shape-rendering="crispEdges"><rect x="69.4" y="321.8" width="12.28" height="12.22" fill="#67001f"/><rect x="81.63" y="321.8" width="12.28" height="12.22" fill="#fac6ad"/><rect x="93.87" y="321.8" width="12.28" height="12.22" fill="#fbe6da"/><rect x="106.1" y="321.8" width="12.28" height="12.22" fill="#d9e9f1"/><rect x="118.33" y="321.8" width="12.28" height="12.22" fill="#eaf1f5"/><rect x="130.57" y="321.8" width="12.28" height="12.22" fill="#f8f2ee"/><rect x="142.8" y="321.8" width="12.28" height="12.22" fill="#fac6ad"/><rect x="155.03" y="321.8" width="12.28" height="12.22" fill="#68aad0"/><rect x="167.27" y="321.8" width="12.28" height="12.22" fill="#c9e1ee"/><rect x="179.5" y="321.8" width="12.28" height="12.22" fill="#b9d9e9"/><rect x="191.73" y="321.8" width="12.28" height="12.22" fill="#eaf1f5"/><rect x="203.97" y="321.8" width="12.28" height="12.22" fill="#f7f7f7"/><rect x="69.4" y="333.98" width="12.28" height="12.22" fill="#fac6ad"/><rect x="81.63" y="333.98" width="12.28" height="12.22" fill="#67001f"/><rect x="93.87" y="333.98" width="12.28" height="12.22" fill="#fac6ad"/><rect x="106.1" y="333.98" width="12.28" height="12.22" fill="#fcd4be"/><rect x="118.33" y="333.98" width="12.28" height="12.22" fill="#fbcfb7"/><rect x="130.57" y="333.98" width="12.28" height="12.22" fill="#fcd4be"/><rect x="142.8" y="333.98" width="12.28" height="12.22" fill="#a8d0e4"/><rect x="155.03" y="333.98" width="12.28" height="12.22" fill="#3d8bbf"/><rect x="167.27" y="333.98" width="12.28" height="12.22" fill="#78b4d5"/><rect x="179.5" y="333.98" width="12.28" height="12.22" fill="#3d8bbf"/><rect x="191.73" y="333.98" width="12.28" height="12.22" fill="#61a6cd"/><rect x="203.97" y="333.98" width="12.28" height="12.22" fill="#c9e1ee"/><rect x="69.4" y="346.15" width="12.28" height="12.22" fill="#fbe6da"/><rect x="81.63" y="346.15" width="12.28" height="12.22" fill="#fac6ad"/><rect x="93.87" y="346.15" width="12.28" height="12.22" fill="#67001f"/><rect x="106.1" y="346.15" width="12.28" height="12.22" fill="#e27a61"/><rect x="118.33" y="346.15" width="12.28" height="12.22" fill="#de725b"/><rect x="130.57" y="346.15" width="12.28" height="12.22" fill="#fac6ad"/><rect x="142.8" y="346.15" width="12.28" height="12.22" fill="#f9ede7"/><rect x="155.03" y="346.15" width="12.28" height="12.22" fill="#3d8bbf"/><rect x="167.27" y="346.15" width="12.28" height="12.22" fill="#3d8bbf"/><rect x="179.5" y="346.15" width="12.28" height="12.22" fill="#8dc2dc"/><rect x="191.73" y="346.15" width="12.28" height="12.22" fill="#f7f7f7"/><rect x="203.97" y="346.15" width="12.28" height="12.22" fill="#c9e1ee"/><rect x="69.4" y="358.32" width="12.28" height="12.22" fill="#d9e9f1"/><rect x="81.63" y="358.32" width="12.28" height="12.22" fill="#fcd4be"/><rect x="93.87" y="358.32" width="12.28" height="12.22" fill="#e27a61"/><rect x="106.1" y="358.32" width="12.28" height="12.22" fill="#67001f"/><rect x="118.33" y="358.32" width="12.28" height="12.22" fill="#8b0b25"/><rect x="130.57" y="358.32" width="12.28" height="12.22" fill="#ee9677"/><rect x="142.8" y="358.32" width="12.28" height="12.22" fill="#f2a17f"/><rect x="155.03" y="358.32" width="12.28" height="12.22" fill="#71b0d3"/><rect x="167.27" y="358.32" width="12.28" height="12.22" fill="#195696"/><rect x="179.5" y="358.32" width="12.28" height="12.22" fill="#3682ba"/><rect x="191.73" y="358.32" width="12.28" height="12.22" fill="#8dc2dc"/><rect x="203.97" y="358.32" width="12.28" height="12.22" fill="#68aad0"/><rect x="69.4" y="370.5" width="12.28" height="12.22" fill="#eaf1f5"/><rect x="81.63" y="370.5" width="12.28" height="12.22" fill="#fbcfb7"/><rect x="93.87" y="370.5" width="12.28" height="12.22" fill="#de725b"/><rect x="106.1" y="370.5" width="12.28" height="12.22" fill="#8b0b25"/><rect x="118.33" y="370.5" width="12.28" height="12.22" fill="#67001f"/><rect x="130.57" y="370.5" width="12.28" height="12.22" fill="#d55d4c"/><rect x="142.8" y="370.5" width="12.28" height="12.22" fill="#e48066"/><rect x="155.03" y="370.5" width="12.28" height="12.22" fill="#87beda"/><rect x="167.27" y="370.5" width="12.28" height="12.22" fill="#124a85"/><rect x="179.5" y="370.5" width="12.28" height="12.22" fill="#276eb0"/><rect x="191.73" y="370.5" width="12.28" height="12.22" fill="#68aad0"/><rect x="203.97" y="370.5" width="12.28" height="12.22" fill="#3d8bbf"/><rect x="69.4" y="382.68" width="12.28" height="12.22" fill="#f8f2ee"/><rect x="81.63" y="382.68" width="12.28" height="12.22" fill="#fcd4be"/><rect x="93.87" y="382.68" width="12.28" height="12.22" fill="#fac6ad"/><rect x="106.1" y="382.68" width="12.28" height="12.22" fill="#ee9677"/><rect x="118.33" y="382.68" width="12.28" height="12.22" fill="#d55d4c"/><rect x="130.57" y="382.68" width="12.28" height="12.22" fill="#67001f"/><rect x="142.8" y="382.68" width="12.28" height="12.22" fill="#d55d4c"/><rect x="155.03" y="382.68" width="12.28" height="12.22" fill="#d9e9f1"/><rect x="167.27" y="382.68" width="12.28" height="12.22" fill="#68aad0"/><rect x="179.5" y="382.68" width="12.28" height="12.22" fill="#57a0ca"/><rect x="191.73" y="382.68" width="12.28" height="12.22" fill="#87beda"/><rect x="203.97" y="382.68" width="12.28" height="12.22" fill="#78b4d5"/><rect x="69.4" y="394.85" width="12.28" height="12.22" fill="#fac6ad"/><rect x="81.63" y="394.85" width="12.28" height="12.22" fill="#a8d0e4"/><rect x="93.87" y="394.85" width="12.28" height="12.22" fill="#f9ede7"/><rect x="106.1" y="394.85" width="12.28" height="12.22" fill="#f2a17f"/><rect x="118.33" y="394.85" width="12.28" height="12.22" fill="#e48066"/><rect x="130.57" y="394.85" width="12.28" height="12.22" fill="#d55d4c"/><rect x="142.8" y="394.85" width="12.28" height="12.22" fill="#67001f"/><rect x="155.03" y="394.85" width="12.28" height="12.22" fill="#f9ede7"/><rect x="167.27" y="394.85" width="12.28" height="12.22" fill="#97c8e0"/><rect x="179.5" y="394.85" width="12.28" height="12.22" fill="#97c8e0"/><rect x="191.73" y="394.85" width="12.28" height="12.22" fill="#c9e1ee"/><rect x="203.97" y="394.85" width="12.28" height="12.22" fill="#57a0ca"/><rect x="69.4" y="407.02" width="12.28" height="12.22" fill="#68aad0"/><rect x="81.63" y="407.02" width="12.28" height="12.22" fill="#3d8bbf"/><rect x="93.87" y="407.02" width="12.28" height="12.22" fill="#3d8bbf"/><rect x="106.1" y="407.02" width="12.28" height="12.22" fill="#68aad0"/><rect x="118.33" y="407.02" width="12.28" height="12.22" fill="#87beda"/><rect x="130.57" y="407.02" width="12.28" height="12.22" fill="#d9e9f1"/><rect x="142.8" y="407.02" width="12.28" height="12.22" fill="#f9ede7"/><rect x="155.03" y="407.02" width="12.28" height="12.22" fill="#67001f"/><rect x="167.27" y="407.02" width="12.28" height="12.22" fill="#ad172a"/><rect x="179.5" y="407.02" width="12.28" height="12.22" fill="#d05447"/><rect x="191.73" y="407.02" width="12.28" height="12.22" fill="#f5aa88"/><rect x="203.97" y="407.02" width="12.28" height="12.22" fill="#f7f7f7"/><rect x="69.4" y="419.2" width="12.28" height="12.22" fill="#c9e1ee"/><rect x="81.63" y="419.2" width="12.28" height="12.22" fill="#78b4d5"/><rect x="93.87" y="419.2" width="12.28" height="12.22" fill="#3d8bbf"/><rect x="106.1" y="419.2" width="12.28" height="12.22" fill="#195696"/><rect x="118.33" y="419.2" width="12.28" height="12.22" fill="#124a85"/><rect x="130.57" y="419.2" width="12.28" height="12.22" fill="#68aad0"/><rect x="142.8" y="419.2" width="12.28" height="12.22" fill="#97c8e0"/><rect x="155.03" y="419.2" width="12.28" height="12.22" fill="#ad172a"/><rect x="167.27" y="419.2" width="12.28" height="12.22" fill="#67001f"/><rect x="179.5" y="419.2" width="12.28" height="12.22" fill="#8b0b25"/><rect x="191.73" y="419.2" width="12.28" height="12.22" fill="#e48066"/><rect x="203.97" y="419.2" width="12.28" height="12.22" fill="#e48066"/><rect x="69.4" y="431.38" width="12.28" height="12.22" fill="#b9d9e9"/><rect x="81.63" y="431.38" width="12.28" height="12.22" fill="#3d8bbf"/><rect x="93.87" y="431.38" width="12.28" height="12.22" fill="#87beda"/><rect x="106.1" y="431.38" width="12.28" height="12.22" fill="#3682ba"/><rect x="118.33" y="431.38" width="12.28" height="12.22" fill="#276eb0"/><rect x="130.57" y="431.38" width="12.28" height="12.22" fill="#57a0ca"/><rect x="142.8" y="431.38" width="12.28" height="12.22" fill="#97c8e0"/><rect x="155.03" y="431.38" width="12.28" height="12.22" fill="#d05447"/><rect x="167.27" y="431.38" width="12.28" height="12.22" fill="#8b0b25"/><rect x="179.5" y="431.38" width="12.28" height="12.22" fill="#67001f"/><rect x="191.73" y="431.38" width="12.28" height="12.22" fill="#ad172a"/><rect x="203.97" y="431.38" width="12.28" height="12.22" fill="#d76350"/><rect x="69.4" y="443.55" width="12.28" height="12.22" fill="#eaf1f5"/><rect x="81.63" y="443.55" width="12.28" height="12.22" fill="#57a0ca"/><rect x="93.87" y="443.55" width="12.28" height="12.22" fill="#f7f7f7"/><rect x="106.1" y="443.55" width="12.28" height="12.22" fill="#87beda"/><rect x="118.33" y="443.55" width="12.28" height="12.22" fill="#68aad0"/><rect x="130.57" y="443.55" width="12.28" height="12.22" fill="#87beda"/><rect x="142.8" y="443.55" width="12.28" height="12.22" fill="#c9e1ee"/><rect x="155.03" y="443.55" width="12.28" height="12.22" fill="#f5aa88"/><rect x="167.27" y="443.55" width="12.28" height="12.22" fill="#e48066"/><rect x="179.5" y="443.55" width="12.28" height="12.22" fill="#ad172a"/><rect x="191.73" y="443.55" width="12.28" height="12.22" fill="#67001f"/><rect x="203.97" y="443.55" width="12.28" height="12.22" fill="#de725b"/><rect x="69.4" y="455.72" width="12.28" height="12.22" fill="#f7f7f7"/><rect x="81.63" y="455.72" width="12.28" height="12.22" fill="#c9e1ee"/><rect x="93.87" y="455.72" width="12.28" height="12.22" fill="#c9e1ee"/><rect x="106.1" y="455.72" width="12.28" height="12.22" fill="#68aad0"/><rect x="118.33" y="455.72" width="12.28" height="12.22" fill="#3d8bbf"/><rect x="130.57" y="455.72" width="12.28" height="12.22" fill="#78b4d5"/><rect x="142.8" y="455.72" width="12.28" height="12.22" fill="#57a0ca"/><rect x="155.03" y="455.72" width="12.28" height="12.22" fill="#f7f7f7"/><rect x="167.27" y="455.72" width="12.28" height="12.22" fill="#e48066"/><rect x="179.5" y="455.72" width="12.28" height="12.22" fill="#d76350"/><rect x="191.73" y="455.72" width="12.28" height="12.22" fill="#de725b"/><rect x="203.97" y="455.72" width="12.28" height="12.22" fill="#67001f"/></g>
<rect x="69.4" y="321.8" width="146.8" height="146.1" fill="none" stroke="#000" stroke-width="1.1"/>
<text x="67.1" y="331.09" font-size="7.7" text-anchor="end" fill="#222">IN Halfwidth</text>
<text x="77.72" y="471.6" font-size="7.7" text-anchor="end" fill="#222" transform="rotate(-90 77.72 471.6)">IN Halfwidth</text>
<text x="67.1" y="343.26" font-size="7.7" text-anchor="end" fill="#222">Speed Trial Stability</text>
<text x="89.95" y="471.6" font-size="7.7" text-anchor="end" fill="#222" transform="rotate(-90 89.95 471.6)">Speed Trial Stability</text>
<text x="67.1" y="355.44" font-size="7.7" text-anchor="end" fill="#222">Speed Slope</text>
<text x="102.18" y="471.6" font-size="7.7" text-anchor="end" fill="#222" transform="rotate(-90 102.18 471.6)">Speed Slope</text>
<text x="67.1" y="367.61" font-size="7.7" text-anchor="end" fill="#222">Age (Months)</text>
<text x="114.42" y="471.6" font-size="7.7" text-anchor="end" fill="#222" transform="rotate(-90 114.42 471.6)">Age (Months)</text>
<text x="67.1" y="379.79" font-size="7.7" text-anchor="end" fill="#222">Aging Up Genes</text>
<text x="126.65" y="471.6" font-size="7.7" text-anchor="end" fill="#222" transform="rotate(-90 126.65 471.6)">Aging Up Genes</text>
<text x="67.1" y="391.96" font-size="7.7" text-anchor="end" fill="#222">IN Duration</text>
<text x="138.88" y="471.6" font-size="7.7" text-anchor="end" fill="#222" transform="rotate(-90 138.88 471.6)">IN Duration</text>
<text x="67.1" y="404.14" font-size="7.7" text-anchor="end" fill="#222">IN Mean FR</text>
<text x="151.12" y="471.6" font-size="7.7" text-anchor="end" fill="#222" transform="rotate(-90 151.12 471.6)">IN Mean FR</text>
<text x="67.1" y="416.31" font-size="7.7" text-anchor="end" fill="#222">Aging All Genes</text>
<text x="163.35" y="471.6" font-size="7.7" text-anchor="end" fill="#222" transform="rotate(-90 163.35 471.6)">Aging All Genes</text>
<text x="67.1" y="428.49" font-size="7.7" text-anchor="end" fill="#222">Aging Down Genes</text>
<text x="175.58" y="471.6" font-size="7.7" text-anchor="end" fill="#222" transform="rotate(-90 175.58 471.6)">Aging Down Genes</text>
<text x="67.1" y="440.66" font-size="7.7" text-anchor="end" fill="#222">Spatial Coherence</text>
<text x="187.82" y="471.6" font-size="7.7" text-anchor="end" fill="#222" transform="rotate(-90 187.82 471.6)">Spatial Coherence</text>
<text x="67.1" y="452.84" font-size="7.7" text-anchor="end" fill="#222">Spatial Stability</text>
<text x="200.05" y="471.6" font-size="7.7" text-anchor="end" fill="#222" transform="rotate(-90 200.05 471.6)">Spatial Stability</text>
<text x="67.1" y="465.01" font-size="7.7" text-anchor="end" fill="#222">Spatial Info.</text>
<text x="212.28" y="471.6" font-size="7.7" text-anchor="end" fill="#222" transform="rotate(-90 212.28 471.6)">Spatial Info.</text>
<defs><linearGradient id="ge" x1="0" y1="0" x2="0" y2="1"><stop offset="0" stop-color="#67001f"/><stop offset="0.12" stop-color="#b2182b"/><stop offset="0.25" stop-color="#d6604d"/><stop offset="0.38" stop-color="#f4a582"/><stop offset="0.46" stop-color="#fddbc7"/><stop offset="0.5" stop-color="#f7f7f7"/><stop offset="0.54" stop-color="#d1e5f0"/><stop offset="0.62" stop-color="#92c5de"/><stop offset="0.75" stop-color="#4393c3"/><stop offset="0.88" stop-color="#2166ac"/><stop offset="1" stop-color="#053061"/></linearGradient></defs>
<rect x="39.3" y="476.9" width="7.7" height="53.6" fill="url(#ge)" stroke="#000" stroke-width="0.8"/>
<line x1="47" y1="477.5" x2="49.2" y2="477.5" stroke="#000" stroke-width="0.8"/>
<text x="49.6" y="480.1" font-size="7.5">1.0</text>
<line x1="47" y1="503.8" x2="49.2" y2="503.8" stroke="#000" stroke-width="0.8"/>
<text x="49.6" y="506.4" font-size="7.5">0.0</text>
<line x1="47" y1="529.9" x2="49.2" y2="529.9" stroke="#000" stroke-width="0.8"/>
<text x="49.6" y="532.5" font-size="7.5">−1.0</text>
<text x="223" y="306.6" font-size="15.5" fill="#000" font-weight="bold">f</text>
<text x="300.2" y="316.8" font-size="10.1" text-anchor="middle" fill="#222">All Coherence Correlates</text>
<rect x="248.3" y="322.7" width="105.7" height="144.9" fill="#fff" stroke="#000" stroke-width="1.3"/>
<line x1="268.7" y1="323.3" x2="268.7" y2="467.6" stroke="#222" stroke-width="0.8" stroke-dasharray="2.4 1.6"/>
<line x1="333.2" y1="323.3" x2="333.2" y2="467.6" stroke="#222" stroke-width="0.8" stroke-dasharray="2.4 1.6"/>
<line x1="248.9" y1="440.7" x2="353.4" y2="440.7" stroke="#222" stroke-width="0.8" stroke-dasharray="2.4 1.6"/>
<clipPath id="cf"><rect x="248.3" y="322.7" width="105.69999999999999" height="144.30000000000004"/></clipPath>
<path d="M269.2 440.7 C269.58 442.08 270.67 446.28 271.5 449 C272.33 451.72 273.22 454.58 274.2 457 C275.18 459.42 276.35 461.97 277.4 463.5 C278.45 465.03 279.48 466.28 280.5 466.2 C281.52 466.12 282.72 463.8 283.5 463 C284.28 462.2 284.62 461.32 285.2 461.4 C285.78 461.48 286.47 462.53 287 463.5 C287.53 464.47 288.17 466.58 288.4 467.2" stroke="#2ca02c" stroke-width="2.7" fill="none" clip-path="url(#cf)" stroke-linecap="round"/>
<path d="M314.5 467.2 C314.83 466.42 315.83 463.45 316.5 462.5 C317.17 461.55 317.75 460.92 318.5 461.5 C319.25 462.08 320.08 465.42 321 466 C321.92 466.58 322.92 466.17 324 465 C325.08 463.83 326.42 461.33 327.5 459 C328.58 456.67 329.55 454.05 330.5 451 C331.45 447.95 332.75 442.42 333.2 440.7" stroke="#2ca02c" stroke-width="2.7" fill="none" clip-path="url(#cf)" stroke-linecap="round"/>
<circle cx="255.1" cy="330.5" r="1.3" fill="#ff7f0e"/>
<circle cx="254.6" cy="342.4" r="1.3" fill="#ff7f0e"/>
<circle cx="255.6" cy="353.3" r="1.3" fill="#ff7f0e"/>
<circle cx="254.4" cy="365.4" r="1.3" fill="#ff7f0e"/>
<circle cx="256.5" cy="382" r="1.3" fill="#ff7f0e"/>
<circle cx="258" cy="384" r="1.3" fill="#ff7f0e"/>
<circle cx="261.3" cy="404.72" r="1.3" fill="#ff7f0e"/>
<circle cx="256.45" cy="387.68" r="1.3" fill="#ff7f0e"/>
<circle cx="256.93" cy="387.26" r="1.3" fill="#ff7f0e"/>
<circle cx="262.19" cy="408.96" r="1.3" fill="#ff7f0e"/>
<circle cx="261.92" cy="407.16" r="1.3" fill="#ff7f0e"/>
<circle cx="257.53" cy="393.17" r="1.3" fill="#ff7f0e"/>
<circle cx="261.36" cy="420.03" r="1.3" fill="#ff7f0e"/>
<circle cx="257.59" cy="385.36" r="1.3" fill="#ff7f0e"/>
<circle cx="258.89" cy="393.34" r="1.3" fill="#ff7f0e"/>
<circle cx="267.01" cy="432.67" r="1.3" fill="#ff7f0e"/>
<circle cx="263.42" cy="422.04" r="1.3" fill="#ff7f0e"/>
<circle cx="257.9" cy="388.06" r="1.3" fill="#ff7f0e"/>
<circle cx="264.02" cy="423.34" r="1.3" fill="#ff7f0e"/>
<circle cx="262.84" cy="417.69" r="1.3" fill="#ff7f0e"/>
<circle cx="265.96" cy="427.62" r="1.3" fill="#ff7f0e"/>
<circle cx="261.49" cy="415.93" r="1.3" fill="#ff7f0e"/>
<circle cx="264.74" cy="430.8" r="1.3" fill="#ff7f0e"/>
<circle cx="256.48" cy="392.35" r="1.3" fill="#ff7f0e"/>
<circle cx="258.07" cy="392.66" r="1.3" fill="#ff7f0e"/>
<circle cx="264.77" cy="419.29" r="1.3" fill="#ff7f0e"/>
<circle cx="266.58" cy="436.48" r="1.3" fill="#ff7f0e"/>
<circle cx="262.78" cy="416.64" r="1.3" fill="#ff7f0e"/>
<circle cx="267.81" cy="430.85" r="1.3" fill="#ff7f0e"/>
<circle cx="266.05" cy="422.81" r="1.3" fill="#ff7f0e"/>
<circle cx="266.25" cy="420.53" r="1.3" fill="#ff7f0e"/>
<circle cx="258.85" cy="402.09" r="1.3" fill="#ff7f0e"/>
<circle cx="256.19" cy="385.57" r="1.3" fill="#ff7f0e"/>
<circle cx="259.52" cy="391.88" r="1.3" fill="#ff7f0e"/>
<circle cx="258.09" cy="393.33" r="1.3" fill="#ff7f0e"/>
<circle cx="268.09" cy="434.47" r="1.3" fill="#ff7f0e"/>
<circle cx="264.58" cy="412.68" r="1.3" fill="#ff7f0e"/>
<circle cx="266.86" cy="435.03" r="1.3" fill="#ff7f0e"/>
<circle cx="262.76" cy="401" r="1.3" fill="#ff7f0e"/>
<circle cx="258.67" cy="393.86" r="1.3" fill="#ff7f0e"/>
<circle cx="258.02" cy="397.48" r="1.3" fill="#ff7f0e"/>
<circle cx="260.75" cy="398.95" r="1.3" fill="#ff7f0e"/>
<circle cx="258.74" cy="402.93" r="1.3" fill="#ff7f0e"/>
<circle cx="263.54" cy="422.88" r="1.3" fill="#ff7f0e"/>
<circle cx="266.77" cy="423.77" r="1.3" fill="#ff7f0e"/>
<circle cx="267.28" cy="425.69" r="1.3" fill="#ff7f0e"/>
<circle cx="260.91" cy="406.8" r="1.3" fill="#ff7f0e"/>
<circle cx="264.58" cy="420.25" r="1.3" fill="#ff7f0e"/>
<circle cx="259.52" cy="397.39" r="1.3" fill="#ff7f0e"/>
<circle cx="257.71" cy="386.98" r="1.3" fill="#ff7f0e"/>
<circle cx="257.59" cy="390.1" r="1.3" fill="#ff7f0e"/>
<circle cx="266.74" cy="432.83" r="1.3" fill="#ff7f0e"/>
<circle cx="259.03" cy="399.86" r="1.3" fill="#ff7f0e"/>
<circle cx="259.84" cy="385.84" r="1.3" fill="#ff7f0e"/>
<circle cx="261.76" cy="410.51" r="1.3" fill="#ff7f0e"/>
<circle cx="257.32" cy="391.1" r="1.3" fill="#ff7f0e"/>
<circle cx="266.73" cy="431.36" r="1.3" fill="#ff7f0e"/>
<circle cx="267.55" cy="437.72" r="1.3" fill="#ff7f0e"/>
<circle cx="264.33" cy="415.21" r="1.3" fill="#ff7f0e"/>
<circle cx="268.54" cy="437.14" r="1.3" fill="#ff7f0e"/>
<circle cx="261.83" cy="407.77" r="1.3" fill="#ff7f0e"/>
<circle cx="263.16" cy="412.44" r="1.3" fill="#ff7f0e"/>
<circle cx="260.31" cy="391.28" r="1.3" fill="#ff7f0e"/>
<circle cx="267.54" cy="428.88" r="1.3" fill="#ff7f0e"/>
<circle cx="265.7" cy="428.34" r="1.3" fill="#ff7f0e"/>
<circle cx="261.07" cy="404.25" r="1.3" fill="#ff7f0e"/>
<circle cx="259.82" cy="402.91" r="1.3" fill="#ff7f0e"/>
<circle cx="265.95" cy="439.77" r="1.3" fill="#ff7f0e"/>
<circle cx="268.58" cy="439.49" r="1.3" fill="#ff7f0e"/>
<circle cx="259.49" cy="398.14" r="1.3" fill="#ff7f0e"/>
<circle cx="265.67" cy="417.14" r="1.3" fill="#ff7f0e"/>
<circle cx="261.32" cy="408.25" r="1.3" fill="#ff7f0e"/>
<circle cx="256.37" cy="385.09" r="1.3" fill="#ff7f0e"/>
<circle cx="266.05" cy="426.08" r="1.3" fill="#ff7f0e"/>
<circle cx="258.9" cy="392.38" r="1.3" fill="#ff7f0e"/>
<circle cx="267.26" cy="429.05" r="1.3" fill="#ff7f0e"/>
<circle cx="262.91" cy="405.7" r="1.3" fill="#ff7f0e"/>
<circle cx="258.97" cy="394.46" r="1.3" fill="#ff7f0e"/>
<circle cx="267.73" cy="434.25" r="1.3" fill="#ff7f0e"/>
<circle cx="268.04" cy="430.5" r="1.3" fill="#ff7f0e"/>
<circle cx="260.27" cy="403.55" r="1.3" fill="#ff7f0e"/>
<circle cx="258.1" cy="384.28" r="1.3" fill="#ff7f0e"/>
<circle cx="263.9" cy="412.99" r="1.3" fill="#ff7f0e"/>
<circle cx="267.45" cy="432.21" r="1.3" fill="#ff7f0e"/>
<circle cx="259.37" cy="399.71" r="1.3" fill="#ff7f0e"/>
<circle cx="263.59" cy="419.33" r="1.3" fill="#ff7f0e"/>
<circle cx="342.2" cy="401" r="1.3" fill="#ff7f0e"/>
<circle cx="340.2" cy="405.3" r="1.3" fill="#ff7f0e"/>
<circle cx="334.45" cy="437.12" r="1.3" fill="#ff7f0e"/>
<circle cx="334.75" cy="429.34" r="1.3" fill="#ff7f0e"/>
<circle cx="336.02" cy="430.66" r="1.3" fill="#ff7f0e"/>
<circle cx="335.96" cy="428.77" r="1.3" fill="#ff7f0e"/>
<circle cx="335.62" cy="430.9" r="1.3" fill="#ff7f0e"/>
<circle cx="337.66" cy="423.92" r="1.3" fill="#ff7f0e"/>
<circle cx="336.61" cy="424.24" r="1.3" fill="#ff7f0e"/>
<circle cx="335.17" cy="428.5" r="1.3" fill="#ff7f0e"/>
<circle cx="333.58" cy="437.89" r="1.3" fill="#ff7f0e"/>
<circle cx="334.87" cy="433.23" r="1.3" fill="#ff7f0e"/>
<circle cx="336.28" cy="425.94" r="1.3" fill="#ff7f0e"/>
<circle cx="335.17" cy="429.98" r="1.3" fill="#ff7f0e"/>
<circle cx="335.77" cy="428.21" r="1.3" fill="#ff7f0e"/>
<circle cx="334.89" cy="429.1" r="1.3" fill="#ff7f0e"/>
<circle cx="337.75" cy="423.45" r="1.3" fill="#ff7f0e"/>
<circle cx="333.58" cy="433.91" r="1.3" fill="#ff7f0e"/>
<circle cx="338.5" cy="419" r="1.3" fill="#ff7f0e"/>
<circle cx="339.5" cy="420.5" r="1.3" fill="#ff7f0e"/>
<circle cx="337.5" cy="418.3" r="1.3" fill="#ff7f0e"/>
<line x1="300.8" y1="322.7" x2="300.8" y2="467.6" stroke="#222" stroke-width="1.2"/>
<line x1="298.8" y1="330.9" x2="302.8" y2="330.9" stroke="#222" stroke-width="1.1"/>
<text x="304.3" y="333.6" font-size="7.6">1.6</text>
<line x1="298.8" y1="349.2" x2="302.8" y2="349.2" stroke="#222" stroke-width="1.1"/>
<text x="304.3" y="351.9" font-size="7.6">1.5</text>
<line x1="298.8" y1="367.5" x2="302.8" y2="367.5" stroke="#222" stroke-width="1.1"/>
<text x="304.3" y="370.2" font-size="7.6">1.4</text>
<line x1="298.8" y1="385.8" x2="302.8" y2="385.8" stroke="#222" stroke-width="1.1"/>
<text x="304.3" y="388.5" font-size="7.6">1.3</text>
<line x1="298.8" y1="404.1" x2="302.8" y2="404.1" stroke="#222" stroke-width="1.1"/>
<text x="304.3" y="406.8" font-size="7.6">1.2</text>
<line x1="298.8" y1="422.4" x2="302.8" y2="422.4" stroke="#222" stroke-width="1.1"/>
<text x="304.3" y="425.1" font-size="7.6">1.1</text>
<line x1="298.8" y1="440.7" x2="302.8" y2="440.7" stroke="#222" stroke-width="1.1"/>
<rect x="303.6" y="437.1" width="11.8" height="7.2" fill="#fff"/>
<text x="304.3" y="443.4" font-size="7.6">1.0</text>
<line x1="298.8" y1="459" x2="302.8" y2="459" stroke="#222" stroke-width="1.1"/>
<text x="304.3" y="461.7" font-size="7.6">0.9</text>
<line x1="256.6" y1="467.6" x2="256.6" y2="470.1" stroke="#000" stroke-width="1"/>
<text x="256.6" y="480.5" font-size="7.6" text-anchor="middle">−0.9</text>
<line x1="274.1" y1="467.6" x2="274.1" y2="470.1" stroke="#000" stroke-width="1"/>
<text x="274.1" y="480.5" font-size="7.6" text-anchor="middle">−0.7</text>
<line x1="291.6" y1="467.6" x2="291.6" y2="470.1" stroke="#000" stroke-width="1"/>
<text x="291.6" y="480.5" font-size="7.6" text-anchor="middle">−0.5</text>
<line x1="310" y1="467.6" x2="310" y2="470.1" stroke="#000" stroke-width="1"/>
<text x="310" y="480.5" font-size="7.6" text-anchor="middle">0.5</text>
<line x1="327.1" y1="467.6" x2="327.1" y2="470.1" stroke="#000" stroke-width="1"/>
<text x="327.1" y="480.5" font-size="7.6" text-anchor="middle">0.7</text>
<line x1="345.3" y1="467.6" x2="345.3" y2="470.1" stroke="#000" stroke-width="1"/>
<text x="345.3" y="480.5" font-size="7.6" text-anchor="middle">0.9</text>
<line x1="291.6" y1="472.4" x2="307.2" y2="464.5" stroke="#000" stroke-width="1.1"/>
<line x1="299.6" y1="471.8" x2="313.9" y2="464.2" stroke="#000" stroke-width="1.1"/>
<text x="250" y="438.8" font-size="7.6">219</text>
<text x="343" y="438.8" font-size="7.6">26</text>
<text x="301.5" y="490.8" font-size="8.8" text-anchor="middle">Pearson Correlation (r)</text>
<text x="241.4" y="431" font-size="8.8" transform="rotate(-90 241.4 431)">-Log<tspan font-size="6" dy="2">10</tspan><tspan dy="-2">(p-adjusted)</tspan></text>
<text x="300.9" y="504.3" font-size="7.5" text-anchor="middle">Significance</text>
<circle cx="281.8" cy="511.4" r="1.5" fill="#ff7f0e"/>
<text x="286.2" y="514.1" font-size="7.5">p−adjusted</text>
<circle cx="281.8" cy="520.1" r="1.5" fill="#2ca02c"/>
<text x="286.2" y="522.8" font-size="7.5">p−value</text>
<text x="365.1" y="306.6" font-size="15.5" fill="#000" font-weight="bold">g</text>
<text x="465.1" y="316.8" font-size="10.0" text-anchor="middle" fill="#222" font-style="italic">Adamts3</text>
<rect x="412.2" y="322.5" width="105.6" height="69.6" fill="none" stroke="#000" stroke-width="1.3"/>
<circle cx="416" cy="376" r="2.05" fill="#ff7f0e"/>
<circle cx="423.8" cy="367.6" r="2.05" fill="#ff7f0e"/>
<circle cx="440.7" cy="360.6" r="2.05" fill="#ff7f0e"/>
<circle cx="454.5" cy="371.4" r="2.05" fill="#ff7f0e"/>
<circle cx="461.7" cy="360.5" r="2.05" fill="#ff7f0e"/>
<circle cx="488.2" cy="355" r="2.05" fill="#ff7f0e"/>
<circle cx="493.8" cy="329.6" r="2.05" fill="#ff7f0e"/>
<circle cx="478.9" cy="336.4" r="2.05" fill="#1f77b4"/>
<circle cx="503.5" cy="327.6" r="2.05" fill="#1f77b4"/>
<circle cx="509" cy="336" r="2.05" fill="#1f77b4"/>
<circle cx="503.1" cy="338.9" r="2.05" fill="#1f77b4"/>
<circle cx="493.3" cy="348.7" r="2.05" fill="#1f77b4"/>
<circle cx="501.4" cy="352.5" r="2.05" fill="#1f77b4"/>
<circle cx="489.1" cy="364.3" r="2.05" fill="#1f77b4"/>
<line x1="412.8" y1="377.1" x2="517.2" y2="335" stroke="#ff7f0e" stroke-width="1.7"/>
<line x1="412.8" y1="377.1" x2="517.2" y2="335" stroke="#000" stroke-width="1" stroke-dasharray="1.3 3.5"/>
<line x1="410.2" y1="322.7" x2="412.2" y2="322.7" stroke="#000" stroke-width="1"/>
<text x="406.9" y="325.3" font-size="7.5" text-anchor="end">3200</text>
<line x1="410.2" y1="340.2" x2="412.2" y2="340.2" stroke="#000" stroke-width="1"/>
<text x="406.9" y="342.8" font-size="7.5" text-anchor="end">2400</text>
<line x1="410.2" y1="357.6" x2="412.2" y2="357.6" stroke="#000" stroke-width="1"/>
<text x="406.9" y="360.2" font-size="7.5" text-anchor="end">1600</text>
<line x1="410.2" y1="375" x2="412.2" y2="375" stroke="#000" stroke-width="1"/>
<text x="406.9" y="377.6" font-size="7.5" text-anchor="end">800</text>
<line x1="410.2" y1="392.3" x2="412.2" y2="392.3" stroke="#000" stroke-width="1"/>
<text x="406.9" y="394.9" font-size="7.5" text-anchor="end">0</text>
<line x1="416.5" y1="392.1" x2="416.5" y2="394.1" stroke="#000" stroke-width="1"/>
<line x1="441.75" y1="392.1" x2="441.75" y2="394.1" stroke="#000" stroke-width="1"/>
<line x1="467" y1="392.1" x2="467" y2="394.1" stroke="#000" stroke-width="1"/>
<line x1="492.25" y1="392.1" x2="492.25" y2="394.1" stroke="#000" stroke-width="1"/>
<line x1="517.5" y1="392.1" x2="517.5" y2="394.1" stroke="#000" stroke-width="1"/>
<text x="416.5" y="402.6" font-size="7.5" text-anchor="middle">0.60</text>
<text x="441.75" y="402.6" font-size="7.5" text-anchor="middle">0.65</text>
<text x="467" y="402.6" font-size="7.5" text-anchor="middle">0.70</text>
<text x="492.25" y="402.6" font-size="7.5" text-anchor="middle">0.75</text>
<text x="517.5" y="402.6" font-size="7.5" text-anchor="middle">0.80</text>
<text x="465.1" y="419.3" font-size="10.0" text-anchor="middle" fill="#222" font-style="italic">Hapln4</text>
<rect x="412.2" y="424.8" width="105.6" height="70" fill="none" stroke="#000" stroke-width="1.3"/>
<circle cx="415.8" cy="433.5" r="2.05" fill="#ff7f0e"/>
<circle cx="424" cy="457.8" r="2.05" fill="#ff7f0e"/>
<circle cx="440.6" cy="464.5" r="2.05" fill="#ff7f0e"/>
<circle cx="454.3" cy="463.3" r="2.05" fill="#ff7f0e"/>
<circle cx="461.7" cy="461.6" r="2.05" fill="#ff7f0e"/>
<circle cx="488.5" cy="472.5" r="2.05" fill="#ff7f0e"/>
<circle cx="493.5" cy="462.8" r="2.05" fill="#ff7f0e"/>
<circle cx="478.6" cy="480.7" r="2.05" fill="#1f77b4"/>
<circle cx="489" cy="475.7" r="2.05" fill="#1f77b4"/>
<circle cx="493.5" cy="479.9" r="2.05" fill="#1f77b4"/>
<circle cx="503.4" cy="470" r="2.05" fill="#1f77b4"/>
<circle cx="509.4" cy="473.2" r="2.05" fill="#1f77b4"/>
<circle cx="501.4" cy="479.4" r="2.05" fill="#1f77b4"/>
<circle cx="503.4" cy="480.9" r="2.05" fill="#1f77b4"/>
<line x1="412.8" y1="447.2" x2="517.2" y2="481.4" stroke="#000" stroke-width="1.2"/>
<line x1="410.2" y1="424.8" x2="412.2" y2="424.8" stroke="#000" stroke-width="1"/>
<text x="406.9" y="427.4" font-size="7.5" text-anchor="end">2600</text>
<line x1="410.2" y1="442.3" x2="412.2" y2="442.3" stroke="#000" stroke-width="1"/>
<text x="406.9" y="444.9" font-size="7.5" text-anchor="end">1950</text>
<line x1="410.2" y1="459.9" x2="412.2" y2="459.9" stroke="#000" stroke-width="1"/>
<text x="406.9" y="462.5" font-size="7.5" text-anchor="end">1300</text>
<line x1="410.2" y1="477.4" x2="412.2" y2="477.4" stroke="#000" stroke-width="1"/>
<text x="406.9" y="480" font-size="7.5" text-anchor="end">650</text>
<line x1="410.2" y1="495" x2="412.2" y2="495" stroke="#000" stroke-width="1"/>
<text x="406.9" y="497.6" font-size="7.5" text-anchor="end">0</text>
<line x1="416.5" y1="494.8" x2="416.5" y2="496.8" stroke="#000" stroke-width="1"/>
<line x1="441.75" y1="494.8" x2="441.75" y2="496.8" stroke="#000" stroke-width="1"/>
<line x1="467" y1="494.8" x2="467" y2="496.8" stroke="#000" stroke-width="1"/>
<line x1="492.25" y1="494.8" x2="492.25" y2="496.8" stroke="#000" stroke-width="1"/>
<line x1="517.5" y1="494.8" x2="517.5" y2="496.8" stroke="#000" stroke-width="1"/>
<text x="416.5" y="504.5" font-size="7.5" text-anchor="middle">0.60</text>
<text x="441.75" y="504.5" font-size="7.5" text-anchor="middle">0.65</text>
<text x="467" y="504.5" font-size="7.5" text-anchor="middle">0.70</text>
<text x="492.25" y="504.5" font-size="7.5" text-anchor="middle">0.75</text>
<text x="517.5" y="504.5" font-size="7.5" text-anchor="middle">0.80</text>
<text x="465" y="515.5" font-size="8.8" text-anchor="middle">Mean Coherence</text>
<text x="383.1" y="357.6" font-size="8.8" text-anchor="middle" transform="rotate(-90 383.1 357.6)">FPKM Value</text>
<text x="383" y="460.2" font-size="8.8" text-anchor="middle" transform="rotate(-90 383 460.2)">FPKM Value</text>
<text x="530" y="306.7" font-size="15.5" fill="#000" font-weight="bold">h</text>
<text x="613.8" y="304.9" font-size="10.1" text-anchor="middle" fill="#222">GO Enrichment Analysis:</text>
<text x="613.8" y="316.8" font-size="10.1" text-anchor="middle" fill="#222">Negative Correlation Module</text>
<rect x="624" y="322.9" width="57.6" height="172.2" fill="none" stroke="#000" stroke-width="1.3"/>
<text x="618.7" y="333.6" font-size="7.6" text-anchor="end" fill="#3a3a3a">translation at</text>
<text x="618.7" y="341.2" font-size="7.6" text-anchor="end" fill="#3a3a3a">presynapse</text>
<text x="618.7" y="358.9" font-size="7.6" text-anchor="end" fill="#3a3a3a">translation at synapse</text>
<text x="618.7" y="376" font-size="7.6" text-anchor="end" fill="#3a3a3a">translation at</text>
<text x="618.7" y="383.7" font-size="7.6" text-anchor="end" fill="#3a3a3a">postsynapse</text>
<text x="618.7" y="397" font-size="7.6" text-anchor="end" fill="#3a3a3a">mitochondrial</text>
<text x="618.7" y="404.7" font-size="7.6" text-anchor="end" fill="#3a3a3a">translation</text>
<text x="618.7" y="418.7" font-size="7.6" text-anchor="end" fill="#3a3a3a">mitochondrial</text>
<text x="618.7" y="426.6" font-size="7.6" text-anchor="end" fill="#3a3a3a">gene expression</text>
<text x="618.7" y="439.9" font-size="7.6" text-anchor="end" fill="#3a3a3a">cytoplasmic</text>
<text x="618.7" y="447.6" font-size="7.6" text-anchor="end" fill="#3a3a3a">translation</text>
<text x="618.7" y="465.2" font-size="7.6" text-anchor="end" fill="#3a3a3a">translation</text>
<text x="618.7" y="482.1" font-size="7.6" text-anchor="end" fill="#3a3a3a">organonitrogen</text>
<text x="618.7" y="489.8" font-size="7.6" text-anchor="end" fill="#3a3a3a">compound biosynthesis</text>
<line x1="621.8" y1="335.4" x2="624" y2="335.4" stroke="#000" stroke-width="1"/>
<line x1="621.8" y1="356.3" x2="624" y2="356.3" stroke="#000" stroke-width="1"/>
<line x1="621.8" y1="377.5" x2="624" y2="377.5" stroke="#000" stroke-width="1"/>
<line x1="621.8" y1="398.7" x2="624" y2="398.7" stroke="#000" stroke-width="1"/>
<line x1="621.8" y1="420" x2="624" y2="420" stroke="#000" stroke-width="1"/>
<line x1="621.8" y1="441.4" x2="624" y2="441.4" stroke="#000" stroke-width="1"/>
<line x1="621.8" y1="462.6" x2="624" y2="462.6" stroke="#000" stroke-width="1"/>
<line x1="621.8" y1="483.8" x2="624" y2="483.8" stroke="#000" stroke-width="1"/>
<circle cx="679" cy="335.4" r="1.25" fill="#2222ff"/>
<circle cx="677.8" cy="356.3" r="1.25" fill="#2a22ff"/>
<circle cx="677.8" cy="377.5" r="1.25" fill="#2a22ff"/>
<circle cx="665.2" cy="398.7" r="2.2" fill="#ff1111"/>
<circle cx="655.6" cy="420" r="2.2" fill="#ff1111"/>
<circle cx="651.7" cy="441.4" r="1.8" fill="#b020d8"/>
<circle cx="642.1" cy="462.6" r="3" fill="#ff1111"/>
<circle cx="626.7" cy="483.8" r="3.4" fill="#ff1111"/>
<line x1="624" y1="495.1" x2="624" y2="497.1" stroke="#000" stroke-width="1"/>
<text x="624" y="505.6" font-size="7.5" text-anchor="middle">2</text>
<line x1="636.85" y1="495.1" x2="636.85" y2="497.1" stroke="#000" stroke-width="1"/>
<text x="636.85" y="505.6" font-size="7.5" text-anchor="middle">4</text>
<line x1="649.7" y1="495.1" x2="649.7" y2="497.1" stroke="#000" stroke-width="1"/>
<text x="649.7" y="505.6" font-size="7.5" text-anchor="middle">6</text>
<line x1="662.55" y1="495.1" x2="662.55" y2="497.1" stroke="#000" stroke-width="1"/>
<text x="662.55" y="505.6" font-size="7.5" text-anchor="middle">8</text>
<line x1="675.4" y1="495.1" x2="675.4" y2="497.1" stroke="#000" stroke-width="1"/>
<text x="675.4" y="505.6" font-size="7.5" text-anchor="middle">10</text>
<text x="653" y="515.2" font-size="8.8" text-anchor="middle">Fold Enrichment</text>
<text x="550" y="372.2" font-size="7.5" text-anchor="middle">Gene</text>
<text x="550" y="380.9" font-size="7.5" text-anchor="middle">Number</text>
<circle cx="544.8" cy="388.9" r="1.9" fill="#111"/>
<text x="551.8" y="391.5" font-size="7.5">10</text>
<circle cx="544.8" cy="397.5" r="2.8" fill="#111"/>
<text x="551.8" y="400.1" font-size="7.5">20</text>
<circle cx="544.8" cy="406.4" r="3.55" fill="#111"/>
<text x="551.8" y="409" font-size="7.5">30</text>
<text x="543.4" y="432.6" font-size="7.5">FDR</text>
<defs><linearGradient id="gh" x1="0" y1="0" x2="0" y2="1"><stop offset="0" stop-color="#3333ff"/><stop offset="0.45" stop-color="#b000d0"/><stop offset="1" stop-color="#ff0022"/></linearGradient></defs>
<rect x="535.7" y="435.6" width="7.9" height="43.9" fill="url(#gh)"/>
<line x1="535.7" y1="440.2" x2="537" y2="440.2" stroke="#fff" stroke-width="0.6"/>
<line x1="542.3" y1="440.2" x2="543.6" y2="440.2" stroke="#fff" stroke-width="0.6"/>
<text x="546.5" y="442.8" font-size="7.5">0.020</text>
<line x1="535.7" y1="449.9" x2="537" y2="449.9" stroke="#fff" stroke-width="0.6"/>
<line x1="542.3" y1="449.9" x2="543.6" y2="449.9" stroke="#fff" stroke-width="0.6"/>
<text x="546.5" y="452.5" font-size="7.5">0.015</text>
<line x1="535.7" y1="459.5" x2="537" y2="459.5" stroke="#fff" stroke-width="0.6"/>
<line x1="542.3" y1="459.5" x2="543.6" y2="459.5" stroke="#fff" stroke-width="0.6"/>
<text x="546.5" y="462.1" font-size="7.5">0.010</text>
<line x1="535.7" y1="469.1" x2="537" y2="469.1" stroke="#fff" stroke-width="0.6"/>
<line x1="542.3" y1="469.1" x2="543.6" y2="469.1" stroke="#fff" stroke-width="0.6"/>
<text x="546.5" y="471.7" font-size="7.5">0.005</text>
<text x="3.3" y="556.7" font-size="15.5" fill="#000" font-weight="bold">i</text>
<path d="M29.5 646.5 C28.42 644 28 639.7 27.6 635 C27.2 630.3 27.22 628 27.5 623 C27.78 618 28.06 615 29 610 C29.94 605 30.8 602.2 32.2 598 C33.6 593.8 34.04 592.4 36 589 C37.96 585.6 39.4 583.8 42 581 C44.6 578.2 46 577.1 49 575 C52 572.9 53.4 572 57 570.5 C60.6 569 61.4 568.4 67 567.5 C72.6 566.6 78.4 566.34 85 566 C91.6 565.66 91.16 565.4 100 565.8 C108.84 566.2 117.52 566.24 129.2 568 C140.88 569.76 148.18 571.82 158.4 574.6 C168.62 577.38 174.18 579.56 180.3 581.9 C186.42 584.24 186.52 583.96 189 586.3 C191.48 588.64 191.82 590.1 192.7 593.6 C193.58 597.1 193.4 598.84 193.4 603.8 C193.4 608.76 193.58 611.98 192.7 618.4 C191.82 624.82 190.9 630.06 189 635.9 C187.1 641.74 186.4 644.1 183.2 647.6 C180 651.1 177.96 652.24 173 653.4 C168.04 654.56 164.24 653.68 158.4 653.4 C152.56 653.12 149.64 652.88 143.8 652 C137.96 651.12 135.04 650.18 129.2 649 C123.36 647.82 120.44 647.4 114.6 646.1 C108.76 644.8 105.92 643.86 100 642.5 C94.08 641.14 91 640 85 639.3 C79 638.6 76 638.56 70 639 C64 639.44 60.6 640.3 55 641.5 C49.4 642.7 46.4 643.8 42 645 C37.6 646.2 35.5 647.2 33 647.5 C30.5 647.8 30.58 649 29.5 646.5Z" stroke="#b4b4b4" stroke-width="0.8" fill="#e5eecf"/>
<path d="M65.8 666.3 C66.04 663.5 64.7 662.82 67.5 659.3 C70.3 655.78 70.22 655.69 76.3 653.1 C82.38 650.51 81.9 650.53 90.3 649.6 C98.7 648.67 98.92 648.19 107.8 649.6 C116.68 651.01 115.65 652.79 123.6 654.9 C131.55 657.01 131.07 655.39 137.6 657.5 C144.13 659.61 144.37 659.52 148.1 662.8 C151.83 666.08 151.12 665.83 151.6 669.8 C152.08 673.77 152.22 674.21 149.9 677.7 C147.58 681.19 148.05 681.03 142.9 682.9 C137.75 684.77 137.61 684.46 130.6 684.7 C123.59 684.94 123.13 684.73 116.6 683.8 C110.07 682.87 111.7 683.31 106.1 681.2 C100.5 679.09 101.68 678.01 95.6 675.9 C89.52 673.79 89.38 674.23 83.3 673.3 C77.22 672.37 77.25 673.33 72.8 672.4 C68.35 671.47 68.47 671.43 66.6 669.8 C64.73 668.17 65.56 669.1 65.8 666.3Z" stroke="#b0b0b0" stroke-width="0.8" fill="#e1f3f3"/>
<path d="M60.1 572.5 C60.27 571.75 62.2 570.86 63 570.6 C63.8 570.34 66.03 570.39 67 570.3 C67.97 570.21 70.72 569.57 71.3 569.8 C71.88 570.03 72.09 571.6 72 572.3 C71.91 573 71.2 575.18 70.5 575.8 C69.8 576.42 67.05 577.46 66 577.6 C64.95 577.74 62.19 577.6 61.5 577 C60.81 576.4 59.93 573.25 60.1 572.5Z" fill="#a3a500"/><path d="M104.1 573.9 C104.33 573.49 106.74 572.75 107.6 572.4 C108.46 572.05 110.58 571.19 111.5 570.9 C112.42 570.61 114.86 569.78 115.5 569.9 C116.14 570.02 117 571.32 117 571.9 C117 572.48 115.97 574.27 115.5 574.9 C115.03 575.53 113.81 577.02 113 577.3 C112.19 577.58 109.46 577.46 108.6 577.3 C107.74 577.14 106.12 576.3 105.6 575.9 C105.07 575.5 103.87 574.31 104.1 573.9Z" fill="#96ab00"/><path d="M100.2 581.8 C100.4 581.64 101.85 581.47 102.1 581.6 C102.34 581.73 102.5 582.74 102.3 582.9 C102.1 583.06 100.65 583.13 100.4 583 C100.16 582.87 100 581.96 100.2 581.8Z" fill="#a3a500"/><path d="M109.3 579.8 C109.45 579.47 110.87 579.8 111.3 580.2 C111.73 580.6 112.94 582.71 113 583.2 C113.06 583.69 112.15 584.42 111.8 584.4 C111.45 584.38 110.29 583.54 110 583 C109.71 582.46 109.15 580.13 109.3 579.8Z" fill="#00bcd0"/><path d="M96.2 594.1 C96.61 593.87 99.72 592.94 100.7 592.6 C101.68 592.26 103.8 591.4 104.6 591.2 C105.4 591 107.31 590.68 107.6 590.9 C107.89 591.12 107.45 592.67 107.1 593.1 C106.75 593.53 105.35 594.31 104.6 594.6 C103.85 594.89 101.56 595.6 100.7 595.6 C99.84 595.6 97.73 594.77 97.2 594.6 C96.67 594.43 95.79 594.33 96.2 594.1Z" fill="#b983ff"/><path d="M81.9 594.1 C82.27 593.75 84.1 592.31 84.9 592.6 C85.7 592.89 87.88 595.8 88.8 596.6 C89.72 597.4 92.17 598.81 92.8 599.5 C93.43 600.19 94.26 601.92 94.2 602.5 C94.14 603.08 92.93 604.27 92.3 604.5 C91.67 604.73 89.49 604.85 88.8 604.5 C88.11 604.15 86.97 602.19 86.4 601.5 C85.83 600.81 84.45 599.29 83.9 598.6 C83.35 597.91 81.93 596.12 81.7 595.6 C81.47 595.08 81.53 594.45 81.9 594.1Z" fill="#8f93ff"/><path d="M84.4 612.4 C84.51 611.64 86.29 609.2 86.8 608.4 C87.31 607.6 88.1 605.72 88.8 605.5 C89.5 605.28 91.99 606.04 92.8 606.5 C93.61 606.96 94.89 608.6 95.7 609.4 C96.51 610.2 99.35 612.6 99.7 613.4 C100.05 614.2 99.11 615.67 98.7 616.3 C98.29 616.93 96.83 618.39 96.2 618.8 C95.57 619.21 94.05 619.97 93.3 619.8 C92.55 619.62 90.66 617.87 89.8 617.3 C88.94 616.73 86.53 615.47 85.9 614.9 C85.27 614.33 84.3 613.16 84.4 612.4Z" fill="#529eff"/><path d="M100.7 616.8 C101.11 616.51 103.37 616.36 104 616.5 C104.63 616.64 105.92 617.56 106.1 618 C106.27 618.44 105.98 620.01 105.5 620.3 C105.02 620.59 102.58 620.65 102 620.5 C101.42 620.35 100.65 619.43 100.5 619 C100.35 618.57 100.29 617.09 100.7 616.8Z" fill="#d575fe"/><path d="M105.1 630.2 C105.25 629.87 106.21 628.98 106.5 629.2 C106.79 629.42 107.63 631.64 107.6 632.1 C107.56 632.56 106.48 633.11 106.2 633.1 C105.92 633.09 105.33 632.34 105.2 632 C105.07 631.66 104.95 630.53 105.1 630.2Z" fill="#f8766d"/><path d="M94.2 631.1 C94.34 630.83 95.85 630.64 96.2 630.8 C96.55 630.96 97.34 632.23 97.2 632.5 C97.06 632.77 95.35 633.26 95 633.1 C94.65 632.94 94.06 631.37 94.2 631.1Z" fill="#39b600"/><path d="M114.5 611.4 C114.62 610.98 115.93 610.15 116.5 610.4 C117.07 610.64 119.17 612.98 119.4 613.5 C119.63 614.02 118.95 614.84 118.5 614.9 C118.05 614.96 115.97 614.41 115.5 614 C115.03 613.59 114.38 611.82 114.5 611.4Z" fill="#6db31a"/><path d="M112.5 594.6 C113.03 593.74 115.46 593.22 116.5 593.1 C117.54 592.98 120.37 593.76 121.4 593.6 C122.43 593.44 124.73 592.21 125.3 591.7 C125.87 591.19 125.89 589.43 126.3 589.2 C126.71 588.97 128.39 589.19 128.8 589.7 C129.21 590.21 129.51 592.8 129.8 593.6 C130.09 594.4 130.95 595.96 131.3 596.6 C131.65 597.24 132.68 598.41 132.8 599.1 C132.92 599.79 132.59 601.93 132.3 602.5 C132.01 603.07 130.77 603.65 130.3 604 C129.83 604.35 128.99 605.33 128.3 605.5 C127.61 605.67 125.21 605.62 124.4 605.5 C123.59 605.38 122.1 604.67 121.4 604.5 C120.7 604.33 119.09 603.88 118.4 604 C117.71 604.12 116.07 605.56 115.5 605.5 C114.93 605.44 113.91 604.08 113.5 603.5 C113.09 602.92 112.12 601.54 112 600.5 C111.88 599.46 111.97 595.46 112.5 594.6Z" fill="#00bfc4"/><path d="M127.1 616.6 C127.34 615.71 129.81 613.31 130.9 612.8 C131.99 612.29 135.12 612.53 136.4 612.2 C137.68 611.87 140.75 610.51 141.9 610 C143.06 609.49 145.27 608.17 146.3 607.8 C147.33 607.43 150.06 606.54 150.7 606.8 C151.34 607.06 152.06 609.24 151.8 610 C151.54 610.76 149.01 612.4 148.5 613.3 C147.99 614.2 147.91 617.25 147.4 617.7 C146.89 618.16 145 617.46 144.1 617.2 C143.2 616.94 140.73 615.44 139.7 615.5 C138.67 615.56 136.2 617.06 135.3 617.7 C134.4 618.34 132.76 620.69 132 621 C131.24 621.31 129.37 620.91 128.8 620.4 C128.23 619.89 126.85 617.49 127.1 616.6Z" fill="#00bfc4"/><path d="M127.1 585.9 C127.6 585.2 130.91 582.67 132 582.1 C133.09 581.53 135.5 580.8 136.4 581 C137.3 581.2 139.06 583.23 139.7 583.8 C140.34 584.37 141.26 585.4 141.9 585.9 C142.54 586.4 144.3 587.77 145.2 588.1 C146.1 588.43 148.58 588.44 149.6 588.7 C150.62 588.96 152.88 589.79 153.9 590.3 C154.92 590.81 157.46 592.33 158.3 593.1 C159.14 593.87 160.97 596.2 161.1 596.9 C161.23 597.6 159.98 598.97 159.4 599.1 C158.82 599.23 156.74 597.74 156.1 598 C155.46 598.26 154.4 600.66 153.9 601.3 C153.4 601.94 152.56 603.37 151.8 603.5 C151.04 603.63 148.3 602.86 147.4 602.4 C146.5 601.94 144.74 600.3 144.1 599.6 C143.46 598.9 142.28 597.23 141.9 596.4 C141.52 595.57 141.31 593.08 140.8 592.5 C140.29 591.92 138.27 591.46 137.5 591.4 C136.73 591.34 135.09 592.13 134.2 592 C133.31 591.87 130.66 590.75 129.9 590.3 C129.14 589.84 128.03 588.61 127.7 588.1 C127.37 587.59 126.6 586.6 127.1 585.9Z" fill="#d89000"/><path d="M149.6 604.6 C149.97 603.9 152.04 602.18 152.8 601.8 C153.56 601.41 155.2 601.17 156.1 601.3 C157 601.43 159.34 602.39 160.5 602.9 C161.66 603.41 164.59 605.13 166 605.7 C167.41 606.27 171.46 607.17 172.6 607.8 C173.74 608.43 175.56 610.07 175.8 611.1 C176.05 612.13 174.7 615.19 174.7 616.6 C174.7 618.01 175.42 621.79 175.8 623.2 C176.19 624.61 178.37 627.94 178 628.7 C177.63 629.46 173.61 629.96 172.6 629.7 C171.59 629.44 169.94 627.51 169.3 626.5 C168.66 625.49 167.74 622.03 167.1 621 C166.46 619.97 164.7 618.47 163.8 617.7 C162.9 616.93 160.43 615.04 159.4 614.4 C158.37 613.76 155.96 612.59 155 612.2 C154.04 611.82 151.83 611.61 151.2 611.1 C150.57 610.59 149.79 608.56 149.6 607.8 C149.41 607.04 149.23 605.3 149.6 604.6Z" fill="#f8766d"/><path d="M162.7 638.5 C163.21 637.67 165.23 635.47 166 634.7 C166.77 633.93 168.4 632.48 169.3 631.9 C170.2 631.32 172.69 630.07 173.7 629.7 C174.71 629.33 177.17 628.44 178 628.7 C178.83 628.96 180.42 631.14 180.8 631.9 C181.19 632.66 181.63 634.3 181.3 635.2 C180.97 636.1 178.89 638.7 178 639.6 C177.11 640.5 174.84 642.26 173.7 642.9 C172.56 643.54 169.35 644.9 168.2 645.1 C167.04 645.3 164.57 644.99 163.8 644.6 C163.03 644.22 161.73 642.51 161.6 641.8 C161.47 641.09 162.19 639.33 162.7 638.5Z" fill="#ef7f45"/><path d="M180.2 590.3 C180.64 589.66 182.8 588.63 183.5 588.7 C184.2 588.77 185.56 590.46 186.2 590.9 C186.84 591.34 188.87 591.8 189 592.5 C189.13 593.2 187.69 596 187.3 596.9 C186.92 597.8 186.2 599.69 185.7 600.2 C185.2 600.71 183.64 601.5 183 601.3 C182.36 601.1 180.58 599.33 180.2 598.5 C179.81 597.67 179.7 595.16 179.7 594.2 C179.7 593.24 179.76 590.94 180.2 590.3Z" fill="#b79f00"/><path d="M167.1 606.2 C167.48 605.89 172.43 605.49 173.7 605.1 C174.97 604.72 177.11 603.47 178 602.9 C178.89 602.33 180.4 600.33 181.3 600.2 C182.2 600.07 185 601.29 185.7 601.8 C186.4 602.31 187.11 603.9 187.3 604.6 C187.49 605.3 187.62 607.17 187.3 607.8 C186.99 608.43 185.43 609.67 184.6 610 C183.77 610.33 181.23 610.66 180.2 610.6 C179.17 610.54 176.94 609.83 175.8 609.5 C174.66 609.17 171.42 608.18 170.4 607.8 C169.38 607.41 166.72 606.51 167.1 606.2Z" fill="#00a9ff"/><path d="M124.4 643.4 C124.6 642.94 126.81 641.64 127.7 641.2 C128.59 640.76 130.99 639.92 132 639.6 C133.01 639.28 135.43 638.76 136.4 638.5 C137.37 638.24 139.92 637.01 140.3 637.4 C140.69 637.78 140.03 640.9 139.7 641.8 C139.37 642.7 138.14 644.46 137.5 645.1 C136.86 645.74 135.09 647.17 134.2 647.3 C133.31 647.43 130.86 646.46 129.9 646.2 C128.94 645.94 126.64 645.43 126 645.1 C125.36 644.77 124.2 643.86 124.4 643.4Z" fill="#00a9ff"/><path d="M32.4 610.3 C32.87 609.12 35.42 608.45 36.4 608.1 C37.38 607.75 39.78 607.19 40.8 607.3 C41.81 607.4 44.28 608.5 45.1 609 C45.92 609.5 47.08 611.09 47.8 611.6 C48.52 612.11 50.28 612.99 51.3 613.4 C52.31 613.81 55.27 614.74 56.5 615.1 C57.73 615.46 60.92 616.14 61.8 616.5 C62.67 616.86 63.8 617.75 64 618.2 C64.2 618.66 64.17 620.04 63.5 620.4 C62.84 620.76 59.52 621.1 58.3 621.3 C57.07 621.5 54.23 622.21 53 622.1 C51.77 622 49.02 620.81 47.8 620.4 C46.57 619.99 43.73 618.9 42.5 618.6 C41.27 618.3 38.48 617.85 37.3 617.8 C36.12 617.75 32.97 619.08 32.4 618.2 C31.83 617.33 31.93 611.48 32.4 610.3Z" fill="#39b600"/><path d="M32.5 618.3 C33 617.47 36.13 617.79 37.3 617.9 C38.47 618 41.08 618.78 42.5 619.2 C43.92 619.62 47.87 621.2 49.5 621.5 C51.13 621.8 54.87 621.88 56.5 621.8 C58.13 621.72 62.37 620.55 63.5 620.8 C64.63 621.04 65.48 623.13 66.2 623.9 C66.92 624.67 68.94 626.69 69.7 627.4 C70.46 628.11 72.2 629.49 72.7 630 C73.2 630.51 74.26 631.59 74 631.8 C73.74 632.01 71.41 632.01 70.5 631.8 C69.59 631.59 67.22 630.41 66.2 630 C65.19 629.59 62.93 628.5 61.8 628.3 C60.67 628.1 57.73 628.1 56.5 628.3 C55.27 628.5 52.42 629.5 51.3 630 C50.18 630.5 47.72 632.39 46.9 632.6 C46.08 632.81 44.93 632.1 44.3 631.8 C43.67 631.5 42.23 630.09 41.5 630 C40.77 629.91 38.76 631.12 38 631 C37.24 630.88 35.58 629.7 35 629 C34.42 628.3 33.29 626.25 33 625 C32.71 623.75 32 619.13 32.5 618.3Z" fill="#00ba38"/><path d="M32.2 619 C32.48 618.14 34.56 618.25 35 618.6 C35.44 618.95 35.94 620.9 36 622 C36.06 623.1 35.73 627.07 35.5 628 C35.27 628.93 34.34 630.23 34 630 C33.66 629.77 32.81 627.28 32.6 626 C32.39 624.72 31.92 619.86 32.2 619Z" fill="#00c08b"/><path d="M31.1 640.5 C31.2 639.84 32.39 637.5 32.9 637 C33.41 636.5 34.79 636.29 35.5 636.2 C36.21 636.11 38.29 635.79 39 636.2 C39.71 636.61 41.13 639.05 41.6 639.7 C42.07 640.35 43.09 641.34 43 641.8 C42.91 642.25 41.67 643.39 40.8 643.6 C39.92 643.81 36.53 643.71 35.5 643.6 C34.47 643.5 32.51 643.06 32 642.7 C31.49 642.34 30.99 641.16 31.1 640.5Z" fill="#00c08b"/><path d="M65.3 616.2 C65.69 615.98 68.41 615.81 68.8 616 C69.18 616.19 68.98 617.58 68.6 617.8 C68.22 618.02 65.89 618.09 65.5 617.9 C65.11 617.71 64.91 616.42 65.3 616.2Z" fill="#00bfc4"/><path d="M70.5 617.5 C70.89 616.92 72.99 616.06 73.5 616 C74.01 615.94 74.96 616.49 74.9 617 C74.84 617.51 73.4 619.76 73 620.4 C72.6 621.04 71.83 622.43 71.5 622.5 C71.17 622.57 70.32 621.58 70.2 621 C70.08 620.42 70.11 618.08 70.5 617.5Z" fill="#00bfc4"/><path d="M70.3 665.5 C70.75 664.72 74.44 664.32 75.9 664.3 C77.36 664.28 81.19 665.1 82.8 665.3 C84.41 665.5 88.24 665.78 89.7 666 C91.16 666.22 94 666.87 95.3 667.2 C96.59 667.53 99.78 668.41 100.8 668.8 C101.81 669.18 104.09 670.22 104 670.5 C103.91 670.78 101.28 671.14 100 671.2 C98.72 671.26 94.63 671.05 93 671 C91.37 670.95 87.75 670.76 86 670.8 C84.25 670.83 79.63 671.28 78 671.3 C76.37 671.32 72.9 671.68 72 671 C71.1 670.32 69.84 666.28 70.3 665.5Z" fill="#ff61c3"/><path d="M88.8 656 C89.09 655.42 91.28 655 92 655 C92.72 655 94.59 655.59 95 656 C95.41 656.41 95.73 657.98 95.5 658.5 C95.27 659.02 93.7 660.33 93 660.5 C92.3 660.67 89.99 660.52 89.5 660 C89.01 659.48 88.51 656.58 88.8 656Z" fill="#ff6c91"/><path d="M97.5 655.5 C97.87 655.09 100.24 654.67 101 654.5 C101.76 654.33 103.3 653.92 104 654 C104.7 654.08 106.71 654.68 107 655.2 C107.29 655.73 106.97 657.94 106.5 658.5 C106.03 659.06 103.82 659.8 103 660 C102.18 660.2 100.11 660.43 99.5 660.2 C98.89 659.97 98.03 658.55 97.8 658 C97.57 657.45 97.13 655.91 97.5 655.5Z" fill="#ff6c91"/><path d="M104 672 C104.47 671.48 107.07 670.29 108 670 C108.93 669.71 111.07 669.62 112 669.5 C112.93 669.38 115.18 669.23 116 669 C116.82 668.77 118.07 667.79 119 667.5 C119.93 667.21 122.83 666.79 124 666.5 C125.17 666.21 128.18 665.47 129 665 C129.82 664.53 130.42 662.85 131 662.5 C131.58 662.15 133.3 661.83 134 662 C134.7 662.17 136.18 663.71 137 664 C137.82 664.29 140.07 664.15 141 664.5 C141.93 664.85 144.28 666.24 145 667 C145.72 667.76 146.97 669.95 147.2 671 C147.43 672.05 147.26 674.89 147 676 C146.74 677.11 145.82 679.74 145 680.5 C144.18 681.26 141.28 682.18 140 682.5 C138.72 682.82 135.4 683.14 134 683.2 C132.6 683.26 129.4 683.14 128 683 C126.6 682.86 123.4 682.17 122 682 C120.6 681.83 117.4 681.79 116 681.5 C114.6 681.21 111.17 680.02 110 679.5 C108.83 678.98 106.7 677.58 106 677 C105.3 676.42 104.23 675.08 104 674.5 C103.77 673.92 103.53 672.52 104 672Z" fill="#ef67eb"/><path d="M115.5 597.6 C115.97 597.2 118.3 596.5 119 596.6 C119.7 596.71 121.33 597.99 121.5 598.5 C121.67 599.01 121.03 600.64 120.5 601 C119.97 601.36 117.64 601.72 117 601.6 C116.36 601.48 115.17 600.47 115 600 C114.83 599.53 115.03 598 115.5 597.6Z" fill="#e6eed2"/><path d="M118 673 C118.12 672.24 120.07 670.91 121 670.5 C121.93 670.09 124.95 669.5 126 669.5 C127.05 669.5 129.36 669.98 130 670.5 C130.64 671.02 131.62 673.18 131.5 674 C131.38 674.82 129.88 676.98 129 677.5 C128.12 678.02 125.05 678.56 124 678.5 C122.95 678.44 120.7 677.64 120 677 C119.3 676.36 117.88 673.76 118 673Z" fill="#e3f3f3"/>
<path transform="scale(0.25)" d="M285 2278h0m-40 13h0m0-3h0m2-3h0m1-1h0m2-2h0m1 4h0m0-1h0m1-2h0m7 3h0m1-1h0m2 3h0m0 0h0m0 1h0m1 1h0m0-5h0m1 1h0m1 0h0m1-2h0m0 2h0m2 3h0m0-3h0m1 5h0m0-6h0m1 5h0m0-9h0m1 0h0m1 8h0m1 2h0m2-5h0m0-2h0m3-2h0m1 5h0m2-4h0m0 6h0m1 0h0m0-4h0m3 0h0m0 1h0m1 2h0m0 1h0m2-1h0m1-4h0m7 6h0m-9 10h0m-3-1h0m-1-4h0m-1 2h0m0 3h0m-1-5h0m-1 5h0m-3-5h0m0 8h0m-1-3h0m-2 0h0m-3-8h0m-1 6h0m-3 1h0m0 2h0m-2-4h0m-3 3h0m-1 3h0m0-8h0m-2-1h0m0-2h0m-2 4h0m-1 6h0m-3-7h0m0 6h0m-2-8h0m0 2h0m-1 0h0m0 3h0m-1-3h0m-5 8h0m-1 0h0m-2-2h0m-4 6h0m15-3h0m0 8h0m8-7h0m0 5h0m2-2h0m1 6h0m2-6h0m1 1h0m0-3h0m0 3h0m0-5h0m2 3h0m0-1h0m0 4h0m6 0h0m0-5h0m1 1h0m1-2h0m2 0h0m3 0h0m130 23h0m-4 0h0m-9-3h0m2 7h0m1-1h0m0-1h0m1 1h0m1-1h0m1 2h0m2 1h0m0 2h0m4-3h0m-58 337h0m1 4h0m4-3h0m6 0h0m9 6h0m0-4h0m17-5h0m6-1h0m21 1h0m10 11h0m-5-1h0" stroke="#a3a500" stroke-width="4" stroke-linecap="round" fill="none"/>
<path transform="scale(0.25)" d="M459 2279h0m-40 11h0m4-1h0m6 2h0m1-2h0m7 2h0m3 0h0m0-2h0m1-1h0m1-3h0m2 3h0m2-3h0m0 6h0m1-4h0m1 0h0m1 1h0m2-1h0m2 3h0m1-3h0m0-6h0m1 1h0m2 0h0m1 1h0m2 8h0m2-7h0m0 3h0m0 0h0m0-7h0m1 2h0m1 6h0m1-7h0m2 6h0m-2 13h0m-1 2h0m-1-2h0m-3-1h0m-2-3h0m-1 7h0m-2-3h0m0-4h0m-2 5h0m0-8h0m-1 10h0m0-9h0m-2 6h0m-4 2h0m-1-8h0m-3 9h0m0-4h0m0-5h0m0 3h0m-3 3h0m-1-4h0m-1 7h0m-1 0h0m-1-8h0m-3 5h0m0-6h0m-3 5h0m-1-7h0m-2 0h0m0 1h0m-1 10h0m0-2h0m-1 2h0m-1-6h0m-3-2h0m-3 5h0m3 5h0m7 2h0m2 1h0m1-4h0m0 2h0m2 0h0m2 1h0m1-1h0m8 1h0m0 1h0m0 1h0m1-4h0m1 1h0m1 1h0m1-2h0m0 3h0m1-4h0m2 8h0m5-4h0m0-3h0m2 1h0" stroke="#96ab00" stroke-width="4" stroke-linecap="round" fill="none"/>
<path transform="scale(0.25)" d="M448 2322h0m-5 4h0m-2 1h0m-1 0h0m0-6h0m-1 4h0m0-5h0m-1 3h0m-1 1h0m4 6h0m3 0h0m1-1h0m0-1h0m0 4h0m2 4h0m0 0h0m1-5h0m0-2h0m3 4h0m0-5h0m5 8h0" stroke="#00bcd0" stroke-width="4" stroke-linecap="round" fill="none"/>
<path transform="scale(0.25)" d="M432 2368h0m-4-1h0m-1 0h0m-1 6h0m0-5h0m0-1h0m-1-2h0m-1 2h0m-1 6h0m0 2h0m-1-7h0m-1 6h0m0-6h0m-2-1h0m0 1h0m-2-1h0m-2 0h0m-2 6h0m-1-3h0m-1 2h0m0-2h0m0 2h0m-1-3h0m-1 2h0m-1-5h0m0 3h0m-3 6h0m0-4h0m-3-2h0m-6-2h0m-6 7h0m-8 7h0m2-4h0m1-1h0m3 7h0m7-1h0m2-4h0m0 3h0m4-3h0m1 2h0m1-4h0m3 3h0m1 1h0m1 2h0m4-2h0m1-1h0m1 5h0m4-6h0m0 0h0" stroke="#b983ff" stroke-width="4" stroke-linecap="round" fill="none"/>
<path transform="scale(0.25)" d="M341 2371h0m-1 4h0m-7-1h0m-4 1h0m-3 2h0m1 2h0m0 5h0m2-5h0m3 3h0m0 1h0m2 0h0m0 4h0m1-4h0m3 2h0m2-3h0m0-6h0m2 10h0m0-4h0m1 0h0m1-6h0m0 3h0m0-3h0m1 8h0m2-3h0m0-1h0m1 1h0m3 4h0m2-5h0m3 7h0m0-5h0m3 3h0m15 11h0m-8 1h0m-1 0h0m-1 1h0m0-5h0m-1-2h0m-1 7h0m-4-5h0m0-1h0m0-2h0m0 6h0m-2 0h0m-4 0h0m0 2h0m-1-4h0m-3-5h0m-1 3h0m-1 2h0m-5-6h0m-3 10h0m-1-4h0m-6 4h0m-4-9h0m15 18h0m2-3h0m1 1h0m0-4h0m2-1h0m1 3h0m0 2h0m0 5h0m2-6h0m2-2h0m2-2h0m1 9h0m1-4h0m0-2h0m1 1h0m1 5h0m0 2h0m0 0h0m1-1h0m0-6h0m2 2h0m3-6h0m1 10h0m0 0h0m1-5h0m1 2h0m0 3h0m0-9h0m3 0h0m1 3h0m0-1h0m1 5h0m0-2h0m5-5h0m2 6h0m-4 10h0m-3-3h0m-3 7h0m0 1h0m-1-8h0m-3 2h0m-1-1h0m0 0h0m-2 1h0m0-1h0m-2 0h0m0-1h0m-1 2h0m-1 0h0m-4-4h0m-4 5h0m0-5h0" stroke="#8f93ff" stroke-width="4" stroke-linecap="round" fill="none"/>
<path transform="scale(0.25)" d="M369 2422h0m-4 0h0m-5-3h0m0 4h0m-2 0h0m-1-3h0m-3 3h0m-13 12h0m4 0h0m2-4h0m1 3h0m0-6h0m2 4h0m1 0h0m1 2h0m0-6h0m0 7h0m1-2h0m0-1h0m1-5h0m0 7h0m0-1h0m2-9h0m1 7h0m3 4h0m2-1h0m3-9h0m1 4h0m3 0h0m0-3h0m1 7h0m4-4h0m7 5h0m4-3h0m4 2h0m1 2h0m5-2h0m5-1h0m1-4h0m2 6h0m1 4h0m-4 1h0m-3 8h0m-2-6h0m0 1h0m0 0h0m-1 1h0m-3 3h0m-1 0h0m-1-8h0m-2 1h0m0 2h0m-3 2h0m-1-4h0m0 1h0m-1 2h0m-1 0h0m0-4h0m-2 1h0m-2 6h0m-1-1h0m0-8h0m-1 1h0m-1 10h0m-1-4h0m0-4h0m-2-1h0m0-2h0m-3 7h0m-2-1h0m-1 1h0m-2 4h0m-2-1h0m-3-3h0m0 2h0m-1 2h0m-1-1h0m-1-4h0m-2 4h0m-2-8h0m-1 1h0m0 0h0m-3 2h0m-5 5h0m-2-7h0m-9 8h0m5 4h0m3-2h0m1 2h0m0 1h0m0-4h0m0 3h0m2 6h0m1-7h0m1 1h0m1 4h0m0 0h0m1-1h0m1-6h0m1 6h0m1-3h0m3 8h0m1-5h0m2-5h0m1 1h0m1 1h0m0 6h0m0 0h0m2-9h0m1 6h0m2 5h0m0-10h0m2 7h0m0 3h0m1-8h0m3-2h0m2-1h0m1 10h0m0-3h0m1-2h0m0-5h0m1 2h0m2 7h0m4-2h0m0-3h0m5-1h0m2 4h0m4 2h0m0-9h0m1 3h0m1 1h0m0 0h0m1-3h0m0 0h0m2 5h0m1 2h0m0 1h0m2 1h0m-2 9h0m-2-5h0m-2 8h0m0-1h0m0-3h0m-1-6h0m0 3h0m-2 6h0m-3 1h0m0-4h0m0-6h0m0 8h0m-3-3h0m-2 3h0m-4-2h0m-1 4h0m0-1h0m0-9h0m-1 11h0m-1 0h0m0-11h0m0 7h0m-2 1h0m-6 2h0m0 0h0m-1-8h0m-6 5h0m-2-2h0m-2-1h0m0 2h0m-3-2h0m0-2h0m11 13h0m1 4h0m2 1h0m0-2h0m1-2h0m1-4h0m1 11h0m1-7h0m1-1h0m0-2h0m2 4h0m4 0h0m4-3h0m2-2h0m3 0h0m0 0h0m18 11h0m13 2h0m-4 7h0m-1 2h0m-2-6h0m0-3h0m0 9h0m-3-6h0m4 9h0m0 1h0m2 2h0m0 5h0m2 0h0m0-8h0m2 2h0m3-2h0m0 7h0m1 2h0m5-10h0m-11 13h0" stroke="#529eff" stroke-width="4" stroke-linecap="round" fill="none"/>
<path transform="scale(0.25)" d="M421 2470h0m-10-2h0m-3-1h0m-1 2h0m-1 1h0m0-3h0m-1 1h0m0-3h0m0-4h0m-1 2h0m-3 8h0m2 5h0m0 2h0m2-5h0m0 2h0m1-3h0m1 0h0m2 1h0m0 6h0m2-2h0m1 1h0m2 0h0m0-2h0m2 2h0m2-1h0m3 1h0m2-6h0m0 1h0m-14 13h0m-3-2h0" stroke="#d575fe" stroke-width="4" stroke-linecap="round" fill="none"/>
<path transform="scale(0.25)" d="M606 2410h0m1-4h0m2 5h0m0 0h0m0-2h0m5 1h0m3-6h0m2 2h0m1 3h0m2-2h0m0-2h0m6 6h0m1-2h0m0-7h0m4 7h0m0 0h0m2 0h0m26 2h0m-1 11h0m-2 1h0m-3-2h0m-6 1h0m-5-10h0m-1 11h0m0-4h0m-2-5h0m-1 1h0m0-2h0m-3 6h0m-1-4h0m-6-3h0m-1 0h0m-5 7h0m-1-7h0m0 8h0m0 3h0m-1 0h0m-3-10h0m0 5h0m0-1h0m-1 0h0m-1-4h0m-5 2h0m-1 7h0m0-5h0m-1 3h0m0-6h0m0 5h0m0 4h0m-3-9h0m-1 7h0m0 2h0m0-7h0m-1-2h0m-2 4h0m-2-3h0m-2 6h0m0 0h0m-6 13h0m2 0h0m1-3h0m5-7h0m4 1h0m1 1h0m1 8h0m1-10h0m1 0h0m1 0h0m3 5h0m1 0h0m8 1h0m1 0h0m0-5h0m0 3h0m4 0h0m0-1h0m2 3h0m3 4h0m1-5h0m1 2h0m1-1h0m1 2h0m0-6h0m5 4h0m3-1h0m1 4h0m0 1h0m3-6h0m2 2h0m0 4h0m1-1h0m0 0h0m0-7h0m6-1h0m1 0h0m2-1h0m1 2h0m1-1h0m0 1h0m0-1h0m0 7h0m0-4h0m7 5h0m0 1h0m1-1h0m1-6h0m1 2h0m1 0h0m1-2h0m0 5h0m2 0h0m5-3h0m1 5h0m1-2h0m1-3h0m4 2h0m2-2h0m2 5h0m0-1h0m0-2h0m1 3h0m0-5h0m4 5h0m15 6h0m-7 6h0m-2-2h0m-1-4h0m0 5h0m-3-1h0m0 3h0m0-1h0m0-8h0m-2 3h0m-1 1h0m0-6h0m-2 11h0m-2-1h0m-1-7h0m-3 6h0m-3-7h0m-4 1h0m0 8h0m-1-6h0m-4-1h0m-2-2h0m-6 8h0m0-5h0m-1-2h0m-1 1h0m0-4h0m-1 10h0m-4-10h0m-2 8h0m-1 2h0m-3 0h0m-1-4h0m0 1h0m-3-7h0m0 7h0m-1 2h0m0-9h0m-3 11h0m0-7h0m-1-1h0m-3 0h0m-2 7h0m-1-6h0m-3 1h0m-11-4h0m-2 2h0m-2 2h0m0 3h0m-1 2h0m-3-8h0m0 0h0m-1 8h0m-1-8h0m-1 9h0m-2-7h0m-2-3h0m-2 0h0m0 6h0m-1 0h0m-1 3h0m-1-2h0m0-8h0m0 8h0m0-2h0m-2-4h0m-4-2h0m-1 6h0m0-4h0m21 10h0m1 0h0m3 0h0m2 2h0m4-1h0m2 10h0m1-8h0m2 1h0m2 3h0m2-7h0m3 11h0m0-1h0m4-9h0m0 0h0m0 9h0m3-1h0m1-7h0m1-1h0m0 0h0m1 0h0m0 0h0m3 2h0m1 0h0m1 6h0m6-7h0m0 5h0m0 2h0m3-2h0m0-6h0m1 9h0m2-8h0m3 4h0m0-3h0m1 4h0m1 1h0m1-2h0m1 3h0m1-1h0m1-1h0m4 1h0m0-6h0m1 6h0m5-7h0m0 8h0m2 1h0m1-6h0m1 0h0m2 2h0m1-2h0m1-3h0m0 10h0m1-5h0m3-6h0m1 1h0m3 6h0m-1 8h0m-3-1h0m-3 6h0m0-6h0m0 5h0m0 4h0m-1-7h0m-1 5h0m-4-8h0m-2 1h0m-1 2h0m0-4h0m-2 9h0m0-9h0m-1 2h0m-4 5h0m-2-2h0m-1-4h0m-3 4h0m-1 5h0m-1-5h0m-3-4h0m0 6h0m0-7h0m-2 3h0m0 8h0m-3-5h0m0-2h0m-2-4h0m-1 0h0m0 4h0m-1-3h0m-7 9h0m-2-6h0m-1-3h0m-3 0h0m-3 1h0m-1 2h0m13 13h0m3-5h0m0 1h0m2-1h0m0 7h0m3-4h0m1-1h0m2 6h0m0 1h0m4-2h0m0-1h0m7-5h0m2 9h0m1 1h0m1-3h0m1-2h0m0-3h0m1 2h0m1-5h0m0 10h0m1-5h0m0 2h0m1-2h0m1 6h0m0-9h0m1 7h0m0-7h0m2 0h0m0 1h0m2 4h0m1-4h0m0 5h0m1-4h0m1-1h0m0 0h0m1-3h0m1 2h0m1 2h0m6 18h0m-1-1h0m-2-1h0m0 1h0m0-3h0m-1 2h0m0 2h0m-3-8h0m-1 0h0m-2 3h0m0 5h0m-1-7h0m0 8h0m0-8h0m-1 1h0m-2 4h0m0 3h0m-1-8h0m-3 2h0m0-4h0m-1 6h0m0-1h0m-2 2h0m-3 0h0m0-5h0m-2-2h0m-1 0h0m-1 3h0m-3-4h0m-3 10h0m-2-7h0m-1 0h0m-1-1h0m3 14h0m2-1h0m1 0h0m0 6h0m1 0h0m1-9h0m1 6h0m0 0h0m1-1h0m1-4h0m2 3h0m0 7h0m2 0h0m2-10h0m1 8h0m1-2h0m0-7h0m1 6h0m1 5h0m1-11h0m1 4h0m1-1h0m3 8h0m1-1h0m2-9h0m0 2h0m1-1h0m0 5h0m2-5h0m0 8h0m0-7h0m1 3h0m6 3h0m1 1h0m2 9h0m0 0h0m-1-7h0m-1 0h0m-3 9h0m-3-9h0m-2 0h0m-2 5h0m-1 3h0m0 0h0m-3-8h0m-2 8h0m-2 2h0m-1-2h0m-3-5h0m-2 0h0m-1 8h0m-1-11h0m-1 1h0m-2 6h0m-1-5h0m0 2h0m-253 6h0m-2 1h0m-4 0h0m-4 5h0m3 7h0m2-7h0m1 1h0m1-2h0m0 0h0m1 7h0m0-1h0m0 1h0m0-1h0m2-7h0m1 3h0m0-1h0m1-1h0m0 3h0m1 4h0m0-2h0" stroke="#f8766d" stroke-width="4" stroke-linecap="round" fill="none"/>
<path transform="scale(0.25)" d="M139 2430h0m5 3h0m5-4h0m11 6h0m0-2h0m0-1h0m0-2h0m3 2h0m5 2h0m1-3h0m4 4h0m11-2h0m6 10h0m-1 1h0m-1 1h0m0 0h0m-2-7h0m-1 6h0m-2-1h0m-1-2h0m-4-1h0m-2 6h0m0 0h0m-1 1h0m-1-2h0m-1-7h0m0 6h0m0-3h0m-3 2h0m0 4h0m0-9h0m-2 9h0m-3-5h0m-1 0h0m-1 1h0m-1-2h0m-3 1h0m0 4h0m-2-8h0m-1 3h0m-3-2h0m-2 4h0m-1-5h0m-1 1h0m0-1h0m-1-1h0m0 1h0m-1 2h0m-1 0h0m-2-3h0m0 1h0m-2 0h0m0 5h0m-1-6h0m-1 8h0m0-5h0m0-4h0m-1 7h0m0 2h0m-3-9h0m0 4h0m0 1h0m0 2h0m-1-7h0m-1 5h0m-2 4h0m0-5h0m-2 2h0m-2 0h0m2 6h0m0 8h0m1-8h0m0 5h0m1 4h0m2-8h0m1 6h0m0 2h0m3-1h0m1 1h0m2 1h0m0-4h0m1-4h0m0 9h0m1-7h0m0 0h0m0 4h0m1-2h0m2-2h0m0 3h0m2-4h0m1 2h0m2 2h0m0 1h0m7 3h0m0-5h0m0 1h0m3 4h0m2-10h0m2 5h0m2-1h0m0-2h0m2 7h0m1 1h0m1-3h0m1-4h0m0 2h0m2 3h0m1 1h0m1 0h0m2-3h0m4 0h0m0-7h0m3 6h0m1-4h0m0 3h0m3 5h0m2-8h0m1-2h0m0 1h0m1 6h0m1 0h0m0 0h0m0-6h0m3 2h0m3 1h0m0 4h0m1-4h0m1 5h0m1-6h0m3 3h0m1 1h0m0 0h0m9 3h0m0-2h0m1 0h0m2 3h0m11-1h0m28 13h0m-1-2h0m-4-5h0m-1 1h0m-2 4h0m0 1h0m-6-4h0m-1 5h0m-3-6h0m-2 5h0m-1-2h0m0 2h0m0-5h0m-1-1h0m-1 2h0m-2 2h0m0-1h0m-1 1h0m-1-4h0m-2-4h0m-2 2h0m-1 1h0m0 1h0m-1 7h0m-5-8h0m-1 3h0m-2-5h0m-2 5h0m0-3h0m0 2h0m0 0h0m-1 5h0m-1-10h0m-2 0h0m-3 0h0m0 1h0m-1 6h0m-1-3h0m-5 6h0m-1-3h0m-2 0h0m-3-5h0m-1 7h0m0-5h0m0 3h0m-1-4h0m-1 7h0m-1-1h0m-1-4h0m0-2h0m0 3h0m-1 2h0m-1-3h0m-1-3h0m-1 8h0m-2-1h0m-2-6h0m-1 0h0m0 1h0m0 2h0m-4-6h0m-1 7h0m0-1h0m0 0h0m-6-3h0m0 7h0m-2-9h0m0 8h0m-1-3h0m-1 2h0m-1-3h0m-2 6h0m-2-11h0m-2 11h0m-2-6h0m0-3h0m-2 3h0m-1 1h0m-2-4h0m-1-1h0m-2 10h0m-3-9h0m-2 8h0m0 0h0m0-5h0m-2 5h0m0-3h0m-3-1h0m-2 1h0m-1 1h0m-2-7h0m-1 5h0m0 1h0m0-5h0m-1 4h0m-2-4h0m0 10h0m4 0h0m2 5h0m18-4h0m2 3h0m3-4h0m4 1h0m1 0h0m1-1h0m1 1h0m2 5h0m0-3h0m1 7h0m2-10h0m5 1h0m3 6h0m1-4h0m3-3h0m4 7h0m2-6h0m0 4h0m1-2h0m1-3h0m5 0h0m0 10h0m0-3h0m2-7h0m1 7h0m1 1h0m2-8h0m0 2h0m1 2h0m2 4h0m1 1h0m5 1h0m3-3h0m3 4h0m11-8h0m3 5h0m3 3h0m1-3h0m2-6h0m1 9h0m0 0h0m2-4h0m1 4h0m0-3h0m0-4h0m2 3h0m1 1h0m1 1h0m1-4h0m0 2h0m1-5h0m1 5h0m0-3h0m3-2h0m0 7h0m0-4h0m1 0h0m0 4h0m2-6h0m1 2h0m0 2h0m1-3h0m2 3h0m0-5h0m1 8h0m1-5h0m-8 8h0m-18-1h0m-1 1h0m-2 2h0m-2 3h0m-4-5h0m-3 1h0m-4 6h0m-4-8h0m0 3h0m-1 1h0m-2 0h0m-2 2h0m-3-1h0m-2-5h0m-1 1h0m-2-1h0m-11 1h0m187 46h0m0 0h0m3-6h0m1 0h0m0 6h0m1-8h0m1 5h0m0 1h0m1-3h0m0 1h0m0-2h0m0-1h0m0 3h0m1 0h0m0 3h0m7 2h0m-11 0h0m-1 0h0m-3 2h0" stroke="#39b600" stroke-width="4" stroke-linecap="round" fill="none"/>
<path transform="scale(0.25)" d="M470 2447h0m-6-2h0m-2 1h0m-1-1h0m-2 0h0m-1-1h0m-1-7h0m2 20h0m2-4h0m1-2h0m2 4h0m0 3h0m1 1h0m1-2h0m1-1h0m1-1h0m3 3h0m5-3h0m1 4h0m0-6h0m1 2h0m4-4h0m-6 9h0m-4 4h0m-2-2h0m-3-1h0" stroke="#6db31a" stroke-width="4" stroke-linecap="round" fill="none"/>
<path transform="scale(0.25)" d="M504 2363h0m3-5h0m0 1h0m1-3h0m4 2h0m1 3h0m0-4h0m0 2h0m1 0h0m1 1h0m1 3h0m0-6h0m0-1h0m2 5h0m2 8h0m-2 2h0m0 2h0m-1-4h0m-1-5h0m0 0h0m0 3h0m0-1h0m-1 8h0m-1-5h0m-4-1h0m0-1h0m0 3h0m0-3h0m-5-2h0m-1 10h0m0 0h0m0-9h0m-1 5h0m0 3h0m-2 0h0m-2-2h0m-5 3h0m-1-1h0m-1 1h0m-1 0h0m-1 0h0m-4-1h0m0-5h0m-7 6h0m-8-2h0m-1 0h0m-7-6h0m-2 8h0m-8-2h0m-8 10h0m7 1h0m2 2h0m0-2h0m0-3h0m2 4h0m1-2h0m4-1h0m1 0h0m4 1h0m3-4h0m0-3h0m1 4h0m0 2h0m1-5h0m1 2h0m3-3h0m2 7h0m4-1h0m1 0h0m3-2h0m4 2h0m2-1h0m0 1h0m3 5h0m5-8h0m2-3h0m1 8h0m2-6h0m2-1h0m0 0h0m1 7h0m1-1h0m1 2h0m2-8h0m1-1h0m6 10h0m0-6h0m0-2h0m0-1h0m0 0h0m5 8h0m2 2h0m0 0h0m2 0h0m6 3h0m-2 4h0m-1 4h0m0-4h0m-1 3h0m0-1h0m-8-5h0m-2 6h0m-1-1h0m-2-2h0m0 1h0m-1-7h0m0 2h0m-2 0h0m-3 4h0m-2 1h0m-13-2h0m-1 6h0m-4-9h0m0 9h0m-9-10h0m-14-1h0m-4 0h0m-8 0h0m0 10h0m0-1h0m-3-9h0m-2 15h0m0 0h0m1-3h0m0 11h0m1-1h0m1-6h0m2-3h0m0 10h0m0-1h0m1-1h0m1-7h0m2-2h0m1 4h0m0 3h0m2-5h0m4 6h0m13-2h0m5 5h0m0-8h0m1-1h0m2 6h0m4 1h0m0 0h0m1-6h0m5 8h0m0-4h0m1 2h0m0-3h0m1-5h0m0 10h0m1-9h0m0 5h0m3 4h0m0-1h0m0-1h0m1 0h0m1-1h0m1-2h0m2-2h0m1 5h0m5-7h0m1 9h0m6-3h0m0-4h0m0 4h0m1-5h0m1-1h0m0-2h0m1 3h0m0 4h0m0 4h0m2-10h0m1 3h0m2-4h0m1 4h0m0 7h0m0-6h0m0 6h0m2-3h0m1-6h0m-7 11h0m-3 1h0m-1 3h0m-1 5h0m-2-5h0m0 1h0m-1-2h0m-2 2h0m0 4h0m0-4h0m-2 2h0m-1-3h0m-1 3h0m0-7h0m-1 3h0m0 5h0m-2-8h0m-2 1h0m-2 6h0m-3 1h0m-1-2h0m-1-7h0m0 2h0m-2 2h0m0 3h0m-1 1h0m-1 0h0m0-6h0m-2 2h0m0 6h0m-1-5h0m-1 5h0m-1-7h0m-2-3h0m-6 1h0m-2 3h0m-4-4h0m0 2h0m-1-1h0m-2 3h0m-2 1h0m-2-1h0m-3-1h0m-1 2h0m-1 2h0m0 2h0m-1-5h0m-3 0h0m-3-2h0m38 11h0m7 3h0m5-2h0m71 9h0m0-1h0m10 0h0m1-3h0m1 1h0m0 0h0m0-1h0m2 1h0m10-1h0m1 3h0m2-1h0m-3 7h0m-1-2h0m-1 2h0m-4-3h0m-1-1h0m-2 0h0m-2 1h0m-4 0h0m-1 3h0m-4 6h0m0-1h0m-1-2h0m-1 4h0m-2-2h0m-4-8h0m-1 4h0m0 1h0m-1-4h0m-1 1h0m-2-2h0m0 0h0m-1 6h0m-1-1h0m-1 4h0m0-2h0m-2-3h0m0 0h0m-9 0h0m-5 6h0m-13-1h0m-24 6h0m8 1h0m4 6h0m0-1h0m2-4h0m0-1h0m1 0h0m1 3h0m0-1h0m1-4h0m1 6h0m0-6h0m1 5h0m1-6h0m1 2h0m2 2h0m2-1h0m2 4h0m1 2h0m0-6h0m2 0h0m3-2h0m0-3h0m4 11h0m0-11h0m0 0h0m1 11h0m1-2h0m2 1h0m1 0h0m3-6h0m1 0h0m0 2h0m5-6h0m0 11h0m0-8h0m2 1h0m0 6h0m1-9h0m5 10h0m1-5h0m3 2h0m1 3h0m0-7h0m1-1h0m3-3h0m0 10h0m3-1h0m2 1h0m2-6h0m2 5h0m1 2h0m0-2h0m1-2h0m1-1h0m0 0h0m0-2h0m3 1h0m2-5h0m1 4h0m2-3h0m-11 14h0m-3 6h0m-1-2h0m-3-6h0m-1 2h0m0 5h0m-3-3h0m0 5h0m-1-9h0m-2 5h0m-2 0h0m-1 0h0m0-6h0m-1 6h0m0-2h0m-1 2h0m-4-1h0m-3-2h0m-1-1h0m-7 5h0m0-3h0m0-4h0m-1 2h0m-1 0h0m-1 3h0m-6 3h0m-1-3h0m0-3h0m-2-1h0m-3 5h0m-3-2h0m-2-4h0m-4 8h0m-4-2h0m0 1h0m0-4h0m-2 4h0m0 0h0m-1 2h0m0-3h0m-5-6h0m0 5h0m-1 1h0m-4 4h0m-1-2h0m0-3h0m-1-1h0m-2-1h0m0 6h0m0-1h0m-1-5h0m0 6h0m0 2h0m-1-1h0m-211-4h0m0-1h0m-3 0h0m-1 2h0m-1 1h0m0-2h0m-1 3h0m0-1h0m0-3h0m0-2h0m-1 2h0m-2 5h0m0-6h0m-4 6h0m-2-1h0m-2-2h0m-4-4h0m-1-1h0m0 3h0m-1 0h0m0-4h0m-2 8h0m0-1h0m-1-1h0m-2-2h0m0 1h0m-1 3h0m-3 1h0m0-5h0m-1 1h0m-2 2h0m0 2h0m0-2h0m-2 2h0m-2 0h0m-2 1h0m17 2h0m12 7h0m5-4h0m0-2h0m5 3h0m2-2h0m0 0h0m213-2h0m0 8h0m2 2h0m1-2h0m0 0h0m0 0h0m1 2h0m1-5h0m0-3h0m1-3h0m0 4h0m2 1h0m0-4h0m2 2h0m1-3h0m0 8h0m0-4h0m1 5h0m1-1h0m3-5h0m0 8h0m1-1h0m1-7h0m0 5h0m1-5h0m0 1h0m1 3h0m1 0h0m2-6h0m0 8h0m1-9h0m1 2h0m4 0h0m41 1h0m-54 9h0m-7 4h0m-6-3h0m-226 0h0m-2 5h0m-1-3h0m-2-3h0m-1 1h0m-4 2h0" stroke="#00bfc4" stroke-width="4" stroke-linecap="round" fill="none"/>
<path transform="scale(0.25)" d="M546 2324h0m-2 3h0m0-8h0m0 7h0m-2-1h0m-3 0h0m0 1h0m-3 1h0m0-1h0m-1 1h0m-2-4h0m0 3h0m-21 11h0m6-2h0m2 4h0m0-4h0m1 0h0m0-3h0m1 2h0m3-3h0m1 1h0m2 3h0m1 2h0m0-2h0m2-3h0m3 2h0m1-6h0m1 7h0m0 4h0m3-1h0m1-10h0m0 3h0m3 4h0m1-4h0m0 4h0m0-2h0m3 2h0m2-3h0m2 5h0m2 1h0m1 1h0m0-7h0m0-1h0m1-3h0m6 9h0m0-2h0m23 16h0m0 0h0m-8-2h0m-3-1h0m-1 1h0m-1-2h0m-1 2h0m0 0h0m-1 0h0m0-6h0m-1 2h0m-2-1h0m0-1h0m-1 7h0m-1-9h0m-1-1h0m-2 10h0m-2-7h0m-1 2h0m-7-3h0m-1 5h0m-1 0h0m0 0h0m-1 3h0m0-6h0m-5 7h0m-1-4h0m0 4h0m-1-11h0m0 11h0m-1-1h0m0-5h0m-1 2h0m-6 1h0m-4-6h0m-1 0h0m0-1h0m-1 3h0m-1 5h0m-2-1h0m-1 1h0m-1-1h0m-1-4h0m-7 3h0m0-7h0m-1 10h0m0-8h0m-1 0h0m0 9h0m-2-4h0m-1-2h0m0 3h0m-1 0h0m0 0h0m2 6h0m3-1h0m1 8h0m1-9h0m2 9h0m2-4h0m1-3h0m1 3h0m0 2h0m0 3h0m3-10h0m0 1h0m1 10h0m1-5h0m1 3h0m0-4h0m0-4h0m0 8h0m1-1h0m3 2h0m3-2h0m2-2h0m1 4h0m3-10h0m2 10h0m1-6h0m1 7h0m2 0h0m5-3h0m3 0h0m0-1h0m0-1h0m1-2h0m1-4h0m1 3h0m1 7h0m0-10h0m0 11h0m2-8h0m1 1h0m2-4h0m2 10h0m4-1h0m0-6h0m3-2h0m1 4h0m1 1h0m0-6h0m1 1h0m0 8h0m4-9h0m0 1h0m1 0h0m1 2h0m0-2h0m1 2h0m4 5h0m1-5h0m2 5h0m1-1h0m1 0h0m2-3h0m3 2h0m1-3h0m0 0h0m0-2h0m1 3h0m0 3h0m3 4h0m1-7h0m1 1h0m2 3h0m1 3h0m5-7h0m3-1h0m3 2h0m2 2h0m1 4h0m6 10h0m-2-4h0m-1 1h0m-2-2h0m-2 6h0m-1-10h0m-1 5h0m-1 4h0m-1-4h0m-1 1h0m0 3h0m-1 0h0m-1-3h0m-2 3h0m0-5h0m-2 3h0m-6 0h0m-1-2h0m-1-4h0m0 9h0m-1-1h0m0 0h0m-1-8h0m-4-1h0m-1 9h0m-1-4h0m-4 2h0m-2 4h0m-2-10h0m-2 3h0m0 6h0m0 0h0m-1 1h0m-1-8h0m-2-1h0m0 0h0m0-2h0m-1 5h0m-1-2h0m-1 2h0m-1-1h0m-3 5h0m0-8h0m0 10h0m-2-1h0m-2 1h0m-1-7h0m-3 7h0m0-2h0m-3-8h0m-1 3h0m0-2h0m-1 1h0m-1 0h0m-1-3h0m-1 3h0m-2-2h0m0-1h0m-2 1h0m0 0h0m-1 1h0m-5 0h0m-1-1h0m-1 3h0m-1-4h0m0 9h0m-8-2h0m-1-7h0m0 7h0m-9-6h0m42 12h0m0 2h0m2 3h0m1-6h0m2 9h0m2-9h0m1 8h0m4-5h0m0 8h0m1-10h0m1 8h0m3 0h0m1-8h0m1 8h0m4-1h0m1-2h0m4 1h0m1-5h0m1 8h0m2-3h0m2-7h0m3 6h0m1 5h0m2-7h0m1-2h0m6 7h0m6-5h0m1-2h0m4 4h0m0-5h0m1 10h0m2-10h0m0 0h0m2 8h0m4-5h0m7 3h0m0 4h0m2 6h0m-2-3h0m-1 2h0m-1-2h0m0 0h0m0 5h0m-1-1h0m-4-6h0m0 9h0m-1-3h0m-2-6h0m-2 0h0m-1 0h0m0 0h0m0 4h0m0 5h0m-1-5h0m-1 3h0m-2-5h0m-1 8h0m-1-2h0m-1-5h0m0 2h0m-1 2h0m-3 2h0m-1 2h0m-6-7h0m-1 3h0m-1-4h0m-6 8h0m-3-6h0m-1 0h0m-1-5h0m0 3h0m-3 0h0m-3-1h0m0 7h0m-2-8h0m-4 3h0m0 2h0m0 5h0m-2-5h0m-1-2h0m-2 2h0m-1-5h0m-1 6h0m0 2h0m-2-2h0m-2-3h0m-1-1h0m-1 3h0m-1-3h0m-6-3h0m17 12h0m1 3h0m2 0h0m2-2h0m0 1h0m2 6h0m2-7h0m0 6h0m5-3h0m1-3h0m0 2h0m1 6h0m0-8h0m1 6h0m1 1h0m0-1h0m0 2h0m3 2h0m0-1h0m1 0h0m0-6h0m1 2h0m5 5h0m0-8h0m1 2h0m4-4h0m1 3h0m2-2h0m1-1h0m1 0h0m0 5h0m-4 13h0m-11-5h0m-11-2h0m-2 0h0" stroke="#d89000" stroke-width="4" stroke-linecap="round" fill="none"/>
<path transform="scale(0.25)" d="M719 2519h0m-3-3h0m-1 1h0m-1 1h0m0-2h0m-2-5h0m-1 5h0m0-1h0m-1-2h0m0 3h0m-3-3h0m-1 2h0m-4 4h0m-2-1h0m-2 0h0m-4-1h0m-19 11h0m5 2h0m0-6h0m3 6h0m2-2h0m4-5h0m0 4h0m0-2h0m1 0h0m2-5h0m1 9h0m0-1h0m1 0h0m0 2h0m0-7h0m2-2h0m0 7h0m0-6h0m1 9h0m0-4h0m2-2h0m5 1h0m1-3h0m0 2h0m0 3h0m0 1h0m1 2h0m0-8h0m0-3h0m0 11h0m4-3h0m2-6h0m2 9h0m1-2h0m0-4h0m3 2h0m0-4h0m1 7h0m0-7h0m0 1h0m1-4h0m0 7h0m1-1h0m0-2h0m0 0h0m6 1h0m2 12h0m0-2h0m-3 5h0m-2-4h0m0 5h0m-1-6h0m-1 3h0m-1 3h0m-1-2h0m0-7h0m-1 11h0m0-7h0m0 2h0m-3 1h0m0 4h0m-2-3h0m-2 3h0m-2-4h0m-2-3h0m-1 3h0m0 0h0m0 2h0m-2-2h0m0-6h0m-1 4h0m-1-4h0m-1 1h0m-1-1h0m-2 0h0m0 9h0m-1-7h0m-1 1h0m0-3h0m0 6h0m-2 0h0m0 2h0m-3-8h0m-1 2h0m0 3h0m0-2h0m0 4h0m0-8h0m-1 11h0m-1-2h0m0 0h0m-3-1h0m-8-5h0m0-2h0m-1 7h0m0 1h0m-2 2h0m-1-11h0m0 1h0m-1 2h0m-3 2h0m-2 0h0m-2-2h0m-1 7h0m-1-2h0m-1 3h0m-19 11h0m2 1h0m5-3h0m4-3h0m0-3h0m1 7h0m0 2h0m0-8h0m1 1h0m4-3h0m0 10h0m0-8h0m1 0h0m1 8h0m0-9h0m3 9h0m1-1h0m3-1h0m1-2h0m3-2h0m4-2h0m0 4h0m4-3h0m1-1h0m0 0h0m0 0h0m2 3h0m0-2h0m0 3h0m2 2h0m2 1h0m0-6h0m1 5h0m1 0h0m2 2h0m3-3h0m0-6h0m1 1h0m1 8h0m5-3h0m2 2h0m4-5h0m1 2h0m1 3h0m0-5h0m5-4h0m0 6h0m1-7h0m2 1h0m1 1h0m5 4h0m-17 10h0m0 2h0m-1-5h0m-1-1h0m-2 8h0m-2-3h0m-1 4h0m-2-3h0m-2-6h0m-1 9h0m-1 2h0m-2-1h0m-4-8h0m-3 6h0m-1 1h0m-1-6h0m-1 3h0m-1-2h0m-4 2h0m-3-4h0m-9 4h0m-1 0h0m-2 2h0m-2-5h0m-5-2h0m-4 8h0m-3-4h0m-1 4h0m-2-5h0m0 0h0m-1 6h0m3 2h0m1 11h0m1-8h0m0 3h0m1-6h0m1 11h0m0-9h0m0 4h0m6-3h0m1 4h0m1-2h0m0 3h0m0-4h0m3 5h0m1-2h0m2-5h0m1 5h0m5-5h0m5 6h0m2-6h0m0-2h0m1 2h0m0 7h0m5 1h0m3-3h0m1 0h0m4-4h0m-13 11h0m-7-2h0m-10 0h0" stroke="#ef7f45" stroke-width="4" stroke-linecap="round" fill="none"/>
<path transform="scale(0.25)" d="M726 2356h0m1 5h0m2-8h0m2 7h0m1 1h0m0-3h0m1-1h0m0 3h0m0-2h0m1-5h0m0 3h0m1 2h0m0-3h0m6 0h0m1 7h0m1-2h0m1 2h0m6 1h0m9 2h0m-5 4h0m0 2h0m-2 1h0m-1-1h0m0-3h0m0-3h0m-1 5h0m-1-1h0m-1-3h0m-1 0h0m0 2h0m-2 5h0m0 2h0m-1-3h0m0-6h0m-2 6h0m-1 2h0m-3-1h0m-2 0h0m-2-5h0m-1-3h0m-1 0h0m-1-1h0m0 0h0m0 4h0m-5 6h0m-1-1h0m-2-7h0m0 8h0m-2-6h0m-2-4h0m-1 4h0m0-4h0m-1 9h0m2 3h0m0 6h0m1 0h0m0 1h0m1 4h0m1-4h0m0-1h0m0-6h0m1 7h0m0-3h0m0 3h0m1 0h0m1 1h0m0-1h0m3-6h0m0 4h0m1 4h0m1-4h0m1-3h0m2 4h0m2 5h0m1-8h0m0-2h0m1-1h0m2 2h0m3 9h0m1-2h0m2-5h0m1-1h0m2-1h0m1 5h0m0 0h0m2-2h0m1 5h0m1-9h0m1 13h0m-6 1h0m-2 3h0m0-5h0m0 8h0m-1-8h0m-1-1h0m0 5h0m-1 1h0m0-6h0m-1 1h0m-9 9h0m-4-5h0m0 6h0m-1 0h0m-2 0h0m-2 0h0m-3-4h0m0 3h0m-1-4h0m9 11h0m1-4h0m2-1h0m0 7h0m2-4h0m0 0h0m3-3h0m1 3h0m2 1h0m3-2h0" stroke="#b79f00" stroke-width="4" stroke-linecap="round" fill="none"/>
<path transform="scale(0.25)" d="M710 2410h0m6-4h0m1 3h0m1 2h0m0-3h0m1-1h0m2-3h0m3-1h0m0 3h0m0-1h0m1 1h0m0 1h0m1-3h0m1-1h0m9 4h0m1 2h0m6 2h0m0-4h0m10 13h0m-3-2h0m-3 1h0m-1-6h0m0 0h0m0 8h0m0-9h0m-2 6h0m-3-3h0m-2 0h0m-1 4h0m-1-2h0m0 4h0m-1-3h0m0 4h0m-2-10h0m0 3h0m-5-1h0m-4 0h0m-4-2h0m-1 10h0m0-2h0m0-5h0m-7 4h0m-1-7h0m-2 10h0m0 1h0m-2-8h0m0 8h0m-1-7h0m-4 1h0m-1 0h0m0 2h0m-1 3h0m0-1h0m0-8h0m-1 6h0m-1 4h0m-17 0h0m-9 0h0m-5 3h0m2 2h0m3-1h0m5-3h0m1 4h0m1 1h0m2 1h0m0 5h0m1-8h0m0 2h0m1-1h0m0-3h0m0 10h0m3-4h0m0-2h0m0 2h0m1 2h0m1-2h0m1-4h0m0 0h0m2 3h0m1 4h0m1-5h0m0 1h0m0 3h0m1-7h0m0 6h0m3-8h0m1 6h0m1-3h0m1 1h0m1 1h0m0-5h0m0 10h0m1-2h0m1 1h0m0 0h0m4 0h0m2-5h0m2 3h0m0-5h0m1 5h0m3-4h0m1-1h0m0-1h0m1 9h0m1-5h0m0-2h0m5-3h0m5 4h0m1 6h0m4-2h0m2-7h0m0 7h0m3-2h0m1-4h0m0 5h0m1-1h0m2-1h0m1 3h0m2 1h0m0 0h0m1 1h0m1-9h0m2 6h0m2 7h0m-4-2h0m-4 9h0m-5-8h0m0 6h0m-3-3h0m0-1h0m-1-2h0m-4 0h0m-1 5h0m-2-2h0m-1 1h0m-4-1h0m0-4h0m-2 7h0m-1-2h0m-2 1h0m-4-5h0m-2 0h0m-3 1h0m-1 0h0m-2 0h0m-6-2h0m0 1h0m-2 0h0m-5 0h0m-1 1h0m-155 117h0m3-1h0m1-2h0m11 3h0m2 0h0m2-1h0m11-1h0m-2 3h0m-1 3h0m-2-2h0m-2 2h0m-1 8h0m-1-6h0m0-5h0m-1 4h0m-2 4h0m-4-1h0m-2-5h0m-1 7h0m-7-3h0m0 0h0m-1-3h0m-1-3h0m-6 2h0m0-1h0m-1 8h0m0-7h0m0 9h0m-2-7h0m0-1h0m-2 0h0m-3-1h0m-1 1h0m-2 6h0m-1-2h0m-1 0h0m-1 0h0m-2 1h0m0-1h0m-1-2h0m-2 6h0m-2-2h0m-18 10h0m3 4h0m3-4h0m1-1h0m1 3h0m0-7h0m0 9h0m1-7h0m0-4h0m1 5h0m1 3h0m1-4h0m0 5h0m4-8h0m0 3h0m2 7h0m1-10h0m0 4h0m4 0h0m1-1h0m0 4h0m2 3h0m2-8h0m1 2h0m0-2h0m2 2h0m1 6h0m2-10h0m1 10h0m4-8h0m0 7h0m1-1h0m0-5h0m2-3h0m2 6h0m1-3h0m0 6h0m6 1h0m5-3h0m0 2h0m0-1h0m2-8h0m0 10h0m1-6h0m1-1h0m0 0h0m3-4h0m2 1h0m3 0h0m-11 13h0m-4-2h0m0 1h0m-2-1h0m-1 4h0m-1-3h0m0 4h0m-2 1h0m-1 0h0m-3 2h0m0-1h0m-1-3h0m-1-2h0m-11 1h0m-1 2h0m-2-4h0m0-1h0m-1 7h0m0-6h0m-4 4h0m-6-5h0m-2 0h0m-1 7h0m-2-7h0" stroke="#00a9ff" stroke-width="4" stroke-linecap="round" fill="none"/>
<path transform="scale(0.25)" d="M159 2471h0m-10-5h0m-2 3h0m-6 0h0m-14 4h0m2 3h0m1 7h0m1-5h0m0 4h0m1-5h0m1-2h0m9-2h0m0 7h0m1-6h0m2 3h0m4-3h0m1 2h0m0 1h0m1 1h0m1 4h0m1-7h0m2 3h0m0 1h0m3-3h0m2 0h0m1-2h0m0-1h0m11 6h0m0-3h0m5-1h0m1 6h0m57 0h0m18 0h0m9 12h0m-1 1h0m-2 0h0m0-2h0m0-7h0m-1 10h0m0 0h0m-2-3h0m0-1h0m-3 3h0m-1-3h0m-1-6h0m-5 3h0m-1 1h0m-1-3h0m-2 4h0m-1-6h0m-5 3h0m0-2h0m-2 0h0m-1 4h0m0-3h0m-3 2h0m-2-1h0m-1 1h0m0-4h0m-1 8h0m-1-2h0m-7 2h0m0-4h0m-1 2h0m0-1h0m-1 3h0m-1-7h0m-1 8h0m0-2h0m-11 4h0m0-5h0m0 1h0m-4-1h0m-4-2h0m-6-4h0m-1 10h0m-1 0h0m-9-3h0m-4-3h0m-9 4h0m-2 0h0m0-2h0m-3 4h0m-2-8h0m0 3h0m-1-2h0m-2 6h0m-1-5h0m-1-3h0m-1 8h0m0-9h0m0 1h0m-2 2h0m-2-2h0m-2 6h0m0-4h0m-2 4h0m0-4h0m-1 8h0m-1-9h0m-3 2h0m-2 2h0m-2-4h0m0 7h0m-2 0h0m-4-6h0m1 12h0m0-1h0m3 8h0m1-6h0m3 6h0m2 1h0m1-2h0m2-2h0m0 3h0m1-7h0m8 1h0m0 2h0m1-2h0m2-2h0m3 1h0m1 7h0m0-4h0m1 3h0m1-4h0m2 1h0m1-5h0m4 2h0m1 1h0m6 7h0m1-1h0m3 1h0m4-9h0m0 9h0m1-4h0m1 1h0m1-1h0m2 4h0m0-6h0m3-1h0m1 0h0m2-1h0m0 4h0m1-6h0m1 6h0m1-6h0m3-1h0m1 2h0m0 3h0m0-3h0m3 4h0m0-5h0m1 0h0m1 0h0m3 10h0m1-3h0m1-4h0m3 1h0m2 5h0m5-3h0m1-5h0m2-1h0m3 5h0m4 2h0m0 3h0m2-1h0m0 1h0m2-5h0m0 2h0m1 2h0m1 1h0m1-7h0m8-2h0m2 2h0m0-4h0m2 8h0m1-2h0m1-5h0m1 3h0m0 5h0m1-4h0m1-5h0m1 3h0m2 5h0m3-3h0m2 2h0m1 0h0m1 1h0m0-2h0m6 5h0m8-6h0m17 16h0m-4-3h0m0 5h0m-1-3h0m-4 3h0m0-9h0m-1 7h0m0-1h0m-1 0h0m0 2h0m-2-3h0m-2 2h0m-4-9h0m-1 11h0m0-5h0m0-6h0m-3 8h0m0-8h0m0 11h0m-1-10h0m-1-1h0m0 1h0m-2 0h0m-1 2h0m-2 3h0m-1-6h0m-2 5h0m-1-1h0m-2-2h0m-1-1h0m0 10h0m-1-5h0m-6-2h0m0 4h0m-1-8h0m-6 5h0m0 1h0m-1-1h0m-1 6h0m-2-6h0m0 1h0m0-2h0m-3-1h0m0 6h0m-2-3h0m-2-6h0m-2 4h0m0 0h0m-1-2h0m-4 0h0m-1 5h0m-3-1h0m-1-6h0m-3 5h0m0 1h0m-2 1h0m0-6h0m0 3h0m-1-1h0m-4-3h0m0 5h0m0 4h0m-1-5h0m-2-4h0m0 7h0m-1-6h0m-4 9h0m0 1h0m-2-6h0m-3 3h0m-2 3h0m-1-11h0m-1 10h0m0-10h0m-1 2h0m0 3h0m0 0h0m-1 3h0m0-6h0m-3 9h0m-2 0h0m-1-8h0m-3 5h0m0-7h0m0-1h0m0 3h0m-1 6h0m-2-6h0m0 0h0m-1 0h0m0 4h0m-2-2h0m0-5h0m-2 1h0m-1 9h0m-1-2h0m-1-5h0m0 3h0m0-3h0m-3 1h0m-1 2h0m0 5h0m-3-4h0m-2 0h0m0-7h0m0 6h0m-1 2h0m0-5h0m0 0h0m0 7h0m-3-7h0m-1-3h0m0 4h0m-2-3h0m0 2h0m0 6h0m-1-5h0m-1 3h0m0 3h0m-1 1h0m-1-3h0m-2 3h0m0-6h0m-1 3h0m-1-1h0m-1-4h0m-2 8h0m-3-6h0m-1-3h0m-1 3h0m-1 5h0m-2-5h0m13 13h0m0-5h0m1 10h0m1-9h0m4 1h0m1 0h0m2-3h0m0 4h0m8 3h0m2-7h0m4 7h0m0-3h0m3-2h0m0-1h0m0 2h0m0 1h0m1 7h0m1-9h0m0 6h0m0-4h0m2 2h0m1 0h0m0-2h0m1 0h0m0 4h0m0 0h0m1-1h0m2-6h0m1 0h0m0 2h0m0 8h0m1-4h0m1-5h0m0 7h0m2-5h0m0 6h0m1-5h0m1-2h0m3 2h0m1-3h0m0 3h0m5-5h0m1 5h0m4-2h0m54-3h0m7 1h0m2 3h0m4-3h0m1 2h0m2 0h0m1-3h0m1 2h0m0 4h0m1-1h0m0-1h0m1 6h0m1-8h0m1 1h0m2 5h0m0 3h0m3-8h0m0 5h0m1-4h0m0-4h0m0 10h0m1-8h0m0 2h0m1-2h0m0 2h0m1 2h0m1-3h0m1 4h0m0 2h0m2-1h0m1-5h0m2 0h0" stroke="#00ba38" stroke-width="4" stroke-linecap="round" fill="none"/>
<path transform="scale(0.25)" d="M127 2477h0m2 1h0m1 3h0m1-5h0m1 1h0m0 4h0m1-7h0m2 1h0m1 4h0m1 3h0m2 0h0m1-3h0m6 1h0m1 11h0m-5-5h0m-2 2h0m0-3h0m-2-1h0m-2 7h0m0-5h0m-2 6h0m0-6h0m-1-1h0m0 5h0m0-5h0m-6 1h0m5 20h0m3-6h0m0 4h0m3-2h0m0-3h0m0 6h0m1-2h0m2 2h0m0-9h0m0 9h0m4 5h0m-3 9h0m0-6h0m-1 2h0m-3-2h0m-1-2h0m-2 0h0m0 5h0m-1 0h0m-1-8h0m0 11h0m0 0h0m1 1h0m7 9h0m2 1h0m2-10h0m0 5h0m0-3h0m9 19h0m-4 1h0m0-8h0m0 6h0m0-8h0m0 1h0m-2 0h0m-1 5h0m-1 4h0m-1-2h0m-1-1h0m-3 2h0m-14 12h0m2-3h0m1 1h0m3 4h0m0-3h0m0 1h0m1-5h0m0-1h0m1 0h0m2-1h0m1 6h0m1-6h0m1-2h0m0 0h0m1 3h0m0 1h0m0-4h0m1 0h0m6 4h0m4 0h0m2-2h0m0 6h0m1-1h0m0-4h0m2 1h0m2 5h0m4 1h0m6 7h0m-1 1h0m-1 3h0m0-1h0m-1 2h0m-1-1h0m-1-8h0m0 10h0m-1-7h0m0-2h0m0-1h0m-3-1h0m-2 7h0m-2 2h0m-6-3h0m-1 4h0m-5 1h0m-2-1h0m-1-10h0m-2 0h0m-1 5h0m-1-5h0m-8 2h0m0 9h0m0-5h0m-1 4h0m0-6h0m0 4h0m-1-2h0m0-3h0m-1 2h0m0 5h0m-2-4h0m-1 6h0m5 0h0m1 8h0m3-5h0m2 0h0m1 1h0m0-4h0m1 4h0m2-4h0m0 9h0m2-6h0m1 2h0m1 1h0m1 1h0m3-1h0m1-4h0m0 4h0m1-3h0m1 3h0m0-1h0m2-5h0m0 1h0m1-1h0m0 0h0m0 7h0m3 0h0m1 0h0m3-6h0m4 5h0m1 2h0m3-2h0m1-1h0m0-1h0m1-1h0" stroke="#00c08b" stroke-width="4" stroke-linecap="round" fill="none"/>
<path transform="scale(0.25)" d="M362 2658h0m-17 5h0m-9-6h0m-1 6h0m-3-5h0m-6 3h0m-8-1h0m-2-1h0m-2 2h0m-1 1h0m-1-3h0m-1 1h0m-2 2h0m-1 0h0m-1 0h0m-1-5h0m-1-4h0m-3 8h0m-2-3h0m-1 4h0m0-7h0m-1 5h0m-4 0h0m0 3h0m0-8h0m0 4h0m-2 2h0m0-1h0m-2 3h0m-3-4h0m-1 4h0m-7 6h0m2-2h0m6 4h0m0-6h0m2 10h0m0-10h0m1 6h0m3 2h0m1-1h0m0-3h0m1-2h0m2 3h0m1 3h0m3-1h0m0 2h0m0-4h0m2 4h0m2-7h0m0-3h0m0 10h0m1 1h0m3-8h0m2 5h0m3-6h0m0 5h0m2-4h0m3 7h0m2-9h0m1 7h0m0-5h0m0 4h0m1-5h0m1 2h0m0-4h0m2 7h0m1 1h0m1-8h0m2 7h0m2 4h0m1-4h0m0-5h0m1 1h0m0 6h0m1-4h0m2-3h0m2-1h0m2 9h0m0-2h0m3-5h0m0 6h0m1-4h0m1 4h0m0-6h0m3 3h0m0 2h0m1-6h0m0 5h0m1 4h0m1-5h0m0-4h0m2 5h0m2-2h0m4-2h0m1 5h0m1 0h0m0-7h0m2 4h0m0-4h0m0 4h0m2 5h0m0-5h0m0 0h0m1 4h0m2-6h0m0-2h0m1 6h0m1-1h0m1 5h0m5-4h0m2 2h0m4-8h0m2 8h0m1 1h0m0 0h0m0-5h0m1 2h0m0-2h0m6 4h0m1 1h0m2-4h0m1 4h0m0 1h0m2-3h0m1 2h0m17 5h0m-2 1h0m-2-2h0m-1 3h0m-1-3h0m0 7h0m-1-5h0m-1 3h0m-1-1h0m-1-5h0m0 4h0m-1 3h0m-1 1h0m0-8h0m0 0h0m-1-1h0m0 4h0m0 2h0m-2-6h0m-1 3h0m-1 5h0m0-5h0m-1 5h0m-2-6h0m0 4h0m-1 1h0m-1-1h0m-2 1h0m-1 1h0m-2 1h0m-3 0h0m0-1h0m-1-8h0m-1 6h0m-6-5h0m-2 6h0m-1-6h0m-2 6h0m0-3h0m-1 2h0m-1-1h0m-3-4h0m-1-1h0m-2 0h0m0 6h0m-1-2h0m-1 0h0m0 6h0m-6-6h0m0 7h0m-1-11h0m-1 4h0m-2-4h0m-3 0h0m-1 2h0m-4 7h0m-1-4h0m0 1h0m-2 0h0m-1-1h0m-1-3h0m-1 4h0m0-1h0m-3-5h0m-1 5h0m-2-4h0m-1 2h0m-1-2h0m-2 7h0m-5-1h0m0 0h0m-1 1h0m-1-2h0m0 1h0m-1 1h0m0 3h0m-1-7h0m0 0h0m-1 2h0m-1-4h0m0-2h0m-3 6h0m-1 1h0m-1-2h0m0 0h0m-1-1h0m-1 4h0m0-3h0m-3-3h0m-4 0h0m-5 9h0m-1-11h0m0 7h0m-1 1h0m0-7h0m-1 1h0m-1 2h0m-1 1h0m-1 5h0m-1-9h0m0 4h0m-3-4h0m0-1h0m-1 5h0m0 3h0m-3-3h0m-4 6h0m32 2h0m58 2h0m9 0h0m14-2h0m17-1h0" stroke="#ff61c3" stroke-width="4" stroke-linecap="round" fill="none"/>
<path transform="scale(0.25)" d="M419 2611h0m-8 4h0m-2-1h0m-3-1h0m-48 9h0m0-3h0m2 4h0m0-6h0m1 5h0m0 1h0m0 1h0m3 2h0m1-2h0m0-1h0m2-2h0m1 1h0m5 0h0m1 1h0m1 2h0m2 1h0m1 1h0m2-1h0m9-2h0m2-2h0m2-2h0m1 4h0m1 1h0m1-4h0m1 4h0m1-5h0m1 6h0m1-5h0m2-1h0m0-1h0m1 6h0m2-5h0m1 6h0m1-5h0m0 6h0m4 0h0m1-8h0m1 6h0m3-5h0m0-3h0m2 1h0m0 1h0m0 2h0m2-2h0m2 7h0m0-5h0m1 0h0m0-5h0m1 4h0m0 7h0m2-9h0m1 7h0m0-3h0m3 5h0m-3 8h0m-1 2h0m-3-7h0m-1 8h0m-2-2h0m-2-1h0m0-1h0m-2-6h0m-3 1h0m-2 9h0m0-10h0m-1 3h0m0 8h0m-2-1h0m-2 1h0m-2-11h0m-3 8h0m-4 2h0m-3-8h0m-6 6h0m-6 2h0m-2-8h0m-1-2h0m0 8h0m-1 2h0m0-10h0m-1 5h0m0 3h0m-1-7h0m-1 1h0m-1 4h0m-1 2h0m-1-8h0m0 10h0m-5-6h0m-1 5h0m-2-2h0m-1 3h0m0-1h0m-3-7h0m0 0h0m0 6h0m-1-2h0m-1 3h0m-4-5h0m-5 6h0m13 2h0m0 2h0m5-1h0m0-1h0m5 3h0m2-2h0m3 1h0m27-2h0m3 0h0" stroke="#ff6c91" stroke-width="4" stroke-linecap="round" fill="none"/>
<path transform="scale(0.25)" d="M524 2651h0m10-1h0m4 0h0m1-3h0m1 0h0m29 15h0m-3-2h0m-1 2h0m0-3h0m-1 1h0m0-2h0m-1-2h0m-4 5h0m-1-1h0m-3-3h0m-1 1h0m-2-5h0m-1 5h0m0 0h0m-3-4h0m-3 3h0m-2-2h0m-3 7h0m0-2h0m-1-5h0m-1-1h0m-2 8h0m-1-2h0m-1-4h0m0-2h0m-1 0h0m-1 4h0m-2-6h0m-1 4h0m0 1h0m-2 4h0m-1-6h0m-1 0h0m-3 1h0m-1-1h0m-13 8h0m-59 11h0m6 1h0m14-1h0m1 0h0m2 1h0m0-7h0m0 0h0m0-1h0m1 5h0m2 2h0m4-1h0m1-3h0m0 0h0m4 0h0m1 0h0m1 0h0m2-2h0m1 1h0m1 0h0m1 5h0m0-3h0m1 0h0m0-4h0m2 1h0m1 5h0m3-1h0m1-4h0m1 3h0m0 3h0m1-6h0m2 5h0m0-5h0m1 7h0m0-6h0m0-3h0m3 4h0m2-5h0m0 0h0m3 2h0m1-1h0m1 5h0m1 3h0m0-9h0m1 1h0m1 9h0m1-6h0m1-5h0m1 8h0m0-4h0m3 2h0m4 2h0m2-4h0m4 3h0m1-7h0m1 2h0m0-1h0m0 6h0m2-1h0m1-1h0m0-4h0m3 1h0m2 4h0m2-1h0m4-5h0m4 8h0m0 1h0m3-4h0m1-2h0m2-2h0m2 5h0m3-5h0m9 10h0m1-2h0m5-6h0m1 0h0m1 7h0m8 5h0m-1 7h0m-2-2h0m-1 3h0m0-10h0m-3 2h0m-2 3h0m-2 5h0m-1-11h0m0 2h0m-1-2h0m0 8h0m-11-6h0m0 6h0m-2-1h0m-5 1h0m-1-3h0m0 0h0m-1 3h0m-1 2h0m-1-8h0m0 3h0m-5-2h0m-1 6h0m-4-6h0m-4 2h0m-1-3h0m-3-1h0m-3 10h0m-2-6h0m-2 1h0m-3 2h0m-1 3h0m0 0h0m0-7h0m-1-2h0m-1 0h0m0 1h0m-3 0h0m-4-1h0m-9 1h0m-1-1h0m-12 0h0m-8 2h0m-3 0h0m0-1h0m0-1h0m-1-1h0m0 4h0m-1 1h0m-2-1h0m0-5h0m-1 7h0m0-2h0m-2-1h0m-3 1h0m-13-2h0m-2 1h0m-1 5h0m-2-9h0m-1 3h0m0 4h0m0 0h0m0-5h0m-1 7h0m-1 0h0m0-8h0m-1 9h0m-2-10h0m-1 7h0m0-3h0m-3 0h0m0-1h0m-1 0h0m-5 0h0m-4-2h0m-4 5h0m-1 4h0m0-5h0m0-3h0m0-1h0m-2 5h0m0 2h0m-1 1h0m-2-1h0m0 3h0m-1-1h0m-1-3h0m0-1h0m-2-2h0m0 4h0m-8 5h0m3-1h0m0 2h0m1 5h0m0 0h0m0 2h0m1-2h0m1 3h0m0 0h0m0-3h0m1 3h0m0-1h0m2-8h0m1 8h0m3-7h0m1 3h0m1-5h0m1 10h0m1-9h0m0 4h0m1 1h0m0-3h0m1 2h0m0 4h0m1-4h0m2-2h0m3 4h0m0-7h0m2 9h0m0 2h0m3-11h0m5 4h0m1 0h0m0 3h0m2 2h0m0 2h0m2-6h0m5 5h0m3-4h0m0 5h0m1-9h0m0-1h0m1 3h0m0 7h0m1-2h0m2-1h0m0-6h0m0 1h0m4 7h0m55-9h0m1 0h0m2 1h0m1 7h0m1-7h0m1-2h0m1 0h0m1 3h0m1 1h0m0-2h0m1-1h0m1 10h0m1-10h0m1 10h0m0-8h0m1 4h0m0-6h0m2 3h0m4 2h0m1-6h0m3 8h0m0-8h0m3 4h0m0-4h0m1 8h0m1 3h0m4-7h0m1-4h0m1 4h0m3 0h0m0 2h0m2-4h0m2 1h0m4-2h0m1-1h0m0 2h0m0 6h0m2 0h0m1-4h0m2-4h0m5 0h0m0 7h0m2-1h0m1-4h0m1 8h0m1-5h0m0 4h0m1 0h0m3 0h0m-1 13h0m-2 1h0m0-8h0m-2-1h0m0 3h0m-6 2h0m-2-5h0m-3 6h0m-2 3h0m0-1h0m0-8h0m-1 4h0m-1 3h0m-5-4h0m-1 5h0m-3-7h0m-1-1h0m-2 5h0m0-5h0m-1-2h0m0 2h0m-2 7h0m-1-6h0m-2 4h0m-2-2h0m-1-5h0m-3 1h0m-1 9h0m-2-8h0m0 0h0m-1 8h0m-1-5h0m-2-1h0m-4 5h0m-1-8h0m-5 1h0m-2 2h0m0 6h0m0-8h0m-1 0h0m-5 9h0m-3-3h0m0 2h0m-5 1h0m-37-3h0m-1 1h0m-1-4h0m-1 5h0m-2-5h0m-1 6h0m-1-5h0m-1 3h0m-5-9h0m-1 5h0m-1 5h0m-2 1h0m0-1h0m-3-6h0m-2-1h0m-1 3h0m-4 3h0m-2 1h0m0 0h0m0-2h0m-1-4h0m-1-2h0m0 6h0m-3-1h0m-10-4h0m-4 4h0m-4-4h0m-5-2h0m0-1h0m-1 3h0m0 1h0m6 8h0m6 0h0m3 2h0m7 4h0m3-4h0m0 3h0m0 2h0m5-4h0m1-3h0m1 9h0m1-9h0m1 7h0m2-3h0m0 7h0m0-10h0m1 8h0m0-1h0m1-3h0m0 1h0m1 0h0m0 3h0m4-9h0m1 0h0m1 3h0m0 3h0m2-1h0m1 2h0m4-7h0m0 0h0m6 5h0m7-4h0m2 7h0m0 2h0m1-6h0m0-1h0m0 1h0m1-3h0m5 6h0m0 1h0m5-1h0m0-1h0m0 1h0m2-4h0m2-1h0m1 6h0m2-7h0m1 8h0m5-1h0m2-3h0m4-5h0m0 1h0m1 0h0m2 9h0m1 0h0m2 0h0m0 1h0m1-5h0m1-4h0m1 6h0m0-7h0m1 7h0m0 1h0m1-5h0m2 2h0m5 3h0m1-3h0m1 2h0m0-7h0m0 6h0m2 1h0m3-7h0m1 3h0m1-1h0m0 2h0m2-4h0m6 7h0m1-7h0m2 2h0m1 8h0m2-9h0m0 5h0m1 2h0m0 2h0m3-9h0m0-2h0m2 6h0m0-5h0m2 1h0m1 6h0m1 2h0m1 0h0m1 0h0m1 0h0m1-5h0m1-5h0m2 1h0m4 8h0m5-3h0m-12 6h0m-8 4h0m0 6h0m-4-8h0m0 5h0m-3-7h0m-6 0h0m-1 2h0m-2 2h0m-1-3h0m-2 4h0m-6 1h0m0 3h0m-1-2h0m-1-2h0m-2-5h0m0 8h0m-1-5h0m-2 2h0m-2-4h0m0 6h0m-6-6h0m-3 8h0m0 1h0m-1-7h0m-2 7h0m-1-9h0m0 6h0m-2-5h0m-3 3h0m-3-2h0m-1-2h0m0-1h0m-1 1h0m-4 0h0m-2 2h0m-1-2h0m-5 0h0m0-1h0m0 9h0m-1-3h0m-2-4h0m0 1h0m-4-2h0m0 1h0m-2-2h0m-1 3h0m-3 1h0m0 0h0m-1-3h0m-1-1h0m0 0h0m-1 3h0m-1 1h0m0-1h0m-2-1h0m0 4h0m-1-4h0m0 3h0m-2 4h0m-2-7h0m0 0h0m-1 5h0m-2-7h0m-5 3h0m-3-3h0" stroke="#ef67eb" stroke-width="4" stroke-linecap="round" fill="none"/>
<path transform="scale(0.25)" d="M247 2306h0m195-1h0m75 52h0m32 4h0m54 6h0m-19 5h0m-69 11h0m77 2h0m-142 10h0m-98-6h0m134 17h0m230 13h0m-213-3h0m-341 19h0m422-1h0m82-4h0m58-2h0m9 13h0m-105-1h0m-243 6h0m-235 5h0m444-2h0m-352 18h0m-85-1h0m-10 14h0m25-5h0m27-1h0m2 8h0m1-7h0m484 11h0m-473-1h0m-4 10h0m-12-2h0m-15-8h0m-3 1h0m-6 0h0m-4-2h0m-5 1h0m-3 1h0m-15 11h0m2 8h0m24-2h0m7 1h0m6-5h0m18 7h0m10-10h0m2 0h0m16 2h0m14-2h0m465 35h0m-581 23h0m572 2h0m-47 10h0m-128-4h0m-158 102h0m34 17h0m-51 1h0m217 17h0m-19 10h0m-69-8h0m36 19h0m33-1h0" stroke="#eef3e0" stroke-width="4.4" stroke-linecap="round" fill="none"/>
<text x="130" y="573.6" font-size="7.5" fill="#222">Excitatory Neurons</text>
<text x="35.9" y="682.5" font-size="7.5" fill="#222">Inhibitory Neurons</text>
<rect x="23.4" y="564.3" width="172.9" height="124.3" fill="none" stroke="#000" stroke-width="1.35" rx="1.6"/>
<line x1="49.05" y1="688.6" x2="49.05" y2="690.8" stroke="#000" stroke-width="1"/>
<text x="49.05" y="698.6" font-size="7.6" text-anchor="middle">−10</text>
<line x1="21.2" y1="671.8" x2="23.4" y2="671.8" stroke="#000" stroke-width="1"/>
<text x="20.2" y="674.5" font-size="7.6" text-anchor="end">−10</text>
<line x1="81.82" y1="688.6" x2="81.82" y2="690.8" stroke="#000" stroke-width="1"/>
<text x="81.82" y="698.6" font-size="7.6" text-anchor="middle">−5</text>
<line x1="21.2" y1="648.1" x2="23.4" y2="648.1" stroke="#000" stroke-width="1"/>
<text x="20.2" y="650.8" font-size="7.6" text-anchor="end">−5</text>
<line x1="114.6" y1="688.6" x2="114.6" y2="690.8" stroke="#000" stroke-width="1"/>
<text x="114.6" y="698.6" font-size="7.6" text-anchor="middle">0</text>
<line x1="21.2" y1="624.4" x2="23.4" y2="624.4" stroke="#000" stroke-width="1"/>
<text x="20.2" y="627.1" font-size="7.6" text-anchor="end">0</text>
<line x1="147.38" y1="688.6" x2="147.38" y2="690.8" stroke="#000" stroke-width="1"/>
<text x="147.38" y="698.6" font-size="7.6" text-anchor="middle">5</text>
<line x1="21.2" y1="600.7" x2="23.4" y2="600.7" stroke="#000" stroke-width="1"/>
<text x="20.2" y="603.4" font-size="7.6" text-anchor="end">5</text>
<line x1="180.15" y1="688.6" x2="180.15" y2="690.8" stroke="#000" stroke-width="1"/>
<text x="180.15" y="698.6" font-size="7.6" text-anchor="middle">10</text>
<line x1="21.2" y1="577" x2="23.4" y2="577" stroke="#000" stroke-width="1"/>
<text x="20.2" y="579.7" font-size="7.6" text-anchor="end">10</text>
<text x="109.85" y="708.3" font-size="8.8" text-anchor="middle">UMAP 1</text>
<text x="8.9" y="626.3" font-size="8.8" text-anchor="middle" transform="rotate(-90 8.9 626.3)">UMAP 2</text>
<text x="203.1" y="556.7" font-size="15.5" fill="#000" font-weight="bold">j</text>
<text x="290.3" y="559.4" font-size="10.1" text-anchor="middle" fill="#222">Positive Correlation Module</text>
<g fill-opacity="0.6"><path d="M246.85 574.34 C247 573.62 248.68 572.76 249.38 572.51 C250.09 572.27 252.03 572.32 252.88 572.23 C253.72 572.14 256.12 571.52 256.63 571.75 C257.14 571.97 257.33 573.47 257.24 574.14 C257.16 574.81 256.55 576.91 255.93 577.5 C255.32 578.09 252.92 579.09 252 579.23 C251.09 579.36 248.67 579.22 248.07 578.65 C247.47 578.08 246.7 575.05 246.85 574.34Z" fill="#6a3af0"/><path d="M285.28 575.68 C285.48 575.29 287.58 574.57 288.34 574.24 C289.09 573.9 290.94 573.08 291.74 572.8 C292.55 572.52 294.68 571.73 295.24 571.84 C295.8 571.95 296.55 573.2 296.55 573.76 C296.55 574.32 295.64 576.03 295.24 576.64 C294.83 577.24 293.76 578.67 293.05 578.94 C292.35 579.21 289.96 579.09 289.21 578.94 C288.46 578.78 287.05 577.98 286.59 577.6 C286.13 577.21 285.08 576.07 285.28 575.68Z" fill="#6a3af0"/><path d="M281.87 583.25 C282.05 583.1 283.32 582.94 283.53 583.06 C283.75 583.18 283.88 584.15 283.71 584.31 C283.53 584.46 282.26 584.53 282.05 584.4 C281.83 584.28 281.7 583.41 281.87 583.25Z" fill="#6a3af0"/><path d="M289.82 581.33 C289.95 581.02 291.19 581.34 291.57 581.72 C291.94 582.1 293 584.13 293.05 584.59 C293.1 585.06 292.31 585.77 292 585.75 C291.7 585.72 290.69 584.92 290.43 584.4 C290.18 583.89 289.69 581.65 289.82 581.33Z" fill="#6a3af0"/><path d="M278.38 595.05 C278.74 594.82 281.45 593.93 282.31 593.61 C283.17 593.28 285.01 592.46 285.72 592.27 C286.42 592.08 288.08 591.77 288.34 591.98 C288.59 592.19 288.21 593.67 287.9 594.09 C287.59 594.5 286.37 595.25 285.72 595.53 C285.06 595.81 283.06 596.48 282.31 596.48 C281.56 596.48 279.71 595.69 279.25 595.53 C278.79 595.36 278.02 595.27 278.38 595.05Z" fill="#6a3af0"/><path d="M265.89 595.05 C266.22 594.71 267.81 593.33 268.51 593.61 C269.21 593.89 271.11 596.67 271.92 597.44 C272.72 598.22 274.86 599.56 275.41 600.22 C275.96 600.88 276.68 602.54 276.63 603.1 C276.58 603.66 275.52 604.79 274.97 605.02 C274.42 605.24 272.52 605.35 271.92 605.02 C271.32 604.68 270.32 602.8 269.82 602.14 C269.32 601.48 268.12 600.02 267.64 599.36 C267.16 598.7 265.92 596.99 265.72 596.48 C265.51 595.98 265.56 595.38 265.89 595.05Z" fill="#6a3af0"/><path d="M268.07 612.59 C268.17 611.87 269.72 609.53 270.17 608.76 C270.62 607.99 271.31 606.19 271.92 605.98 C272.53 605.76 274.71 606.5 275.41 606.94 C276.11 607.37 277.24 608.95 277.94 609.72 C278.65 610.49 281.13 612.78 281.44 613.55 C281.74 614.32 280.92 615.73 280.56 616.33 C280.21 616.94 278.93 618.34 278.38 618.73 C277.83 619.12 276.5 619.86 275.85 619.69 C275.19 619.52 273.54 617.84 272.79 617.29 C272.04 616.74 269.93 615.54 269.38 614.99 C268.83 614.44 267.98 613.32 268.07 612.59Z" fill="#6a3af0"/><path d="M282.31 616.81 C282.67 616.53 284.64 616.39 285.19 616.53 C285.74 616.66 286.87 617.54 287.03 617.96 C287.18 618.39 286.92 619.89 286.5 620.17 C286.08 620.45 283.95 620.51 283.45 620.36 C282.94 620.22 282.27 619.34 282.14 618.92 C282 618.51 281.95 617.09 282.31 616.81Z" fill="#6a3af0"/><path d="M286.15 629.66 C286.29 629.35 287.12 628.49 287.38 628.7 C287.63 628.92 288.37 631.05 288.34 631.48 C288.31 631.92 287.36 632.45 287.11 632.44 C286.87 632.43 286.35 631.71 286.24 631.39 C286.13 631.06 286.02 629.97 286.15 629.66Z" fill="#6a3af0"/><path d="M276.63 630.52 C276.76 630.27 278.07 630.08 278.38 630.24 C278.69 630.39 279.38 631.61 279.25 631.87 C279.13 632.12 277.64 632.6 277.33 632.44 C277.03 632.29 276.51 630.78 276.63 630.52Z" fill="#6a3af0"/><path d="M294.36 611.63 C294.46 611.23 295.61 610.44 296.11 610.68 C296.61 610.91 298.44 613.15 298.64 613.65 C298.85 614.15 298.25 614.93 297.86 614.99 C297.46 615.05 295.64 614.52 295.24 614.13 C294.83 613.74 294.26 612.04 294.36 611.63Z" fill="#6a3af0"/><path d="M292.62 595.53 C293.07 594.7 295.2 594.2 296.11 594.09 C297.02 593.98 299.49 594.72 300.39 594.57 C301.29 594.41 303.3 593.24 303.8 592.75 C304.29 592.25 304.31 590.57 304.67 590.35 C305.03 590.12 306.5 590.34 306.85 590.83 C307.21 591.32 307.47 593.8 307.73 594.57 C307.98 595.34 308.73 596.83 309.04 597.44 C309.34 598.06 310.24 599.18 310.35 599.84 C310.45 600.5 310.16 602.55 309.91 603.1 C309.65 603.65 308.57 604.2 308.16 604.54 C307.75 604.87 307.02 605.81 306.42 605.98 C305.81 606.15 303.71 606.09 303.01 605.98 C302.31 605.87 301 605.19 300.39 605.02 C299.78 604.85 298.37 604.43 297.77 604.54 C297.17 604.65 295.74 606.03 295.24 605.98 C294.74 605.92 293.85 604.62 293.49 604.06 C293.13 603.5 292.28 602.18 292.18 601.18 C292.08 600.19 292.16 596.35 292.62 595.53Z" fill="#6a3af0"/><path d="M305.37 616.62 C305.58 615.77 307.74 613.47 308.69 612.98 C309.63 612.49 312.37 612.72 313.49 612.4 C314.61 612.09 317.28 610.78 318.29 610.29 C319.3 609.8 321.24 608.54 322.14 608.18 C323.03 607.82 325.42 606.98 325.98 607.22 C326.54 607.47 327.16 609.57 326.94 610.29 C326.72 611.02 324.51 612.6 324.06 613.46 C323.61 614.32 323.55 617.24 323.1 617.68 C322.65 618.11 321 617.44 320.21 617.2 C319.43 616.95 317.27 615.51 316.37 615.57 C315.48 615.62 313.31 617.06 312.53 617.68 C311.74 618.29 310.31 620.54 309.65 620.84 C308.98 621.14 307.35 620.76 306.85 620.26 C306.35 619.77 305.15 617.47 305.37 616.62Z" fill="#6a3af0"/><path d="M305.37 587.18 C305.81 586.51 308.7 584.09 309.65 583.54 C310.59 582.99 312.71 582.3 313.49 582.49 C314.27 582.68 315.81 584.62 316.37 585.17 C316.93 585.72 317.73 586.7 318.29 587.18 C318.85 587.66 320.39 588.98 321.18 589.29 C321.96 589.61 324.13 589.62 325.02 589.87 C325.9 590.11 327.89 590.91 328.77 591.4 C329.66 591.9 331.88 593.35 332.62 594.09 C333.35 594.83 334.95 597.06 335.06 597.73 C335.17 598.4 334.09 599.72 333.58 599.84 C333.07 599.96 331.26 598.54 330.7 598.79 C330.13 599.03 329.21 601.34 328.77 601.95 C328.34 602.57 327.6 603.94 326.94 604.06 C326.28 604.18 323.88 603.44 323.1 603.01 C322.31 602.57 320.78 600.99 320.21 600.32 C319.65 599.65 318.63 598.05 318.29 597.25 C317.96 596.46 317.78 594.07 317.33 593.51 C316.88 592.95 315.12 592.51 314.45 592.46 C313.78 592.4 312.34 593.16 311.57 593.03 C310.79 592.91 308.48 591.84 307.81 591.4 C307.15 590.97 306.18 589.79 305.89 589.29 C305.61 588.8 304.93 587.86 305.37 587.18Z" fill="#6a3af0"/><path d="M325.02 605.11 C325.34 604.44 327.15 602.8 327.81 602.43 C328.48 602.06 329.91 601.83 330.7 601.95 C331.48 602.07 333.53 602.99 334.54 603.48 C335.55 603.98 338.11 605.62 339.34 606.17 C340.57 606.72 344.11 607.58 345.11 608.18 C346.1 608.79 347.69 610.36 347.9 611.35 C348.11 612.33 346.94 615.27 346.94 616.62 C346.94 617.97 347.56 621.6 347.9 622.95 C348.24 624.3 350.15 627.5 349.82 628.22 C349.5 628.95 345.99 629.43 345.11 629.18 C344.22 628.94 342.78 627.09 342.22 626.11 C341.66 625.14 340.86 621.82 340.3 620.84 C339.74 619.86 338.2 618.41 337.42 617.68 C336.64 616.94 334.47 615.13 333.58 614.51 C332.68 613.9 330.57 612.77 329.73 612.4 C328.9 612.03 326.97 611.84 326.42 611.35 C325.87 610.85 325.18 608.91 325.02 608.18 C324.86 607.46 324.69 605.79 325.02 605.11Z" fill="#6a3af0"/><path d="M336.46 637.62 C336.91 636.83 338.67 634.71 339.34 633.98 C340.01 633.24 341.44 631.85 342.22 631.29 C343.01 630.73 345.18 629.54 346.07 629.18 C346.95 628.82 349.1 627.98 349.82 628.22 C350.55 628.47 351.93 630.56 352.27 631.29 C352.6 632.02 352.99 633.59 352.7 634.46 C352.42 635.32 350.6 637.81 349.82 638.67 C349.05 639.54 347.07 641.22 346.07 641.84 C345.07 642.45 342.27 643.76 341.26 643.95 C340.25 644.14 338.09 643.84 337.42 643.47 C336.75 643.1 335.61 641.47 335.5 640.78 C335.39 640.1 336.01 638.41 336.46 637.62Z" fill="#6a3af0"/><path d="M351.74 591.4 C352.13 590.79 354.01 589.8 354.63 589.87 C355.24 589.94 356.42 591.55 356.98 591.98 C357.54 592.4 359.32 592.84 359.43 593.51 C359.54 594.18 358.28 596.87 357.94 597.73 C357.61 598.59 356.99 600.4 356.55 600.9 C356.11 601.39 354.75 602.14 354.19 601.95 C353.63 601.76 352.08 600.06 351.74 599.27 C351.41 598.47 351.31 596.06 351.31 595.14 C351.31 594.23 351.36 592.02 351.74 591.4Z" fill="#6a3af0"/><path d="M340.3 606.65 C340.64 606.35 344.96 605.96 346.07 605.59 C347.18 605.22 349.05 604.03 349.82 603.48 C350.6 602.94 351.92 601.02 352.7 600.9 C353.49 600.77 355.94 601.94 356.55 602.43 C357.16 602.92 357.78 604.44 357.94 605.11 C358.11 605.79 358.22 607.58 357.94 608.18 C357.67 608.79 356.31 609.98 355.59 610.29 C354.86 610.61 352.64 610.92 351.74 610.87 C350.85 610.81 348.9 610.13 347.9 609.81 C346.9 609.5 344.07 608.55 343.18 608.18 C342.3 607.81 339.97 606.95 340.3 606.65Z" fill="#6a3af0"/><path d="M303.01 642.32 C303.18 641.88 305.12 640.63 305.89 640.21 C306.67 639.78 308.76 638.98 309.65 638.67 C310.53 638.37 312.64 637.87 313.49 637.62 C314.34 637.37 316.56 636.2 316.9 636.57 C317.23 636.93 316.66 639.92 316.37 640.78 C316.09 641.65 315.01 643.33 314.45 643.95 C313.89 644.56 312.34 645.93 311.57 646.06 C310.79 646.18 308.65 645.25 307.81 645 C306.98 644.76 304.97 644.26 304.41 643.95 C303.85 643.64 302.84 642.75 303.01 642.32Z" fill="#6a3af0"/><path d="M222.66 610.58 C223.07 609.45 225.3 608.81 226.15 608.47 C227.01 608.13 229.11 607.6 229.99 607.7 C230.88 607.8 233.04 608.85 233.75 609.33 C234.46 609.81 235.48 611.33 236.11 611.83 C236.74 612.32 238.28 613.16 239.17 613.55 C240.05 613.94 242.64 614.84 243.71 615.18 C244.78 615.53 247.57 616.18 248.34 616.53 C249.1 616.87 250.08 617.72 250.26 618.16 C250.43 618.59 250.4 619.92 249.82 620.26 C249.24 620.61 246.35 620.94 245.28 621.13 C244.21 621.32 241.72 622 240.65 621.89 C239.58 621.79 237.18 620.66 236.11 620.26 C235.04 619.87 232.55 618.83 231.48 618.54 C230.41 618.25 227.97 617.82 226.94 617.77 C225.91 617.73 223.16 618.99 222.66 618.16 C222.16 617.32 222.25 611.71 222.66 610.58Z" fill="#6a3af0"/><path d="M222.75 618.25 C223.18 617.46 225.92 617.77 226.94 617.87 C227.96 617.97 230.24 618.71 231.48 619.11 C232.72 619.52 236.17 621.03 237.59 621.32 C239.02 621.61 242.28 621.69 243.71 621.61 C245.13 621.53 248.83 620.41 249.82 620.65 C250.81 620.88 251.55 622.88 252.18 623.62 C252.81 624.36 254.57 626.29 255.24 626.98 C255.9 627.66 257.42 628.98 257.86 629.47 C258.29 629.96 259.21 630.99 258.99 631.2 C258.77 631.4 256.73 631.4 255.93 631.2 C255.14 630.99 253.06 629.86 252.18 629.47 C251.29 629.08 249.32 628.03 248.34 627.84 C247.35 627.65 244.78 627.65 243.71 627.84 C242.64 628.03 240.14 628.99 239.17 629.47 C238.19 629.95 236.04 631.76 235.32 631.96 C234.61 632.16 233.6 631.49 233.05 631.2 C232.5 630.9 231.25 629.56 230.61 629.47 C229.96 629.38 228.21 630.54 227.55 630.43 C226.89 630.32 225.44 629.18 224.93 628.51 C224.42 627.84 223.44 625.87 223.18 624.68 C222.93 623.48 222.31 619.05 222.75 618.25Z" fill="#6a3af0"/><path d="M222.48 618.92 C222.73 618.09 224.54 618.2 224.93 618.54 C225.32 618.87 225.75 620.75 225.8 621.8 C225.85 622.85 225.57 626.66 225.37 627.55 C225.16 628.45 224.35 629.69 224.06 629.47 C223.76 629.25 223.02 626.86 222.83 625.63 C222.65 624.4 222.24 619.75 222.48 618.92Z" fill="#6a3af0"/><path d="M221.52 639.54 C221.61 638.9 222.65 636.66 223.09 636.18 C223.54 635.7 224.74 635.5 225.37 635.41 C225.99 635.33 227.8 635.02 228.42 635.41 C229.04 635.81 230.29 638.14 230.69 638.77 C231.1 639.4 232 640.35 231.92 640.78 C231.83 641.22 230.76 642.31 229.99 642.51 C229.23 642.71 226.26 642.61 225.37 642.51 C224.47 642.41 222.76 641.99 222.31 641.65 C221.86 641.3 221.43 640.18 221.52 639.54Z" fill="#6a3af0"/><path d="M251.39 616.24 C251.73 616.02 254.11 615.87 254.45 616.05 C254.79 616.22 254.61 617.56 254.27 617.77 C253.94 617.98 251.9 618.05 251.57 617.87 C251.23 617.69 251.06 616.45 251.39 616.24Z" fill="#6a3af0"/><path d="M255.93 617.48 C256.27 616.92 258.11 616.1 258.55 616.05 C259 615.99 259.83 616.51 259.78 617 C259.73 617.5 258.46 619.65 258.12 620.26 C257.77 620.88 257.09 622.21 256.81 622.28 C256.52 622.35 255.77 621.4 255.67 620.84 C255.57 620.28 255.6 618.04 255.93 617.48Z" fill="#6a3af0"/><path d="M255.76 663.51 C256.16 662.76 259.38 662.38 260.65 662.36 C261.92 662.34 265.27 663.13 266.68 663.32 C268.08 663.51 271.43 663.78 272.7 663.99 C273.98 664.2 276.46 664.83 277.59 665.14 C278.72 665.45 281.51 666.3 282.4 666.67 C283.28 667.04 285.27 668.04 285.19 668.3 C285.11 668.57 282.82 668.92 281.7 668.97 C280.58 669.03 277.01 668.83 275.59 668.78 C274.16 668.74 271 668.56 269.47 668.59 C267.94 668.62 263.91 669.05 262.48 669.07 C261.06 669.09 258.03 669.43 257.24 668.78 C256.46 668.13 255.36 664.26 255.76 663.51Z" fill="#6a3af0"/><path d="M271.92 654.4 C272.17 653.84 274.08 653.44 274.71 653.44 C275.34 653.44 276.98 654.01 277.33 654.4 C277.69 654.79 277.97 656.29 277.77 656.8 C277.56 657.3 276.2 658.55 275.59 658.71 C274.97 658.88 272.96 658.74 272.53 658.24 C272.1 657.73 271.66 654.96 271.92 654.4Z" fill="#6a3af0"/><path d="M279.52 653.92 C279.84 653.53 281.91 653.13 282.57 652.96 C283.23 652.79 284.58 652.4 285.19 652.48 C285.8 652.56 287.56 653.13 287.81 653.63 C288.07 654.14 287.78 656.26 287.38 656.8 C286.97 657.33 285.03 658.05 284.32 658.24 C283.61 658.43 281.79 658.65 281.26 658.43 C280.73 658.2 279.98 656.84 279.78 656.32 C279.57 655.79 279.19 654.31 279.52 653.92Z" fill="#6a3af0"/><path d="M285.19 669.74 C285.6 669.24 287.87 668.1 288.69 667.82 C289.5 667.54 291.36 667.46 292.18 667.34 C292.99 667.23 294.96 667.09 295.67 666.87 C296.39 666.64 297.48 665.71 298.29 665.43 C299.11 665.15 301.64 664.75 302.66 664.47 C303.68 664.19 306.31 663.48 307.03 663.03 C307.74 662.58 308.26 660.97 308.77 660.63 C309.28 660.3 310.78 659.99 311.39 660.15 C312 660.32 313.3 661.79 314.01 662.07 C314.73 662.35 316.69 662.21 317.51 662.55 C318.32 662.89 320.37 664.22 321 664.95 C321.63 665.67 322.72 667.78 322.92 668.78 C323.13 669.79 322.97 672.51 322.75 673.58 C322.52 674.64 321.71 677.16 321 677.89 C320.29 678.62 317.75 679.51 316.63 679.81 C315.51 680.11 312.62 680.43 311.39 680.48 C310.17 680.54 307.38 680.42 306.15 680.29 C304.93 680.16 302.14 679.5 300.91 679.33 C299.69 679.16 296.9 679.13 295.67 678.85 C294.45 678.57 291.45 677.44 290.43 676.93 C289.41 676.43 287.55 675.1 286.94 674.54 C286.33 673.98 285.4 672.7 285.19 672.14 C284.99 671.58 284.78 670.25 285.19 669.74Z" fill="#6a3af0"/></g>
<path d="M295.24 598.4 C295.64 598.02 297.68 597.34 298.29 597.44 C298.9 597.54 300.32 598.77 300.48 599.27 C300.63 599.76 300.06 601.32 299.6 601.66 C299.14 602.01 297.11 602.35 296.55 602.24 C295.99 602.13 294.95 601.15 294.8 600.7 C294.65 600.26 294.83 598.78 295.24 598.4Z" fill="#fff"/><path d="M297.42 670.7 C297.52 669.97 299.22 668.7 300.04 668.3 C300.85 667.91 303.49 667.34 304.41 667.34 C305.32 667.34 307.34 667.8 307.9 668.3 C308.46 668.81 309.31 670.88 309.21 671.66 C309.11 672.44 307.79 674.51 307.03 675.02 C306.26 675.52 303.58 676.03 302.66 675.97 C301.74 675.92 299.78 675.15 299.17 674.54 C298.55 673.92 297.32 671.43 297.42 670.7Z" fill="#fff"/>
<path transform="scale(0.25)" d="M993 2312h0m170 0h0m66 49h0m75 10h0m-47-5h0m-30 21h0m60-11h0m7 13h0m-123 9h0m-86-6h0m117 16h0m201 13h0m-186-3h0m70 17h0m72-4h0m51-1h0m7 12h0m-91 0h0m-213 5h0m-194-10h0m-10 15h0m387-2h0m-307 17h0m-75 0h0m-8 13h0m19 3h0m2-8h0m25-1h0m1 7h0m1-7h0m422 11h0m-385 10h0m-25-1h0m-3 0h0m0-9h0m-3 9h0m-10-2h0m-14-8h0m-2 1h0m-6 0h0m-7-1h0m-3 1h0m-13 11h0m2 8h0m21-2h0m6 1h0m5-5h0m16 6h0m24-7h0m419 32h0m-508 22h0m500 1h0m-41 10h0m-112-4h0m-138 98h0m-15 18h0m44-2h0m69 20h0m60 7h0m17-9h0m-17 19h0m-29 1h0" stroke="#ffffff" stroke-width="4" stroke-linecap="round" fill="none"/>
<path transform="scale(0.25)" d="M998 2290h0m22 0h0m158 1h0m3-3h0m3 1h0m-3 3h0m-7 2h0m-1 6h0m-1 1h0m-3-7h0m-2-2h0m0 6h0m-1-3h0m-2-2h0m-5 6h0m-7-1h0m-1 1h0m-7 3h0m-1-5h0m-107 1h0m-8-3h0m-1 1h0m-3 0h0m0-3h0m-11 4h0m-1-4h0m-1 0h0m-1 1h0m-1-2h0m-2 0h0m-1 3h0m0 2h0m-1-5h0m-2 1h0m-6-1h0m-3 10h0m-1-10h0m-4 18h0m7-5h0m1 6h0m8 1h0m1-6h0m4 9h0m0-7h0m0 3h0m7-4h0m1 4h0m0 1h0m3-1h0m1-4h0m0 4h0m2-4h0m4 0h0m116 5h0m3-3h0m2 0h0m2 5h0m2-3h0m2-4h0m1 6h0m2-3h0m6 3h0m4-2h0m2-4h0m5 0h0m0 8h0m8-7h0m1-1h0m-22 20h0m-165-8h0m131 15h0m2 0h0m0 3h0m2 2h0m4-2h0m27-4h0m1-1h0m2 3h0m0 3h0m2-3h0m73 3h0m2-9h0m0 3h0m1 7h0m0-5h0m1-2h0m1 1h0m2-2h0m3 0h0m1 8h0m1-6h0m0-1h0m9 2h0m8 12h0m-1-1h0m-3 3h0m-16-3h0m-11 1h0m-1 1h0m-5-7h0m-3 1h0m-4 6h0m-1-4h0m-1 5h0m-56-7h0m53 22h0m0-3h0m0-7h0m5 10h0m5-5h0m1 4h0m2-8h0m1-1h0m1 1h0m10 8h0m2-10h0m1 5h0m2-1h0m6-4h0m4 11h0m2-6h0m4-2h0m0 6h0m8-1h0m2-2h0m1 4h0m5-4h0m1 0h0m3-2h0m17 5h0m13 1h0m102-2h0m6 0h0m8 15h0m-5-8h0m-1 3h0m-1-5h0m-8 4h0m0-5h0m-1 2h0m-1 2h0m0 1h0m0 3h0m-4-7h0m-3 5h0m-4 2h0m-86-5h0m-3 6h0m-1 0h0m-1 1h0m-6 1h0m-2-10h0m-3 10h0m-1-5h0m0-3h0m0 6h0m-2-4h0m-7-5h0m-5 5h0m-5-1h0m-1 5h0m0-2h0m-2-5h0m-8 6h0m-1-5h0m-7 1h0m-1 0h0m-2-4h0m-1 5h0m-2 1h0m-6-1h0m0 3h0m-8-8h0m-1 4h0m0 7h0m-4-11h0m-2 2h0m-1 2h0m-1 1h0m-3-5h0m-1 9h0m-1-8h0m-1 9h0m0-9h0m-1 6h0m-5 1h0m-5-2h0m-1 5h0m0-7h0m-15 6h0m-53-2h0m-1-3h0m-3 3h0m-3 0h0m-3-1h0m-2 3h0m-1 0h0m-1 1h0m-12-4h0m-48 4h0m-10 4h0m13 1h0m8 3h0m2 3h0m23-1h0m3-5h0m4-2h0m5 7h0m1-4h0m1 4h0m4-6h0m2 0h0m2 4h0m1 3h0m4-3h0m0-6h0m4 5h0m5-5h0m2 0h0m24-1h0m14 7h0m1 0h0m0 2h0m1-2h0m0-6h0m0 3h0m3 0h0m4-1h0m3 7h0m3-8h0m4 6h0m0 2h0m0-7h0m1 0h0m1-1h0m7 0h0m2 4h0m3-1h0m4 0h0m1-1h0m2-2h0m3 6h0m21-7h0m18 2h0m14 2h0m3-3h0m9-1h0m2 10h0m5-7h0m8-3h0m9 4h0m3 0h0m2-4h0m7 7h0m6 3h0m69-7h0m1 6h0m1-1h0m0-5h0m1-2h0m1-1h0m4 4h0m6-4h0m1 2h0m1-2h0m3-1h0m3 7h0m4 3h0m1-2h0m2-3h0m1 13h0m-6 0h0m-1 5h0m-1-7h0m-1 0h0m0 4h0m-1 1h0m0-5h0m-7-1h0m-5-2h0m-3-1h0m-4 2h0m-71 3h0m-6 4h0m-2-6h0m-1-2h0m-1 3h0m-1 3h0m-4-1h0m-3 4h0m-19-2h0m-1-1h0m0-6h0m-3 5h0m-4-1h0m-3 4h0m-3-2h0m-2 2h0m-1-4h0m-2 5h0m-2-10h0m0 8h0m-8-5h0m-29 6h0m-1 2h0m-2-9h0m-4-2h0m-2 7h0m-4 2h0m0 1h0m-1-4h0m-4 3h0m-7-9h0m-6 9h0m-1-6h0m-11 1h0m-16-1h0m-7 0h0m-1-3h0m-79 6h0m-5 2h0m0-3h0m0 6h0m-5 0h0m-1-2h0m-2-4h0m-1 3h0m-6-5h0m-12 1h0m9 9h0m5 6h0m5-2h0m2 1h0m1-5h0m2 10h0m0-8h0m1 5h0m7-5h0m1-3h0m1 0h0m4 4h0m6 0h0m2 6h0m62-4h0m2 1h0m2-7h0m0 0h0m0 11h0m3-8h0m1 3h0m5 5h0m19-1h0m2-8h0m1 9h0m1-5h0m5 3h0m2-5h0m3 7h0m1-1h0m9-5h0m6 0h0m2 5h0m5-10h0m0 8h0m41-8h0m4 3h0m1 3h0m2-4h0m1 2h0m3 6h0m1-6h0m0-4h0m5 6h0m1 5h0m0-7h0m6 3h0m3 2h0m2-3h0m5 1h0m2-3h0m1 5h0m3-8h0m0 6h0m86 0h0m3 2h0m0-4h0m1 5h0m2-8h0m0 3h0m1-3h0m1 1h0m2-1h0m3 8h0m1-7h0m3 4h0m6 14h0m-4-8h0m-3 4h0m-2 6h0m-3-5h0m-4-2h0m-6-2h0m-4-2h0m0 1h0m-5 1h0m-8 5h0m-52 2h0m-6-3h0m-3-6h0m-2 2h0m-2-1h0m-4 8h0m-3-9h0m-1 4h0m-2-1h0m-2 6h0m-2-4h0m-1 2h0m-1 2h0m-1-7h0m-2 5h0m-2-3h0m-1-4h0m-2 5h0m-1 6h0m-61-9h0m-4 0h0m-8 6h0m-3-1h0m0-4h0m-1 3h0m-2-3h0m-7 6h0m-2 0h0m-1-9h0m-2 4h0m-4 1h0m-2-3h0m-7 4h0m-4-2h0m-1 2h0m-3 1h0m-5 2h0m-4-3h0m-80 5h0m-2-7h0m-2-4h0m0 6h0m-1-1h0m-3 0h0m-1-5h0m-1 2h0m0 4h0m-4-4h0m-3 1h0m-2 20h0m4 0h0m2 0h0m0-10h0m2 7h0m3-7h0m1 10h0m6-11h0m1 7h0m4 0h0m23 3h0m1-4h0m83-3h0m5 3h0m12-6h0m65 9h0m11-1h0m1 3h0m4-9h0m0 0h0m1-1h0m11 7h0m0-1h0m1-4h0m0-2h0m3 5h0m4 5h0m2-5h0m2 3h0m0-6h0m4 4h0m2-6h0m2 9h0m0 1h0m5-3h0m0 2h0m5-7h0m5 0h0m0 3h0m6 4h0m1 1h0m0-6h0m2-4h0m1 8h0m0-4h0m1 0h0m1 4h0m3-3h0m3 0h0m1 0h0m2 1h0m1 2h0m2-3h0m2 5h0m1 0h0m7 0h0m1-5h0m0 4h0m1 0h0m0 0h0m5-10h0m3 8h0m3-5h0m1 1h0m6-2h0m11 1h0m2 6h0m0-1h0m1-5h0m8 5h0m-1 5h0m-8 1h0m0 6h0m-3-3h0m-11 0h0m0-4h0m-3 5h0m-5-4h0m-1 0h0m-3 1h0m-1 1h0m-3 7h0m-2-1h0m-2-8h0m-1 7h0m-2-3h0m-1 1h0m-3-4h0m-6 0h0m-1-3h0m-1 1h0m-2 5h0m-4 0h0m-6-6h0m-2 4h0m-1 1h0m-1 6h0m-3-9h0m-5 8h0m-2-1h0m-2-8h0m-1 0h0m-2 5h0m-2-2h0m-8 2h0m-9-4h0m-2 2h0m-2 7h0m-3-8h0m0 1h0m-1-1h0m-2 8h0m-4-3h0m-2 0h0m-1 1h0m-6-6h0m-1 4h0m-10-2h0m-3 5h0m-7-8h0m-2 5h0m0-4h0m-2-1h0m-2 6h0m0 0h0m-3-2h0m0 0h0m-92 4h0m-2-1h0m-47-6h0m-7 4h0m-1 0h0m0 0h0m0 1h0m-3 3h0m-6-3h0m-3-8h0m0 3h0m-5-1h0m-2 2h0m-1-1h0m-5 4h0m-13-3h0m-1 0h0m-4-4h0m-3 11h0m-132-3h0m-2 2h0m-6-4h0m-3-1h0m-4 1h0m-1-3h0m0 6h0m-20-6h0m-1 1h0m-2 2h0m-3-2h0m0 4h0m-3 0h0m-3-6h0m0 3h0m-4 0h0m-2 3h0m1 13h0m2 1h0m2-1h0m4 0h0m1-2h0m1 4h0m1-6h0m1 0h0m2 2h0m5 1h0m6 3h0m4-9h0m2 4h0m1-2h0m3 7h0m2-6h0m0 2h0m1 3h0m1 0h0m13 1h0m1-8h0m1-1h0m1 6h0m1-1h0m2-4h0m3 2h0m15 4h0m2 2h0m98-11h0m7 1h0m7 6h0m1-3h0m3 7h0m1-5h0m1-4h0m2 1h0m0 6h0m6-1h0m1 3h0m3-9h0m3 9h0m0-5h0m2-6h0m1 10h0m4-3h0m4-3h0m5-3h0m3 1h0m0 0h0m2 7h0m1-9h0m54 10h0m5-2h0m2 1h0m2-1h0m6 0h0m1-2h0m1 1h0m3-3h0m35 2h0m6 0h0m1 3h0m0-1h0m1-4h0m1 6h0m1-2h0m4-1h0m1-2h0m2 4h0m1 2h0m2-6h0m2-1h0m0-3h0m4-1h0m2 9h0m5-4h0m5-4h0m0 10h0m2-6h0m0 6h0m9 0h0m1-6h0m3 6h0m6-6h0m3 5h0m1-4h0m0 2h0m3-3h0m20-4h0m1 0h0m3 0h0m4 0h0m5 3h0m10-4h0m0 2h0m2 7h0m2-7h0m1-1h0m0 1h0m13 9h0m4-5h0m0-2h0m3 3h0m5-7h0m8 10h0m4-10h0m6 2h0m-4 18h0m0 3h0m-1-2h0m-5-7h0m-1 2h0m-3 5h0m-10 1h0m-3-10h0m-3 11h0m-4-11h0m-7 10h0m-65-5h0m-5 1h0m-1 0h0m0-2h0m-14-4h0m-2 3h0m-6 5h0m-1-6h0m-2-1h0m-3 5h0m-2-2h0m-1-3h0m-4 7h0m-4-2h0m0 1h0m-2-7h0m0 6h0m-5-1h0m-8 4h0m-1 1h0m-30-10h0m-3 4h0m-53 4h0m-3-1h0m-1 2h0m-1 1h0m-1-2h0m-3 3h0m-11-2h0m-2 1h0m-3-5h0m-6 4h0m-1 2h0m-8-1h0m-1-8h0m-5 5h0m-3-1h0m-1-2h0m-2 0h0m-46 2h0m0-1h0m-6 4h0m0-4h0m-2 5h0m0-6h0m-4 6h0m-2-1h0m-2-2h0m-5-6h0m-2 6h0m-2-2h0m-1 4h0m-5-1h0m-2 2h0m-2 0h0m-1 1h0m-1 0h0m-6-2h0m-1 1h0m-6 1h0m-4-1h0m0-5h0m-1-1h0m-3 4h0m-3-8h0m-3 3h0m0 1h0m-1 7h0m-5-5h0m-3 0h0m0-3h0m-4-2h0m-5 3h0m-5 3h0m-4-4h0m0 8h0m-1-6h0m0 2h0m-3 2h0m0-3h0m-1-2h0m-1 4h0m-1-6h0m0 3h0m-1 5h0m-3-7h0m-2 0h0m-4 4h0m-5-4h0m-2 6h0m-2-1h0m-2 3h0m-2-11h0m-1 11h0m-1 0h0m-1-6h0m-3 1h0m0-1h0m-2-4h0m0 2h0m-2 3h0m-5 4h0m0-5h0m-2 5h0m-7-4h0m-1 1h0m-1-1h0m-1 17h0m1-7h0m1 4h0m3-2h0m0-3h0m1 1h0m2 6h0m2-9h0m1 6h0m6-3h0m1-1h0m0 3h0m2-3h0m2 4h0m5-5h0m4-2h0m1 1h0m1 5h0m0-3h0m2-3h0m2 7h0m4-4h0m1 5h0m5-8h0m4 11h0m1-10h0m0 4h0m2-5h0m3 9h0m5 2h0m9-1h0m5 0h0m9-8h0m7 6h0m2 2h0m0 0h0m3-3h0m3 2h0m2-2h0m1-1h0m0-4h0m0 2h0m6 0h0m38-1h0m59 4h0m2-7h0m2 4h0m1-3h0m10-1h0m3 0h0m15 5h0m8 1h0m9-6h0m80 9h0m1-1h0m4-3h0m2 2h0m2 1h0m3-5h0m1 6h0m1-6h0m0 4h0m0-3h0m1 2h0m1 1h0m1 1h0m1-7h0m106 3h0m5-4h0m2 2h0m7 4h0m6-6h0m3 6h0m0 1h0m3-7h0m3 8h0m2-6h0m0 0h0m2 5h0m3-7h0m1 2h0m5 18h0m-2-3h0m-1 2h0m-6 3h0m0-7h0m-2 4h0m-5 4h0m-1-4h0m-3 0h0m-8 2h0m-132-6h0m-84 8h0m-7-10h0m-6 2h0m-3 0h0m-103-3h0m-5 0h0m-4 2h0m-15 6h0m0 1h0m-3 1h0m-1 0h0m-4-1h0m-1-8h0m0 0h0m-3 10h0m-3-7h0m-7-2h0m-3-1h0m0-1h0m-1 2h0m-5 5h0m-8-3h0m-2-4h0m-1 3h0m-2 0h0m-5 2h0m-2-5h0m0 0h0m0 9h0m0 2h0m-23-5h0m-2-3h0m-10 2h0m-3 4h0m-2-7h0m-6 0h0m-2-1h0m-6 0h0m0 10h0m-2-8h0m-2 2h0m-1-4h0m0 5h0m-1 2h0m-4-6h0m0 12h0m0-1h0m2 7h0m2-5h0m0 4h0m3 0h0m1 3h0m1-2h0m1-2h0m0 2h0m1-6h0m8 2h0m4-2h0m2 6h0m14 1h0m2 1h0m1-1h0m3 0h0m1-8h0m1 5h0m0 5h0m3-1h0m3-8h0m2 4h0m6-2h0m0-3h0m8 5h0m0 3h0m10-8h0m5 4h0m6 5h0m1-3h0m9-6h0m5-1h0m0 4h0m7 7h0m2-7h0m3 3h0m5 3h0m1 1h0m1-1h0m2 1h0m121-8h0m2 8h0m0-4h0m1-5h0m222 1h0m2-1h0m1 6h0m1-1h0m2-2h0m1-5h0m3 11h0m1-1h0m0 0h0m4-5h0m3-2h0m1-1h0m3 6h0m2-7h0m1-1h0m1 9h0m1-5h0m0-2h0m6 6h0m1 3h0m6 7h0m-1 1h0m-1 1h0m0-2h0m-2-1h0m0-3h0m-1 4h0m-1 0h0m-3 4h0m-3-1h0m-4-3h0m0 0h0m0 2h0m-4-1h0m-8 2h0m-5-7h0m-343-2h0m-1 8h0m-15-7h0m-2 4h0m-4-3h0m-2 7h0m-7-7h0m-6 1h0m-3 0h0m0 1h0m0-1h0m-8-1h0m-13-2h0m-4 3h0m0 4h0m-1-5h0m-2 3h0m-4 4h0m-1-2h0m-6 2h0m-3-9h0m-3 9h0m-2 0h0m-1 2h0m-4-10h0m0 0h0m-1 4h0m-2-2h0m-1 8h0m-1-11h0m-2 5h0m0-4h0m-3 9h0m-3-5h0m-3-4h0m-6 1h0m-2 4h0m-1 5h0m-1-8h0m-5 6h0m0 1h0m-2-7h0m0 6h0m0-6h0m-1-3h0m-2 8h0m-1-4h0m-2 2h0m-1 4h0m-1-4h0m7 13h0m3-7h0m4 10h0m1-6h0m0 4h0m7-6h0m7 2h0m5 0h0m3-3h0m0 1h0m1 7h0m10-9h0m0 6h0m1 1h0m5-5h0m0-2h0m1 3h0m72 1h0m1 4h0m1-8h0m6 2h0m0 0h0m1-2h0m1 0h0m1 4h0m1 0h0m1 3h0m75 3h0m0-8h0m1 8h0m0-8h0m2 5h0m1-4h0m0 2h0m0-2h0m1 5h0m31-6h0m1 0h0m1-2h0m1 8h0m0 0h0m0-1h0m2-7h0m1 1h0m0 3h0m1 3h0m0-2h0m218 5h0m4-3h0m5-4h0m1-2h0m0 3h0m2 2h0m3-6h0m1 10h0m0-5h0m2-2h0m2 8h0m2-1h0m1-9h0m1 0h0m0 8h0m3-4h0m9 2h0m0 2h0m1-8h0m3 17h0m-4 5h0m0-10h0m0 3h0m-3 6h0m-6-5h0m-2-1h0m0 0h0m-2 0h0m-5 3h0m-2-6h0m-1 10h0m-1-7h0m-3 1h0m-2 1h0m-9-6h0m-1 5h0m-10-5h0m-2 8h0m-1 3h0m-444-1h0m-7-3h0m-1-2h0m-1-1h0m-2 2h0m-1 3h0m-12 9h0m2-3h0m4-3h0m1 0h0m2 8h0m1-4h0m8-3h0m6 4h0m4 0h0m2 4h0m2 1h0m323 0h0m0-1h0m5 0h0m9 1h0m2-2h0m3-1h0m1 0h0m2 2h0m1 2h0m2-1h0m4-5h0m68 1h0m10 1h0m0-5h0m1-1h0m3 7h0m1-8h0m2 8h0m2-1h0m1 0h0m6-5h0m4-2h0m0 4h0m3-3h0m3 0h0m1 4h0m2 2h0m8 1h0m9-6h0m2 4h0m13-3h0m-15 10h0m0 2h0m-6-2h0m0 4h0m-2-3h0m-15-2h0m-2 10h0m-6 0h0m-7-8h0m-4 9h0m-7-1h0m-1-2h0m-76-8h0m-6 0h0m-2 4h0m-1 7h0m-2-8h0m-19-3h0m-7 3h0m-2 0h0m-2 1h0m-304 6h0m-2-6h0m-3-4h0m-7 5h0m-3 3h0m-1 0h0m-2 2h0m-1-1h0m-6 2h0m-4 0h0m0 0h0m-3 0h0m-3-4h0m0-5h0m-1-1h0m-1 1h0m0-1h0m0 5h0m12 7h0m5 1h0m3-1h0m2 1h0m3 1h0m8 0h0m2-1h0m286 0h0m7 5h0m2-4h0m0 5h0m1-8h0m2 8h0m3-1h0m8 0h0m1 2h0m0-1h0m1-7h0m3 6h0m6-1h0m1-2h0m11 3h0m5-1h0m85-5h0m2 1h0m10 0h0m9 5h0m13-5h0m-130 11h0m-20-1h0m-8 2h0m-70 33h0m-1-3h0m-4 3h0m-10-6h0m-1-1h0m-3-1h0m-6 8h0m-1-1h0m-35-1h0m0 3h0m1 11h0m1-10h0m0 0h0m1 0h0m10-1h0m3 6h0m1-3h0m0 2h0m2 2h0m8-5h0m5 1h0m0-1h0m13 6h0m2-4h0m5 7h0m6-6h0m3 8h0m-5 2h0m-3-3h0m-6 3h0m-3 0h0m-4 2h0m-3-4h0m-20 6h0m-3-1h0m-2 2h0m-4-2h0m-3-3h0m-1-1h0m-55 20h0m5-1h0m27 0h0m162-1h0m2-4h0m2 3h0m3-2h0m4-2h0m4 4h0m0-4h0m4 5h0m4-2h0m4-1h0m3 5h0m7 0h0m14 9h0m-10-5h0m-3 0h0m-7 4h0m-1 2h0m-3 3h0m-8-1h0m-6 0h0m-1-8h0m0-2h0m-7 1h0m-4 8h0m-4 0h0m-3 2h0m-2-4h0m-3-2h0m-5 3h0m-4 0h0m-1 3h0m-3-4h0m-2 4h0m-5-1h0m-1 0h0m-1-1h0m-60-3h0m-18-1h0m-21 5h0m0 1h0m-1-4h0m-3 2h0m-2-1h0m-7 0h0m-5 3h0m-11-5h0m-4 0h0m-2 4h0m-2-6h0m-4 2h0m-1 4h0m-1-3h0m-5 0h0m-6 0h0m-1-5h0m-6 7h0m-1-7h0m-2 7h0m-2-6h0m-4 8h0m-2-6h0m-1 6h0m-1 9h0m6-4h0m2 4h0m1-1h0m2 4h0m0-7h0m0 1h0m0-5h0m9 6h0m2-6h0m1 7h0m2 1h0m0 0h0m4-3h0m0-2h0m1 6h0m4 2h0m7-8h0m1-2h0m2 7h0m4-7h0m1 8h0m3-1h0m0 1h0m1-9h0m3 6h0m1-3h0m2-3h0m2 7h0m9-5h0m0 2h0m1-3h0m1 3h0m1 1h0m2-2h0m1 5h0m1 2h0m2 0h0m0-5h0m2-5h0m1 5h0m4-4h0m1 9h0m6 1h0m4-2h0m1-4h0m1 6h0m1-9h0m0 9h0m1-5h0m2 3h0m1-2h0m2-3h0m4 4h0m1-2h0m2 2h0m5-1h0m0 4h0m4 0h0m0-6h0m2 6h0m1-2h0m1-1h0m1 1h0m3-4h0m11 5h0m4-5h0m3-2h0m2 5h0m2-2h0m11-4h0m2-1h0m3 9h0m0-1h0m1-9h0m0 9h0m6-2h0m7-2h0m1-5h0m7 1h0m3 4h0m9-2h0m2-3h0m3 5h0m4-5h0m11 8h0m3-1h0m9-6h0m3 7h0m5 2h0m2-4h0m0 5h0m7-8h0m4 3h0m3-5h0m7 5h0m-1 7h0m-1 7h0m-1-3h0m-1-3h0m-8 5h0m-3 3h0m-1-6h0m-7 2h0m-4 1h0m-4 3h0m-5-10h0m-12 6h0m-1-4h0m-2 1h0m-1 8h0m-4-7h0m-55 1h0m-1 4h0m-4-9h0m-3 0h0m-13 3h0m-4 5h0m-1 0h0m-2 0h0m0-7h0m-5 0h0m-2 3h0m-2 6h0m-4-7h0m-2 1h0m-1-1h0m-6-3h0m-16 0h0m-5 6h0m-8 0h0m-12-4h0m-11-2h0m-20 2h0m-7 2h0m-13-2h0m104 11h0m0 6h0m1-3h0m5 1h0m3-5h0m3 0h0m12 11h0m3 0h0m4-3h0m3-8h0m0 6h0m5-4h0m5 9h0m1-2h0m0-9h0m2 7h0m2 0h0m39 3h0m8-5h0m6 6h0m4-5h0m2 1h0m8 0h0m3-2h0m3-2h0m0 2h0m1 0h0m2 0h0m4 2h0m5 1h0m3 2h0m9-2h0m-11 6h0m-4 9h0m-3-11h0m-7 4h0m0 5h0m-4-7h0m-1 8h0m-4-7h0m-1-3h0m-2 6h0m0-6h0m-5 3h0m-1 4h0m0 2h0m-2 1h0m-5-4h0m-2-3h0m-8-1h0m0 1h0m-11 0h0m-6 5h0m-4 1h0m-5-5h0m-11-4h0m-3 2h0m-1 0h0m-5 3h0m0 3h0m-2-8h0m0 2h0m-2-1h0m-1 7h0m-3 3h0m0-6h0m-4 5h0m-3-10h0m-3 9h0m-8-5h0m-3-2h0m34 18h0m3 2h0m1-4h0m1-3h0m2 2h0m1-1h0m1-3h0m7 2h0m3 0h0m2 4h0m12-4h0m6 1h0m2 5h0m3 1h0m1-10h0m2 2h0m7 4h0m6 1h0m0 3h0m10-6h0m0-2h0m5-1h0m1 1h0m2-2h0m1 9h0m3-4h0" stroke="#7a30e8" stroke-width="4.2" stroke-linecap="round" fill="none"/>
<path transform="scale(0.25)" d="M994 2291h0m20-2h0m0 0h0m9 2h0m151-1h0m0-1h0m3 1h0m1-3h0m4 3h0m-1 4h0m-2 4h0m-1 5h0m-5-6h0m-5-3h0m-2 7h0m-3 0h0m-2-5h0m-11 4h0m-120-8h0m-1 4h0m-2-2h0m-2 8h0m-2-6h0m-3 7h0m-5-5h0m-1 1h0m-3-2h0m-2-3h0m-1 0h0m0 4h0m-4 4h0m-7-2h0m-1 2h0m-5-3h0m-6 14h0m14-5h0m6 2h0m2 4h0m2-10h0m0 10h0m1-1h0m1-7h0m6 6h0m3-3h0m4-5h0m2 2h0m126 0h0m0 9h0m2-2h0m6-9h0m4 2h0m0 8h0m1 1h0m2-6h0m0 5h0m1-2h0m0 3h0m5-7h0m3 2h0m-15 16h0m-150-10h0m-4 4h0m120 17h0m2-1h0m3 1h0m1-4h0m4-1h0m24-1h0m2 5h0m2 0h0m1-2h0m5 0h0m66 3h0m7-4h0m5-1h0m8 5h0m4 0h0m12 13h0m-2-1h0m-6 1h0m-3-6h0m-1-1h0m-5 6h0m-5-9h0m-2 10h0m-1-7h0m-3-3h0m0 4h0m-5-3h0m-1 2h0m0-2h0m-6-1h0m-1 0h0m-1 4h0m-63-3h0m54 12h0m1-1h0m0 7h0m2 4h0m0-7h0m1-1h0m2 7h0m3 0h0m3-9h0m1 3h0m0 2h0m3 3h0m12-5h0m1 5h0m0-9h0m5 3h0m2-3h0m4 11h0m2-3h0m1-3h0m1 3h0m5-5h0m3-1h0m1 0h0m2 0h0m1-1h0m1 10h0m4-6h0m1 1h0m1 2h0m1-1h0m9 2h0m3 1h0m1-1h0m15-1h0m98 1h0m6 2h0m22 7h0m-4 3h0m-3-1h0m0-2h0m-1 4h0m0-1h0m-2-3h0m0 2h0m0-2h0m-5-4h0m-6 6h0m-12 0h0m-2-4h0m-82 5h0m-3-1h0m-13-4h0m-11 0h0m-2 5h0m-2-9h0m-3 0h0m-3 8h0m-4-2h0m-2 3h0m-1-1h0m-3-3h0m-9 0h0m-1 3h0m-2-1h0m-2 0h0m-7-3h0m-5 0h0m0-2h0m-12-1h0m-8 10h0m-2-7h0m0-1h0m0 2h0m-1-4h0m-1 0h0m0 8h0m0-8h0m-4 6h0m-2-7h0m-1 6h0m-38 1h0m-26 1h0m-4-1h0m-1 0h0m0 0h0m-7 1h0m0 0h0m-8 1h0m-3 2h0m-70 6h0m1 1h0m6 4h0m6-7h0m1 7h0m4-1h0m2 0h0m46-4h0m1 3h0m3-1h0m11-1h0m2-4h0m21 8h0m8-2h0m2 2h0m4-1h0m1 1h0m6-6h0m19-2h0m7 5h0m5-4h0m0 0h0m3 8h0m9-5h0m0-1h0m0-1h0m39-3h0m5 1h0m2 1h0m2 1h0m4 3h0m3-4h0m1-1h0m7 8h0m4-5h0m3 6h0m4-1h0m4-4h0m6-5h0m1 0h0m3 1h0m7 3h0m79-4h0m2 9h0m2 0h0m1 0h0m0 1h0m4-2h0m7-4h0m1 2h0m2-1h0m2-4h0m2-2h0m1 3h0m3 7h0m3-10h0m-5 16h0m-2-4h0m-1 2h0m-19 7h0m-69-1h0m-2-1h0m-1-2h0m0 5h0m-1-1h0m0-4h0m-9-2h0m-1 4h0m-1-4h0m0 7h0m-4-4h0m0 2h0m-11 2h0m-3-8h0m-7 1h0m-9-2h0m-3 8h0m-2-9h0m-2 10h0m-5-3h0m-36 2h0m-11 2h0m-3-8h0m-6 7h0m-36-7h0m-9-3h0m-2 2h0m-2 1h0m-33-3h0m-48 1h0m-1 6h0m-11-7h0m0 9h0m-7-9h0m-3 2h0m16 15h0m5 1h0m1 5h0m1-3h0m5-1h0m1 2h0m4 0h0m1 1h0m73-6h0m3 5h0m17 0h0m23 0h0m2-2h0m10-7h0m2 7h0m0 4h0m1-8h0m1 3h0m2-3h0m1 4h0m1-4h0m2 4h0m1 4h0m1-6h0m45 1h0m1-1h0m8 1h0m1-2h0m2 6h0m2-9h0m8 7h0m0 3h0m4-7h0m1-2h0m0-2h0m1 5h0m0 1h0m5 4h0m4-10h0m82 1h0m3 1h0m0 6h0m2-6h0m0 4h0m2 2h0m3 1h0m1-8h0m0 4h0m0 0h0m4 1h0m4 4h0m1-5h0m8 17h0m-6 1h0m0-9h0m-5 3h0m-4 3h0m-2-6h0m-7 2h0m-4 6h0m0-5h0m-10-5h0m-2 6h0m-5 5h0m0-8h0m-35-2h0m-18 3h0m-1-1h0m-15 7h0m-3-2h0m0-1h0m-8 3h0m0-6h0m0-3h0m0 1h0m-3 2h0m0-4h0m-3 8h0m-1-7h0m0-1h0m-2 0h0m-6 3h0m-1-1h0m-60 2h0m-1 3h0m-2 1h0m0 0h0m-4 2h0m-3 1h0m-2-11h0m-4 10h0m-2 1h0m-2-7h0m-2-3h0m0 9h0m-3-3h0m-1 0h0m-8-4h0m-15 2h0m-1 2h0m-7-3h0m-3-3h0m-3 1h0m-66 5h0m-7-7h0m-1 0h0m-2 5h0m-1 0h0m-1 1h0m-1-2h0m0 5h0m-2-7h0m0 8h0m-7-3h0m-179 16h0m4-4h0m10 0h0m2 2h0m161-4h0m3 5h0m1-4h0m1 5h0m11-9h0m0-2h0m2 4h0m15 5h0m107-5h0m12-4h0m61 8h0m8-6h0m3 1h0m1 7h0m2 1h0m4-4h0m2 0h0m26-1h0m3-1h0m2-5h0m1 10h0m6-9h0m2-1h0m1 4h0m0-2h0m0 7h0m1-7h0m6 4h0m2 0h0m2 1h0m6-1h0m0 1h0m1 1h0m5 2h0m1-1h0m1-5h0m2 7h0m0-4h0m1 1h0m1-4h0m0 3h0m4 1h0m1-4h0m1-4h0m1 2h0m4-1h0m1 10h0m1-10h0m1 4h0m6 6h0m3-11h0m7 5h0m6-5h0m5 8h0m1-2h0m3 5h0m0 0h0m1 0h0m-9 6h0m-2-3h0m-3 0h0m-1 6h0m-2-2h0m-6 2h0m-17-3h0m-2-1h0m-3-2h0m-2-2h0m0 3h0m-2 1h0m-3 6h0m-12-7h0m-5 8h0m-2-9h0m-6 7h0m-5-2h0m-2 1h0m-1 2h0m0-10h0m-34 2h0m-4 6h0m-1 1h0m-1-6h0m-1 2h0m-1-1h0m-1 1h0m-15 6h0m-15-2h0m-9-3h0m-80 4h0m-2 0h0m-1 0h0m-53-6h0m-9 7h0m0-10h0m-1 2h0m-1 3h0m-1-2h0m-3 0h0m0 1h0m-3-1h0m-3-3h0m-3 7h0m-4 0h0m-6 3h0m-3-3h0m-1 3h0m-1 0h0m-2 0h0m-1-10h0m-2 3h0m-2 2h0m-6-6h0m-133 9h0m-2-6h0m-1 6h0m-2-1h0m-6 3h0m-5-3h0m0-4h0m-2-4h0m-2 7h0m-2 1h0m-1-2h0m-2-6h0m-1 7h0m-3-1h0m-4 2h0m0-4h0m-2-2h0m-4 2h0m-3 6h0m0-5h0m-1 5h0m0-9h0m-3 0h0m-3 8h0m-2 4h0m1 0h0m0 5h0m2-5h0m4 8h0m3-7h0m2 7h0m4-4h0m0-1h0m8 3h0m3 4h0m5-5h0m4 3h0m6-2h0m4 0h0m0-6h0m2 5h0m1-4h0m0 4h0m5-5h0m2 1h0m11 5h0m8 4h0m12-1h0m93-6h0m4-1h0m0-2h0m2 8h0m1-5h0m1 4h0m1-7h0m9 3h0m0 5h0m3-3h0m3-6h0m5 1h0m3 2h0m5 2h0m7 2h0m7-1h0m2 3h0m1 1h0m58 1h0m0-1h0m2-1h0m4 2h0m37-6h0m11 5h0m2-3h0m1-1h0m2-2h0m2-2h0m15 9h0m0-10h0m0 0h0m4 10h0m2-7h0m6 0h0m2-2h0m5 9h0m3-2h0m4-8h0m0-1h0m5 10h0m3 0h0m3-4h0m0-1h0m6 0h0m2-3h0m34 9h0m3-1h0m1-9h0m9 9h0m5-7h0m0 5h0m0 1h0m3-2h0m0-5h0m7 7h0m3-2h0m9 3h0m5-3h0m1-2h0m2 6h0m3-10h0m0 14h0m-3-1h0m0 5h0m-5-6h0m-3-1h0m-1 0h0m-7 5h0m-3 0h0m-4 2h0m-5-3h0m-2-3h0m-1 1h0m-1 9h0m-7-6h0m-1-4h0m-6 1h0m-50 5h0m-3-4h0m0 5h0m-3 2h0m-1-9h0m-4 5h0m0-6h0m-2 6h0m-3-1h0m-10 2h0m0-3h0m-1-2h0m-25 5h0m-3 4h0m-3-11h0m-5 6h0m-1-2h0m-2 0h0m-1 5h0m-35-7h0m-43 8h0m-13-3h0m-1-2h0m0-3h0m-11 4h0m-1-3h0m-4-3h0m-5 8h0m-4-8h0m-2 11h0m0-11h0m-7 10h0m-4-10h0m-57 5h0m-1 3h0m0-1h0m-1-1h0m-14-4h0m-3 7h0m-6-4h0m-3 3h0m-10-4h0m0 1h0m-8 1h0m-6 4h0m-5-6h0m-3-2h0m-9-1h0m-2 4h0m-19-2h0m-1 7h0m-2-5h0m-5 4h0m-14-8h0m-18 8h0m-3 1h0m-2-1h0m-4-2h0m-3-5h0m-6 11h0m1 3h0m2 5h0m1-3h0m0 3h0m1-5h0m1-4h0m4 11h0m0-2h0m2-3h0m3-4h0m1 2h0m1 3h0m3-5h0m4-1h0m1 3h0m3-4h0m2 1h0m16 5h0m1-3h0m9-1h0m8 5h0m3-3h0m21 7h0m6-1h0m5-4h0m1-2h0m9 0h0m0-2h0m0 7h0m3-2h0m3 0h0m1-3h0m14-3h0m14 3h0m1-2h0m62 5h0m2-1h0m4-3h0m6 2h0m3-3h0m20 1h0m1 8h0m1-11h0m1 0h0m2 6h0m1-1h0m3 0h0m3-1h0m3 2h0m1-5h0m79-1h0m0 8h0m2 2h0m1 0h0m1-4h0m0-4h0m1 2h0m2-3h0m3 8h0m3 2h0m2-9h0m10-1h0m104 0h0m2 6h0m3-6h0m2 6h0m6 4h0m5-2h0m3-7h0m2 8h0m0-4h0m9-4h0m3 2h0m2 15h0m-3-6h0m-2 3h0m0 5h0m-1-7h0m-1 0h0m-2 8h0m-1-7h0m-2-3h0m-1 4h0m-5-2h0m-2-1h0m-1 2h0m-7-1h0m-2-1h0m-223 6h0m-1 2h0m-2-7h0m-109-2h0m-23 7h0m0-7h0m-2 6h0m-3 0h0m-5-3h0m-3-2h0m-7 0h0m-1-1h0m-4 4h0m-1-1h0m-1 0h0m-2-3h0m0 5h0m-6 2h0m0 0h0m0-4h0m-4 5h0m-9-3h0m-7-2h0m-7 6h0m-19-2h0m-2 0h0m-5-6h0m-10 5h0m-2-3h0m-3 0h0m0-2h0m-4 0h0m-1 6h0m0-6h0m-2 4h0m0-5h0m0 22h0m1-2h0m1-6h0m2 7h0m2-3h0m10-3h0m3-2h0m3 3h0m1 6h0m1-7h0m2 1h0m1 7h0m0-11h0m17 6h0m0 5h0m9-9h0m1 4h0m1-6h0m9 0h0m1 11h0m1 0h0m3 0h0m16-2h0m4-4h0m2-2h0m0 6h0m9-6h0m3 8h0m2-7h0m2-2h0m2 4h0m6-2h0m0 6h0m6-1h0m122-9h0m8 0h0m1 8h0m227-6h0m0 8h0m5-4h0m2 4h0m6 1h0m4-10h0m8 8h0m0 1h0m10 12h0m-2-2h0m-6 3h0m-1-6h0m0-1h0m-3-1h0m-1 2h0m-5 3h0m-1-5h0m-5 3h0m-1 4h0m-1-2h0m-1-2h0m-2-4h0m-230 7h0m-3 0h0m-110-2h0m-4-3h0m0 2h0m-4 3h0m-1-2h0m-2-1h0m-8 5h0m-1-5h0m0 3h0m-5 2h0m-4-8h0m-2-3h0m-13 4h0m-2 5h0m-5-8h0m-2 3h0m-4-4h0m-3 0h0m-8 3h0m-1-1h0m-13 1h0m0 6h0m-6-1h0m-1-8h0m0 3h0m0 0h0m-9 4h0m-4-6h0m-4 5h0m-5-2h0m-4 1h0m-1-4h0m-2 1h0m-1 1h0m-2-3h0m0 1h0m0 6h0m-3 2h0m-3 2h0m-2-9h0m-2-2h0m-4 3h0m0 2h0m-5-4h0m-1 8h0m10 6h0m3 7h0m7-9h0m15 0h0m3-1h0m1 2h0m2 2h0m1 1h0m4 4h0m4-7h0m1-2h0m9 3h0m58-2h0m5 0h0m4 1h0m4 3h0m3 0h0m1 2h0m2-5h0m5-1h0m2 0h0m69 8h0m0 2h0m4-3h0m1-2h0m2-1h0m33-4h0m3 0h0m217 5h0m4 2h0m0-6h0m11 9h0m1-5h0m0-5h0m2 4h0m8-2h0m0 7h0m0-3h0m8 1h0m3-7h0m1 4h0m0-5h0m1 4h0m1-2h0m7 10h0m-2 5h0m-2-4h0m-2 3h0m-1 2h0m-1 3h0m-1-6h0m-1 5h0m-1-4h0m0 4h0m-3 0h0m-8-6h0m-5-2h0m-3 6h0m-3-5h0m0 2h0m-2 3h0m-3-1h0m-2 6h0m-7-3h0m-1-8h0m-5 3h0m-4 2h0m-7 5h0m-438-4h0m-4 1h0m-2-4h0m-7 8h0m-2-1h0m-7 12h0m1-7h0m3 2h0m5 3h0m12-7h0m3 0h0m6 6h0m1 2h0m314 2h0m5 0h0m2-1h0m4-3h0m3 4h0m22-2h0m75-4h0m5 1h0m0-6h0m5 0h0m6 5h0m2-1h0m10-4h0m5 1h0m0 10h0m7-3h0m7-1h0m0 9h0m-9 3h0m-7-3h0m-20 0h0m-5 7h0m-5-6h0m-2-3h0m-2 6h0m-2-8h0m-73 9h0m-2 0h0m-1-7h0m-1 6h0m-8-3h0m-6-3h0m-4 7h0m-3 2h0m-4-2h0m-5 2h0m-1 0h0m0-6h0m-2-2h0m-2 0h0m-4 6h0m-1-4h0m-1 4h0m-6-1h0m-294-2h0m-2 1h0m-12 2h0m-6-2h0m-5 1h0m-2 0h0m-2 2h0m-4-4h0m-4-4h0m4 13h0m8 2h0m5-3h0m11 0h0m10-2h0m288 6h0m2-4h0m1 0h0m1 2h0m1-4h0m3 5h0m3 2h0m3-6h0m3 0h0m1-1h0m1 9h0m4 2h0m5-4h0m4-7h0m4 0h0m4 8h0m0 3h0m1-5h0m1 1h0m2 1h0m2-3h0m0-1h0m0 6h0m3-10h0m83 6h0m3 1h0m6-4h0m1-2h0m0 3h0m2 3h0m13-3h0m3 5h0m6-6h0m-128 10h0m-3 1h0m-13-1h0m-3 1h0m-86 31h0m-3 0h0m-5 0h0m-6 1h0m-3-1h0m-30 2h0m-6 9h0m0 0h0m3-5h0m1-3h0m2 9h0m1-9h0m6 7h0m0-5h0m2 8h0m19-6h0m4-1h0m11 3h0m9-4h0m3 2h0m-3 10h0m-14 2h0m-19-3h0m-6 2h0m-2-2h0m-3 0h0m-3 0h0m-6 1h0m-3 3h0m-2-4h0m-2 1h0m-40 21h0m4 0h0m178-4h0m4 0h0m3 1h0m3 2h0m2-2h0m0-2h0m4 2h0m1-8h0m5 9h0m4 1h0m0 1h0m3-1h0m8-2h0m3 4h0m-5 10h0m-17-4h0m-1-6h0m-2 5h0m-4 5h0m-12-6h0m-11 6h0m-2-1h0m-4 1h0m-7 1h0m0-4h0m-2 2h0m-1-1h0m-8 2h0m-6-2h0m-64 3h0m-3-1h0m-7-1h0m-1 0h0m-15-4h0m-5 0h0m-3 2h0m-7 1h0m-5-1h0m-2 0h0m-8 1h0m0-5h0m-1 8h0m0-4h0m-6 4h0m0-10h0m-1 10h0m-2-3h0m-5-7h0m-3 0h0m-1 9h0m0-8h0m-2-2h0m-1 2h0m-4 5h0m-6-7h0m-3 7h0m-3-7h0m-4 5h0m-1-2h0m2 17h0m2-5h0m3-2h0m0 7h0m0-8h0m4 11h0m3-9h0m4 0h0m5 9h0m0-3h0m3 2h0m5-3h0m0 4h0m2-2h0m1 1h0m5 1h0m2-6h0m1 2h0m5 2h0m3 0h0m1-8h0m9 3h0m3-1h0m2-3h0m2 0h0m2 7h0m0 1h0m1 1h0m6 0h0m1-2h0m16 4h0m2-10h0m1 9h0m1-8h0m0 0h0m9 6h0m1 1h0m1 1h0m10-7h0m2 7h0m0-1h0m6-4h0m0 0h0m13 1h0m4-4h0m4 8h0m0 0h0m0-5h0m1-2h0m13-1h0m2 6h0m3-1h0m4 2h0m1-4h0m1 2h0m7-5h0m12 0h0m2 4h0m7-4h0m7 4h0m2 1h0m1 4h0m11-6h0m13 0h0m1 3h0m2 0h0m1 3h0m13-10h0m3 2h0m3 6h0m1-3h0m3-2h0m-2 17h0m-3-7h0m-5 9h0m-1-8h0m0 2h0m-6 0h0m-5-2h0m-4-2h0m-3 6h0m0-4h0m-2 7h0m-7-3h0m-3-3h0m-2 0h0m-2 2h0m-1-3h0m-2 2h0m-3-1h0m-1-2h0m-55 2h0m-11 2h0m0 4h0m-2-3h0m-4-4h0m-2 8h0m-8-5h0m-1-2h0m-4 1h0m-1-3h0m-1 9h0m-3 0h0m-1-1h0m-1 0h0m0 0h0m-6-10h0m-18 0h0m-22 1h0m49 14h0m0-3h0m7 9h0m3-4h0m12-1h0m0 2h0m2 4h0m2-10h0m11 8h0m1-5h0m55 2h0m1 1h0m1-2h0m6-2h0m1 0h0m11 0h0m3 0h0m2 9h0m14 0h0m1-7h0m4 0h0m9-4h0m2 0h0m-2 13h0m-8 9h0m-4-7h0m-5 8h0m-3-7h0m-1 4h0m-4 2h0m-13-6h0m-6 5h0m-7-1h0m-2 2h0m-7-10h0m-2 3h0m-3-2h0m-2 9h0m-4 0h0m-4-6h0m-3 4h0m-10-2h0m0 0h0m-3-3h0m-6 4h0m-8 1h0m-2-1h0m-7 1h0m-2 2h0m-3-8h0m-2 0h0m-5 5h0m10 5h0m4 1h0m7 1h0m3 1h0m3 1h0m4-2h0m1 1h0m1 3h0m3-2h0m6 1h0m2-2h0m6 1h0m2-2h0m3 1h0m1-2h0m1 3h0m3 2h0m6-6h0m1 4h0m0 7h0m3-10h0m5 1h0m0 6h0m4-3h0m1-3h0m2 6h0m8-5h0m1 2h0m14 6h0" stroke="#2828ff" stroke-width="4.2" stroke-linecap="round" fill="none"/>
<path transform="scale(0.25)" d="M996 2290h0m30-4h0m160 9h0m-4 0h0m-1-1h0m-6 9h0m-4-8h0m-2 0h0m-6 0h0m-1 4h0m-5 3h0m-2 0h0m-2-5h0m-4 3h0m-2-4h0m-121-4h0m-3 10h0m-2-7h0m-4-1h0m0-2h0m-2 4h0m-3 3h0m-5-3h0m-1 6h0m-3-2h0m-1 3h0m-4-1h0m-1-8h0m0 8h0m-5-6h0m-4 12h0m2 2h0m11-1h0m11 4h0m0 0h0m1-8h0m5 2h0m124 0h0m4-3h0m2 4h0m5 5h0m5 0h0m1-3h0m2-3h0m3 3h0m0-6h0m2 8h0m0 1h0m6-3h0m2 1h0m2 2h0m3-7h0m3 1h0m71 19h0m-82-7h0m-154-3h0m-7 0h0m-5 0h0m120 14h0m3 6h0m31-6h0m1-1h0m2 4h0m6 4h0m1-9h0m2 10h0m62-1h0m3-1h0m13-2h0m0 3h0m3 0h0m2-7h0m8 8h0m13 10h0m-3 0h0m-5-5h0m0-2h0m-8 7h0m0-6h0m-3-1h0m-3-1h0m-14 7h0m-1 2h0m-6 0h0m-6-4h0m-4 5h0m-47-8h0m46 11h0m4 5h0m1 4h0m0-10h0m1 5h0m1 3h0m9 3h0m1-6h0m5-4h0m6 2h0m3 1h0m5-4h0m5 9h0m7-4h0m6-3h0m1-2h0m3 5h0m0 0h0m1-3h0m7 2h0m4 3h0m2 4h0m6-3h0m0 0h0m0-2h0m5 3h0m7 0h0m7 2h0m96-6h0m3 5h0m1-1h0m0-4h0m2 6h0m0-3h0m16 15h0m-4-8h0m-15 2h0m-1-4h0m-11 4h0m-83 5h0m-5-6h0m-5 6h0m-2-2h0m-11-8h0m-8 11h0m-7-4h0m-4 0h0m-6-6h0m-9 1h0m0 4h0m-1 2h0m-4-4h0m-1 1h0m0-4h0m-1 4h0m-5 2h0m0-3h0m-7-1h0m-3 8h0m-2-8h0m-9-1h0m-4 4h0m-2-6h0m-3 10h0m-1-2h0m-74-1h0m-2 1h0m-12 2h0m-1-4h0m-4 3h0m-64 9h0m2 4h0m1-1h0m1-7h0m1 8h0m4-6h0m1 6h0m2 0h0m1-6h0m0 3h0m2 1h0m33-3h0m3 5h0m20-10h0m1 0h0m1 8h0m9-5h0m25 8h0m8-9h0m5 8h0m3-9h0m6 10h0m3-1h0m4-3h0m3 2h0m5-6h0m4-3h0m2 4h0m1-2h0m4 3h0m1 6h0m8-10h0m43 3h0m0 3h0m1-4h0m1 0h0m0 7h0m2-9h0m11 4h0m2-2h0m2 8h0m9-10h0m1 0h0m1 1h0m5 6h0m6-7h0m5 7h0m4 2h0m3-5h0m80 5h0m4-3h0m1 4h0m1 0h0m1-9h0m3 7h0m1-4h0m1 5h0m11-9h0m1 5h0m2 0h0m3 7h0m-5 8h0m-2-6h0m-13 5h0m-7 2h0m-71-8h0m-5 1h0m-6 0h0m-5 8h0m-7-11h0m-3 7h0m-2-1h0m-9 3h0m-6-4h0m-6 2h0m0-7h0m-5 3h0m-6-3h0m0 9h0m-1-3h0m-32-1h0m-7-2h0m0-1h0m-6-1h0m-5 4h0m-3-4h0m-16 4h0m-102 6h0m-9-3h0m-6 3h0m-1-9h0m-4-2h0m-8 1h0m-4 8h0m-9-9h0m3 13h0m10 9h0m3-3h0m0-3h0m2-1h0m0 5h0m7-3h0m3 1h0m3-5h0m1 0h0m3 3h0m4 3h0m0-1h0m69-3h0m0 3h0m4-3h0m6 1h0m19 2h0m1-2h0m5 7h0m3-9h0m3 7h0m2-5h0m0 5h0m4 2h0m14-1h0m3-5h0m6-4h0m50 10h0m9-2h0m0 0h0m5-1h0m13-4h0m0 4h0m9-3h0m3 6h0m1-11h0m72 9h0m2 0h0m0 1h0m4-1h0m12 2h0m12 9h0m-4-5h0m0 0h0m-2 5h0m-5 1h0m-1-2h0m-20 2h0m-5-4h0m-5 4h0m-1-2h0m-1 2h0m-40 2h0m-9-9h0m-4 3h0m-2 4h0m-2-9h0m-5 0h0m-1 2h0m-4 0h0m-4 5h0m-4-7h0m-7 11h0m-1-7h0m-5 7h0m-60-10h0m-4 2h0m-7 3h0m-2 2h0m-1-6h0m-3 8h0m-4-6h0m-3-2h0m0-1h0m-3 2h0m-1 3h0m0-5h0m-2 9h0m-4 1h0m-7-9h0m-6 0h0m0 2h0m-6 2h0m-5 0h0m0 5h0m-8-10h0m-3-1h0m-70 4h0m-11 2h0m-9-6h0m-183 20h0m18 2h0m0 0h0m8-1h0m13 1h0m142-2h0m3 2h0m3 1h0m0-1h0m1-6h0m1-3h0m2 0h0m7 6h0m3 4h0m0-11h0m17 10h0m6 0h0m6 1h0m80-11h0m83 11h0m1-1h0m1 0h0m1 1h0m1-1h0m1 1h0m1-3h0m9-7h0m0 2h0m3-1h0m1-2h0m9 1h0m1 5h0m4-1h0m2 3h0m4 1h0m1-2h0m14-3h0m6-1h0m2-1h0m7 2h0m8-2h0m4-1h0m1 9h0m0-5h0m0 2h0m1-4h0m2 6h0m3-4h0m0 3h0m1 0h0m1 3h0m1-4h0m1 2h0m2 2h0m1-9h0m1-2h0m1 6h0m10 3h0m0-5h0m4 0h0m2 2h0m0-1h0m14 5h0m2-1h0m6 0h0m4-6h0m3 12h0m-7 7h0m-12-10h0m-2 5h0m-8 2h0m-6-2h0m-5-2h0m-3 6h0m-2-7h0m-1 8h0m-1-7h0m-5 8h0m-9-11h0m-1 4h0m-11 3h0m-9 4h0m-13-7h0m-1 7h0m-2-6h0m-15 4h0m-1-3h0m-3 5h0m-5-5h0m-2-4h0m-2 8h0m-1-8h0m-5-1h0m-3 2h0m-1-2h0m-1 0h0m-2 1h0m-4 0h0m-6 6h0m-2-7h0m0 9h0m0-10h0m-4 7h0m-2-2h0m-2-3h0m-2 9h0m-26 0h0m-70-8h0m-66 4h0m-1 0h0m-3 3h0m-1-1h0m-4-7h0m-6 6h0m-4-7h0m-2 9h0m-2-3h0m-14-2h0m-132 5h0m-11 1h0m-2-1h0m-1-10h0m-8 7h0m-3 4h0m-3-8h0m-3 1h0m-4-1h0m-1 3h0m-2-3h0m-4-1h0m-4 4h0m0 2h0m-2-2h0m-3 1h0m4 13h0m6 2h0m2-3h0m2-2h0m5 3h0m6-2h0m8-6h0m1 11h0m1-11h0m5 0h0m0 11h0m16-4h0m6 2h0m0-4h0m1 4h0m1-5h0m3 3h0m1 0h0m7 1h0m108-3h0m1-2h0m2 0h0m1 4h0m1 0h0m12-6h0m2 1h0m3 1h0m6 4h0m0-6h0m16 8h0m1-5h0m1 1h0m0 0h0m60 0h0m1-1h0m7-4h0m6 11h0m51-7h0m6 1h0m11 5h0m5-3h0m12-1h0m4-2h0m5 5h0m6 2h0m7-10h0m23 2h0m5 8h0m1-7h0m4 4h0m1-7h0m10 1h0m1 0h0m3 1h0m2 1h0m11-2h0m3 5h0m3 2h0m0 0h0m5-1h0m0-5h0m1 6h0m4-7h0m3 3h0m1 0h0m3-3h0m1 5h0m2-7h0m4 7h0m0 8h0m-6 1h0m-10-1h0m-4 5h0m-2-7h0m-4 4h0m-4-4h0m-1 2h0m-2 3h0m-3-1h0m-13-4h0m-3 3h0m-2-4h0m-45 3h0m-2 6h0m-4-7h0m-6 4h0m-10-3h0m-1-1h0m-9 3h0m-1-5h0m-5 5h0m-16-2h0m-2 4h0m-1 2h0m-4-3h0m-3 4h0m-2-2h0m-2-4h0m0 4h0m-1 3h0m-38-10h0m-55 3h0m-7 3h0m-2-5h0m-2 8h0m0-1h0m-1-9h0m-5 6h0m0 5h0m0-3h0m-7-2h0m-1 4h0m-2-3h0m-2 1h0m-13-3h0m-4-3h0m-52 6h0m0-3h0m0-2h0m-13 2h0m0-2h0m-2 2h0m-1 3h0m-2-2h0m-4 4h0m-1-4h0m-2 4h0m-6-1h0m-15-4h0m-3 3h0m-2-2h0m-1 1h0m-1 1h0m-10-4h0m-5 1h0m-1 5h0m0-10h0m-5 0h0m0 2h0m-1 5h0m-5 3h0m-3 1h0m0-4h0m-4 2h0m-10-3h0m-1-2h0m-3-4h0m-1 6h0m0 0h0m-5 4h0m-3-3h0m-2-2h0m-6-3h0m-8 9h0m-2-9h0m-3 5h0m-3-1h0m-3 2h0m-1-6h0m-4 1h0m-1 13h0m0 2h0m1-6h0m2 4h0m0-2h0m1 1h0m16 6h0m3-3h0m3-2h0m1-1h0m3-2h0m1 0h0m4 8h0m2-5h0m4-3h0m10 5h0m8 1h0m3 1h0m2-8h0m0 1h0m2 7h0m1 1h0m7-2h0m15 0h0m4 2h0m1-8h0m4 9h0m0 1h0m1-5h0m2 2h0m1-4h0m5 1h0m1 4h0m0-1h0m1-6h0m2 2h0m2 6h0m0-9h0m25 6h0m9-2h0m2-3h0m55 1h0m4 1h0m2 6h0m3-5h0m28-4h0m0 2h0m1 8h0m2-10h0m5 3h0m1 2h0m87 2h0m3-8h0m3 3h0m1 1h0m4 7h0m7-11h0m1 2h0m40 0h0m75 7h0m3-3h0m9 4h0m3-5h0m1 0h0m2 5h0m0-5h0m0-3h0m1-1h0m4 5h0m1-3h0m0 0h0m1-1h0m8 19h0m-2-1h0m-1 1h0m-4-7h0m-7 9h0m-2-5h0m0-1h0m-8-4h0m-2 10h0m-6-9h0m-135-1h0m-91 8h0m-1-8h0m-107 4h0m-1-3h0m-23 7h0m-3-2h0m-1 4h0m-11-6h0m-8-5h0m0 5h0m-3 0h0m-7-4h0m-4 4h0m-1 2h0m-1-7h0m-1 3h0m0 3h0m-4-1h0m-6 1h0m-2-1h0m-1 5h0m-4 1h0m-4-11h0m-1 8h0m-26-4h0m-3 4h0m-1-4h0m-1-4h0m-1 8h0m0-8h0m0 0h0m-5 2h0m0 4h0m-2 0h0m-1 4h0m-1-9h0m-7 7h0m0-8h0m-6 1h0m10 16h0m0-3h0m2 6h0m1 0h0m9-5h0m5 5h0m8-6h0m1 1h0m7 5h0m8-3h0m2-2h0m3 0h0m3 7h0m1 0h0m4-9h0m3 3h0m1-4h0m5 2h0m3 2h0m1 4h0m5-2h0m1 4h0m1-10h0m6 7h0m2 2h0m0 0h0m2-1h0m13-2h0m2-4h0m0 6h0m9-3h0m1 1h0m5 5h0m1 0h0m6-1h0m1-7h0m117-3h0m1 8h0m2-8h0m4 7h0m222-5h0m3 3h0m0-1h0m7-4h0m0 8h0m8 2h0m3-10h0m1 5h0m2 5h0m2 0h0m6 7h0m-4 2h0m-9 4h0m-9-10h0m-5 4h0m-1-5h0m-220 8h0m-119 1h0m-2 1h0m-3-4h0m-1 0h0m-3 1h0m-2 2h0m-2 0h0m0-5h0m-14 6h0m-2-6h0m-5 2h0m-6-3h0m-6 4h0m-5-5h0m-6 3h0m-2-1h0m-4 0h0m-2 1h0m-1-4h0m-15 5h0m-5 0h0m-5 5h0m-1-10h0m-2 5h0m0-4h0m-7 6h0m-3-7h0m-2 1h0m-1 7h0m-4-5h0m-1 2h0m0 2h0m-3 2h0m-4-5h0m0 3h0m-3 1h0m-2-4h0m0 1h0m-10-3h0m0-2h0m-3 8h0m9 11h0m5 1h0m6-8h0m19-1h0m0 6h0m2-3h0m1-1h0m0 0h0m0 3h0m2-1h0m1-3h0m1 3h0m4-1h0m14-2h0m60 0h0m2-1h0m1 2h0m3-2h0m1 9h0m3-8h0m5 0h0m2 5h0m72 3h0m4-8h0m1 4h0m1-3h0m7 8h0m21-8h0m3 7h0m4-3h0m3-3h0m215 7h0m0 0h0m9-4h0m5-3h0m1 7h0m2-3h0m0 0h0m3 1h0m2 2h0m4-6h0m1 1h0m1 4h0m8-2h0m0-4h0m4-1h0m2 2h0m4-1h0m2 11h0m-5-2h0m-3 8h0m-5-3h0m-5-4h0m-1 5h0m-5-6h0m-4 5h0m-5-4h0m-1 7h0m-11-2h0m-7-4h0m-4 5h0m-3 3h0m-447-10h0m0 5h0m-7 3h0m0 1h0m-1 0h0m-5 2h0m-7 12h0m5-3h0m0-4h0m8 4h0m0-8h0m0 0h0m11 0h0m1 3h0m6 7h0m317 0h0m2 1h0m11-4h0m1-2h0m92 3h0m9 2h0m16 1h0m7-11h0m1 11h0m0-8h0m1 0h0m4 2h0m1 0h0m1 2h0m3-2h0m1-5h0m5 5h0m3 3h0m1 2h0m3-6h0m0-3h0m4 2h0m-16 14h0m-3 1h0m0 5h0m-7-6h0m-2-3h0m-3 8h0m-1-2h0m0-6h0m-11 0h0m0 8h0m-4-10h0m-10 10h0m-2-5h0m-1-5h0m-1 6h0m-76 1h0m-4 4h0m-1-2h0m-10-7h0m-8 3h0m0 2h0m-14-5h0m-2 5h0m-10 3h0m-291-9h0m0 1h0m-2 3h0m-2 0h0m-5 4h0m-1-5h0m-5 4h0m-2-6h0m0 4h0m-7 0h0m-3-5h0m-8 3h0m-1 4h0m-4 0h0m17 5h0m4 0h0m2 1h0m12-1h0m4 0h0m294-1h0m5 0h0m7 4h0m6-3h0m9 8h0m0 2h0m2-8h0m1 2h0m10-2h0m98 1h0m4-1h0m11 2h0m4 1h0m-123 6h0m-5 3h0m-99 31h0m-1 1h0m0-5h0m-4-5h0m0 10h0m-1-3h0m-1-1h0m-1 2h0m-7 1h0m-4 0h0m-6 1h0m-2-1h0m-2 1h0m-28-4h0m-4 14h0m6-9h0m3 1h0m6 5h0m2-6h0m0 11h0m4-6h0m1-2h0m0 2h0m13 2h0m2-4h0m7 3h0m1-2h0m0 0h0m5 2h0m1-3h0m1 3h0m7 1h0m0-4h0m-2 10h0m-11 3h0m-1 0h0m-8-1h0m-16 0h0m-6 1h0m-4 1h0m-3-5h0m-1 7h0m-11-4h0m-55 20h0m6-4h0m1 4h0m3-4h0m6-2h0m24 5h0m25 0h0m147-1h0m3-2h0m5-7h0m35 19h0m-12-7h0m-1 0h0m0 5h0m-4-4h0m0 4h0m-2-5h0m-7 4h0m-4 4h0m-4-6h0m-1 7h0m-3-3h0m0-1h0m-1-1h0m0 7h0m-4-4h0m-9 1h0m-3-2h0m-1-1h0m-2 1h0m-3-1h0m-1-2h0m-4 3h0m-2 1h0m-10 1h0m-9 2h0m-6-2h0m0-1h0m-73-1h0m-1 4h0m-4-5h0m-5 6h0m-5 0h0m-5-2h0m-2 0h0m-1-5h0m0 5h0m-5 0h0m-3 2h0m-1-2h0m0-3h0m-2 4h0m0-5h0m-4-2h0m0 6h0m-6-4h0m-13-1h0m-3 1h0m-5 1h0m-6-4h0m-2 2h0m-3-3h0m-1 10h0m-6-11h0m0 9h0m-2-8h0m-2 2h0m-7 4h0m-2 2h0m9 6h0m0 1h0m0 7h0m6-6h0m6-3h0m1 4h0m1-5h0m9 8h0m3-8h0m2-1h0m0 7h0m2 3h0m1 0h0m8-6h0m3 0h0m2 4h0m1-2h0m0-6h0m7 0h0m2 4h0m6 3h0m13-5h0m11 0h0m0 0h0m0 2h0m2 7h0m5-11h0m1 9h0m5-2h0m1-3h0m2-1h0m1 1h0m0 0h0m1 7h0m4-6h0m0 2h0m5-1h0m20 0h0m4 1h0m1 0h0m3 0h0m0-3h0m5 3h0m13-6h0m4-1h0m5 4h0m3 2h0m0 3h0m0-4h0m15-3h0m14 4h0m4 0h0m3-1h0m5 4h0m1-1h0m4-4h0m12 2h0m6 5h0m17 0h0m1-8h0m8 8h0m-2 9h0m-1-5h0m-5 0h0m-8 2h0m-4 4h0m-3-2h0m-9-4h0m-3 0h0m0 6h0m-6 0h0m0-5h0m-1 2h0m-3-1h0m-5 0h0m-3-3h0m-51 9h0m0-5h0m-1-1h0m-2 1h0m-9 2h0m-1-8h0m-1 1h0m-11 9h0m-3-5h0m-3 4h0m-3-1h0m0-8h0m0 3h0m-9 8h0m-1-7h0m-19 0h0m-87-3h0m-11 1h0m119 15h0m1-5h0m18 2h0m2 7h0m7-8h0m4 5h0m5-5h0m3-1h0m10 11h0m1-1h0m51-7h0m7 1h0m1 0h0m2-1h0m5 6h0m5 0h0m3-4h0m16 4h0m5-9h0m1 4h0m1-4h0m0 6h0m2 6h0m-6 7h0m-9-6h0m0-1h0m-1 7h0m-4 3h0m-3-7h0m-2 1h0m0-2h0m-6 3h0m-9 1h0m-3-3h0m-2 6h0m-9-9h0m-1 10h0m-1 0h0m-1-6h0m-1 4h0m-2-7h0m-8 6h0m-9 3h0m-2-5h0m-2 3h0m-4 1h0m-4-6h0m-2 6h0m-13-8h0m-7 1h0m-3-2h0m-2 11h0m-1-4h0m-1-4h0m-2 6h0m-3-4h0m-2-5h0m-3 4h0m-3 4h0m-13-6h0m33 15h0m7-2h0m4 4h0m2-3h0m4 1h0m3-3h0m0-2h0m2 2h0m5-1h0m0 9h0m5-8h0m15 1h0m1 8h0m4-11h0m10 9h0m3-3h0m7 1h0m12-3h0m9-4h0m1 0h0m1 2h0" stroke="#ff0000" stroke-width="4.2" stroke-linecap="round" fill="none"/>
<rect x="213" y="564.1" width="156.8" height="124" fill="none" stroke="#000" stroke-width="1.35" rx="1.6"/>
<line x1="237.2" y1="688.1" x2="237.2" y2="690.3" stroke="#000" stroke-width="1"/>
<text x="237.2" y="698.6" font-size="7.6" text-anchor="middle">−10</text>
<line x1="210.8" y1="669.55" x2="213" y2="669.55" stroke="#000" stroke-width="1"/>
<line x1="265.82" y1="688.1" x2="265.82" y2="690.3" stroke="#000" stroke-width="1"/>
<text x="265.82" y="698.6" font-size="7.6" text-anchor="middle">−5</text>
<line x1="210.8" y1="646.83" x2="213" y2="646.83" stroke="#000" stroke-width="1"/>
<line x1="294.45" y1="688.1" x2="294.45" y2="690.3" stroke="#000" stroke-width="1"/>
<text x="294.45" y="698.6" font-size="7.6" text-anchor="middle">0</text>
<line x1="210.8" y1="624.1" x2="213" y2="624.1" stroke="#000" stroke-width="1"/>
<line x1="323.07" y1="688.1" x2="323.07" y2="690.3" stroke="#000" stroke-width="1"/>
<text x="323.07" y="698.6" font-size="7.6" text-anchor="middle">5</text>
<line x1="210.8" y1="601.38" x2="213" y2="601.38" stroke="#000" stroke-width="1"/>
<line x1="351.7" y1="688.1" x2="351.7" y2="690.3" stroke="#000" stroke-width="1"/>
<text x="351.7" y="698.6" font-size="7.6" text-anchor="middle">10</text>
<line x1="210.8" y1="578.65" x2="213" y2="578.65" stroke="#000" stroke-width="1"/>
<text x="291.4" y="708.3" font-size="8.8" text-anchor="middle">UMAP 1</text>
<defs><linearGradient id="gj" x1="0" y1="0" x2="0" y2="1"><stop offset="0" stop-color="#ff0000"/><stop offset="0.22" stop-color="#ff0000"/><stop offset="0.39" stop-color="#8a3cf0"/><stop offset="0.63" stop-color="#6a2ee6"/><stop offset="0.8" stop-color="#0000ff"/><stop offset="1" stop-color="#0000ff"/></linearGradient></defs>
<rect x="337.3" y="651" width="6.8" height="35" fill="url(#gj)"/>
<line x1="342.5" y1="658.7" x2="343.7" y2="658.7" stroke="#fff" stroke-width="0.8"/>
<text x="347.6" y="661.4" font-size="7.6">0.04</text>
<line x1="342.5" y1="668.2" x2="343.7" y2="668.2" stroke="#fff" stroke-width="0.8"/>
<text x="347.6" y="670.9" font-size="7.6">0.00</text>
<line x1="342.5" y1="677.7" x2="343.7" y2="677.7" stroke="#fff" stroke-width="0.8"/>
<text x="347.6" y="680.4" font-size="7.6">−0.04</text>
<text x="444.6" y="556.7" font-size="15.5" fill="#000" font-weight="bold">l</text>
<text x="532.2" y="559.4" font-size="10.1" text-anchor="middle" fill="#222">Negative Correlation Module</text>
<g fill-opacity="0.85"><path d="M489.02 574.1 C489.18 573.39 490.83 572.53 491.52 572.28 C492.22 572.04 494.14 572.09 494.97 572 C495.81 571.91 498.18 571.3 498.68 571.52 C499.18 571.74 499.36 573.24 499.28 573.91 C499.2 574.58 498.59 576.66 497.99 577.25 C497.39 577.84 495.01 578.84 494.11 578.97 C493.2 579.11 490.82 578.97 490.23 578.4 C489.64 577.83 488.87 574.81 489.02 574.1Z" fill="#8440ec"/><path d="M526.95 575.44 C527.15 575.05 529.22 574.34 529.97 574 C530.71 573.67 532.53 572.85 533.33 572.57 C534.12 572.29 536.22 571.5 536.78 571.61 C537.33 571.73 538.07 572.97 538.07 573.53 C538.07 574.08 537.18 575.79 536.78 576.39 C536.37 577 535.31 578.42 534.62 578.69 C533.93 578.95 531.57 578.84 530.83 578.69 C530.08 578.53 528.7 577.73 528.24 577.35 C527.79 576.97 526.75 575.83 526.95 575.44Z" fill="#8440ec"/><path d="M523.59 582.99 C523.76 582.83 525.01 582.67 525.23 582.8 C525.44 582.92 525.57 583.88 525.4 584.04 C525.23 584.19 523.97 584.26 523.76 584.13 C523.55 584.01 523.42 583.14 523.59 582.99Z" fill="#8440ec"/><path d="M531.43 581.08 C531.56 580.76 532.78 581.08 533.16 581.46 C533.53 581.84 534.57 583.86 534.62 584.33 C534.67 584.79 533.89 585.49 533.59 585.47 C533.28 585.45 532.29 584.65 532.04 584.13 C531.78 583.62 531.3 581.39 531.43 581.08Z" fill="#8440ec"/><path d="M520.14 594.74 C520.49 594.52 523.17 593.63 524.02 593.31 C524.86 592.99 526.69 592.16 527.38 591.97 C528.07 591.78 529.72 591.47 529.97 591.68 C530.22 591.9 529.84 593.37 529.54 593.79 C529.23 594.2 528.02 594.94 527.38 595.22 C526.74 595.5 524.76 596.18 524.02 596.18 C523.27 596.18 521.45 595.39 521 595.22 C520.55 595.05 519.79 594.97 520.14 594.74Z" fill="#8440ec"/><path d="M507.81 594.74 C508.14 594.41 509.71 593.03 510.4 593.31 C511.09 593.59 512.97 596.36 513.76 597.13 C514.56 597.9 516.67 599.25 517.21 599.9 C517.75 600.56 518.47 602.21 518.42 602.77 C518.37 603.33 517.32 604.46 516.78 604.68 C516.24 604.9 514.36 605.02 513.76 604.68 C513.17 604.35 512.19 602.47 511.69 601.81 C511.2 601.16 510.01 599.7 509.54 599.04 C509.07 598.39 507.84 596.68 507.64 596.18 C507.44 595.67 507.49 595.08 507.81 594.74Z" fill="#8440ec"/><path d="M509.97 612.23 C510.06 611.51 511.6 609.18 512.04 608.41 C512.48 607.64 513.16 605.85 513.76 605.64 C514.37 605.43 516.52 606.16 517.21 606.59 C517.9 607.03 519.02 608.6 519.71 609.36 C520.4 610.13 522.86 612.42 523.16 613.19 C523.46 613.96 522.65 615.36 522.3 615.96 C521.94 616.56 520.68 617.96 520.14 618.35 C519.6 618.74 518.28 619.47 517.64 619.3 C517 619.14 515.37 617.46 514.62 616.91 C513.88 616.37 511.81 615.17 511.26 614.62 C510.72 614.07 509.88 612.96 509.97 612.23Z" fill="#8440ec"/><path d="M524.02 616.44 C524.37 616.16 526.32 616.02 526.86 616.15 C527.41 616.28 528.52 617.16 528.67 617.58 C528.82 618.01 528.57 619.5 528.16 619.78 C527.74 620.06 525.64 620.12 525.14 619.97 C524.64 619.83 523.98 618.95 523.85 618.54 C523.72 618.13 523.67 616.72 524.02 616.44Z" fill="#8440ec"/><path d="M527.81 629.24 C527.94 628.93 528.77 628.08 529.02 628.29 C529.27 628.5 530 630.62 529.97 631.06 C529.94 631.49 529 632.03 528.76 632.01 C528.52 632 528.01 631.29 527.9 630.96 C527.79 630.64 527.68 629.56 527.81 629.24Z" fill="#8440ec"/><path d="M518.42 630.1 C518.54 629.85 519.84 629.66 520.14 629.82 C520.44 629.97 521.12 631.18 521 631.44 C520.88 631.7 519.41 632.17 519.11 632.01 C518.8 631.86 518.3 630.36 518.42 630.1Z" fill="#8440ec"/><path d="M535.91 611.28 C536.01 610.87 537.14 610.09 537.64 610.32 C538.13 610.55 539.94 612.78 540.14 613.28 C540.34 613.78 539.75 614.57 539.36 614.62 C538.97 614.68 537.18 614.15 536.78 613.76 C536.37 613.37 535.81 611.68 535.91 611.28Z" fill="#8440ec"/><path d="M534.19 595.22 C534.64 594.4 536.74 593.9 537.64 593.79 C538.53 593.68 540.98 594.42 541.86 594.26 C542.75 594.11 544.73 592.94 545.22 592.45 C545.72 591.96 545.73 590.28 546.08 590.06 C546.44 589.84 547.89 590.05 548.24 590.54 C548.59 591.03 548.85 593.5 549.1 594.26 C549.35 595.03 550.09 596.52 550.39 597.13 C550.7 597.74 551.59 598.86 551.69 599.52 C551.79 600.18 551.51 602.22 551.26 602.77 C551 603.32 549.93 603.87 549.53 604.2 C549.13 604.54 548.4 605.47 547.81 605.64 C547.22 605.8 545.14 605.75 544.45 605.64 C543.75 605.53 542.46 604.85 541.86 604.68 C541.26 604.51 539.87 604.09 539.28 604.2 C538.68 604.32 537.27 605.69 536.78 605.64 C536.28 605.58 535.4 604.28 535.05 603.73 C534.7 603.17 533.86 601.85 533.76 600.86 C533.66 599.87 533.74 596.05 534.19 595.22Z" fill="#8440ec"/><path d="M546.77 616.25 C546.99 615.4 549.11 613.1 550.05 612.61 C550.98 612.12 553.68 612.35 554.79 612.04 C555.9 611.73 558.54 610.43 559.53 609.94 C560.53 609.45 562.44 608.19 563.32 607.84 C564.21 607.48 566.56 606.63 567.12 606.88 C567.67 607.13 568.29 609.21 568.06 609.94 C567.84 610.66 565.66 612.23 565.22 613.09 C564.78 613.95 564.71 616.86 564.27 617.3 C563.83 617.73 562.2 617.06 561.43 616.82 C560.65 616.57 558.52 615.14 557.63 615.19 C556.75 615.25 554.62 616.68 553.84 617.3 C553.07 617.91 551.65 620.15 551 620.45 C550.34 620.75 548.73 620.37 548.24 619.88 C547.75 619.39 546.56 617.09 546.77 616.25Z" fill="#8440ec"/><path d="M546.77 586.91 C547.21 586.24 550.06 583.82 551 583.27 C551.93 582.73 554.02 582.03 554.79 582.22 C555.56 582.41 557.08 584.35 557.63 584.9 C558.19 585.45 558.98 586.43 559.53 586.91 C560.08 587.39 561.6 588.7 562.38 589.01 C563.15 589.32 565.29 589.34 566.17 589.58 C567.04 589.83 569 590.62 569.87 591.11 C570.75 591.6 572.94 593.05 573.67 593.79 C574.39 594.52 575.97 596.75 576.08 597.42 C576.19 598.09 575.12 599.4 574.61 599.52 C574.11 599.64 572.32 598.22 571.77 598.47 C571.22 598.71 570.31 601.01 569.87 601.62 C569.44 602.24 568.72 603.6 568.06 603.73 C567.41 603.85 565.05 603.11 564.27 602.67 C563.5 602.24 561.98 600.67 561.43 600 C560.87 599.33 559.86 597.73 559.53 596.94 C559.2 596.15 559.03 593.77 558.58 593.21 C558.14 592.66 556.4 592.22 555.74 592.16 C555.07 592.11 553.66 592.86 552.89 592.74 C552.13 592.61 549.84 591.55 549.19 591.11 C548.53 590.68 547.57 589.5 547.29 589.01 C547.01 588.52 546.34 587.57 546.77 586.91Z" fill="#8440ec"/><path d="M566.17 604.78 C566.49 604.11 568.27 602.47 568.93 602.1 C569.58 601.73 571 601.5 571.77 601.62 C572.54 601.75 574.57 602.66 575.56 603.15 C576.56 603.64 579.09 605.28 580.3 605.83 C581.52 606.37 585.01 607.23 585.99 607.84 C586.98 608.44 588.54 610.01 588.75 610.99 C588.96 611.97 587.8 614.9 587.8 616.25 C587.8 617.59 588.42 621.2 588.75 622.55 C589.08 623.9 590.97 627.08 590.65 627.81 C590.33 628.53 586.87 629.01 585.99 628.77 C585.12 628.52 583.7 626.68 583.15 625.71 C582.59 624.74 581.8 621.43 581.25 620.45 C580.7 619.47 579.18 618.03 578.41 617.3 C577.63 616.56 575.5 614.76 574.61 614.14 C573.73 613.53 571.65 612.41 570.82 612.04 C570 611.67 568.09 611.48 567.55 610.99 C567 610.5 566.33 608.56 566.17 607.84 C566.01 607.11 565.85 605.45 566.17 604.78Z" fill="#8440ec"/><path d="M577.46 637.18 C577.9 636.38 579.64 634.28 580.3 633.54 C580.97 632.81 582.37 631.43 583.15 630.87 C583.92 630.31 586.07 629.12 586.94 628.77 C587.82 628.41 589.93 627.56 590.65 627.81 C591.36 628.05 592.73 630.14 593.06 630.87 C593.39 631.59 593.77 633.16 593.49 634.02 C593.21 634.88 591.41 637.37 590.65 638.23 C589.88 639.09 587.93 640.77 586.94 641.38 C585.96 641.99 583.2 643.29 582.2 643.48 C581.2 643.67 579.07 643.37 578.41 643.01 C577.74 642.64 576.62 641.01 576.51 640.33 C576.4 639.65 577.02 637.97 577.46 637.18Z" fill="#8440ec"/><path d="M592.54 591.11 C592.93 590.5 594.78 589.51 595.39 589.58 C595.99 589.65 597.16 591.26 597.71 591.68 C598.27 592.11 600.02 592.54 600.13 593.21 C600.24 593.88 598.99 596.56 598.66 597.42 C598.33 598.28 597.72 600.08 597.28 600.57 C596.85 601.06 595.51 601.81 594.96 601.62 C594.4 601.43 592.87 599.74 592.54 598.95 C592.21 598.16 592.11 595.75 592.11 594.84 C592.11 593.92 592.16 591.72 592.54 591.11Z" fill="#8440ec"/><path d="M581.25 606.31 C581.58 606.01 585.84 605.62 586.94 605.26 C588.04 604.89 589.88 603.7 590.65 603.15 C591.41 602.61 592.72 600.69 593.49 600.57 C594.27 600.45 596.68 601.61 597.28 602.1 C597.89 602.59 598.5 604.11 598.66 604.78 C598.82 605.45 598.93 607.23 598.66 607.84 C598.39 608.44 597.05 609.63 596.34 609.94 C595.62 610.25 593.43 610.57 592.54 610.51 C591.66 610.46 589.74 609.77 588.75 609.46 C587.77 609.15 584.97 608.2 584.1 607.84 C583.22 607.47 580.92 606.61 581.25 606.31Z" fill="#8440ec"/><path d="M544.45 641.86 C544.62 641.42 546.53 640.18 547.29 639.76 C548.06 639.33 550.12 638.53 551 638.23 C551.87 637.93 553.96 637.42 554.79 637.18 C555.62 636.93 557.82 635.76 558.15 636.12 C558.48 636.49 557.92 639.47 557.63 640.33 C557.35 641.19 556.29 642.87 555.74 643.48 C555.19 644.1 553.66 645.46 552.89 645.59 C552.13 645.71 550.01 644.78 549.19 644.53 C548.36 644.29 546.38 643.8 545.83 643.48 C545.27 643.17 544.28 642.29 544.45 641.86Z" fill="#8440ec"/><path d="M465.15 610.22 C465.55 609.1 467.75 608.46 468.6 608.12 C469.44 607.79 471.51 607.26 472.39 607.36 C473.26 607.46 475.39 608.5 476.1 608.98 C476.8 609.46 477.8 610.98 478.42 611.47 C479.05 611.96 480.56 612.8 481.44 613.19 C482.31 613.58 484.87 614.47 485.92 614.81 C486.98 615.16 489.74 615.8 490.49 616.15 C491.24 616.5 492.22 617.34 492.39 617.77 C492.56 618.21 492.53 619.53 491.95 619.88 C491.38 620.22 488.53 620.55 487.47 620.74 C486.42 620.93 483.96 621.6 482.9 621.5 C481.85 621.4 479.48 620.27 478.42 619.88 C477.37 619.49 474.91 618.45 473.85 618.16 C472.8 617.87 470.39 617.44 469.37 617.39 C468.36 617.35 465.64 618.61 465.15 617.77 C464.66 616.94 464.75 611.35 465.15 610.22Z" fill="#8440ec"/><path d="M465.23 617.87 C465.67 617.08 468.37 617.39 469.37 617.49 C470.38 617.59 472.63 618.33 473.85 618.73 C475.08 619.13 478.48 620.64 479.89 620.93 C481.3 621.22 484.51 621.29 485.92 621.22 C487.33 621.14 490.98 620.03 491.95 620.26 C492.93 620.49 493.66 622.49 494.28 623.22 C494.91 623.96 496.65 625.89 497.3 626.57 C497.95 627.25 499.45 628.56 499.88 629.05 C500.32 629.54 501.23 630.57 501.01 630.77 C500.78 630.97 498.77 630.97 497.99 630.77 C497.2 630.57 495.16 629.44 494.28 629.05 C493.41 628.66 491.47 627.62 490.49 627.43 C489.51 627.24 486.98 627.24 485.92 627.43 C484.87 627.62 482.4 628.57 481.44 629.05 C480.47 629.53 478.35 631.34 477.65 631.54 C476.94 631.74 475.95 631.06 475.41 630.77 C474.86 630.48 473.63 629.14 472.99 629.05 C472.36 628.96 470.63 630.12 469.98 630.01 C469.32 629.9 467.89 628.77 467.39 628.1 C466.89 627.43 465.92 625.47 465.67 624.27 C465.41 623.08 464.8 618.66 465.23 617.87Z" fill="#8440ec"/><path d="M464.98 618.54 C465.22 617.71 467.01 617.82 467.39 618.16 C467.77 618.49 468.2 620.36 468.25 621.41 C468.3 622.45 468.02 626.25 467.82 627.14 C467.62 628.03 466.82 629.27 466.53 629.05 C466.24 628.83 465.5 626.46 465.32 625.23 C465.14 624 464.74 619.36 464.98 618.54Z" fill="#8440ec"/><path d="M464.03 639.09 C464.12 638.45 465.14 636.22 465.58 635.74 C466.02 635.26 467.21 635.07 467.82 634.98 C468.43 634.89 470.22 634.59 470.84 634.98 C471.45 635.37 472.68 637.7 473.08 638.32 C473.48 638.95 474.37 639.89 474.29 640.33 C474.2 640.76 473.14 641.85 472.39 642.05 C471.63 642.25 468.71 642.15 467.82 642.05 C466.94 641.95 465.25 641.53 464.8 641.19 C464.36 640.84 463.94 639.72 464.03 639.09Z" fill="#8440ec"/><path d="M493.51 615.86 C493.84 615.65 496.19 615.49 496.52 615.67 C496.86 615.85 496.68 617.18 496.35 617.39 C496.02 617.6 494.01 617.67 493.68 617.49 C493.35 617.31 493.17 616.08 493.51 615.86Z" fill="#8440ec"/><path d="M497.99 617.11 C498.32 616.55 500.13 615.73 500.57 615.67 C501.02 615.62 501.83 616.14 501.78 616.63 C501.73 617.12 500.49 619.26 500.14 619.88 C499.8 620.49 499.13 621.82 498.85 621.88 C498.57 621.95 497.83 621.01 497.73 620.45 C497.63 619.89 497.66 617.66 497.99 617.11Z" fill="#8440ec"/><path d="M497.82 662.98 C498.21 662.23 501.39 661.85 502.64 661.83 C503.9 661.81 507.2 662.6 508.59 662.79 C509.98 662.98 513.28 663.25 514.54 663.46 C515.79 663.67 518.25 664.29 519.36 664.6 C520.48 664.92 523.23 665.76 524.11 666.13 C524.98 666.5 526.94 667.49 526.86 667.76 C526.78 668.03 524.52 668.37 523.42 668.43 C522.31 668.48 518.79 668.28 517.38 668.24 C515.97 668.19 512.86 668.01 511.35 668.04 C509.84 668.08 505.86 668.5 504.45 668.52 C503.05 668.54 500.06 668.88 499.28 668.24 C498.51 667.59 497.42 663.73 497.82 662.98Z" fill="#8440ec"/><path d="M513.76 653.9 C514.01 653.34 515.9 652.94 516.52 652.94 C517.14 652.94 518.75 653.51 519.11 653.9 C519.46 654.29 519.74 655.79 519.54 656.29 C519.34 656.79 517.99 658.03 517.38 658.2 C516.78 658.37 514.79 658.22 514.37 657.72 C513.94 657.22 513.51 654.46 513.76 653.9Z" fill="#8440ec"/><path d="M521.26 653.42 C521.58 653.03 523.62 652.63 524.28 652.47 C524.93 652.3 526.26 651.91 526.86 651.99 C527.47 652.07 529.2 652.63 529.45 653.14 C529.7 653.64 529.42 655.75 529.02 656.29 C528.62 656.82 526.71 657.53 526 657.72 C525.3 657.91 523.51 658.14 522.98 657.91 C522.46 657.69 521.72 656.34 521.52 655.81 C521.32 655.29 520.94 653.81 521.26 653.42Z" fill="#8440ec"/><path d="M526.86 669.19 C527.27 668.69 529.51 667.56 530.31 667.28 C531.12 667 532.95 666.91 533.76 666.8 C534.56 666.69 536.5 666.55 537.21 666.32 C537.91 666.1 538.99 665.17 539.79 664.89 C540.6 664.61 543.1 664.21 544.1 663.93 C545.11 663.66 547.71 662.95 548.41 662.5 C549.12 662.06 549.63 660.45 550.14 660.11 C550.64 659.78 552.12 659.47 552.72 659.63 C553.32 659.8 554.6 661.27 555.31 661.55 C556.01 661.82 557.95 661.69 558.76 662.02 C559.56 662.36 561.58 663.69 562.2 664.41 C562.83 665.14 563.9 667.23 564.1 668.24 C564.3 669.24 564.15 671.95 563.93 673.01 C563.71 674.07 562.91 676.59 562.2 677.31 C561.5 678.04 559 678.92 557.89 679.23 C556.79 679.53 553.93 679.84 552.72 679.89 C551.51 679.95 548.76 679.84 547.55 679.7 C546.34 679.57 543.59 678.92 542.38 678.75 C541.17 678.58 538.41 678.55 537.21 678.27 C536 677.99 533.04 676.86 532.04 676.36 C531.03 675.86 529.19 674.53 528.59 673.97 C527.98 673.41 527.06 672.14 526.86 671.58 C526.66 671.02 526.46 669.69 526.86 669.19Z" fill="#8440ec"/></g>
<path d="M536.78 598.09 C537.18 597.71 539.19 597.03 539.79 597.13 C540.4 597.23 541.8 598.46 541.95 598.95 C542.1 599.44 541.54 600.99 541.09 601.34 C540.63 601.68 538.62 602.02 538.07 601.91 C537.52 601.8 536.5 600.83 536.34 600.38 C536.19 599.94 536.37 598.47 536.78 598.09Z" fill="#fff"/><path d="M538.93 670.15 C539.03 669.42 540.71 668.15 541.52 667.76 C542.32 667.37 544.92 666.8 545.83 666.8 C546.73 666.8 548.72 667.26 549.27 667.76 C549.83 668.26 550.67 670.32 550.57 671.1 C550.47 671.88 549.17 673.95 548.41 674.45 C547.66 674.95 545.01 675.46 544.1 675.4 C543.2 675.35 541.26 674.58 540.65 673.97 C540.05 673.36 538.83 670.87 538.93 670.15Z" fill="#fff"/>
<path transform="scale(0.25)" d="M1962 2311h0m168 0h0m64 49h0m75 10h0m-17 4h0m-30-10h0m-29 22h0m66 1h0m-122 10h0m-85-6h0m116 16h0m198 13h0m-184-3h0m-293 18h0m363-1h0m71-4h0m50-2h0m7 12h0m-90 0h0m-210 6h0m-202 4h0m383-2h0m-303 18h0m-74-1h0m-8 13h0m15 5h0m4-1h0m2-9h0m1 10h0m6 0h0m2 0h0m15-11h0m1 8h0m1-7h0m9 10h0m408 1h0m-380 9h0m-12 2h0m-13-2h0m-3 0h0m-3-1h0m-10-1h0m-31-7h0m-13 10h0m2 8h0m21-2h0m5 1h0m6-5h0m15 7h0m437 24h0m-501 22h0m493 1h0m-40 10h0m-110-4h0m-137 97h0m-14 18h0m43-1h0m67 19h0m60 8h0m17-9h0m-17 18h0m-29 1h0" stroke="#ffffff" stroke-width="4" stroke-linecap="round" fill="none"/>
<path transform="scale(0.25)" d="M1961 2291h0m2 0h0m2-2h0m1 2h0m0-2h0m25 1h0m7 1h0m135 0h0m7-3h0m7 3h0m5 3h0m-4-1h0m-2 4h0m-7 2h0m-2-5h0m-3 0h0m-1 3h0m-1 3h0m-2 3h0m0-11h0m-1 2h0m-3 9h0m-7-6h0m-122-2h0m-1 0h0m-1-2h0m0 2h0m-3 8h0m0-11h0m-1 3h0m-7 0h0m-4 3h0m0-2h0m-4-3h0m0 4h0m-1-2h0m0-1h0m0 2h0m-1 5h0m-2-8h0m0 8h0m0-2h0m-5 2h0m-1 0h0m-2 0h0m-1 0h0m-3-3h0m-3 9h0m1 2h0m8 1h0m4-2h0m3 3h0m1-2h0m1 4h0m2 0h0m3-1h0m2-8h0m4 6h0m1-4h0m122 0h0m7 2h0m3-3h0m3 1h0m2 6h0m2-3h0m1-3h0m3 3h0m1 4h0m0 1h0m2-1h0m3-7h0m5 0h0m0 8h0m0-4h0m2-1h0m2-4h0m-10 22h0m-8-2h0m-35 4h0m2 7h0m1-1h0m2 1h0m2 2h0m26-9h0m1-1h0m1 2h0m1 2h0m3-1h0m2 6h0m2-1h0m2 1h0m0-4h0m65 3h0m3 3h0m1-2h0m2-6h0m2 1h0m1 7h0m5-9h0m1 9h0m0-1h0m1-6h0m0 4h0m0 3h0m0-9h0m2-1h0m6 7h0m1 1h0m14 14h0m-3-3h0m-2 0h0m-4-8h0m-1 7h0m-4-4h0m-3 3h0m-1 5h0m-1-1h0m0 1h0m-8 0h0m-9-5h0m-1-6h0m0 5h0m-1 3h0m-5 0h0m-1-5h0m-2-3h0m-3 11h0m-2-10h0m-2 9h0m0-1h0m0 2h0m-54-11h0m52 12h0m1 7h0m0-7h0m2 6h0m1 3h0m1-1h0m0 3h0m0-9h0m1 8h0m1-7h0m3 5h0m2 1h0m1-9h0m1 1h0m0 2h0m1-3h0m0 5h0m1-4h0m2 10h0m5 0h0m5-9h0m0 2h0m2-1h0m1 5h0m4-6h0m8 5h0m3 1h0m7-8h0m1 1h0m0 6h0m2-2h0m1 4h0m1-5h0m1-3h0m3 4h0m1 2h0m5 4h0m6-3h0m3-1h0m1 4h0m116-2h0m1-1h0m0 3h0m0-7h0m1 3h0m1-1h0m20 10h0m-4 4h0m0 2h0m-3 0h0m0-3h0m-1 2h0m0-1h0m0-6h0m-2 5h0m-3 4h0m-10-7h0m-12 3h0m0-4h0m-81 5h0m-3-6h0m-3 1h0m-1 8h0m-1-2h0m-5-2h0m-7-5h0m-16 5h0m-6-7h0m-14 7h0m-1-6h0m0 4h0m-1 1h0m0-4h0m0 4h0m-1-3h0m-2 1h0m-2-4h0m-1 5h0m-5-2h0m-1 4h0m-1-4h0m0-2h0m-5 1h0m-3 8h0m-2-8h0m-3-1h0m-5 0h0m-3 9h0m-1-7h0m-1-1h0m-1 6h0m-3-2h0m-1 3h0m0-3h0m-4-2h0m-45 7h0m-23 0h0m0-5h0m-1 0h0m-3 1h0m0 0h0m-2 0h0m-4-1h0m-5 2h0m-58 2h0m-7 3h0m2 8h0m7-3h0m0-4h0m1 0h0m2 6h0m1 0h0m2 3h0m5-2h0m22-1h0m12 0h0m6-6h0m3 4h0m13-6h0m21 9h0m5 1h0m2 0h0m0-3h0m2 4h0m1-2h0m3-1h0m5 1h0m3-3h0m0-6h0m4 3h0m2 6h0m2-7h0m2 7h0m6-1h0m2-7h0m10 10h0m3-7h0m0 0h0m1 6h0m7-10h0m2 7h0m0-3h0m4 7h0m17-11h0m18 0h0m4 2h0m1-1h0m0 1h0m0 7h0m2 2h0m2 0h0m7-10h0m10-1h0m5 0h0m1 1h0m6 4h0m3-5h0m2 11h0m6-11h0m4 4h0m8 3h0m6 3h0m68-7h0m2 6h0m0-6h0m1 6h0m2 1h0m2-2h0m2 0h0m2 1h0m4-4h0m0-3h0m5 9h0m2-9h0m5 5h0m2-3h0m-5 13h0m-1 5h0m-1-7h0m-1 4h0m-1-6h0m-8 10h0m-11-10h0m-68 6h0m-2-1h0m-1-2h0m0 0h0m-1 4h0m-3-6h0m-5 1h0m-1-1h0m0 4h0m-1-5h0m0 7h0m-4 1h0m-1-4h0m0 2h0m-4 4h0m-6-3h0m-1-3h0m-2-4h0m-6 6h0m-2-7h0m-4 4h0m-2-1h0m-4 4h0m-3-1h0m-1 2h0m-2 3h0m-1-2h0m-10-7h0m-29 6h0m-8-3h0m-2-5h0m-2 9h0m-1-5h0m-6 5h0m-12-7h0m-3 2h0m-8-1h0m-101 7h0m-1-3h0m-6 2h0m-1-8h0m-3 7h0m-10-6h0m3 16h0m7-3h0m0-3h0m3 6h0m3 4h0m0-5h0m6 6h0m0 0h0m1-5h0m4-1h0m0 3h0m0-4h0m1 5h0m4-7h0m2 6h0m61-4h0m0 1h0m2 6h0m5-9h0m1 6h0m17 0h0m4-4h0m7 1h0m5 5h0m0-2h0m1-5h0m4 7h0m0 0h0m2-2h0m2 2h0m11-4h0m0 3h0m2-4h0m0-3h0m2 0h0m3 0h0m1-2h0m46 4h0m2-1h0m2 6h0m6-4h0m0-2h0m1 7h0m6 1h0m1-4h0m2 1h0m2-3h0m0 5h0m4 1h0m1-11h0m6 0h0m10 10h0m0 0h0m66 1h0m5-4h0m7-6h0m2 4h0m1-1h0m2-3h0m3 3h0m0 0h0m3 6h0m1-5h0m11 13h0m-4 4h0m-6-6h0m-1 4h0m-1 2h0m-3-9h0m0 3h0m-10-3h0m-1 3h0m-9 7h0m-2 0h0m-4-6h0m-1 1h0m-1 5h0m0-2h0m0-7h0m-2 9h0m-33-1h0m-2 1h0m-12-10h0m-1 7h0m-5 0h0m-6-7h0m-1 0h0m-1-1h0m-4 8h0m-3-2h0m-1-4h0m-3 5h0m-3-3h0m-1 7h0m-1-8h0m0-3h0m0 0h0m-3 9h0m0-6h0m-2 0h0m-1-3h0m-1 4h0m-1 6h0m-6-9h0m-54-1h0m-1 0h0m-6 3h0m-1 7h0m-2-3h0m-1-2h0m-1 2h0m-1 0h0m-2-2h0m-3-3h0m-2 0h0m-4 8h0m-2-9h0m-1-1h0m-1 0h0m-4 6h0m-2-2h0m-2-3h0m-4-1h0m0 2h0m-6-1h0m-1 1h0m-1 3h0m-3 0h0m-1 0h0m-4 1h0m0 3h0m-1-4h0m-3 0h0m-5-5h0m-4 0h0m-68 3h0m-2 6h0m-3-4h0m-1-1h0m-2-1h0m-10 3h0m-182 12h0m4 3h0m5-4h0m9 3h0m2 0h0m154 3h0m6-1h0m4-1h0m1-6h0m0 7h0m0-1h0m0-9h0m3 7h0m2-7h0m5 1h0m0 4h0m3 4h0m0-6h0m17 6h0m5 0h0m6-4h0m81-4h0m72 10h0m0-1h0m9-2h0m5 2h0m7-3h0m2 2h0m0-7h0m1 8h0m2-9h0m3 5h0m8-6h0m0 6h0m1 1h0m3-3h0m5 6h0m1-5h0m2 1h0m4 0h0m2-6h0m2 9h0m0 1h0m2-6h0m3 3h0m5-6h0m3 0h0m1 0h0m0 1h0m1 2h0m6 5h0m1 0h0m0-6h0m1 2h0m1 0h0m1-2h0m0 5h0m2 0h0m2-4h0m3 6h0m0 1h0m2-6h0m0-3h0m2 3h0m0 2h0m1 0h0m0 2h0m2-6h0m1 4h0m1 2h0m0 1h0m1-5h0m0 1h0m3 4h0m2-7h0m1 1h0m1 1h0m0-5h0m1 8h0m1 1h0m3 0h0m2-5h0m0-4h0m6 2h0m1 3h0m0 5h0m1-7h0m9 1h0m0 6h0m6-2h0m2-1h0m9 0h0m2 6h0m-3-1h0m-12 1h0m-6 3h0m-4 0h0m-10 0h0m-8 4h0m0-4h0m-2 5h0m0-8h0m-1 10h0m-19-7h0m-2-2h0m-5 3h0m-1-2h0m-2 7h0m-10-4h0m-6 5h0m-3-8h0m-17 0h0m-1 4h0m-2 4h0m-1-9h0m-1 0h0m-4 2h0m-3 3h0m-3-7h0m0 6h0m-2-4h0m-1 2h0m-1-1h0m-6-3h0m-5 1h0m-1 2h0m-5 8h0m0-1h0m0-3h0m-5-6h0m-1 4h0m-4-4h0m-1 5h0m-3-1h0m-8 0h0m-79 3h0m-1 1h0m-3 0h0m-2-8h0m-50 1h0m-2 9h0m-1-5h0m-1 0h0m-5-4h0m-1 3h0m-4-2h0m-1 3h0m-1-1h0m-6-2h0m-2-1h0m-6 4h0m-3 4h0m-5 0h0m-2 0h0m-2-8h0m-17 8h0m-123-2h0m-2-6h0m-3 9h0m-4-8h0m-1 6h0m-1 1h0m-1-1h0m-1-7h0m-3 0h0m-1 9h0m-3-5h0m-1 0h0m0 1h0m-4-2h0m-3 0h0m-6-2h0m-4-2h0m-4 6h0m-3-7h0m0 3h0m-3 5h0m-2 11h0m1-3h0m1 4h0m1-8h0m1 6h0m6-5h0m0 8h0m8-3h0m0 1h0m6-2h0m0 1h0m2 5h0m12-3h0m1 1h0m8-4h0m2-1h0m4-4h0m1 0h0m1 1h0m7 7h0m4-2h0m0 0h0m1 4h0m0-4h0m7 3h0m12 0h0m91-7h0m4 0h0m0 0h0m2-1h0m0 7h0m2-2h0m0 0h0m1-1h0m6 0h0m1-4h0m2 7h0m5-8h0m1 7h0m6-7h0m1 6h0m7 0h0m6 0h0m3 2h0m1-5h0m4 4h0m54 1h0m3-4h0m0-2h0m3 8h0m1-2h0m0-1h0m4 2h0m4-3h0m5-4h0m28 1h0m6 8h0m4-1h0m0-1h0m2-4h0m1 0h0m1 2h0m6-2h0m0 6h0m3-3h0m3-4h0m2-4h0m6 8h0m3 3h0m3-6h0m4 5h0m0-8h0m2-2h0m6 11h0m2-4h0m1 3h0m1-7h0m3 6h0m7-1h0m2-2h0m1-1h0m0-2h0m7-3h0m16 0h0m4 2h0m4-2h0m4 3h0m6 6h0m3 0h0m1-9h0m0 0h0m1 11h0m2-10h0m1 0h0m5 7h0m5 3h0m0-5h0m0 2h0m0 3h0m5-10h0m2 10h0m1-9h0m1 4h0m8 1h0m0-6h0m5 7h0m1 1h0m2-6h0m2 2h0m2 0h0m0 5h0m4 3h0m-3 9h0m0 0h0m-2-2h0m-5-8h0m-3 8h0m-1-7h0m-8 2h0m-1 5h0m-1-5h0m-3 2h0m-2-4h0m-5 2h0m-1 7h0m-8-10h0m-52 1h0m-2 6h0m-1-1h0m-3-6h0m0 7h0m-3-3h0m-3 0h0m-2 0h0m0 1h0m-2 0h0m-7-4h0m-8 0h0m-7 3h0m0-3h0m-4 4h0m-6 5h0m-6-5h0m-2 2h0m-5 4h0m-3-3h0m-4-6h0m-34 1h0m-44 5h0m-12 3h0m0-5h0m-1 5h0m0-4h0m-1 4h0m0-9h0m0-2h0m-11 5h0m-10 2h0m-6 2h0m-2 2h0m-6-10h0m-10 2h0m0-3h0m-46 4h0m-3 0h0m-3 0h0m0-2h0m-6 7h0m-1-1h0m-6-4h0m-1-4h0m-2 7h0m-6 2h0m0-6h0m0 2h0m-2 4h0m-1-3h0m-1 2h0m-2 0h0m-2 1h0m-5-6h0m-2 5h0m-5-3h0m-3-2h0m-3-1h0m0 7h0m0-5h0m-4 3h0m-1-5h0m-4 1h0m-6 2h0m-3-1h0m-1 0h0m0 0h0m-1 5h0m-5-4h0m-2-3h0m-3 8h0m0-2h0m-2-2h0m-4-5h0m0 9h0m-3 1h0m0-3h0m-1-1h0m-1-3h0m-12 2h0m0-1h0m-6-5h0m-2 11h0m-1 0h0m-1-2h0m-4 1h0m0 0h0m-2-7h0m-3 1h0m0 7h0m-1-10h0m-1-1h0m-2 5h0m-2-4h0m-2 8h0m0-1h0m-1-2h0m-1 3h0m-10-8h0m-3 10h0m3 10h0m0-7h0m0 5h0m1-3h0m1-1h0m0-3h0m0 7h0m1 4h0m3-3h0m2-3h0m0 3h0m1 3h0m3-11h0m1 6h0m3 5h0m1-8h0m1 1h0m1 4h0m0 2h0m3-5h0m2 6h0m0-9h0m2 0h0m2-2h0m12 2h0m11 8h0m6-2h0m3-3h0m4 1h0m9 5h0m2-2h0m9 1h0m4 1h0m1 0h0m0-1h0m1-3h0m1-1h0m2 3h0m3-3h0m0-4h0m1 3h0m1 1h0m2-3h0m1-3h0m1 5h0m3-2h0m0-3h0m0 11h0m1-4h0m4-2h0m1 3h0m24-2h0m4-3h0m5 0h0m2-2h0m55 0h0m1 4h0m2-1h0m2 5h0m3-6h0m7-3h0m20 2h0m6 1h0m4 2h0m5-1h0m81 3h0m1 2h0m2-7h0m3-1h0m3 5h0m2-5h0m2 5h0m4-6h0m1 1h0m111 0h0m13 10h0m3-5h0m2 2h0m1-3h0m3 2h0m0-7h0m3 5h0m1-3h0m0 0h0m0 4h0m2-5h0m1-1h0m4 15h0m-1 2h0m-6-5h0m0 8h0m-2-3h0m0 4h0m-5-6h0m0 6h0m-4-9h0m-3 10h0m-1-8h0m-4 5h0m-131-5h0m-82 7h0m-9 1h0m-4 1h0m-113-10h0m-16 5h0m-2 1h0m0-1h0m-2 0h0m-1-2h0m-3 1h0m-1 5h0m-4-9h0m-1 10h0m-1-11h0m-1 3h0m-6-2h0m-5 1h0m-1 2h0m0-3h0m-1 0h0m-8 0h0m-1 2h0m-5-1h0m-7 8h0m0-5h0m-3 4h0m-4-7h0m-6 5h0m-12-6h0m-10 9h0m-2-3h0m-2-4h0m-10 1h0m0 0h0m-1-4h0m-1 1h0m-1 8h0m-1-9h0m0 9h0m-7-2h0m1 16h0m0-10h0m3 2h0m0-3h0m2 6h0m1-2h0m8-1h0m1-2h0m2-1h0m1 11h0m1-11h0m1 7h0m1-5h0m2 9h0m5-11h0m1 1h0m5 7h0m1-1h0m4 4h0m2-11h0m0 7h0m1-2h0m2-1h0m1-2h0m5 8h0m0-6h0m2 0h0m4-2h0m0-2h0m6 9h0m1 0h0m1-4h0m1-4h0m1 8h0m4 1h0m4-6h0m8 7h0m3-8h0m0 5h0m1-1h0m2 0h0m9-6h0m4 5h0m3-6h0m1 5h0m1 4h0m2 2h0m2-7h0m2-1h0m2 8h0m3-3h0m4 1h0m1 0h0m9 2h0m109-5h0m5-1h0m217-4h0m6 1h0m6 9h0m3-8h0m4-3h0m2 9h0m1-2h0m4-7h0m0 7h0m0-7h0m2 9h0m10 8h0m-1-1h0m-2-1h0m0 0h0m0-3h0m-1 4h0m-3 7h0m0-7h0m-1 4h0m-6-6h0m-2 8h0m-2-5h0m-13-4h0m-218 5h0m-2 1h0m-113 4h0m-2-9h0m0 3h0m-2 3h0m-1-1h0m-2-2h0m-4 0h0m-3 6h0m-1-9h0m-9 1h0m-4 6h0m-2-1h0m-6-8h0m-5 3h0m-6 3h0m-1-6h0m-5 0h0m-11 3h0m-1-1h0m-1 2h0m0-4h0m-4 1h0m-3 2h0m-4 3h0m-5-2h0m-1 6h0m-2-4h0m-1-4h0m0 9h0m-1-7h0m-3 6h0m-1 0h0m-1-10h0m0 11h0m-3-7h0m-2-1h0m-3 6h0m-2-3h0m-2-3h0m0-3h0m-3 2h0m0 6h0m-3-4h0m-1-1h0m0 0h0m-2 3h0m-4 5h0m-6-10h0m-2 2h0m-2 7h0m-4-8h0m-3-2h0m-1 5h0m-1 3h0m-1-1h0m7 10h0m7 5h0m0-3h0m0 2h0m1-3h0m7-6h0m7 2h0m5-2h0m3 0h0m1 0h0m3 2h0m1-2h0m5 4h0m2-4h0m1 1h0m9 0h0m58-1h0m8 2h0m4 5h0m1-4h0m3-3h0m6 4h0m71 5h0m2-8h0m1 7h0m0-7h0m4 2h0m6 5h0m28-4h0m2-4h0m1 2h0m211 9h0m5-1h0m1-10h0m8 1h0m1 0h0m0 7h0m1 3h0m0 0h0m0-2h0m2-9h0m3 3h0m1 8h0m0-10h0m3 9h0m2-1h0m1-8h0m0 4h0m8 0h0m1-4h0m3 5h0m0 5h0m1-11h0m0 0h0m2 10h0m5 1h0m-2 4h0m-2-3h0m-4 6h0m-3 0h0m-3 0h0m-4-4h0m-1 2h0m-1-1h0m-6 2h0m-1-2h0m-1 7h0m-4-9h0m-2 10h0m-18-10h0m-3 4h0m-2 5h0m-1-2h0m-4 3h0m-1-2h0m-430 2h0m-2-7h0m-11 0h0m0 3h0m-1 0h0m-1 2h0m0-1h0m-5 2h0m-6 11h0m2-1h0m3-2h0m4-3h0m3 4h0m16-4h0m1 4h0m3 3h0m5 1h0m305-1h0m2-2h0m2 1h0m2 0h0m2-1h0m4-3h0m2 4h0m0-4h0m10 1h0m4-1h0m2 2h0m6 0h0m74-4h0m10 3h0m4-1h0m3-3h0m3-2h0m3 2h0m4 8h0m2-9h0m0 8h0m4-6h0m0 2h0m12-2h0m2 3h0m3-6h0m1 2h0m1-2h0m12 1h0m-26 16h0m-2-1h0m-6-2h0m-17-2h0m-1 0h0m-1 2h0m-3 9h0m0-2h0m-7-5h0m0 4h0m-2-8h0m0 11h0m-4-6h0m-75 0h0m-4 5h0m0 0h0m-2-8h0m-3 1h0m-5-2h0m-1 0h0m-4 6h0m-2 2h0m-2-5h0m-3 3h0m-3 4h0m-2-8h0m-2-1h0m-1-1h0m-2 10h0m0-10h0m-2 4h0m-1 3h0m-2-1h0m-6 4h0m-1-1h0m0-2h0m0-2h0m-287 3h0m-1-9h0m-1 10h0m-7-3h0m-7-1h0m-1-6h0m0 11h0m-2-2h0m-6 2h0m-1-2h0m-3-3h0m-3 3h0m-4-7h0m-1 2h0m-2-4h0m-1 6h0m13 9h0m3-3h0m3 0h0m3 0h0m298 0h0m6 0h0m3 1h0m3 5h0m2-1h0m1 0h0m4 5h0m4-4h0m2 5h0m3-6h0m11-1h0m5 1h0m0 0h0m4-1h0m2 0h0m83 0h0m9-2h0m16 0h0m2 1h0m7-2h0m-130 12h0m0-1h0m-95 33h0m-1-3h0m-1 2h0m-4-1h0m-7 0h0m-1-4h0m-2-1h0m-1 6h0m-1-7h0m-1 7h0m-3-1h0m-29 3h0m-3 0h0m-3 1h0m-1-6h0m-2 5h0m13 13h0m1-2h0m2-5h0m0 7h0m1-3h0m2-7h0m0 2h0m0 8h0m13-10h0m0 4h0m5 6h0m3-10h0m6 3h0m2 0h0m0-3h0m4 9h0m2 1h0m2-6h0m7-3h0m-19 11h0m-4 2h0m-28 3h0m-7-6h0m-1 3h0m0 2h0m-11-4h0m-50 22h0m6-1h0m3 1h0m3-8h0m5 7h0m1-1h0m4 0h0m13-1h0m164-2h0m2-1h0m1 0h0m3 2h0m4-3h0m0-3h0m5 4h0m3 1h0m4-2h0m2 5h0m2-6h0m4 7h0m5-4h0m1 2h0m1 1h0m1 1h0m11 7h0m-9-5h0m-3 0h0m-4 8h0m-7 1h0m-3-7h0m-5 6h0m-7-5h0m-1-1h0m-4 3h0m-5 2h0m-7-4h0m-6-2h0m-1 7h0m-3 2h0m0-3h0m-2-2h0m-2 0h0m-4 5h0m0-5h0m-2 0h0m-2 2h0m-5 0h0m-4 3h0m-4 1h0m-1-1h0m-1-5h0m-20 6h0m-47-8h0m-6 5h0m0-1h0m-1 0h0m-7 3h0m-1-1h0m-6-2h0m0 2h0m-1-6h0m-3 3h0m-1 1h0m-2 3h0m-8-3h0m-1-4h0m0 3h0m-1-3h0m-4 1h0m-4 6h0m-5-9h0m-1 5h0m-1-3h0m-6 6h0m-2-3h0m-1-2h0m-1 4h0m-2 3h0m-5-3h0m-2 1h0m-3-9h0m-2 4h0m0-2h0m-4 7h0m-2 1h0m-1-3h0m-3 0h0m-3 1h0m-3-5h0m-5 1h0m7 14h0m4 0h0m1 0h0m3-4h0m1 9h0m4-8h0m2-3h0m2 4h0m3 1h0m2 1h0m1 1h0m0 1h0m3-7h0m1 4h0m3 4h0m1-1h0m0 0h0m5 1h0m1-6h0m2-1h0m3-1h0m2 5h0m5 1h0m9-2h0m1-4h0m7-1h0m1 2h0m5 4h0m3-3h0m3 0h0m6 6h0m3 1h0m2-2h0m3 0h0m1-1h0m6 0h0m1-5h0m1 4h0m1-4h0m0 5h0m2 1h0m0-3h0m2 1h0m7-1h0m1 4h0m0-8h0m1 7h0m2 3h0m2-2h0m1 0h0m2-6h0m3-1h0m4 2h0m4 0h0m2 0h0m2 4h0m0-3h0m4 5h0m1-2h0m0-5h0m1-3h0m15 6h0m8 0h0m1-3h0m15-3h0m5 3h0m9 1h0m11 3h0m1-1h0m5-4h0m3 1h0m14 6h0m1-3h0m1 3h0m4-1h0m11 1h0m1-5h0m10 7h0m-1 7h0m0 3h0m0 1h0m-2-7h0m-1 3h0m-1 1h0m-7-2h0m-2-3h0m-4 1h0m-7-2h0m-6 0h0m-3 7h0m-3-2h0m-4-1h0m-5-4h0m-1-1h0m-1 4h0m0-3h0m-1 0h0m-5-1h0m-1 0h0m-47 10h0m-6-6h0m-1-1h0m0-2h0m-1 10h0m-9 0h0m-1-7h0m0 3h0m-1-2h0m-5-5h0m-2 11h0m-4-8h0m-3 6h0m-2-3h0m-2-1h0m-1-2h0m-2 6h0m-2-7h0m-1 7h0m-1 1h0m0-2h0m-2 0h0m0 1h0m-1-8h0m-3 0h0m-27 3h0m-51-4h0m-6 2h0m91 11h0m8 6h0m1 4h0m2-8h0m11 5h0m1-4h0m1 6h0m1-1h0m3 2h0m4-7h0m3 7h0m1-1h0m7-1h0m2-4h0m2 0h0m2 3h0m36 0h0m1 2h0m2 1h0m5-7h0m1-2h0m5-1h0m1 8h0m3-5h0m2 1h0m2-3h0m1 8h0m6-3h0m2-4h0m3-2h0m0 1h0m3 1h0m4 2h0m6 5h0m2-2h0m11 3h0m0-8h0m-4 14h0m-4 3h0m-4-8h0m-3 9h0m-1 1h0m-1-1h0m-3-7h0m-1 3h0m0-5h0m-2 2h0m0-2h0m-2 10h0m-3 1h0m-10-9h0m0 2h0m-1 0h0m-5-4h0m-2 11h0m0-3h0m-7-1h0m-2-2h0m-1 5h0m-5-10h0m-4 5h0m-2 3h0m-5-7h0m-2 7h0m-2-6h0m-10-1h0m-1 3h0m-1 6h0m-5 1h0m-1 0h0m-7-11h0m-3 6h0m-2-2h0m-3-4h0m-3 6h0m-2 1h0m-1-4h0m0 7h0m0-9h0m-3 7h0m-7-7h0m0 6h0m-8-5h0m32 11h0m7 1h0m2 1h0m9-1h0m2-1h0m5 1h0m7-1h0m1 1h0m6-2h0m1 6h0m12-2h0m6 4h0m6-4h0" stroke="#7c44f0" stroke-width="4.2" stroke-linecap="round" fill="none"/>
<path transform="scale(0.25)" d="M1973 2291h0m5 0h0m4-3h0m0 0h0m4 3h0m8-6h0m1 6h0m146-2h0m2 0h0m4-2h0m1 2h0m2-1h0m-1 6h0m-2-1h0m-3 9h0m-3 0h0m-1-9h0m0 3h0m-4-2h0m-1-1h0m-5 7h0m-6 1h0m-5-5h0m-3 3h0m0 0h0m-2-4h0m-1 8h0m-2-2h0m-1-5h0m-106 1h0m-11 4h0m-3-7h0m-2 8h0m-2-9h0m-2 4h0m-1 1h0m-1-2h0m-1-4h0m-1 0h0m-2 1h0m-1 10h0m0-10h0m-7 9h0m-4-9h0m-1 6h0m-5-4h0m-6 17h0m5-3h0m6-5h0m2 3h0m6 8h0m2-9h0m3 6h0m0-2h0m1-5h0m0 2h0m0 8h0m1-3h0m0 3h0m5-9h0m0 9h0m0-4h0m3-3h0m3 2h0m3-5h0m2 1h0m118 2h0m1-1h0m2 6h0m1 1h0m1-4h0m0 2h0m2 0h0m2 0h0m2-3h0m5-4h0m2 6h0m1 1h0m1-1h0m0 3h0m1-4h0m3-1h0m4 3h0m6-6h0m1 1h0m1-1h0m68 19h0m-90 1h0m-153-7h0m-9-1h0m128 15h0m1 2h0m2-2h0m2 3h0m1-4h0m2 4h0m27-1h0m0-3h0m3 1h0m0 1h0m66 5h0m4-4h0m6-7h0m2 5h0m1-1h0m0-1h0m2-1h0m1 1h0m1 5h0m7 0h0m5-3h0m13 14h0m-3 0h0m-2-2h0m-1-1h0m-2-2h0m-2 7h0m-4-7h0m-2-1h0m-3 7h0m-5-4h0m-2 5h0m-1-7h0m-2 1h0m-6-1h0m-1 4h0m-13 0h0m-1 1h0m-48-6h0m-8-1h0m52 22h0m0 0h0m4-7h0m1 2h0m2 3h0m1-1h0m3-2h0m6 3h0m0-4h0m13-1h0m10 8h0m0-1h0m1 0h0m0-3h0m1-4h0m5-2h0m1 3h0m6-3h0m2 0h0m2 3h0m0 6h0m4-6h0m1 0h0m7 7h0m1-1h0m6-1h0m5-1h0m0 0h0m8 0h0m5 1h0m1 1h0m97 1h0m2-1h0m2-1h0m5-2h0m9 16h0m-1-7h0m-3 1h0m0 0h0m-2-3h0m-1 3h0m-1-5h0m-1 1h0m0 10h0m-3 0h0m-3-4h0m-1-3h0m-1-3h0m-1 2h0m0 0h0m0 4h0m-4-7h0m-3 5h0m-4-2h0m-83 4h0m-4 1h0m-2 0h0m-3 1h0m-3 1h0m-1-8h0m-1-2h0m-4 8h0m-1-3h0m-1-1h0m-4-1h0m-2 5h0m-4 2h0m-2-6h0m-4 2h0m-2-1h0m0-2h0m-2 3h0m-1 1h0m-5-7h0m-2 7h0m-1-5h0m-4 2h0m-5 2h0m-2-3h0m-1 1h0m-1 0h0m-3-2h0m-1 3h0m-2-1h0m-8-1h0m0 7h0m-9-6h0m-4-4h0m-1 11h0m0-3h0m-1-2h0m0-1h0m0-5h0m-3 0h0m-3 7h0m-5 3h0m0-7h0m0 2h0m-4 6h0m-11-3h0m-20-2h0m-30 0h0m-2 1h0m-1-3h0m-6 2h0m-5 3h0m-1 2h0m0-2h0m0 1h0m-1-2h0m-1 2h0m-11-4h0m-61 10h0m1 1h0m1 5h0m2-5h0m0-3h0m2 6h0m0 1h0m2 0h0m3 2h0m2-3h0m0-7h0m0 2h0m1 6h0m2-1h0m1 3h0m2-4h0m5-1h0m27-3h0m3 6h0m2-8h0m6 3h0m0 4h0m5-1h0m2-6h0m2 5h0m4 1h0m1-2h0m4-1h0m4-2h0m1-2h0m33 1h0m7 1h0m1 1h0m12 3h0m1-5h0m3 1h0m1 5h0m0 2h0m1-7h0m2 0h0m4 4h0m4-1h0m0-4h0m1 0h0m3 10h0m0-2h0m3-6h0m5 2h0m42-2h0m0 3h0m4-6h0m0 2h0m2 0h0m4 4h0m1-3h0m2-2h0m0 1h0m2 9h0m9-7h0m0 5h0m3 1h0m5-2h0m2-2h0m7-6h0m4 6h0m2-2h0m2 5h0m3-9h0m1 3h0m79 5h0m1 1h0m1-1h0m1-7h0m0 5h0m1 3h0m1-9h0m1 1h0m11 4h0m1-4h0m4 5h0m1-1h0m1-1h0m1 5h0m4 7h0m-1-4h0m-5 3h0m-2-1h0m0 0h0m-1 6h0m0-5h0m-7-1h0m-12 6h0m-69-7h0m-1 3h0m-1 5h0m-4 2h0m-3-9h0m-2 0h0m-2 4h0m-2-2h0m-4 5h0m-8-3h0m-14-1h0m-2 6h0m-6-5h0m-2 2h0m-3-7h0m-1 7h0m-4-3h0m0 1h0m-2-1h0m-32-1h0m-1 3h0m-2 4h0m0-1h0m-2-9h0m-1 1h0m-1-1h0m-6 9h0m-1-2h0m-1-6h0m-18 5h0m-27-5h0m-7-2h0m0 2h0m0 9h0m0-1h0m-2-8h0m-67 7h0m-8 2h0m-2-6h0m-4 5h0m-1-3h0m0-1h0m0-2h0m-5 5h0m-3-6h0m-1 3h0m-1 2h0m-3-8h0m-10 12h0m6 0h0m7 6h0m1-4h0m1 4h0m0 5h0m5-9h0m1 8h0m1-6h0m1 1h0m1 6h0m2-4h0m1-7h0m1 0h0m3 8h0m3-5h0m70-2h0m3 1h0m0 9h0m1-1h0m3-5h0m6 4h0m16-6h0m1 6h0m3-9h0m1 10h0m0 0h0m2-9h0m3 7h0m3 0h0m4 1h0m2-3h0m6-2h0m6 5h0m1-5h0m1 0h0m1 5h0m2-3h0m3-1h0m0 2h0m2 2h0m1-5h0m41-3h0m3-1h0m1 2h0m3 6h0m5-3h0m3 4h0m0-1h0m1 2h0m1-10h0m1 11h0m1-6h0m2 6h0m7-8h0m1 3h0m1-1h0m1-2h0m1 0h0m1-1h0m0 5h0m0 3h0m0-3h0m2-1h0m6 4h0m0-7h0m5 8h0m71 0h0m1-3h0m0 1h0m2-9h0m1 6h0m2 1h0m0-3h0m0 4h0m0-2h0m1 2h0m1-8h0m1 1h0m1 5h0m3-5h0m0 7h0m7-3h0m2-1h0m0 4h0m9 13h0m-6-7h0m0-1h0m-3-1h0m-2 4h0m-3 2h0m-1 1h0m0 4h0m-6-8h0m-3 0h0m-4 6h0m-3-9h0m-4 1h0m-4 2h0m-5 5h0m-2-1h0m-15 4h0m-18-11h0m-6 9h0m-4 1h0m-8-8h0m-1 2h0m0-2h0m-3 2h0m-11-3h0m0 8h0m-3-3h0m-1 0h0m-1-4h0m-6 6h0m0 0h0m0-3h0m-1-5h0m-2 3h0m-1 2h0m-2 2h0m-4 3h0m-63-8h0m-1-2h0m-5 6h0m-3 4h0m-1-10h0m0 9h0m-2 0h0m0-7h0m-7-2h0m0 0h0m-2 8h0m-1-5h0m-2 6h0m0-1h0m-2 1h0m0-6h0m-1 2h0m-1 5h0m-11-6h0m-3-1h0m-17 0h0m-71 3h0m-5 5h0m0 0h0m-1-8h0m-2 7h0m-1-6h0m-2 1h0m-2-1h0m0-1h0m0 4h0m-1-7h0m0 5h0m-1 4h0m-3-8h0m-3 0h0m-165 20h0m1 2h0m0-5h0m6 4h0m2-3h0m3 4h0m9-2h0m141-2h0m1-3h0m1 4h0m1 0h0m1 2h0m0-6h0m1 5h0m0 2h0m3-11h0m1 0h0m3 11h0m1-1h0m6-4h0m4-1h0m10 2h0m15 3h0m86-6h0m74 6h0m2-2h0m1 0h0m1 2h0m3-3h0m4-7h0m3 10h0m1-10h0m3 1h0m4 4h0m8-3h0m0-2h0m0 5h0m4-2h0m6 4h0m1-5h0m7 3h0m5 5h0m1-1h0m0 0h0m0-7h0m6-1h0m3 2h0m0-2h0m0 7h0m6-6h0m1 2h0m3-4h0m6 5h0m1 0h0m1 1h0m1 2h0m0-4h0m0 7h0m0-6h0m3 3h0m2-3h0m0 2h0m2-1h0m1 4h0m1-4h0m0 3h0m1-7h0m3 4h0m0-5h0m3 9h0m2-1h0m6-2h0m0-5h0m1 5h0m4-6h0m6-1h0m9 8h0m4 0h0m1-6h0m1 4h0m1-1h0m1 3h0m2 2h0m1 0h0m1-8h0m-4 19h0m-4-8h0m-2 2h0m-1 0h0m-4-2h0m-1 5h0m-2-2h0m-4-4h0m-2 7h0m-6-6h0m-1 0h0m-3 0h0m-2 1h0m-6 0h0m0-2h0m-1 8h0m-2-3h0m0 0h0m0-5h0m-2 11h0m-1-2h0m0-8h0m-4 8h0m-3-7h0m-3 9h0m-1-6h0m-10 5h0m-2-10h0m-4 0h0m-3 9h0m-2 0h0m-4-9h0m0 7h0m-1 2h0m0-9h0m-2 4h0m-2-2h0m-3 8h0m-2-6h0m-2 0h0m-9-3h0m-4 4h0m-4 5h0m-1-8h0m-1 8h0m-5-9h0m-2 8h0m-1-2h0m-4-5h0m-2 4h0m-2-5h0m0-1h0m-4 1h0m-7 7h0m-9-2h0m0-4h0m-1 1h0m-3 4h0m-1 2h0m-2-4h0m-12 6h0m0 0h0m0 0h0m-11-2h0m-59 1h0m-8-2h0m-3 0h0m-46-6h0m-8 3h0m0 0h0m-3 5h0m-1 1h0m0-2h0m-6-6h0m-3 0h0m-2 5h0m-2-7h0m-2 6h0m-6-1h0m-2 5h0m-4-4h0m0 4h0m-1-2h0m-1 1h0m-1-5h0m-4-3h0m-1 1h0m-2 1h0m-4 6h0m-2-7h0m-129 4h0m-2 1h0m0 1h0m-3-1h0m-1-2h0m-6 4h0m-3-2h0m0-3h0m-2 2h0m0 3h0m-8-6h0m-2 6h0m-2-9h0m-4 2h0m-1 4h0m-1-6h0m0 1h0m-2-1h0m0 3h0m-1 0h0m-2-2h0m-2 0h0m0 4h0m-1 3h0m0-5h0m0-3h0m-1 8h0m-3-9h0m0 4h0m0 2h0m-2-2h0m-2 0h0m-1 7h0m0 0h0m-1-5h0m5 14h0m3-1h0m1 1h0m2 2h0m1-7h0m1 4h0m0-2h0m2-2h0m0 3h0m2-2h0m8 6h0m4-9h0m2 4h0m2-1h0m0-2h0m2 7h0m0 1h0m2-3h0m0-4h0m0 2h0m5 6h0m4-5h0m3-5h0m3 8h0m4-3h0m0 0h0m0 0h0m2-4h0m3 2h0m1 3h0m0-3h0m2-2h0m7 9h0m2 0h0m2-4h0m1 4h0m0-4h0m2 3h0m9 1h0m94-11h0m1 0h0m6 0h0m4 10h0m7-5h0m2 5h0m2-8h0m0 8h0m3-9h0m4 4h0m1-4h0m1 7h0m1 3h0m7-9h0m2 9h0m5-7h0m0 0h0m1-3h0m2 7h0m2 1h0m57 0h0m3 2h0m1-5h0m6 5h0m1-1h0m0-6h0m1 2h0m43-1h0m1 2h0m1-4h0m1 5h0m1-6h0m1-1h0m1 2h0m3 1h0m3 6h0m0-6h0m9 6h0m3-1h0m2-6h0m1 0h0m5-3h0m2 3h0m4 7h0m2-5h0m3-2h0m6 5h0m2 1h0m1-5h0m3 6h0m0-2h0m4-4h0m2-4h0m1 3h0m21-3h0m7 3h0m0 6h0m4-3h0m4 4h0m6-2h0m2-8h0m1 0h0m2 2h0m10 4h0m0-5h0m1 8h0m4-4h0m2 2h0m3-1h0m5 1h0m2 4h0m2 0h0m7-11h0m4 1h0m2 5h0m0 8h0m-5 4h0m0-5h0m-1 2h0m0 2h0m-4-5h0m-3 2h0m-2 9h0m-6-7h0m-1-4h0m-7 0h0m-4 5h0m0-2h0m-3 7h0m0-10h0m-2 11h0m-4-3h0m-2-5h0m-7-2h0m-52 0h0m-3 7h0m-1-8h0m-5 3h0m-4 0h0m-3-1h0m-7 4h0m-1-5h0m-2 3h0m-7-4h0m-6 3h0m-8-1h0m-2 4h0m-1-2h0m-2 6h0m-2-7h0m-1 2h0m-5-1h0m0-1h0m-1 4h0m-1 4h0m0-4h0m-1 2h0m0-2h0m0 3h0m-76 1h0m0 0h0m-10-4h0m-2 4h0m-2-3h0m0-3h0m-1 2h0m0-4h0m-3 6h0m-4-4h0m-2-4h0m-2 7h0m0 0h0m-3 0h0m-2 1h0m0 2h0m-1-6h0m0 5h0m0-3h0m-2 4h0m0-7h0m-5 0h0m-1 5h0m0-2h0m-1 3h0m-1-4h0m-1 1h0m-4 3h0m-1-2h0m-1 0h0m-5-3h0m-2-1h0m-2 1h0m-48-1h0m-4 3h0m0-2h0m-1 1h0m0-1h0m-1-2h0m-2 5h0m-7-3h0m-4-4h0m0 1h0m-1 2h0m-1 7h0m-2-6h0m-1-1h0m-1 4h0m0-5h0m-5 3h0m-7 2h0m-3-5h0m-3 5h0m-6 2h0m-4-1h0m-4-3h0m-1 1h0m-5-5h0m-1 7h0m-4-7h0m-11-2h0m-12 7h0m0-4h0m-1-2h0m-3 6h0m0 4h0m-1-8h0m-2 6h0m-2-2h0m-1-5h0m-1 0h0m0 0h0m0 3h0m-4 0h0m-5-3h0m0 6h0m0 2h0m-4 1h0m-6-1h0m-4-7h0m-5 6h0m-1-2h0m-3-3h0m-2 7h0m-1-4h0m-1-2h0m-2 1h0m-3-2h0m0 7h0m-6 12h0m1-8h0m1-1h0m3 9h0m0-8h0m1-2h0m1 0h0m1 2h0m0 2h0m2 5h0m3-4h0m6-6h0m1 2h0m2 9h0m0-1h0m1-9h0m2 1h0m0 2h0m5-4h0m7 7h0m2-2h0m4-5h0m2 7h0m9-4h0m0 8h0m1-10h0m5 4h0m3 1h0m1 4h0m1-10h0m1 11h0m0-9h0m0 8h0m2-3h0m5 1h0m3 2h0m6 1h0m3-1h0m2-9h0m5 9h0m1-1h0m1 2h0m1-11h0m1 8h0m2-3h0m0 5h0m4-3h0m1-2h0m2-3h0m2 5h0m0 4h0m1-4h0m2-6h0m0 2h0m1 2h0m2-5h0m1 10h0m1-7h0m20 7h0m1 0h0m4 1h0m8-10h0m59 1h0m3-1h0m0 1h0m6 1h0m23 1h0m1-2h0m1 7h0m3 2h0m0-6h0m2-1h0m2 0h0m0-2h0m3 9h0m0-8h0m82 4h0m1 2h0m0-2h0m1 0h0m0 4h0m1-10h0m1 4h0m2-1h0m3-2h0m1 5h0m3 3h0m0-1h0m1-8h0m0 7h0m2-3h0m0-3h0m0 0h0m1 3h0m2 2h0m6-7h0m99 3h0m9 3h0m1 1h0m0 4h0m3-6h0m0-1h0m6 7h0m2-4h0m1 2h0m1-5h0m1-3h0m1 2h0m2 8h0m0-8h0m1 6h0m2-8h0m1 0h0m6 1h0m6 18h0m-2-2h0m-1-1h0m0 1h0m-4 5h0m-1-11h0m-1 3h0m0 4h0m-1-7h0m-4 1h0m-1 9h0m-2-7h0m-1 2h0m-1 5h0m-7-1h0m-5-8h0m-1 0h0m-222 9h0m0-3h0m-1-5h0m0 6h0m-1-8h0m-107 0h0m-21 7h0m-3 2h0m0-1h0m-3 2h0m-1-2h0m-5 2h0m-2-7h0m-12-2h0m-5 4h0m-2 5h0m-2 1h0m-2-6h0m0 0h0m-1-2h0m-3-2h0m0 0h0m-4 2h0m-3 0h0m0 7h0m-2-2h0m0-5h0m-7 7h0m-1 0h0m-6-2h0m-8-4h0m-10 2h0m-2-1h0m0-2h0m-6-2h0m-2 5h0m-1-4h0m-1 4h0m-7-1h0m-2-5h0m-5 5h0m0-5h0m-1 0h0m0 7h0m-1-2h0m0-5h0m-1 4h0m-2 7h0m-1-11h0m1 12h0m2 9h0m0-2h0m1 0h0m1-6h0m3 5h0m1 2h0m2-1h0m0-1h0m1-6h0m2 10h0m5-9h0m5 9h0m1-1h0m0-6h0m3 8h0m9 0h0m3-1h0m1-2h0m6-4h0m3 4h0m3-7h0m1 9h0m1-10h0m1 9h0m1-1h0m12-1h0m4-5h0m1 5h0m0 4h0m5-2h0m4-6h0m1 7h0m3-5h0m0 3h0m2-1h0m0 0h0m2-2h0m2-4h0m10 4h0m1 4h0m1-6h0m1-2h0m1 1h0m6 0h0m2 2h0m1 1h0m4 5h0m2-2h0m0 1h0m2 0h0m5-7h0m117 8h0m2-10h0m223 6h0m1-3h0m1 0h0m1 8h0m2-10h0m0 7h0m1 2h0m5-2h0m3-7h0m3 7h0m3-8h0m8 6h0m1 1h0m0 2h0m1 0h0m9 11h0m-1-1h0m-1 4h0m-1 0h0m-3-5h0m-2 4h0m0-5h0m0-2h0m-1-1h0m-4 3h0m0 6h0m-5-4h0m-1 0h0m-1-3h0m0 1h0m-1 4h0m-3-5h0m-1 5h0m-1-4h0m0 1h0m-1 5h0m-2-11h0m-2 7h0m-4-3h0m-217 7h0m-2-1h0m-3 1h0m-2-3h0m-33 3h0m-74-6h0m-5 2h0m-1 3h0m-2 1h0m-2-6h0m-2 6h0m0-7h0m-3 6h0m-1-2h0m-4 1h0m-1-5h0m0 4h0m-9-7h0m0-1h0m-4 3h0m-11-2h0m-2 6h0m-1-6h0m0 2h0m-1-2h0m-4 2h0m-3-2h0m-5 2h0m-3 0h0m-10-2h0m-3 10h0m-5-9h0m-5 6h0m-6-1h0m-1 0h0m-4-2h0m-3-5h0m-1 10h0m-1 0h0m-1 1h0m-2-7h0m-3 5h0m-6-5h0m-3-4h0m0 8h0m-1-7h0m-1 5h0m0 5h0m-1-11h0m-1 4h0m0 2h0m-1 1h0m-1-3h0m0 6h0m-1-2h0m-2-3h0m-1-5h0m-2 8h0m0 0h0m-2-6h0m-1 5h0m-1-4h0m-1 3h0m-1-4h0m-1-1h0m-3 6h0m0-3h0m10 9h0m3 8h0m1-7h0m20 1h0m3 4h0m3-5h0m1-2h0m1 4h0m0 0h0m1-2h0m2 5h0m3-2h0m5-4h0m72-1h0m1 6h0m6-2h0m1 1h0m1-5h0m1 0h0m1 2h0m1 1h0m73 4h0m0 0h0m2 1h0m3-4h0m0 1h0m1-4h0m0-1h0m0 3h0m1 3h0m29 1h0m2-7h0m0 1h0m2 5h0m0-1h0m1 1h0m4-2h0m204 7h0m7-3h0m0-4h0m0 5h0m3-1h0m2-2h0m2 0h0m2-2h0m4-1h0m3 1h0m1 0h0m0 1h0m0 1h0m1-3h0m1 8h0m0-3h0m3 1h0m1 0h0m2-7h0m2 5h0m0-3h0m0 3h0m2 4h0m2-8h0m3 3h0m4-3h0m1 5h0m0-5h0m2-1h0m6 11h0m-6 1h0m-1 2h0m-1 5h0m0-7h0m0 6h0m-1-7h0m-1 6h0m-1-5h0m0 6h0m-5-5h0m-3 0h0m-2-3h0m-8 2h0m0 2h0m-4-1h0m-1 1h0m0 1h0m-5 5h0m0 0h0m-6-7h0m0 1h0m-1 3h0m-5-7h0m-5 6h0m0-3h0m-3 7h0m-3 0h0m-433-1h0m0 1h0m-2 1h0m-2-6h0m0-1h0m-2 7h0m0-10h0m-3 1h0m-2 8h0m0 1h0m0-4h0m-4 2h0m-2 1h0m-7 6h0m1 7h0m1-10h0m1 1h0m2 1h0m4 4h0m2-1h0m13-5h0m7 4h0m319 3h0m0-1h0m6 0h0m1-4h0m7 5h0m5-3h0m2 5h0m6 0h0m2-7h0m67 2h0m1 5h0m9-4h0m0-6h0m1 4h0m3 2h0m5-1h0m3-2h0m4 6h0m9-7h0m2 2h0m2 5h0m2-6h0m4 0h0m2 3h0m3 5h0m3-6h0m1 3h0m4-3h0m4-4h0m-10 14h0m-3 0h0m-2-3h0m-2 3h0m-3 6h0m-6-6h0m-5 5h0m-1 0h0m0-2h0m-11 2h0m-7 1h0m-7 0h0m-2-6h0m0 3h0m-74 1h0m-2 0h0m-1-7h0m-1 6h0m-2-3h0m-1 7h0m-1-3h0m-16 3h0m-2-5h0m-7 4h0m-1 2h0m-1-2h0m0-8h0m-2 9h0m-1-8h0m-2-2h0m-2 11h0m-1-7h0m-2 6h0m-3 0h0m-291 1h0m-1-9h0m-1 1h0m0 1h0m-1-1h0m-6-1h0m-6 4h0m0 1h0m-2-2h0m-1 6h0m-3-6h0m-2-1h0m-3-4h0m0 6h0m-4 3h0m-4-4h0m0-5h0m-1 4h0m-1-4h0m2 13h0m12-1h0m8 1h0m2 0h0m1 0h0m7-1h0m1 1h0m286 3h0m3-4h0m2 3h0m0 2h0m2 1h0m1-3h0m10-1h0m2 3h0m0 2h0m1 0h0m2 2h0m5-4h0m3-1h0m2-1h0m0 4h0m1 2h0m1-8h0m2 10h0m2 0h0m1-5h0m6-4h0m0 0h0m88 3h0m0-5h0m6 1h0m3 4h0m0-3h0m9 3h0m10-1h0m-142 8h0m-11 1h0m-76 22h0m4 10h0m-2 0h0m-3-3h0m0 3h0m-2-2h0m-11 1h0m-3 1h0m-1-1h0m-2 1h0m-2-1h0m-3 1h0m-14 1h0m-6-1h0m-2 2h0m-3-1h0m-1 1h0m-1-4h0m-4 12h0m4 2h0m1-3h0m0 0h0m0 5h0m4-1h0m2-3h0m5-3h0m2-4h0m2 1h0m1 2h0m0 0h0m1 2h0m8-5h0m0 11h0m5-11h0m2 1h0m2 1h0m4 2h0m2-2h0m0 0h0m4 0h0m4 2h0m2 5h0m3-8h0m2 2h0m3-3h0m97 22h0m-1-1h0m-100-8h0m-10 0h0m-1 1h0m-11-1h0m-16 0h0m-1 4h0m-8-1h0m0-1h0m-4-2h0m-5-1h0m-57 22h0m2 0h0m0-5h0m1 4h0m4-4h0m0 3h0m13 3h0m3-1h0m7 1h0m31-3h0m137-3h0m3-3h0m4 4h0m1-3h0m1 5h0m1-3h0m1 1h0m4-6h0m1 10h0m5-3h0m7 1h0m2 0h0m22 15h0m-19-8h0m-2 1h0m-3 7h0m-7-5h0m-4-2h0m-1-4h0m-1 7h0m0-5h0m-1 6h0m-1-8h0m-1 4h0m0 4h0m-7 1h0m-6 0h0m0-3h0m-1-4h0m-1 4h0m-2-2h0m-1 5h0m-4-6h0m-1 0h0m-5 2h0m-2 3h0m-2 1h0m-5 0h0m0 0h0m-1 2h0m-1-5h0m-3 2h0m-1 0h0m-5-1h0m-6-1h0m0-1h0m-2 6h0m-61-2h0m-2 2h0m-1-3h0m-1 3h0m-5-7h0m-3 7h0m-1 0h0m-13-6h0m-2 2h0m0 4h0m-2-5h0m-1 1h0m-1-5h0m-2 3h0m-2 2h0m-3 1h0m-3 1h0m-2 1h0m-2 0h0m-1-3h0m-1-2h0m0 6h0m-3 0h0m-1-8h0m-2 1h0m-2 1h0m0 6h0m-7-2h0m-2-8h0m-2 9h0m-1-7h0m-9-3h0m-1 5h0m-1-5h0m-3 11h0m-1 0h0m-2-4h0m-5-2h0m0-4h0m-1 10h0m0-1h0m-4-9h0m0 1h0m-2 6h0m-1-7h0m-6 6h0m6 11h0m3-6h0m1 2h0m0-1h0m4 10h0m1-6h0m2 4h0m0-7h0m0 6h0m3-8h0m9 6h0m1 0h0m5-3h0m1 4h0m1-2h0m0 4h0m1-2h0m0 1h0m8-7h0m1 4h0m3 1h0m3 1h0m1-3h0m1 2h0m3 4h0m3-6h0m1-2h0m1-1h0m2 0h0m4 4h0m5 1h0m0 4h0m1-5h0m2-4h0m3-1h0m1 7h0m0-7h0m1 8h0m0-3h0m3 3h0m7-8h0m0 7h0m0-5h0m2 7h0m4 0h0m2-2h0m2-4h0m0-3h0m2 5h0m1-5h0m0 9h0m1-7h0m2-1h0m1 9h0m0-8h0m1 7h0m4-6h0m0 7h0m2-7h0m2 3h0m8 3h0m0 2h0m1-9h0m2 5h0m1-1h0m0-4h0m1 9h0m18-1h0m0 1h0m3-3h0m0-7h0m2 8h0m0-4h0m3-1h0m13 1h0m2 3h0m0-2h0m1-4h0m1 5h0m1-4h0m19-3h0m3 4h0m7-4h0m4 4h0m3-1h0m1 0h0m1 2h0m12 1h0m7 4h0m1-6h0m4-1h0m1 3h0m0 5h0m9-8h0m0 6h0m7-9h0m2 1h0m1 0h0m3 6h0m1-3h0m3-2h0m1 7h0m3-5h0m-3 18h0m-1-10h0m-7 1h0m-3 8h0m-7-6h0m-2 1h0m0 2h0m-3-2h0m-1 1h0m-4 6h0m0-3h0m-2-4h0m-2-3h0m-3-1h0m-6 7h0m0-5h0m-1 0h0m0 9h0m0-7h0m-1 7h0m-1-7h0m0-1h0m-5 6h0m-1-7h0m-2 0h0m-51 2h0m-1-1h0m-1 7h0m-10-4h0m-11 3h0m-1-2h0m0-6h0m-5 5h0m-1 0h0m-1-4h0m0 4h0m-1 4h0m-1-9h0m-7 9h0m-3-2h0m0-6h0m-3 0h0m-16 0h0m-20 2h0m-11-4h0m-66 0h0m118 15h0m0 1h0m1-2h0m20 5h0m4 3h0m0-3h0m5-1h0m6 4h0m3-9h0m5 5h0m1 5h0m3-2h0m1 0h0m45-7h0m0 7h0m13 1h0m1-8h0m3-1h0m7 8h0m2-2h0m1-4h0m10 6h0m1-3h0m1 4h0m0-8h0m4 0h0m2 5h0m5-2h0m4 5h0m-16 7h0m0 6h0m-3-2h0m-8-1h0m-2-6h0m-2 1h0m-2-3h0m-1 8h0m-11-1h0m-1 0h0m0-1h0m-1-1h0m-7-1h0m-1 4h0m0 0h0m-2-6h0m-1 7h0m-2 0h0m-1 0h0m-2-8h0m0-1h0m-8 11h0m-2-3h0m-6-3h0m-1 1h0m0 0h0m-3 5h0m-1-4h0m0 0h0m-5-3h0m0-2h0m-1 9h0m0-4h0m-2-6h0m-6 4h0m-6-5h0m-5 3h0m0 3h0m-1-6h0m-3 11h0m-2-6h0m0 0h0m-1 3h0m-3-2h0m-3-6h0m0 3h0m-5 1h0m-2 2h0m19 8h0m9 5h0m1-6h0m0 3h0m1-3h0m0 4h0m2-2h0m0-1h0m3 1h0m6-3h0m0 1h0m3 0h0m2 7h0m5-8h0m2 0h0m4 1h0m4 3h0m3-3h0m2 8h0m3-1h0m0 1h0m3-9h0m5 0h0m0 6h0m4-4h0m2 2h0m1 2h0m0-1h0m7-5h0m9 0h0m2 1h0m1 5h0m3-3h0m0 6h0" stroke="#8a3ce8" stroke-width="4.2" stroke-linecap="round" fill="none"/>
<path transform="scale(0.25)" d="M2144 2290h0m0-4h0m-12 8h0m-4 4h0m-3 0h0m-3 3h0m-4-3h0m-126-3h0m-1 6h0m-13 13h0m8-3h0m3-1h0m3-4h0m145 12h0m-4 16h0m2 0h0m63 2h0m11 2h0m5-5h0m2 18h0m-24-7h0m1 19h0m5 0h0m4-1h0m6-10h0m3 9h0m19-5h0m6-2h0m7-2h0m9 3h0m11 4h0m112 1h0m2-4h0m-7 15h0m-92 4h0m-10-1h0m-21-5h0m-1 3h0m-5-4h0m-39-2h0m-9 1h0m-1-3h0m-71 7h0m-4-1h0m-7 0h0m-10-1h0m-2 4h0m-17 5h0m14 2h0m6 4h0m4-8h0m0 11h0m48-5h0m1 2h0m2-2h0m7 3h0m17-8h0m1 1h0m1-1h0m8 3h0m6-1h0m38-2h0m14 10h0m4-8h0m1 8h0m1-9h0m2 8h0m1-2h0m110-8h0m2 8h0m3 1h0m2 2h0m3-7h0m2 0h0m4-1h0m-5 16h0m-8 2h0m-76-2h0m-4 4h0m-28-6h0m-21 3h0m-45 3h0m-5-7h0m-40-2h0m-92-2h0m-20 7h0m-8-4h0m13 17h0m2-5h0m3 1h0m2 1h0m11-3h0m3 1h0m1 8h0m77-8h0m4 0h0m33 0h0m71 1h0m7-2h0m5 0h0m2 6h0m20 1h0m93-7h0m5 7h0m1-7h0m9 18h0m-3-1h0m-20 4h0m-6-3h0m-6-3h0m-99-4h0m-69 3h0m-6 5h0m-11 1h0m-22-6h0m-1 3h0m-92-2h0m-11 18h0m30-1h0m110-8h0m71 5h0m12-5h0m4-2h0m17 7h0m6 1h0m29 2h0m3-7h0m4-2h0m5 2h0m28 0h0m18-2h0m7 8h0m-5 9h0m-16-2h0m-2 2h0m-9-4h0m-8-1h0m-5 1h0m-1 1h0m-9-1h0m-19 5h0m-5 0h0m-13 4h0m-15-2h0m-8-8h0m-3 5h0m-2 2h0m-5-8h0m-29 7h0m-155-5h0m-2 5h0m-3-5h0m-4 6h0m0-8h0m-2 11h0m-2-11h0m0 11h0m-3-4h0m-190-5h0m-15 3h0m9 12h0m2-2h0m16 7h0m13-1h0m2-3h0m10-5h0m129 2h0m3 0h0m4 3h0m1-4h0m6 0h0m1 0h0m12 7h0m7-6h0m13 2h0m60 1h0m50-2h0m21-2h0m18 7h0m23-4h0m50-5h0m3 3h0m16 2h0m2 2h0m0 1h0m13-4h0m3-1h0m-24 18h0m-81-5h0m-14-2h0m-21 4h0m-4-1h0m-9 6h0m-3-4h0m-3-5h0m-35-2h0m-68 1h0m-85 6h0m-2-5h0m-14 4h0m-41-5h0m-9 1h0m-16 8h0m0-4h0m-3 0h0m-3-1h0m-1-3h0m-5 8h0m-14-5h0m-2-1h0m-4 7h0m-21-4h0m-3-2h0m-2 6h0m-1 5h0m2 4h0m12-5h0m20-1h0m3 0h0m7 0h0m6 3h0m23 0h0m15 1h0m9 2h0m9-5h0m3-1h0m96 4h0m32 3h0m222-4h0m4-5h0m8 10h0m12-10h0m7 1h0m4 18h0m-3 4h0m-4-9h0m-6 2h0m-4 2h0m-226 5h0m-6-6h0m-5-4h0m-150 2h0m-7 1h0m-8 2h0m-2 0h0m0-2h0m-8 6h0m-4 1h0m0-8h0m-54 0h0m-2 14h0m2 2h0m3-1h0m1 5h0m18-8h0m13 5h0m11-7h0m11 2h0m52 6h0m129-8h0m2 5h0m5 1h0m217-6h0m1 5h0m10 0h0m12-2h0m1 5h0m1-6h0m12 13h0m-7-3h0m-355 10h0m-10-5h0m-8 1h0m-28-5h0m-27 4h0m-7 1h0m-9-5h0m-6 7h0m-2-9h0m-6 1h0m-7-1h0m-16 9h0m-6-7h0m1 16h0m30-2h0m7-1h0m79-2h0m13 4h0m4-5h0m72 6h0m2-4h0m28-2h0m9 1h0m1 4h0m232 1h0m5 3h0m14-9h0m6 1h0m-11 15h0m-15 5h0m-6-2h0m-3-4h0m-3 7h0m-3 0h0m-14-1h0m-455 2h0m-2 3h0m26 7h0m1-2h0m316 4h0m25-2h0m2-1h0m73 2h0m0-4h0m40-1h0m3 2h0m10 4h0m0 2h0m-22 0h0m-4-1h0m-4 8h0m-19-2h0m-419-1h0m-8-2h0m-3 3h0m-5 2h0m-10 2h0m-6-4h0m-1-6h0m359 21h0m4-3h0m2 2h0m98-8h0m14 7h0m8-6h0m-229 39h0m-5 3h0m-1-2h0m-37 5h0m-11 1h0m3 2h0m9 4h0m30 1h0m14 6h0m-16 2h0m-22-1h0m-7 3h0m-2-3h0m-4-1h0m-53 19h0m198 3h0m13-2h0m8 3h0m4-1h0m14 7h0m-6 6h0m-8-8h0m-6 3h0m-21 2h0m-17-4h0m-1 1h0m-7-1h0m-13 2h0m-8 1h0m-55-4h0m-19 7h0m-9-7h0m-9 6h0m-8-6h0m-2 7h0m-10-2h0m-14 1h0m-3-1h0m-2-6h0m-10 2h0m-1 0h0m-13-4h0m-6 14h0m3 1h0m14 6h0m29-3h0m17 1h0m29 2h0m2-5h0m2 1h0m17 2h0m18-2h0m4-3h0m2 0h0m18-2h0m6 6h0m6-1h0m26-4h0m6 3h0m47 7h0m11 11h0m-7-9h0m-10 1h0m-35 1h0m-4-1h0m-51 6h0m-3 3h0m-2-4h0m-3 3h0m-6 0h0m-16-6h0m-11 6h0m-1-3h0m6 16h0m26-8h0m7 2h0m56-2h0m19-3h0m10 3h0m3 7h0m2 9h0m-9 0h0m-9-6h0m-4 0h0m-10 5h0m-24-4h0m-38 6h0m11 5h0m8-1h0m4 2h0m43 4h0m11-3h0m2-2h0" stroke="#2a2aff" stroke-width="4.2" stroke-linecap="round" fill="none"/>
<path transform="scale(0.25)" d="M1976 2291h0m12-2h0m150 11h0m-10-5h0m-137 11h0m120 5h0m20 1h0m2-4h0m6-1h0m-36 24h0m94 8h0m2 0h0m22 1h0m-4 15h0m14 4h0m18-2h0m1 1h0m2-3h0m3 3h0m3 4h0m5-5h0m1 3h0m14-2h0m8 15h0m-41-2h0m-41-7h0m-7 8h0m-102 0h0m14 9h0m38 4h0m8-9h0m19 1h0m91-1h0m1 2h0m24 1h0m93-3h0m8 0h0m4 9h0m-3 11h0m-14-8h0m-87 0h0m-27 7h0m-1-5h0m-16 1h0m-58 5h0m-152-7h0m103 16h0m134 1h0m118 8h0m-193 4h0m-9 4h0m-11-5h0m-122-5h0m28 23h0m9-2h0m166-1h0m13-8h0m70 3h0m2 7h0m3-2h0m9 13h0m-3-1h0m-2 3h0m-29-7h0m-58-2h0m-13 7h0m-4-1h0m-7-7h0m-335 4h0m-37-5h0m7 14h0m181 6h0m14 3h0m15 0h0m2-11h0m121 7h0m15 3h0m3-1h0m93-7h0m22-2h0m-6 18h0m-2 5h0m-30-8h0m-83 4h0m-18-1h0m-148-4h0m-84 7h0m-18-3h0m-2-1h0m-41-4h0m-17 6h0m-1 0h0m-8-6h0m-19-1h0m-2 0h0m-1 5h0m32 12h0m9 0h0m98-5h0m199 6h0m50-5h0m91 2h0m10 8h0m-355 4h0m-118-2h0m-9 1h0m-1-1h0m1 15h0m17 2h0m4 3h0m14 2h0m3-2h0m0 0h0m75 1h0m348-10h0m7 8h0m1 0h0m3-4h0m13 15h0m-355 3h0m-4-5h0m-3 5h0m-7 1h0m-6-2h0m-13-5h0m-43 4h0m-5 5h0m162 2h0m34-3h0m259 16h0m-34 7h0m-2 0h0m-462-5h0m-1-2h0m8 11h0m7 5h0m425 0h0m5 2h0m-106 12h0m-347-1h0m27 3h0m324 10h0m3-5h0m104-4h0m-207 58h0m-18 3h0m-103 19h0m22 2h0m20-4h0m165 4h0m10-7h0m-60 19h0m-97-5h0m-3 4h0m-7-9h0m-20 3h0m-28 17h0m47-2h0m22-4h0m41 1h0m12 3h0m20-2h0m25 0h0m0-1h0m10-1h0m27 6h0m16-5h0m11 2h0m13 7h0m0 7h0m-127 7h0m18-1h0m59 9h0m32-6h0m19 6h0m11-9h0m-31 21h0m-21-10h0m-50 10h0m2 7h0m20-1h0m23-3h0" stroke="#ff1010" stroke-width="4.2" stroke-linecap="round" fill="none"/>
<rect x="454.5" y="564.2" width="157.6" height="123.6" fill="none" stroke="#000" stroke-width="1.35" rx="1.6"/>
<line x1="479.5" y1="687.8" x2="479.5" y2="690" stroke="#000" stroke-width="1"/>
<text x="479.5" y="698.6" font-size="7.6" text-anchor="middle">−10</text>
<line x1="452.3" y1="669" x2="454.5" y2="669" stroke="#000" stroke-width="1"/>
<line x1="507.75" y1="687.8" x2="507.75" y2="690" stroke="#000" stroke-width="1"/>
<text x="507.75" y="698.6" font-size="7.6" text-anchor="middle">−5</text>
<line x1="452.3" y1="646.35" x2="454.5" y2="646.35" stroke="#000" stroke-width="1"/>
<line x1="536" y1="687.8" x2="536" y2="690" stroke="#000" stroke-width="1"/>
<text x="536" y="698.6" font-size="7.6" text-anchor="middle">0</text>
<line x1="452.3" y1="623.7" x2="454.5" y2="623.7" stroke="#000" stroke-width="1"/>
<line x1="564.25" y1="687.8" x2="564.25" y2="690" stroke="#000" stroke-width="1"/>
<text x="564.25" y="698.6" font-size="7.6" text-anchor="middle">5</text>
<line x1="452.3" y1="601.05" x2="454.5" y2="601.05" stroke="#000" stroke-width="1"/>
<line x1="592.5" y1="687.8" x2="592.5" y2="690" stroke="#000" stroke-width="1"/>
<text x="592.5" y="698.6" font-size="7.6" text-anchor="middle">10</text>
<line x1="452.3" y1="578.4" x2="454.5" y2="578.4" stroke="#000" stroke-width="1"/>
<text x="533.3" y="708.3" font-size="8.8" text-anchor="middle">UMAP 1</text>
<defs><linearGradient id="gl" x1="0" y1="0" x2="0" y2="1"><stop offset="0" stop-color="#ff0000"/><stop offset="0.35" stop-color="#ff0000"/><stop offset="0.5" stop-color="#8a3ce8"/><stop offset="0.68" stop-color="#6e2ee2"/><stop offset="0.84" stop-color="#0000ff"/><stop offset="1" stop-color="#0000ff"/></linearGradient></defs>
<rect x="580.7" y="651" width="6.8" height="34.6" fill="url(#gl)"/>
<line x1="585.9" y1="655.5" x2="587.1" y2="655.5" stroke="#fff" stroke-width="0.8"/>
<text x="590.4" y="658.2" font-size="7.6">0.05</text>
<line x1="585.9" y1="664" x2="587.1" y2="664" stroke="#fff" stroke-width="0.8"/>
<text x="590.4" y="666.7" font-size="7.6">0.00</text>
<line x1="585.9" y1="673.6" x2="587.1" y2="673.6" stroke="#fff" stroke-width="0.8"/>
<text x="590.4" y="676.3" font-size="7.6">−0.05</text>
<line x1="585.9" y1="682.5" x2="587.1" y2="682.5" stroke="#fff" stroke-width="0.8"/>
<text x="590.4" y="685.2" font-size="7.6">−0.10</text>
<text x="376.6" y="556.7" font-size="15.5" fill="#000" font-weight="bold">k</text>
<rect x="405.6" y="564.2" width="32.8" height="123.4" fill="none" stroke="#000" stroke-width="1.35" rx="1.6"/>
<path d="M414.32 569.5 C414.36 572.92 414.32 582.92 414.32 590 C414.32 597.08 414.21 606.83 414.32 612 C414.43 617.17 414.77 618 415 621 C415.23 624 415.37 626.83 415.7 630 C416.03 633.17 416.58 637 417 640 C417.42 643 417.93 645.83 418.2 648 C418.47 650.17 418.6 651.33 418.6 653 C418.6 654.67 418.35 656.33 418.2 658 C418.05 659.67 417.62 661.5 417.7 663 C417.78 664.5 418.23 665.75 418.7 667 C419.17 668.25 420.08 669.5 420.5 670.5 C420.92 671.5 421.18 672.08 421.2 673 C421.22 673.92 421 675 420.6 676 C420.2 677 419.45 678.08 418.8 679 C418.15 679.92 417.45 680.73 416.7 681.5 C415.95 682.27 414.76 683.25 414.32 683.6 C413.88 683.95 414.52 683.95 414.08 683.6 C413.64 683.25 412.45 682.27 411.7 681.5 C410.95 680.73 410.25 679.92 409.6 679 C408.95 678.08 408.2 677 407.8 676 C407.4 675 407.18 673.92 407.2 673 C407.22 672.08 407.48 671.5 407.9 670.5 C408.32 669.5 409.23 668.25 409.7 667 C410.17 665.75 410.62 664.5 410.7 663 C410.78 661.5 410.35 659.67 410.2 658 C410.05 656.33 409.8 654.67 409.8 653 C409.8 651.33 409.93 650.17 410.2 648 C410.47 645.83 410.98 643 411.4 640 C411.82 637 412.37 633.17 412.7 630 C413.03 626.83 413.17 624 413.4 621 C413.63 618 413.97 617.17 414.08 612 C414.19 606.83 414.08 597.08 414.08 590 C414.08 582.92 414.04 572.92 414.08 569.5 C414.12 566.08 414.28 566.08 414.32 569.5Z" stroke="#000" stroke-width="1" fill="#a6cd59"/>
<line x1="409.6" y1="658.8" x2="418.9" y2="658.8" stroke="#111" stroke-width="1.4" stroke-dasharray="1.3 0.9"/>
<path d="M429.22 591.5 C429.26 594.58 429.22 604.08 429.22 610 C429.22 615.92 429.06 622.67 429.22 627 C429.38 631.33 429.92 633 430.2 636 C430.48 639 430.67 642.33 430.9 645 C431.13 647.67 431.4 649.83 431.6 652 C431.8 654.17 431.92 656.17 432.1 658 C432.28 659.83 432.4 661.5 432.7 663 C433 664.5 433.47 665.83 433.9 667 C434.33 668.17 434.95 669 435.3 670 C435.65 671 435.98 672 436 673 C436.02 674 435.8 675 435.4 676 C435 677 434.23 678.17 433.6 679 C432.97 679.83 432.33 680.4 431.6 681 C430.87 681.6 429.66 682.33 429.22 682.6 C428.78 682.87 429.42 682.87 428.98 682.6 C428.54 682.33 427.33 681.6 426.6 681 C425.87 680.4 425.23 679.83 424.6 679 C423.97 678.17 423.2 677 422.8 676 C422.4 675 422.18 674 422.2 673 C422.22 672 422.55 671 422.9 670 C423.25 669 423.87 668.17 424.3 667 C424.73 665.83 425.2 664.5 425.5 663 C425.8 661.5 425.92 659.83 426.1 658 C426.28 656.17 426.4 654.17 426.6 652 C426.8 649.83 427.07 647.67 427.3 645 C427.53 642.33 427.72 639 428 636 C428.28 633 428.82 631.33 428.98 627 C429.14 622.67 428.98 615.92 428.98 610 C428.98 604.08 428.94 594.58 428.98 591.5 C429.02 588.42 429.18 588.42 429.22 591.5Z" stroke="#000" stroke-width="1" fill="#a8e2e3"/>
<line x1="427" y1="667.4" x2="432.7" y2="667.4" stroke="#111" stroke-width="1.4" stroke-dasharray="1.3 0.9"/>
<text x="421.4" y="579.4" font-size="7.3" text-anchor="middle" fill="#222">****</text>
<line x1="416.1" y1="578.5" x2="426.8" y2="578.5" stroke="#111" stroke-width="0.9"/>
<line x1="403.6" y1="584.8" x2="405.6" y2="584.8" stroke="#000" stroke-width="1"/>
<text x="401.6" y="587.5" font-size="7.6" text-anchor="end">0.2</text>
<line x1="403.6" y1="621.4" x2="405.6" y2="621.4" stroke="#000" stroke-width="1"/>
<text x="401.6" y="624.1" font-size="7.6" text-anchor="end">0.1</text>
<line x1="403.6" y1="657.6" x2="405.6" y2="657.6" stroke="#000" stroke-width="1"/>
<text x="401.6" y="660.3" font-size="7.6" text-anchor="end">0.0</text>
<line x1="414.2" y1="687.6" x2="414.2" y2="689.6" stroke="#000" stroke-width="1"/>
<text x="414.2" y="699.3" font-size="7.6" text-anchor="middle">EX</text>
<line x1="429.1" y1="687.6" x2="429.1" y2="689.6" stroke="#000" stroke-width="1"/>
<text x="429.1" y="699.3" font-size="7.6" text-anchor="middle">IN</text>
<text x="384.6" y="627" font-size="8.8" text-anchor="middle" transform="rotate(-90 384.6 627)">Relative Expression</text>
<text x="613.9" y="556.7" font-size="15.5" fill="#000" font-weight="bold">m</text>
<rect x="649.4" y="563.8" width="34.1" height="123.8" fill="none" stroke="#000" stroke-width="1.35" rx="1.6"/>
<path d="M658.42 584.4 C658.46 587 658.24 595.73 658.42 600 C658.6 604.27 659.15 607.33 659.5 610 C659.85 612.67 660.03 613.5 660.5 616 C660.97 618.5 661.7 622.17 662.3 625 C662.9 627.83 663.62 630.33 664.1 633 C664.58 635.67 665.2 638.5 665.2 641 C665.2 643.5 664.58 645.67 664.1 648 C663.62 650.33 662.88 652.67 662.3 655 C661.72 657.33 661.07 660 660.6 662 C660.13 664 659.86 664.83 659.5 667 C659.14 669.17 658.6 672.2 658.42 675 C658.24 677.8 658.46 682.33 658.42 683.8 C658.38 685.27 658.22 685.27 658.18 683.8 C658.14 682.33 658.36 677.8 658.18 675 C658 672.2 657.46 669.17 657.1 667 C656.74 664.83 656.47 664 656 662 C655.53 660 654.88 657.33 654.3 655 C653.72 652.67 652.98 650.33 652.5 648 C652.02 645.67 651.4 643.5 651.4 641 C651.4 638.5 652.02 635.67 652.5 633 C652.98 630.33 653.7 627.83 654.3 625 C654.9 622.17 655.63 618.5 656.1 616 C656.57 613.5 656.75 612.67 657.1 610 C657.45 607.33 658 604.27 658.18 600 C658.36 595.73 658.14 587 658.18 584.4 C658.22 581.8 658.38 581.8 658.42 584.4Z" stroke="#000" stroke-width="1" fill="#a6cd59"/>
<line x1="652" y1="641" x2="665" y2="641" stroke="#111" stroke-width="1.4" stroke-dasharray="1.3 0.9"/>
<path d="M673.32 569.1 C673.36 571.75 673.14 580.85 673.32 585 C673.5 589.15 674.05 591.5 674.4 594 C674.75 596.5 674.97 597.67 675.4 600 C675.83 602.33 676.5 605.33 677 608 C677.5 610.67 677.95 613.33 678.4 616 C678.85 618.67 679.41 621.75 679.7 624 C679.99 626.25 680.2 627.5 680.15 629.5 C680.1 631.5 679.79 633.75 679.4 636 C679.01 638.25 678.37 640.67 677.8 643 C677.23 645.33 676.52 647.83 676 650 C675.48 652.17 675.05 654 674.7 656 C674.35 658 674.13 658.95 673.9 662 C673.67 665.05 673.46 672.25 673.32 674.3 C673.18 676.35 673.22 676.35 673.08 674.3 C672.94 672.25 672.73 665.05 672.5 662 C672.27 658.95 672.05 658 671.7 656 C671.35 654 670.92 652.17 670.4 650 C669.88 647.83 669.17 645.33 668.6 643 C668.03 640.67 667.39 638.25 667 636 C666.61 633.75 666.3 631.5 666.25 629.5 C666.2 627.5 666.41 626.25 666.7 624 C666.99 621.75 667.55 618.67 668 616 C668.45 613.33 668.9 610.67 669.4 608 C669.9 605.33 670.57 602.33 671 600 C671.43 597.67 671.65 596.5 672 594 C672.35 591.5 672.9 589.15 673.08 585 C673.26 580.85 673.04 571.75 673.08 569.1 C673.12 566.45 673.28 566.45 673.32 569.1Z" stroke="#000" stroke-width="1" fill="#ace3e3"/>
<line x1="667" y1="629.5" x2="679.6" y2="629.5" stroke="#111" stroke-width="1.4" stroke-dasharray="1.3 0.9"/>
<text x="665.95" y="577.9" font-size="7.3" text-anchor="middle" fill="#222">****</text>
<line x1="660.6" y1="577.7" x2="671.3" y2="577.7" stroke="#111" stroke-width="0.9"/>
<line x1="647.4" y1="584.2" x2="649.4" y2="584.2" stroke="#000" stroke-width="1"/>
<text x="646.2" y="586.9" font-size="7.6" text-anchor="end">0.05</text>
<line x1="647.4" y1="614.9" x2="649.4" y2="614.9" stroke="#000" stroke-width="1"/>
<text x="646.2" y="617.6" font-size="7.6" text-anchor="end">0.00</text>
<line x1="647.4" y1="645.1" x2="649.4" y2="645.1" stroke="#000" stroke-width="1"/>
<text x="646.2" y="647.8" font-size="7.6" text-anchor="end">−0.05</text>
<line x1="647.4" y1="675.2" x2="649.4" y2="675.2" stroke="#000" stroke-width="1"/>
<text x="646.2" y="677.9" font-size="7.6" text-anchor="end">−0.10</text>
<line x1="658.3" y1="687.6" x2="658.3" y2="689.6" stroke="#000" stroke-width="1"/>
<text x="658.3" y="699.3" font-size="7.6" text-anchor="middle">EX</text>
<line x1="673.2" y1="687.6" x2="673.2" y2="689.6" stroke="#000" stroke-width="1"/>
<text x="673.2" y="699.3" font-size="7.6" text-anchor="middle">IN</text>
<text x="623.4" y="626.5" font-size="8.8" text-anchor="middle" transform="rotate(-90 623.4 626.5)">Relative Expression</text>
</svg>
</body></html>
